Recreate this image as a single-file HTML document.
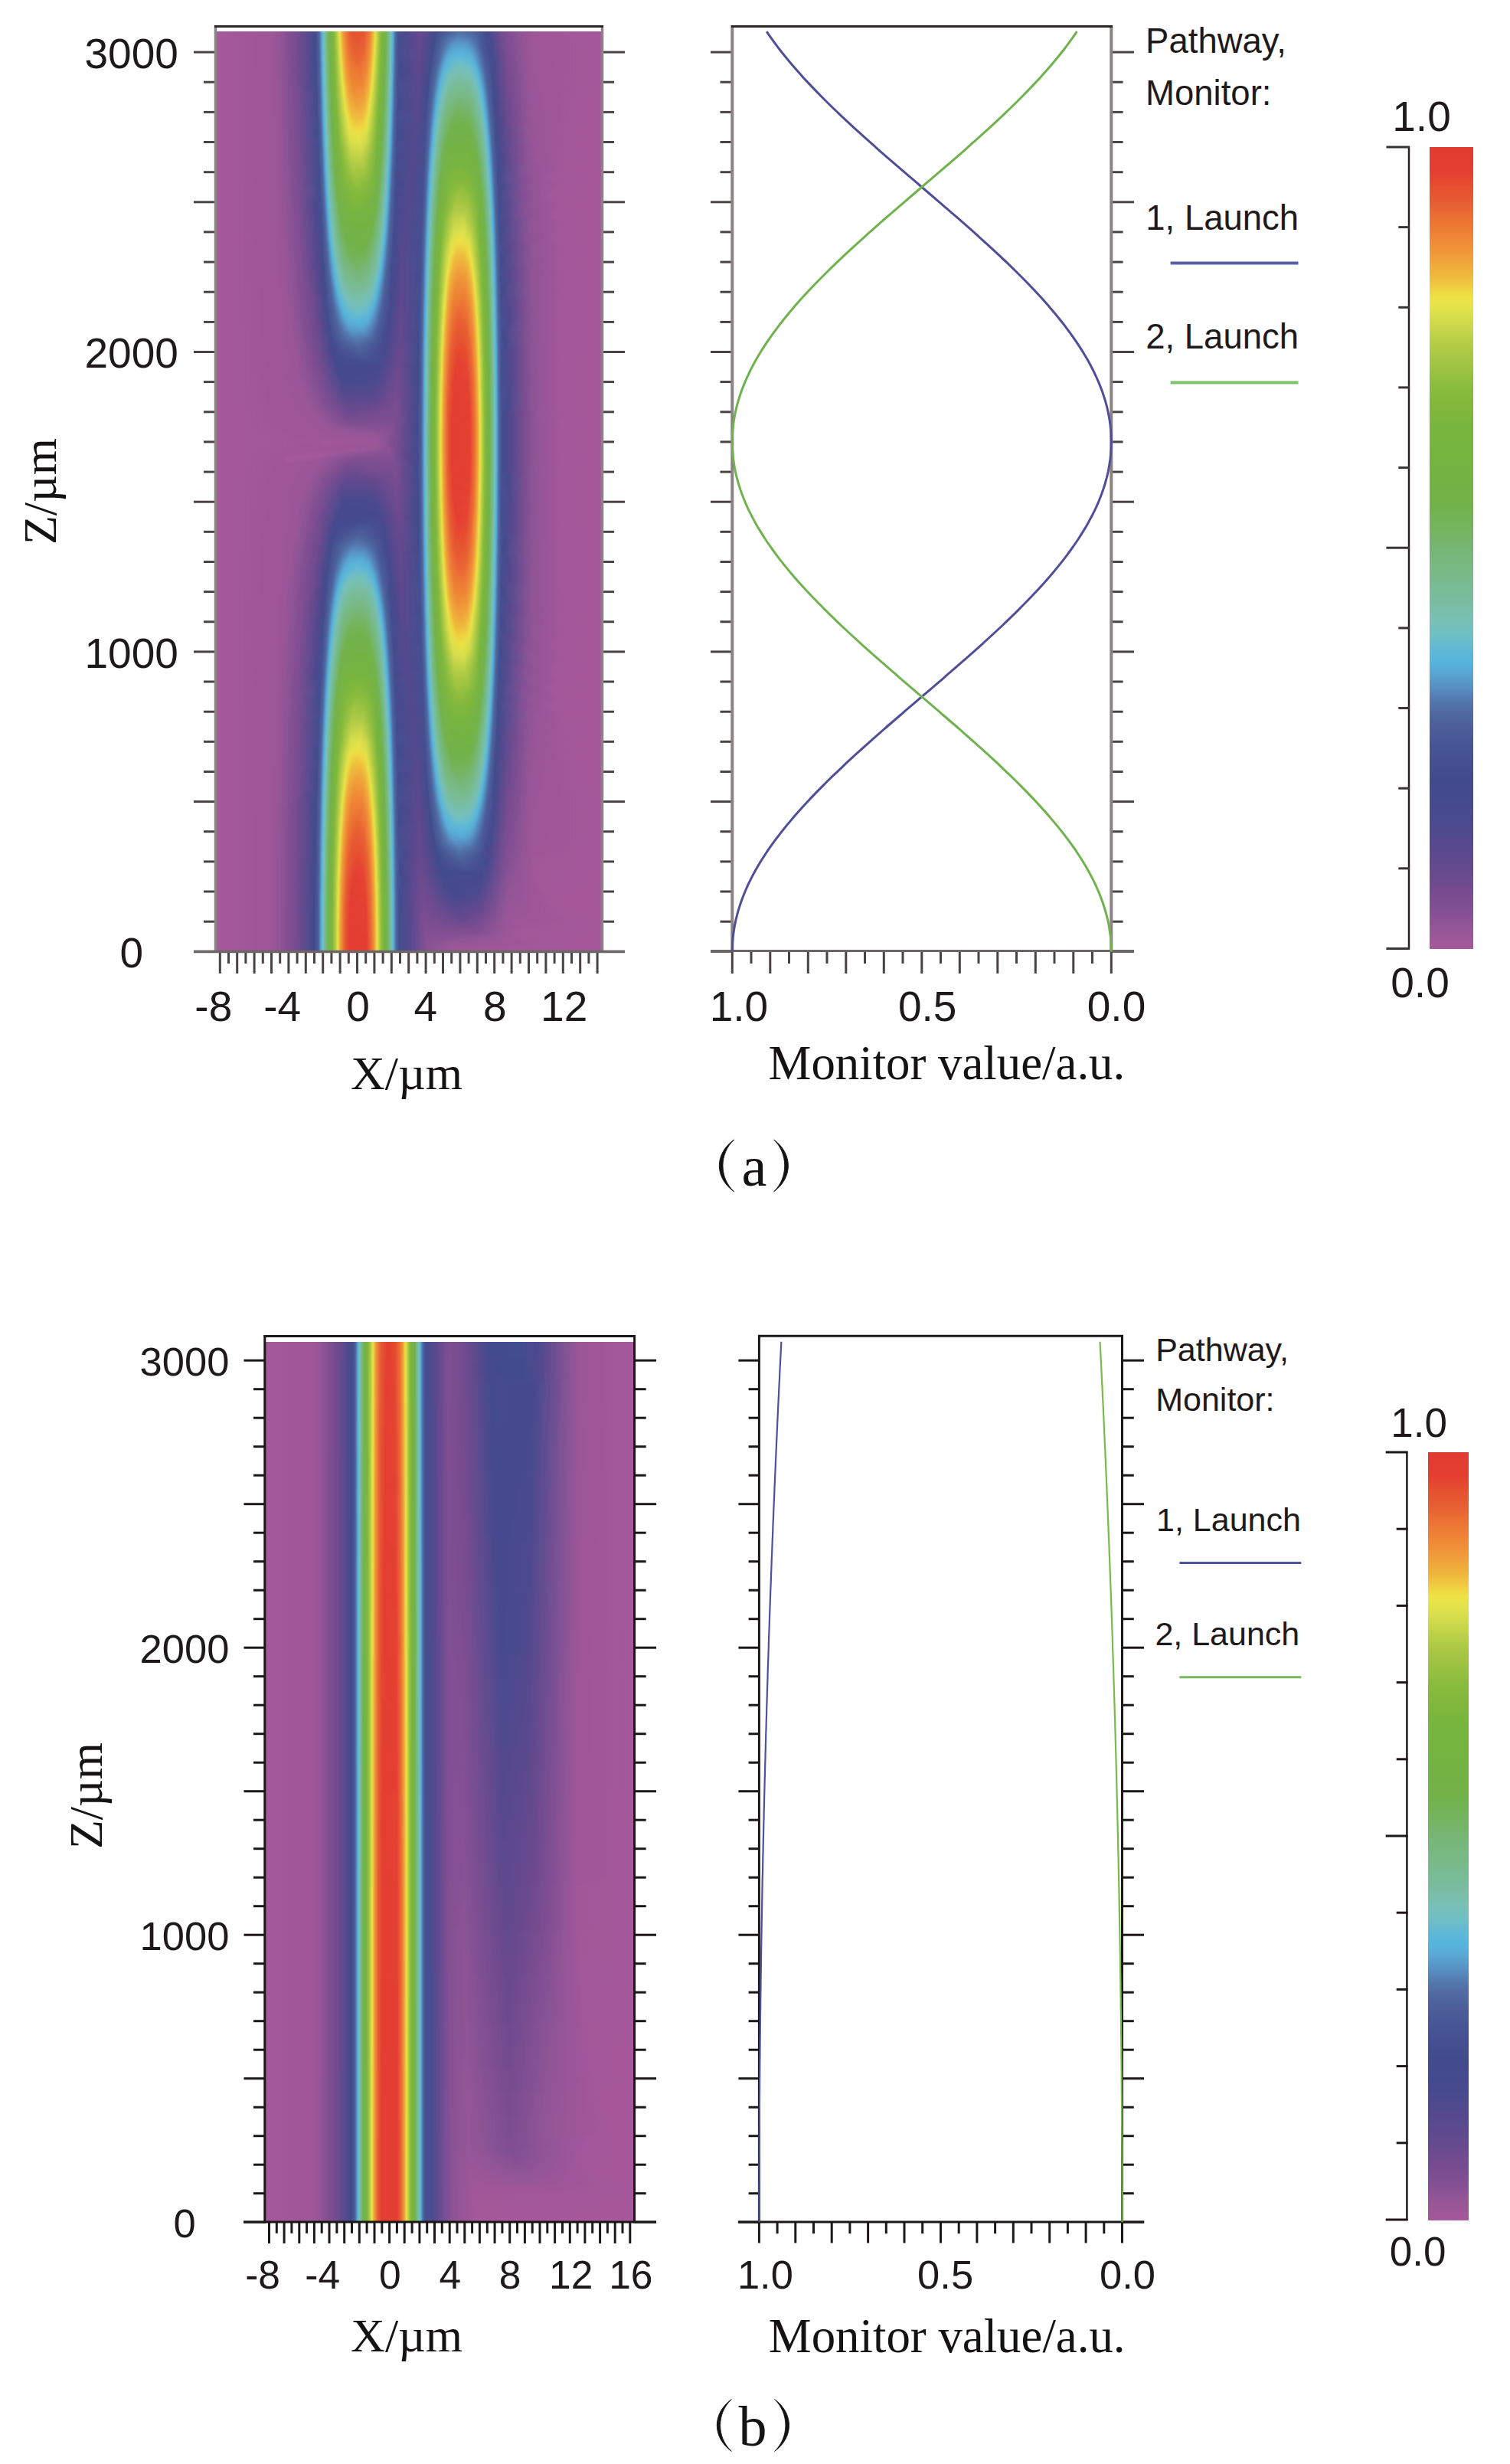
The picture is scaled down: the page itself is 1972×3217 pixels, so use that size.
<!DOCTYPE html>
<html><head><meta charset="utf-8"><style>
html,body{margin:0;padding:0;background:#fff;}
body{width:1972px;height:3217px;position:relative;overflow:hidden;}
.hm{position:absolute;overflow:hidden;}
.hm i{position:absolute;left:0;width:100%;display:block;}
.hmi{position:absolute;left:0;top:-10px;width:100%;filter:url(#vb);}
.cb{position:absolute;}
svg{position:absolute;left:0;top:0;}
</style></head><body>
<svg width="0" height="0" style="position:absolute"><filter id="vb" x="-2%" y="-2%" width="104%" height="104%"><feGaussianBlur stdDeviation="0.6 3"/></filter></svg>
<div class="hm" style="left:281px;top:41px;width:505px;height:1202px"><div class="hmi" style="height:1222px">
<i style="top:0px;height:4px;background:linear-gradient(90deg,#a6589b 0,#9d5798 76px,#764c90 106px,#414b8c 131px,#4c5d99 135px,#5379af 137px,#59abd7 139px,#5cb7d8 140px,#78c0b6 142px,#72b248 149px,#7cb63c 154px,#a8c743 158px,#e8e347 162px,#f09338 167px,#e65831 175px,#e54730 186px,#e65931 197px,#ef8d37 204px,#efc73f 208px,#eede44 209px,#d4db4b 211px,#88bb3c 216px,#74b43f 220px,#72b24b 223px,#74bfbd 230px,#57b5dd 232px,#5272a8 235px,#475495 238px,#454a8e 245px,#694a8e 268px,#424b8c 290px,#4e619c 323px,#454a8f 355px,#804f92 379px,#a05899 415px,#a6589b 504px)"></i>
<i style="top:4px;height:4px;background:linear-gradient(90deg,#a6589b 0,#9d5798 76px,#764c90 106px,#414b8c 131px,#4c5d99 135px,#5378ae 137px,#59aad6 139px,#5bb7d9 140px,#78c0b7 142px,#72b248 149px,#7bb63c 154px,#99c141 157px,#e6e248 162px,#efc23e 164px,#ef8b37 168px,#e65a31 175px,#e54a2f 187px,#e76032 198px,#f09b3a 205px,#f0ca40 208px,#ede245 209px,#bed248 212px,#80b73b 217px,#72b24d 223px,#74bfbd 230px,#57b5dd 232px,#5171a8 235px,#475494 238px,#464a8f 246px,#684a8e 268px,#424b8c 289px,#4f67a0 320px,#464a8f 356px,#804f92 379px,#a05899 415px,#a6589b 504px)"></i>
<i style="top:8px;height:3px;background:linear-gradient(90deg,#a6589b 0,#9d5798 76px,#764c90 106px,#414b8c 131px,#4c5c99 135px,#5377ad 137px,#59a9d5 139px,#5ab7da 140px,#77c0b8 142px,#72b249 149px,#7bb63c 154px,#98c140 157px,#e4e249 162px,#eedc43 163px,#f0a53b 166px,#eb6d34 172px,#e6522f 179px,#e65230 193px,#ea6933 199px,#f09d3a 205px,#ece346 209px,#adc944 213px,#7fb73c 217px,#72b24e 223px,#73bfbe 230px,#56b5de 232px,#5170a7 235px,#465494 238px,#484a8f 247px,#67498d 268px,#424b8c 288px,#516ea5 319px,#4b5b98 340px,#454a8e 356px,#7f4f92 379px,#9f5799 415px,#a6589b 504px)"></i>
<i style="top:11px;height:3px;background:linear-gradient(90deg,#a6589b 0,#9d5798 76px,#774c90 106px,#414b8c 131px,#4f679f 136px,#5790c3 138px,#59a8d5 139px,#5ab6da 140px,#77c0b9 142px,#72b249 149px,#7ab63c 154px,#96c040 157px,#e2e249 162px,#eedf44 163px,#f0a73b 166px,#ec7034 172px,#e65530 178px,#e6522f 192px,#eb6b34 199px,#f09f3b 205px,#eae346 209px,#9fc342 214px,#77b53d 218px,#73b34f 223px,#73bfbf 230px,#56b4dd 232px,#5170a6 235px,#465394 238px,#484a8f 247px,#66498d 268px,#414b8c 288px,#5275ab 318px,#4f669f 336px,#444a8e 356px,#7f4f92 380px,#9f5799 415px,#a6589b 504px)"></i>
<i style="top:14px;height:2px;background:linear-gradient(90deg,#a6589b 0,#9d5798 76px,#774c90 106px,#414b8c 131px,#4f669f 136px,#578fc2 138px,#5ab6da 140px,#76c0b9 142px,#72b249 149px,#7ab63d 154px,#96c040 157px,#e1e24a 162px,#ede145 163px,#efa93b 166px,#ec7134 172px,#e65430 179px,#e65731 194px,#ed7a35 201px,#efaf3c 206px,#e9e347 209px,#9ec342 214px,#77b53d 218px,#73b34f 223px,#79bfaf 229px,#56b4dd 232px,#516fa6 235px,#445091 239px,#53498e 252px,#65498d 268px,#414b8c 287px,#5379af 317px,#506ba2 335px,#444a8e 356px,#7f4f92 380px,#9f5799 415px,#a6589b 504px)"></i>
<i style="top:16px;height:2px;background:linear-gradient(90deg,#a6589b 0,#9d5798 76px,#774c90 106px,#414b8c 131px,#4f669f 136px,#578ec2 138px,#59b6db 140px,#76c0ba 142px,#72b24a 149px,#81b83b 155px,#bfd248 160px,#ede345 163px,#efaa3b 166px,#ec7234 172px,#e65530 179px,#e65831 194px,#ee8335 202px,#efc13e 207px,#e8e347 209px,#9dc342 214px,#77b53d 218px,#73b350 223px,#79bfaf 229px,#57b3dd 232px,#516fa6 235px,#445091 239px,#53498e 252px,#65498d 268px,#414b8c 287px,#5580b5 318px,#5171a8 334px,#434b8d 355px,#6f4a8e 372px,#9d5798 410px,#a6589b 504px)"></i>
<i style="top:18px;height:2px;background:linear-gradient(90deg,#a6589b 0,#9d5798 76px,#774c90 106px,#414b8c 131px,#4f669f 136px,#578ec1 138px,#59b6db 140px,#76c0ba 142px,#72b24a 149px,#80b83b 155px,#bdd248 160px,#ece345 163px,#f09f3a 167px,#eb6d34 173px,#e65530 180px,#e65931 194px,#ee8436 202px,#efc23e 207px,#e7e347 209px,#85b93b 216px,#74b440 220px,#73b351 223px,#79bfb0 229px,#57b3dc 232px,#516fa5 235px,#445091 239px,#55498e 253px,#64498d 268px,#424b8c 286px,#5378ae 308px,#5686bb 323px,#4f68a0 339px,#434b8d 356px,#7e4e92 380px,#9f5799 415px,#a6589b 504px)"></i>
<i style="top:20px;height:2px;background:linear-gradient(90deg,#a6589b 0,#9d5798 76px,#774c90 106px,#424b8c 131px,#4f669f 136px,#578dc1 138px,#59b6db 140px,#76c0bb 142px,#72b24b 149px,#80b73b 155px,#bcd148 160px,#ebe346 163px,#f0a03b 167px,#eb6e34 173px,#e65630 180px,#e65a31 194px,#ef8636 202px,#efc43e 207px,#eed943 208px,#e6e248 209px,#84b93b 216px,#74b440 220px,#73b351 223px,#79bfb0 229px,#61b9d3 231px,#57b2dc 232px,#516ea5 235px,#445091 239px,#55498e 253px,#64498d 268px,#414b8c 286px,#5273a9 304px,#578cc0 317px,#5580b5 332px,#444f90 351px,#4e498e 362px,#7c4e91 379px,#9f5799 415px,#a6589b 504px)"></i>
<i style="top:22px;height:2px;background:linear-gradient(90deg,#a6589b 0,#9d5798 76px,#774c90 106px,#424b8c 131px,#4f659e 136px,#578cc0 138px,#58b6dc 140px,#75c0bb 142px,#72b24c 149px,#80b73b 155px,#bbd048 160px,#eae346 163px,#f09639 168px,#e76032 176px,#e65430 189px,#e96733 197px,#f09b3a 204px,#efc63f 207px,#eedc43 208px,#e5e248 209px,#84b93b 216px,#74b440 220px,#73b352 223px,#79bfb1 229px,#60b9d4 231px,#57b1db 232px,#516ea4 235px,#444f90 239px,#55498e 253px,#63498d 268px,#414b8c 286px,#5274aa 303px,#5891c4 315px,#5689bd 331px,#495796 347px,#454a8f 359px,#7c4e91 379px,#9e5799 414px,#a6589b 504px)"></i>
<i style="top:24px;height:2px;background:linear-gradient(90deg,#a6589b 0,#9d5798 76px,#774c90 106px,#424b8c 131px,#4f659e 136px,#578cc0 138px,#58b6dc 140px,#75c0bc 142px,#72b24c 149px,#7fb73c 155px,#bad047 160px,#e8e347 163px,#f09839 168px,#e96633 175px,#e65530 185px,#e86333 196px,#f09138 203px,#f0c83f 207px,#eede44 208px,#d6dc4b 210px,#8cbc3d 215px,#75b43e 219px,#73b353 223px,#79bfb2 229px,#5fb9d5 231px,#57b1db 232px,#516da4 235px,#444f90 239px,#56498e 254px,#63498d 268px,#414b8c 285px,#5170a7 301px,#5895c6 313px,#5891c3 330px,#4a5997 347px,#454a8e 359px,#7b4e91 379px,#9e5799 414px,#a6589b 504px)"></i>
<i style="top:26px;height:2px;background:linear-gradient(90deg,#a6589b 0,#9d5798 76px,#774c90 106px,#424b8c 131px,#4f659e 136px,#578bbf 138px,#58b6dc 140px,#75c0bc 142px,#72b24d 149px,#7fb73c 155px,#b9cf47 160px,#e7e347 163px,#f09939 168px,#e96833 175px,#e65630 184px,#e76132 195px,#f09338 203px,#f0ca40 207px,#ede044 208px,#d4db4b 210px,#8bbc3d 215px,#75b43e 219px,#72b248 222px,#79c0b2 229px,#5fb8d5 231px,#57b0da 232px,#506da4 235px,#444f90 239px,#56498e 254px,#62498d 268px,#414b8c 285px,#506ca3 299px,#5898c8 311px,#599aca 328px,#537ab0 338px,#445091 352px,#4c4a8f 362px,#7b4d91 379px,#9e5799 414px,#a6589b 504px)"></i>
<i style="top:28px;height:2px;background:linear-gradient(90deg,#a6589b 0,#9d5798 76px,#774c90 106px,#424b8c 131px,#4e649e 136px,#578abe 138px,#57b5dd 140px,#74bfbd 142px,#72b24e 149px,#7eb73c 155px,#b8cf47 160px,#e6e248 163px,#efc53f 165px,#ef8836 170px,#e65b32 179px,#e75f32 194px,#ef8b37 202px,#eeba3c 206px,#ede245 208px,#b2cb46 212px,#83b83b 216px,#73b344 221px,#73b354 223px,#79c0b3 229px,#5eb8d6 231px,#57b0da 232px,#506ca3 235px,#444f90 239px,#58498e 255px,#62498d 268px,#414c8d 285px,#5170a6 299px,#599bcb 310px,#59a1cf 327px,#5580b5 338px,#4a5997 348px,#454a8f 360px,#7a4d91 379px,#9e5799 414px,#a6589b 504px)"></i>
<i style="top:30px;height:2px;background:linear-gradient(90deg,#a6589b 0,#9d5798 76px,#774c90 106px,#424b8c 131px,#4e649e 136px,#5689be 138px,#57b5dd 140px,#74bfbd 142px,#73b34e 149px,#7eb73c 155px,#b6ce47 160px,#e5e248 163px,#eedc43 164px,#efa83b 167px,#ed7534 173px,#e65a31 181px,#e76032 194px,#ef8d37 202px,#eebc3d 206px,#ece345 208px,#b1cb45 212px,#82b83b 216px,#73b344 221px,#73b355 223px,#79c0b3 229px,#5eb8d6 231px,#58afda 232px,#506ca3 235px,#444f90 239px,#5b498e 257px,#60498d 269px,#414b8c 284px,#506aa1 297px,#599fce 309px,#5aa7d4 326px,#578bbf 337px,#4c5d99 347px,#444a8e 359px,#7b4e91 380px,#9e5799 415px,#a6589b 504px)"></i>
<i style="top:32px;height:2px;background:linear-gradient(90deg,#a6589b 0,#9d5798 76px,#774c90 106px,#424b8c 131px,#4e649d 136px,#5689bd 138px,#56b5de 140px,#74bfbe 142px,#73b34f 149px,#7db73c 155px,#a8c743 159px,#e4e249 163px,#eede44 164px,#efaa3b 167px,#ed7634 173px,#e65b32 181px,#e86233 194px,#f08e37 202px,#efbe3d 206px,#ebe346 208px,#b0ca45 212px,#82b83b 216px,#73b345 221px,#73b355 223px,#79c0b4 229px,#5db8d7 231px,#58aed9 232px,#506ba2 235px,#444f90 239px,#62498d 267px,#414b8c 284px,#516da4 297px,#59a1d0 308px,#58add8 324px,#5899c9 335px,#4d5e9a 347px,#444a8e 359px,#7b4d91 380px,#9e5798 414px,#a6589b 504px)"></i>
<i style="top:34px;height:2px;background:linear-gradient(90deg,#a6589b 0,#9d5798 76px,#774c90 106px,#424b8d 131px,#4e639d 136px,#5688bc 138px,#56b5de 140px,#73bfbf 142px,#73b350 149px,#7db73c 155px,#a7c643 159px,#e2e249 163px,#ede044 164px,#efac3b 167px,#ed7834 173px,#e65b32 182px,#e86333 194px,#f09038 202px,#efc03e 206px,#eae346 208px,#a2c443 213px,#7ab63c 217px,#72b248 222px,#79c0b5 229px,#5db8d7 231px,#58aed9 232px,#506ba2 235px,#444f90 239px,#62498d 267px,#414c8d 284px,#506ca3 296px,#5aa4d1 307px,#57b1db 323px,#599ecd 335px,#4c5d99 348px,#454a8e 360px,#794d90 379px,#9e5798 414px,#a6589b 504px)"></i>
<i style="top:36px;height:2px;background:linear-gradient(90deg,#a6589b 0,#9d5798 76px,#774c90 106px,#424b8d 131px,#4e639d 136px,#5687bb 138px,#56b5de 140px,#79bfae 143px,#72b247 150px,#7cb63c 155px,#a6c643 159px,#e1e24a 163px,#ede345 164px,#efae3c 167px,#ed7935 173px,#e65d32 182px,#e96533 194px,#f09138 202px,#efc33e 206px,#e8e347 208px,#a1c442 213px,#7ab63d 217px,#72b249 222px,#79c0b5 229px,#5db7d7 231px,#58add8 232px,#506ba2 235px,#434f90 239px,#62498d 267px,#414b8c 283px,#506aa1 295px,#5aa6d3 306px,#57b5dd 320px,#5aa7d4 334px,#5171a7 344px,#445091 354px,#4e4a8f 364px,#784d90 379px,#9e5798 414px,#a6589b 504px)"></i>
<i style="top:38px;height:2px;background:linear-gradient(90deg,#a6589b 0,#9d5798 76px,#774c90 106px,#424b8d 131px,#4e639d 136px,#5686bb 138px,#56b4dd 140px,#79bfaf 143px,#72b247 150px,#7cb63c 155px,#a5c543 159px,#e0e24a 163px,#ece345 164px,#f0a33b 168px,#ed7634 174px,#e65d32 183px,#e96733 194px,#f09338 202px,#efc53f 206px,#e7e347 208px,#93bf3f 214px,#76b53e 218px,#72b249 222px,#78c0b6 229px,#5cb7d8 231px,#58add8 232px,#506aa2 235px,#434f90 239px,#61498d 267px,#414b8c 283px,#506da4 295px,#5aa7d4 305px,#58b6dc 315px,#58aed9 333px,#5582b7 342px,#4c5d99 349px,#444a8e 360px,#794d91 380px,#9d5798 414px,#a6589b 504px)"></i>
<i style="top:40px;height:2px;background:linear-gradient(90deg,#a6589b 0,#9d5798 76px,#774c90 106px,#424b8d 131px,#4e629d 136px,#5685ba 138px,#56b3dd 140px,#79bfb0 143px,#72b248 150px,#7cb63c 155px,#a4c543 159px,#dee14a 163px,#eae346 164px,#f09a3a 169px,#ec6e34 176px,#e65e32 186px,#ec7034 196px,#f09e3a 203px,#efc73f 206px,#eedb43 207px,#e6e248 208px,#87ba3c 215px,#74b43f 219px,#72b249 222px,#78c0b7 229px,#5cb7d8 231px,#58acd7 232px,#506aa1 235px,#434f90 239px,#61498d 267px,#414c8d 283px,#506aa2 294px,#5aa8d4 304px,#59b6db 312px,#57afda 334px,#5688bc 342px,#4d5e9a 349px,#454a8e 361px,#774c90 379px,#9d5798 414px,#a6589b 504px)"></i>
<i style="top:42px;height:2px;background:linear-gradient(90deg,#a6589b 0,#9d5798 76px,#784c90 106px,#424b8d 131px,#4e629c 136px,#5584b9 138px,#57b3dc 140px,#79bfb0 143px,#72b248 150px,#7bb63c 155px,#96c040 158px,#dde04a 163px,#e9e346 164px,#f09c3a 169px,#ec7034 176px,#e76032 186px,#ec7234 196px,#f09639 202px,#f0c93f 206px,#eedd44 207px,#d8dd4b 209px,#86ba3c 215px,#74b43f 219px,#72b249 222px,#78c0b7 229px,#5bb7d9 231px,#59abd7 232px,#506aa1 235px,#434f90 239px,#61498d 267px,#424c8d 283px,#516da4 294px,#59a8d5 303px,#59b6db 309px,#58b6dc 332px,#599aca 340px,#4e609b 349px,#444a8e 361px,#784d90 380px,#9d5798 414px,#a6589b 504px)"></i>
<i style="top:44px;height:2px;background:linear-gradient(90deg,#a6589b 0,#9d5798 76px,#784c90 106px,#424b8d 131px,#4e619c 136px,#5583b8 138px,#57b2dc 140px,#72bfc1 142px,#78b983 146px,#72b248 150px,#7bb63c 155px,#a2c443 159px,#e8e347 164px,#f09e3a 169px,#ec7234 176px,#e86233 186px,#ec7334 196px,#f09839 202px,#f0cb40 206px,#ede044 207px,#c6d549 210px,#86ba3c 215px,#74b43f 219px,#72b24a 222px,#77c0b8 229px,#5bb7d9 231px,#59abd6 232px,#5069a1 235px,#434f90 239px,#60498d 267px,#414b8c 282px,#506ba2 293px,#58acd8 303px,#5db8d7 311px,#5cb7d8 331px,#58aed9 337px,#5379af 345px,#475595 353px,#474a8f 363px,#774c90 379px,#9d5798 414px,#a6589b 504px)"></i>
<i style="top:46px;height:2px;background:linear-gradient(90deg,#a6589b 0,#9d5798 76px,#784c90 106px,#424b8d 131px,#4e619c 136px,#5583b8 138px,#57b1db 140px,#71bfc2 142px,#78b983 146px,#72b248 150px,#7ab63c 155px,#a1c442 159px,#e6e248 164px,#efc73f 166px,#f08e37 171px,#e96833 180px,#ea6b33 193px,#f09138 201px,#efbd3d 205px,#ede245 207px,#b5cd46 211px,#7eb73c 216px,#72b24b 222px,#77c0b8 229px,#5bb7d9 231px,#59aad6 232px,#4f69a1 235px,#434f90 239px,#60498d 267px,#414b8c 282px,#4f68a0 292px,#57b0db 303px,#66bbce 324px,#57b2dc 337px,#547eb4 345px,#4c5c99 351px,#454a8e 362px,#764c90 379px,#9d5798 414px,#a6589b 504px)"></i>
<i style="top:48px;height:2px;background:linear-gradient(90deg,#a6589b 0,#9d5798 76px,#784c90 106px,#424b8d 131px,#4e619c 136px,#5582b7 138px,#57b0db 140px,#5fb8d5 141px,#79c0b3 143px,#72b248 150px,#81b83b 156px,#cad74a 162px,#e5e248 164px,#eedd44 165px,#efad3b 168px,#ee7d35 174px,#e96633 184px,#ec7334 195px,#f09b3a 202px,#efd141 206px,#ece345 207px,#b4cc46 211px,#7eb73c 216px,#72b24c 222px,#77c0b9 229px,#5ab7da 231px,#59a9d5 232px,#4f68a0 235px,#414b8c 240px,#61498d 266px,#424c8d 282px,#506aa2 292px,#59acd7 301px,#5cb7d8 306px,#6abdca 322px,#57b2dc 338px,#537ab0 346px,#495796 353px,#464a8f 363px,#764c90 379px,#9d5798 414px,#a6589b 504px)"></i>
<i style="top:50px;height:2px;background:linear-gradient(90deg,#a6589b 0,#9c5798 77px,#754c90 107px,#424c8d 132px,#4e609b 136px,#5581b6 138px,#57b0da 140px,#5eb8d6 141px,#79c0b3 143px,#72b248 150px,#80b83b 156px,#b8cf47 161px,#e4e249 164px,#eddf44 165px,#f0a33b 169px,#ed7634 176px,#e96733 187px,#ed7c35 197px,#efa83b 203px,#eae346 207px,#b3cc46 211px,#7db73c 216px,#72b24d 222px,#76c0ba 229px,#5ab6da 231px,#59a9d5 232px,#5378ae 234px,#485796 237px,#444a8e 243px,#60498d 266px,#424c8d 282px,#4f67a0 291px,#57b0da 301px,#6fbec5 320px,#5db8d7 335px,#57b1db 339px,#5376ac 347px,#465293 355px,#484a8f 364px,#754c90 379px,#9d5798 414px,#a6589b 504px)"></i>
<i style="top:52px;height:3px;background:linear-gradient(90deg,#a6589b 0,#9d5798 77px,#754c90 107px,#424c8d 132px,#4d609b 136px,#547fb5 138px,#58afd9 140px,#5db8d7 141px,#79c0b4 143px,#72b249 150px,#7fb73b 156px,#b6ce47 161px,#ede345 165px,#f0a63b 169px,#ee7c35 175px,#ea6a33 186px,#ee7e35 197px,#efab3b 203px,#e8e347 207px,#98c140 213px,#77b53d 217px,#72b24e 222px,#76c0bb 229px,#59b6db 231px,#5790c3 233px,#4f67a0 235px,#414b8c 240px,#60498d 266px,#414b8c 281px,#506ba2 291px,#57b0db 300px,#72bfc1 316px,#68bccc 333px,#57b2dc 340px,#5274aa 348px,#455192 356px,#4b4a8f 365px,#754b8f 379px,#9d5798 414px,#a6589b 504px)"></i>
<i style="top:55px;height:3px;background:linear-gradient(90deg,#a6589b 0,#9d5798 77px,#764c90 107px,#424c8d 132px,#4d5f9b 136px,#547eb3 138px,#58aed9 140px,#5db8d7 141px,#79c0b6 143px,#72b249 150px,#7fb73c 156px,#b4cd46 161px,#ebe346 165px,#f09f3a 170px,#ed7834 177px,#ec6f34 190px,#ef8b37 199px,#eeba3c 204px,#eedc43 206px,#dadf4a 208px,#8abb3c 214px,#74b440 219px,#73b34f 222px,#75c0bc 229px,#59b6db 231px,#578ec2 233px,#4f679f 235px,#414b8c 240px,#5f498d 266px,#424c8d 281px,#4f69a1 290px,#57b1db 299px,#74bfbd 313px,#70bfc4 332px,#57b3dc 341px,#4d5f9b 352px,#454a8e 363px,#754c90 380px,#9d5798 414px,#a6589b 504px)"></i>
<i style="top:58px;height:3px;background:linear-gradient(90deg,#a6589b 0,#9d5798 77px,#764c90 107px,#414c8d 132px,#4d5f9a 136px,#547db2 138px,#58acd8 140px,#5cb7d8 141px,#78c0b7 143px,#72b24b 150px,#7eb73c 156px,#b2cb46 161px,#e8e347 165px,#f0a23b 170px,#ed7a35 177px,#ec7134 190px,#ef8836 198px,#efbd3d 204px,#ede044 206px,#cad74a 209px,#82b83b 215px,#73b344 220px,#73b350 222px,#74bfbd 229px,#58b6dc 231px,#578dc1 233px,#4f669f 235px,#414b8c 240px,#5f498d 266px,#414b8c 280px,#4f669f 289px,#57b1db 298px,#76c0ba 311px,#74bfbd 331px,#57b3dc 342px,#4e629d 352px,#434b8d 362px,#764c90 381px,#9c5798 414px,#a6589b 504px)"></i>
<i style="top:61px;height:3px;background:linear-gradient(90deg,#a6589b 0,#9d5798 77px,#764c90 107px,#414c8d 132px,#4d5e9a 136px,#547bb1 138px,#59abd7 140px,#5bb7d9 141px,#77c0b8 143px,#72b24c 150px,#7db73c 156px,#a4c543 160px,#e6e248 165px,#eedc44 166px,#f0a53b 170px,#ee7c35 177px,#ec7434 190px,#ef8b37 198px,#eeb43c 203px,#ece345 206px,#b8cf47 210px,#81b83b 215px,#72b248 221px,#74bfbe 229px,#57b5dd 231px,#4f669f 235px,#414b8c 240px,#5e498d 266px,#414c8d 280px,#5069a1 289px,#57b0da 297px,#6bbdc9 303px,#79bfb1 316px,#75c0bc 333px,#57b2dc 343px,#4d5f9b 353px,#444a8e 363px,#744b8f 380px,#9c5798 414px,#a6589b 504px)"></i>
<i style="top:64px;height:3px;background:linear-gradient(90deg,#a6589b 0,#9d5798 77px,#764c90 107px,#414b8c 132px,#4d5e9a 136px,#537ab0 138px,#59aad6 140px,#5bb7d9 141px,#77c0b9 143px,#72b24d 150px,#7cb63c 156px,#a2c543 160px,#e4e249 165px,#ede145 166px,#efa93b 170px,#ee7f35 177px,#ed7634 190px,#ef8d37 198px,#eeb73c 203px,#eae346 206px,#a9c744 211px,#79b63d 216px,#72b248 221px,#73bfbf 229px,#57b5dd 231px,#4f659e 235px,#414b8c 240px,#5e498d 266px,#424c8d 280px,#4f669f 288px,#56b5de 297px,#76c0ba 306px,#79beaa 321px,#75c0bc 335px,#57b1db 344px,#4e629d 353px,#424b8d 362px,#754c8f 381px,#9c5798 414px,#a6589b 504px)"></i>
<i style="top:67px;height:3px;background:linear-gradient(90deg,#a6589b 0,#9d5798 77px,#764c90 107px,#414b8c 132px,#4f69a0 137px,#59a9d5 140px,#5ab7da 141px,#76c0ba 143px,#73b34f 150px,#7bb63c 156px,#a0c442 160px,#e2e249 165px,#ece345 166px,#efac3b 170px,#ee8235 177px,#ed7935 190px,#f09038 198px,#eebb3d 203px,#e8e347 206px,#9cc241 212px,#79b53d 216px,#72b248 221px,#79bfaf 228px,#56b5de 231px,#5272a9 234px,#475595 237px,#454a8e 243px,#5d498d 266px,#414b8c 279px,#5069a1 288px,#56b4dd 296px,#79c0b6 306px,#78bda5 320px,#79c0b5 334px,#64bad0 341px,#57b0da 345px,#4f659e 353px,#424b8d 362px,#764c90 382px,#9c5798 415px,#a6589b 504px)"></i>
<i style="top:70px;height:3px;background:linear-gradient(90deg,#a6589b 0,#9d5798 77px,#764c90 107px,#414b8c 132px,#4f68a0 137px,#5790c3 139px,#59b6db 141px,#76c0bb 143px,#72b247 151px,#81b83b 157px,#c4d449 163px,#e9e346 166px,#f0a63b 171px,#ee8135 178px,#ee7e35 192px,#f0a13b 200px,#f0cd40 204px,#eedf44 205px,#ced84a 208px,#85b93b 214px,#74b43f 218px,#72b249 221px,#79bfb1 228px,#56b4dd 231px,#5171a8 234px,#475595 237px,#454a8f 244px,#5e498d 265px,#414c8d 279px,#4f669f 287px,#57b2dc 295px,#79c0b4 305px,#78bc9f 318px,#79bfac 333px,#6abdca 341px,#56b5de 345px,#4e629c 354px,#434b8d 363px,#744b8f 381px,#9c5798 414px,#a6589b 504px)"></i>
<i style="top:73px;height:3px;background:linear-gradient(90deg,#a6589b 0,#9d5798 77px,#764c90 107px,#414b8c 132px,#4f67a0 137px,#578fc2 139px,#59b6db 141px,#75c0bc 143px,#72b248 151px,#80b83b 157px,#c1d349 163px,#e7e347 166px,#f0a13b 172px,#ee8035 180px,#ee8335 193px,#f0a43b 200px,#efd241 204px,#ede345 205px,#afca45 210px,#7eb73c 215px,#72b249 221px,#79c0b2 228px,#57b3dc 231px,#5170a7 234px,#445091 238px,#5c498e 266px,#424c8d 279px,#5069a1 287px,#57b0da 294px,#67bbcd 298px,#79bfae 305px,#78bc9a 318px,#78bea7 333px,#6fbfc5 341px,#57b3dc 346px,#4e649e 354px,#414b8c 362px,#64498d 374px,#9b5798 412px,#a6589b 493px,#a6589b 504px)"></i>
<i style="top:76px;height:3px;background:linear-gradient(90deg,#a6589b 0,#9d5798 77px,#764c90 107px,#414b8c 132px,#4f669f 137px,#578dc1 139px,#58b6dc 141px,#74bfbd 143px,#72b248 151px,#7fb73b 157px,#bed248 163px,#ede145 167px,#efad3b 171px,#ef8736 178px,#ee8235 191px,#f0a03b 199px,#f0c73f 203px,#eae346 205px,#a2c443 211px,#7db73c 215px,#72b24a 221px,#79c0b3 228px,#5fb8d5 230px,#57b1db 231px,#516fa6 234px,#445091 238px,#5c498e 266px,#414b8c 278px,#4f659e 286px,#56b5de 294px,#79c0b5 302px,#78bc98 313px,#78bc9f 332px,#72bfc0 341px,#57b6dd 346px,#5685b9 351px,#4e619c 355px,#434b8d 364px,#724b8f 381px,#9c5798 414px,#a6589b 502px,#a6589b 504px)"></i>
<i style="top:79px;height:3px;background:linear-gradient(90deg,#a6589b 0,#9d5798 77px,#794d91 106px,#414b8c 132px,#4f669f 137px,#578cc0 139px,#57b5dd 141px,#79bfae 144px,#72b248 151px,#7fb73c 157px,#bbd148 163px,#ece346 167px,#efa83b 172px,#ef8836 179px,#ef8736 192px,#f0a33b 199px,#f0cc40 203px,#e8e347 205px,#a0c442 211px,#7cb63c 215px,#72b24b 221px,#79c0b5 228px,#5eb8d6 230px,#57b0da 231px,#516ea5 234px,#445091 238px,#5c498e 266px,#414c8d 278px,#4f68a0 286px,#57b2dc 293px,#79c0b4 301px,#78bb96 311px,#78bc98 331px,#72bfc1 342px,#56b5de 347px,#4e639d 355px,#424b8c 363px,#734b8f 382px,#9c5798 415px,#a6589b 504px)"></i>
<i style="top:82px;height:3px;background:linear-gradient(90deg,#a6589b 0,#9d5798 77px,#794d91 106px,#414b8c 132px,#4f659e 137px,#578abe 139px,#56b5de 141px,#79bfaf 144px,#72b249 151px,#7eb73c 157px,#adc944 162px,#e9e347 167px,#f0a43b 173px,#ef8836 181px,#f08e37 194px,#eeb73c 201px,#ede044 204px,#c1d349 208px,#82b83b 214px,#73b343 219px,#72b24d 221px,#79c0b6 228px,#5db8d7 230px,#58afd9 231px,#516da4 234px,#445091 238px,#5b498e 266px,#424c8d 278px,#506ba2 286px,#57b5dd 293px,#79c0b5 300px,#78bb93 310px,#78bb92 330px,#79c0b3 340px,#64bad0 345px,#57b1db 348px,#4f669f 355px,#414b8c 363px,#744b8f 383px,#9c5798 415px,#a6589b 504px)"></i>
<i style="top:85px;height:3px;background:linear-gradient(90deg,#a6589b 0,#9d5798 77px,#794d91 106px,#414b8c 132px,#4e649e 137px,#5688bd 139px,#56b4de 141px,#79bfb1 144px,#72b249 151px,#7db73c 157px,#a0c442 161px,#e6e248 167px,#f0cf41 169px,#f0a13b 174px,#ef8a37 182px,#f09238 194px,#eebc3d 201px,#ece345 204px,#a7c643 210px,#7ab63c 215px,#73b34e 221px,#78c0b7 228px,#5cb7d8 230px,#58add8 231px,#506ca3 234px,#445091 238px,#5b498e 266px,#414b8c 277px,#4f679f 285px,#57b3dc 292px,#79c0b5 299px,#78bb92 308px,#79ba8b 327px,#78bda4 338px,#70bfc4 344px,#57b5dd 348px,#4e629c 356px,#444a8e 365px,#724b8f 382px,#9b5798 414px,#a6589b 496px,#a6589b 504px)"></i>
<i style="top:88px;height:3px;background:linear-gradient(90deg,#a6589b 0,#9d5798 77px,#794d91 106px,#424d8e 133px,#4e649d 137px,#5687bb 139px,#57b3dd 141px,#79c0b2 144px,#72b24a 151px,#7cb63c 157px,#a9c744 162px,#e4e249 167px,#ede345 168px,#efac3b 173px,#f08e37 181px,#f09539 194px,#eeb63c 200px,#e9e346 204px,#9ac141 211px,#76b53e 216px,#73b350 221px,#77c0b8 228px,#5cb7d8 230px,#58acd8 231px,#506ba2 234px,#445091 238px,#5a498e 266px,#414b8c 277px,#5069a1 285px,#58aed9 291px,#5cb7d8 293px,#78c0b6 298px,#79bb90 307px,#79b985 325px,#78bc9e 338px,#73bfbf 344px,#57b2dc 349px,#4e649e 356px,#424b8d 364px,#734b8f 383px,#9b5798 415px,#a6589b 500px,#a6589b 504px)"></i>
<i style="top:91px;height:3px;background:linear-gradient(90deg,#a6589b 0,#9d5798 77px,#7a4d91 106px,#424d8e 133px,#4e639d 137px,#5685ba 139px,#57b2dc 141px,#71bfc3 143px,#78bb93 146px,#72b24c 151px,#7bb63c 157px,#b2cb45 163px,#eae346 168px,#efa93b 174px,#f09038 182px,#f09939 194px,#eeba3c 200px,#ede044 203px,#d3db4b 206px,#85b93b 213px,#74b441 218px,#73b351 221px,#76c0b9 228px,#5bb7d9 230px,#59abd7 231px,#506ba2 234px,#444f90 238px,#5b498e 265px,#424c8d 277px,#4f659e 284px,#57b3dd 291px,#79bfb2 298px,#79ba8c 307px,#78b982 325px,#78bc9a 338px,#71bfc2 345px,#57b5dd 349px,#4f679f 356px,#424c8d 363px,#55498e 371px,#774c90 386px,#9b5798 415px,#a6589b 498px,#a6589b 504px)"></i>
<i style="top:94px;height:3px;background:linear-gradient(90deg,#a6589b 0,#9d5798 77px,#7a4d91 106px,#424d8e 133px,#4e629c 137px,#5583b8 139px,#57b0db 141px,#5eb8d6 142px,#79c0b5 144px,#72b24d 151px,#80b73b 158px,#c8d64a 165px,#e7e347 168px,#efd141 170px,#f0a73b 175px,#f09238 184px,#f0a03b 195px,#f0c93f 201px,#ece345 203px,#b6ce46 208px,#84b93b 213px,#74b43f 217px,#73b353 221px,#76c0bb 228px,#5ab7da 230px,#59aad6 231px,#506aa1 234px,#444f90 238px,#5b498e 265px,#424c8d 277px,#4f67a0 284px,#58aed9 290px,#5db8d7 292px,#79c0b3 297px,#79ba8b 306px,#77b77d 323px,#78bb92 337px,#74bfbd 345px,#57b1db 350px,#4e629c 357px,#434b8d 365px,#724b8f 383px,#9b5798 415px,#a6589b 496px,#a6589b 504px)"></i>
<i style="top:97px;height:3px;background:linear-gradient(90deg,#a6589b 0,#9d5798 77px,#7a4d91 106px,#424d8e 133px,#4e619c 137px,#5581b6 139px,#58afd9 141px,#5db8d7 142px,#78c0b6 144px,#73b34f 151px,#7fb73c 158px,#b8ce47 164px,#ece345 169px,#efb13c 174px,#f09739 182px,#f0a03b 194px,#efc43e 200px,#e9e346 203px,#9ec342 210px,#77b53d 215px,#72b248 220px,#75c0bc 228px,#59b6db 230px,#5891c4 232px,#5069a1 234px,#424c8d 239px,#5a498e 265px,#424d8e 277px,#506aa1 284px,#57b2dc 290px,#79c0b5 296px,#79ba8c 304px,#76b779 319px,#79ba88 335px,#79c0b3 344px,#57b5dd 350px,#4e649e 357px,#424b8d 365px,#714b8f 383px,#9b5798 415px,#a6589b 494px,#a6589b 504px)"></i>
<i style="top:100px;height:3px;background:linear-gradient(90deg,#a6589b 0,#9d5798 77px,#7a4d91 106px,#424d8e 133px,#4e609c 137px,#5580b5 139px,#58add8 141px,#5cb7d8 142px,#78c0b7 144px,#72b248 152px,#7eb73c 158px,#b5cd46 164px,#eae346 169px,#efaf3c 175px,#f09a39 184px,#f0a73b 195px,#f0c93f 200px,#ede145 202px,#c8d64a 206px,#82b83b 213px,#73b342 218px,#72b249 220px,#74bfbd 228px,#58b6dc 230px,#5790c3 232px,#4f68a0 234px,#424c8d 239px,#5a498e 264px,#434e8f 277px,#4f659e 283px,#5894c6 287px,#57b5dd 290px,#79bfb1 296px,#79b986 305px,#76b675 322px,#79ba8a 337px,#75c0bc 346px,#59b6db 350px,#5898c9 353px,#4f679f 357px,#414c8d 364px,#5a498e 373px,#975697 409px,#a6589b 470px,#a6589b 504px)"></i>
<i style="top:103px;height:3px;background:linear-gradient(90deg,#a6589b 0,#9d5798 77px,#7a4d91 106px,#424c8d 133px,#4d609b 137px,#547eb3 139px,#58acd7 141px,#5bb7d9 142px,#77c0b9 144px,#72b248 152px,#7db73c 158px,#a8c743 163px,#e7e347 169px,#efd542 171px,#efae3c 176px,#f09d3a 185px,#efab3b 195px,#f0ce40 200px,#ebe346 202px,#aec945 208px,#7bb63c 214px,#72b24a 220px,#73bfbe 228px,#58b6dc 230px,#578ec1 232px,#4f67a0 234px,#414c8d 239px,#5a498e 264px,#424c8d 276px,#4f67a0 283px,#57b1db 289px,#79c0b4 295px,#79ba88 303px,#75b570 319px,#78b881 335px,#79beaa 344px,#6dbec7 348px,#56b5de 351px,#5069a1 357px,#424c8d 364px,#56498e 372px,#814f92 394px,#9c5798 418px,#a6589b 504px)"></i>
<i style="top:106px;height:3px;background:linear-gradient(90deg,#a6589b 0,#9d5798 77px,#7a4d91 106px,#424c8d 133px,#4d5f9b 137px,#547cb1 139px,#59abd6 141px,#5bb7d9 142px,#76c0ba 144px,#72b248 152px,#7cb63c 158px,#bad047 165px,#ebe346 170px,#efb23c 176px,#f0a13b 186px,#efb03c 195px,#efd342 200px,#e8e347 202px,#a2c443 209px,#7ab63d 214px,#72b24b 220px,#79bfb0 227px,#57b5dd 230px,#4f679f 234px,#414c8d 239px,#59498e 264px,#424c8d 276px,#5069a1 283px,#56b5de 289px,#78c0b7 294px,#79ba88 302px,#75b56b 317px,#76b677 332px,#78bc9e 343px,#71bfc3 348px,#58b6dc 351px,#5686ba 355px,#4e649e 358px,#414b8c 365px,#714b8f 384px,#9b5797 415px,#a6589b 490px,#a6589b 504px)"></i>
<i style="top:109px;height:3px;background:linear-gradient(90deg,#a6589b 0,#9d5798 77px,#7a4d91 106px,#424c8d 133px,#506aa1 138px,#59a9d5 141px,#5ab6da 142px,#75c0bb 144px,#72b249 152px,#7bb63c 158px,#b7ce47 165px,#e8e347 170px,#efb23c 177px,#f0a63b 188px,#eeb83c 196px,#ece345 201px,#b3cc46 207px,#7fb73c 213px,#72b24d 220px,#79bfb2 227px,#56b5de 230px,#4f669f 234px,#414b8c 239px,#59498e 263px,#424d8e 276px,#4e649e 282px,#5895c7 286px,#59b6db 289px,#79c0b3 294px,#78b985 302px,#75b566 316px,#75b56f 331px,#78bc9a 343px,#73bfbf 348px,#57b3dc 352px,#4f669f 358px,#414b8c 365px,#734b8f 385px,#9a5797 415px,#a6589b 489px,#a6589b 504px)"></i>
<i style="top:112px;height:3px;background:linear-gradient(90deg,#a6589b 0,#9d5798 77px,#7b4d91 106px,#414c8d 133px,#4f69a1 138px,#5aa8d4 141px,#59b6db 142px,#74bfbd 144px,#72b24a 152px,#80b73b 159px,#e5e248 170px,#eeda43 172px,#eeb33c 178px,#efab3b 190px,#efc43e 197px,#e9e347 201px,#a7c643 208px,#7eb73c 213px,#73b34f 220px,#79c0b3 227px,#56b3dd 230px,#4f659e 234px,#414b8c 239px,#59498e 263px,#434d8e 276px,#4f669f 282px,#57b3dd 288px,#79bfaf 294px,#77b87e 303px,#74b461 316px,#75b56a 331px,#78bc9c 344px,#70bfc4 349px,#57b5dd 352px,#4f69a1 358px,#414b8c 365px,#744b8f 386px,#9a5797 415px,#a6589b 487px,#a6589b 504px)"></i>
<i style="top:115px;height:3px;background:linear-gradient(90deg,#a6589b 0,#9d5798 77px,#7b4d91 106px,#414c8d 133px,#4f68a0 138px,#58b6dc 142px,#79bfaf 145px,#72b24b 152px,#7fb73c 159px,#bbd048 166px,#e9e347 171px,#eeb43c 179px,#eeb33c 192px,#efd141 198px,#ece345 200px,#aec944 207px,#7cb63c 213px,#72b248 219px,#79c0b5 227px,#5fb8d5 229px,#57b2dc 230px,#5171a8 233px,#455192 237px,#58498e 265px,#414c8d 275px,#4f69a0 282px,#57b5dd 288px,#79c0b3 293px,#78b882 301px,#74b45d 314px,#75b565 331px,#78bc98 344px,#72bfc0 349px,#59b6db 352px,#5aa4d2 354px,#506ba2 358px,#424c8d 365px,#57498e 373px,#965696 409px,#a6589b 467px,#a6589b 504px)"></i>
<i style="top:118px;height:3px;background:linear-gradient(90deg,#a6589b 0,#9d5798 77px,#7b4d91 106px,#414b8c 133px,#4f67a0 138px,#57b5dd 142px,#79bfb0 145px,#72b24d 152px,#7eb73c 159px,#b8cf47 166px,#ebe346 172px,#eeb93c 179px,#eeb73c 192px,#efd742 198px,#e3e249 201px,#81b83b 212px,#73b345 218px,#73b353 220px,#78c0b6 227px,#5eb8d6 229px,#57b0da 230px,#5170a7 233px,#455192 237px,#57498e 265px,#424c8d 275px,#506ba2 282px,#57b0da 287px,#61b9d3 289px,#79bfaf 293px,#77b87e 301px,#74b45a 313px,#74b45e 330px,#78bc9b 345px,#75c0bc 349px,#56b4dd 353px,#4f659e 359px,#424b8c 366px,#714b8f 385px,#9a5797 415px,#a6589b 485px,#a6589b 504px)"></i>
<i style="top:121px;height:3px;background:linear-gradient(90deg,#a6589b 0,#9d5798 77px,#7b4e91 106px,#434e8f 134px,#4f669f 138px,#56b5de 142px,#79c0b2 145px,#72b247 153px,#7cb63c 159px,#bfd248 167px,#ede245 173px,#efbe3d 179px,#eeba3c 191px,#efd442 197px,#e6e248 200px,#96c040 209px,#75b43e 215px,#72b248 219px,#77c0b8 227px,#5db7d7 229px,#58afd9 230px,#516fa6 233px,#445192 237px,#57498e 265px,#424d8e 275px,#4f659e 281px,#578abe 284px,#56b4dd 287px,#79c0b4 292px,#77b87f 300px,#73b357 312px,#74b459 330px,#79bb92 344px,#72bfc1 350px,#58b6dc 353px,#547fb4 357px,#4d5f9b 360px,#444a8e 368px,#6b4a8e 382px,#995797 414px,#a6589b 481px,#a6589b 504px)"></i>
<i style="top:124px;height:3px;background:linear-gradient(90deg,#a6589b 0,#9d5798 77px,#7b4e91 106px,#434e8f 134px,#4f659e 138px,#56b3dd 142px,#79c0b4 145px,#72b248 153px,#7bb63c 159px,#bbd048 167px,#eae346 173px,#efbf3d 181px,#efc23e 192px,#e8e347 199px,#9dc342 208px,#79b63d 213px,#72b249 219px,#76c0b9 227px,#5cb7d8 229px,#58add8 230px,#516ea4 233px,#445091 237px,#57498e 264px,#424d8e 275px,#4f67a0 281px,#58b6dc 287px,#77c0b8 291px,#78b880 299px,#73b356 310px,#73b352 328px,#75b570 338px,#78bda3 347px,#74bfbe 350px,#5ab6da 353px,#5aa4d1 355px,#5069a1 359px,#414b8c 366px,#724b8f 386px,#9a5797 415px,#a6589b 483px,#a6589b 504px)"></i>
<i style="top:127px;height:3px;background:linear-gradient(90deg,#a6589b 0,#9d5798 78px,#794d91 107px,#434e8f 134px,#4e649e 138px,#599ecd 141px,#57b2dc 142px,#70bfc4 144px,#78bb96 147px,#72b248 153px,#80b73b 160px,#e2e249 172px,#eede44 175px,#efc33e 182px,#f0cb40 193px,#eae346 198px,#bdd248 204px,#7eb73c 212px,#72b24b 219px,#76c0bb 227px,#5bb7d9 229px,#59abd7 230px,#506ca3 233px,#445091 237px,#57498e 264px,#434e8f 275px,#5069a1 281px,#57b0da 286px,#62bad2 288px,#79c0b5 291px,#78b982 298px,#73b353 309px,#72b24b 326px,#75b567 337px,#78bea8 348px,#70bfc3 351px,#56b4dd 354px,#506ca3 359px,#434e8f 365px,#50498e 372px,#794d91 391px,#9b5798 417px,#a6589b 491px,#a6589b 504px)"></i>
<i style="top:130px;height:3px;background:linear-gradient(90deg,#a6589b 0,#9d5798 78px,#794d91 107px,#434e8f 134px,#4e639d 138px,#599ccc 141px,#57b0da 142px,#5db8d7 143px,#78c0b7 145px,#72b249 153px,#7fb73c 160px,#c8d64a 169px,#ece345 175px,#f0c93f 182px,#efd141 193px,#e7e347 198px,#a9c744 206px,#77b53d 213px,#72b24c 219px,#75c0bc 227px,#5ab6da 229px,#5894c6 231px,#506ba2 233px,#445091 237px,#56498e 264px,#434e8f 275px,#506ba2 281px,#56b4dd 286px,#79bfb1 291px,#77b77a 299px,#73b34f 309px,#72b24c 330px,#76b673 340px,#79bfae 349px,#6abdca 352px,#58b6dc 354px,#547cb1 358px,#4a5997 362px,#454a8e 369px,#694a8e 382px,#995797 414px,#a6589b 478px,#a6589b 504px)"></i>
<i style="top:133px;height:3px;background:linear-gradient(90deg,#a6589b 0,#9d5798 78px,#794d91 107px,#424d8e 134px,#4e629d 138px,#5582b7 140px,#58aed9 142px,#5cb7d8 143px,#77c0b8 145px,#72b249 153px,#7db73c 160px,#e5e248 174px,#f0cd40 186px,#eedb43 194px,#dee14a 199px,#7bb63c 212px,#73b34e 219px,#74bfbe 227px,#59b6db 229px,#5892c4 231px,#506aa1 233px,#424d8e 238px,#57498e 262px,#434f90 275px,#4f659e 280px,#578cc0 283px,#57b5dd 286px,#78c0b7 290px,#78b881 297px,#72b24d 308px,#72b24c 332px,#77b87f 343px,#74bfbd 351px,#5ab6da 354px,#5aa2d0 356px,#4f67a0 360px,#424c8d 366px,#53498e 373px,#965696 410px,#a6589b 465px,#a6589b 504px)"></i>
<i style="top:136px;height:3px;background:linear-gradient(90deg,#a6589b 0,#9d5798 78px,#7a4d91 107px,#424d8e 134px,#4e629c 138px,#5580b5 140px,#58add8 142px,#5bb7d9 143px,#76c0ba 145px,#72b24b 153px,#7cb63c 160px,#e2e249 174px,#efd542 182px,#eeda43 192px,#e0e24a 198px,#7fb73b 211px,#72b248 218px,#79bfb0 226px,#58b6dc 229px,#5790c3 231px,#5069a1 233px,#424d8e 238px,#57498e 262px,#444f90 275px,#4f679f 280px,#58afd9 285px,#62bad2 287px,#79c0b3 290px,#77b87e 297px,#72b24c 307px,#72b24b 333px,#78b881 344px,#76c0b9 351px,#57b3dc 355px,#5069a1 360px,#424d8e 366px,#52498e 373px,#955696 410px,#a6589b 465px,#a6589b 504px)"></i>
<i style="top:139px;height:3px;background:linear-gradient(90deg,#a6589b 0,#9d5798 78px,#7a4d91 107px,#424d8e 134px,#4e619c 138px,#547eb3 140px,#59abd7 142px,#5ab7da 143px,#75c0bc 145px,#72b24d 153px,#7bb63c 160px,#c4d449 170px,#e9e347 177px,#eedd44 190px,#dce04a 198px,#79b53d 212px,#72b248 218px,#79c0b2 226px,#57b5dd 229px,#4f68a0 233px,#424c8d 238px,#56498e 262px,#445091 275px,#4f69a1 280px,#57b2dc 285px,#79bfb0 290px,#75b567 300px,#72b248 308px,#72b24d 335px,#78bc99 348px,#73bfc0 352px,#57b5dd 355px,#506ba2 360px,#424d8e 366px,#52498e 373px,#955696 410px,#a6589b 464px,#a6589b 504px)"></i>
<i style="top:142px;height:4px;background:linear-gradient(90deg,#a6589b 0,#9d5798 78px,#7c4e91 106px,#424d8e 134px,#506ba2 139px,#59a9d5 142px,#59b6db 143px,#79bfae 146px,#72b248 154px,#7fb73c 161px,#dfe14a 175px,#ede144 186px,#e1e24a 196px,#a6c643 205px,#78b53d 212px,#72b249 218px,#79c0b4 226px,#56b4de 229px,#4f67a0 233px,#424c8d 238px,#57498e 261px,#445091 275px,#506ba2 280px,#56b5de 285px,#78c0b6 289px,#77b87e 296px,#72b24b 305px,#72b249 335px,#79bb8e 347px,#75c0bc 352px,#59b6db 355px,#578ec1 358px,#4f659e 361px,#414b8c 367px,#744b8f 389px,#9a5797 416px,#a6589b 481px,#a6589b 504px)"></i>
<i style="top:146px;height:4px;background:linear-gradient(90deg,#a6589b 0,#9d5798 78px,#7c4e91 106px,#424c8d 134px,#5069a1 139px,#5aa7d4 142px,#58b6dc 143px,#79bfb1 146px,#72b248 154px,#7db73c 161px,#dade4a 175px,#e9e346 186px,#d8dd4b 197px,#7bb63c 211px,#72b24a 218px,#78c0b6 226px,#5fb8d5 228px,#57b2dc 229px,#4f669f 233px,#424c8d 238px,#56498e 261px,#434e8f 274px,#4f659e 279px,#578ec1 282px,#58aed9 284px,#62bad2 286px,#79bfb2 289px,#74b464 299px,#72b248 305px,#72b249 336px,#79bb92 348px,#71bfc2 353px,#57b2dc 356px,#4f67a0 361px,#424c8d 367px,#784d90 392px,#9a5797 417px,#a6589b 484px,#a6589b 504px)"></i>
<i style="top:150px;height:4px;background:linear-gradient(90deg,#a6589b 0,#9d5798 78px,#7d4e91 106px,#444f90 135px,#4f68a0 139px,#56b5de 143px,#79c0b3 146px,#72b249 154px,#7bb63c 161px,#d8dd4b 176px,#e4e248 188px,#d3da4b 197px,#79b63d 211px,#72b24d 218px,#77c0b9 226px,#5db8d7 228px,#57b0da 229px,#4f659e 233px,#414c8d 238px,#56498e 260px,#494a8f 268px,#455192 275px,#4f67a0 279px,#57b2dc 284px,#77c0b8 288px,#77b77c 295px,#72b249 303px,#73b346 334px,#73b356 340px,#79bea9 351px,#6bbdc9 354px,#57b5dd 356px,#506aa1 361px,#424c8d 367px,#54498e 374px,#965696 412px,#a6589b 467px,#a6589b 504px)"></i>
<i style="top:154px;height:4px;background:linear-gradient(90deg,#a6589b 0,#9d5798 78px,#7d4e91 106px,#434f90 135px,#4f679f 139px,#56b3dd 143px,#79c0b6 146px,#72b24b 154px,#7fb73c 162px,#d6dc4b 177px,#dee14a 190px,#c7d64a 198px,#78b53d 211px,#73b350 218px,#75c0bb 226px,#5bb7d9 228px,#58add8 229px,#516fa6 232px,#455192 236px,#55498e 262px,#444f90 274px,#506aa1 279px,#57b5dd 284px,#79c0b3 288px,#74b460 298px,#72b248 303px,#73b344 334px,#73b351 340px,#78bda4 351px,#70bfc4 354px,#5ab6da 356px,#599fce 358px,#506da3 361px,#445091 366px,#4f498e 373px,#945596 410px,#a6589b 462px,#a6589b 504px)"></i>
<i style="top:158px;height:4px;background:linear-gradient(90deg,#a6589b 0,#9d5798 78px,#7d4e92 106px,#434e8f 135px,#4f659e 139px,#57b1db 143px,#6ebec6 145px,#79bea9 147px,#72b247 155px,#81b83b 163px,#d3db4b 178px,#d6dd4b 192px,#b0ca45 201px,#77b53d 211px,#72b248 217px,#74bfbd 226px,#5ab6da 228px,#5896c7 230px,#516ea4 232px,#455192 236px,#55498e 262px,#445091 274px,#506ca3 279px,#58add8 283px,#63bad1 285px,#79bfaf 288px,#72b24e 300px,#74b43f 319px,#72b24c 340px,#79beab 352px,#68bccc 355px,#57b2dc 357px,#4f659f 362px,#414b8c 368px,#754c90 391px,#9a5797 417px,#a6589b 481px,#a6589b 504px)"></i>
<i style="top:162px;height:3px;background:linear-gradient(90deg,#a6589b 0,#9c5798 79px,#7b4e91 107px,#434e8f 135px,#4e649e 139px,#599aca 142px,#58aed9 143px,#5cb7d8 144px,#76c0ba 146px,#72b248 155px,#80b73b 163px,#cdd84a 178px,#d2da4b 191px,#a6c643 202px,#76b53d 211px,#72b24a 217px,#79bfb1 225px,#58b6dc 228px,#5893c5 230px,#506ca2 232px,#434d8e 237px,#55498e 260px,#445091 274px,#4f659e 278px,#57b2dc 283px,#78c0b6 287px,#74b45d 297px,#72b248 301px,#74b440 331px,#72b24d 341px,#78bea6 352px,#6cbdc8 355px,#57b5dd 357px,#4f68a0 362px,#414c8d 368px,#7d4e92 396px,#9c5798 421px,#a6589b 500px,#a6589b 504px)"></i>
<i style="top:165px;height:3px;background:linear-gradient(90deg,#a6589b 0,#9d5798 79px,#7b4e91 107px,#434e8f 135px,#4e639d 139px,#5581b6 141px,#58acd7 143px,#5bb7d9 144px,#79bfae 147px,#72b249 155px,#7eb73c 163px,#c8d64a 178px,#cdd84a 191px,#9dc342 203px,#76b53e 211px,#72b24c 217px,#79c0b3 225px,#57b5dd 228px,#506aa2 232px,#424d8e 237px,#55498e 260px,#434e8f 273px,#4f679f 278px,#56b5de 283px,#79c0b3 287px,#73b352 298px,#73b342 305px,#73b345 338px,#73b350 342px,#79bfae 353px,#62bad2 356px,#59b6db 357px,#5689bd 360px,#4e609b 363px,#444a8e 370px,#6f4b8f 388px,#995797 416px,#a6589b 475px,#a6589b 504px)"></i>
<i style="top:168px;height:3px;background:linear-gradient(90deg,#a6589b 0,#9d5798 79px,#7c4e91 107px,#434e8f 135px,#4e629c 139px,#547fb4 141px,#59aad6 143px,#5ab6da 144px,#79bfb0 147px,#72b24a 155px,#81b83b 164px,#c3d449 178px,#c8d64a 191px,#9ac241 203px,#76b53e 211px,#73b34e 217px,#79c0b5 225px,#56b5de 228px,#5069a1 232px,#424d8e 237px,#55498e 260px,#434f90 273px,#4f69a1 278px,#58b6dc 283px,#79bfb0 287px,#72b249 299px,#75b43e 324px,#72b24c 342px,#79beab 353px,#65bbcf 356px,#58afd9 358px,#506ca3 362px,#444f90 367px,#50498e 374px,#955696 412px,#a6589b 464px,#a6589b 504px)"></i>
<i style="top:171px;height:3px;background:linear-gradient(90deg,#a6589b 0,#9d5798 79px,#7c4e91 107px,#424d8e 135px,#506ca2 140px,#59a8d5 143px,#58b6dc 144px,#79bfb2 147px,#72b24c 155px,#80b73b 164px,#bed248 178px,#c3d449 191px,#9dc342 202px,#76b53e 211px,#73b351 217px,#78c0b7 225px,#57b3dd 228px,#4f68a0 232px,#424d8e 237px,#55498e 259px,#444f90 273px,#506aa2 278px,#58add8 282px,#5ab6da 283px,#77c0b8 286px,#74b45a 296px,#73b346 300px,#74b43f 333px,#73b350 343px,#79c0b4 354px,#57b2dc 358px,#516ea5 362px,#444f90 367px,#50498e 374px,#955696 412px,#a6589b 463px,#a6589b 504px)"></i>
<i style="top:174px;height:3px;background:linear-gradient(90deg,#a6589b 0,#9d5798 79px,#7c4e91 107px,#424d8e 135px,#506aa2 140px,#57b5dd 144px,#79c0b4 147px,#72b248 156px,#7eb73c 164px,#b9d047 178px,#bed248 191px,#9ac141 202px,#75b43e 211px,#72b249 216px,#77c0b9 225px,#5db8d7 227px,#57b1db 228px,#4f679f 232px,#424c8d 237px,#55498e 259px,#444f90 273px,#506ca3 278px,#57b0da 282px,#67bbcd 284px,#79c0b5 286px,#73b34f 297px,#76b53e 311px,#72b247 341px,#74b45c 345px,#79bfb1 354px,#56b5de 358px,#4f659e 363px,#414b8c 369px,#7e4e92 397px,#9c5798 422px,#a6589b 502px,#a6589b 504px)"></i>
<i style="top:177px;height:4px;background:linear-gradient(90deg,#a6589b 0,#9d5798 79px,#7c4e91 107px,#424d8e 135px,#5069a1 140px,#56b5de 144px,#78c0b6 147px,#72b248 156px,#81b83b 165px,#b6cd46 178px,#b7ce47 193px,#91be3e 203px,#75b43e 211px,#72b24a 216px,#75c0bb 225px,#5cb7d8 227px,#58afda 228px,#4f669f 232px,#424c8d 237px,#55498e 258px,#445091 273px,#4e649e 277px,#5892c4 280px,#57b3dd 282px,#79c0b2 286px,#72b24c 297px,#77b53d 314px,#72b247 342px,#75b56b 347px,#76c0ba 355px,#58b6dc 358px,#5584b9 361px,#4d5e9a 364px,#444a8e 371px,#734b8f 391px,#995797 417px,#a6589b 476px,#a6589b 504px)"></i>
<i style="top:181px;height:4px;background:linear-gradient(90deg,#a6589b 0,#9d5798 79px,#7c4e91 107px,#424c8d 135px,#4f67a0 140px,#57b2dc 144px,#6ebec6 146px,#78bc9b 149px,#72b249 156px,#7fb73c 165px,#b0cb45 178px,#b2cb45 193px,#75b43f 211px,#72b24d 216px,#74bfbd 225px,#5ab7da 227px,#58acd7 228px,#4e649e 232px,#424b8d 238px,#55498e 257px,#445091 273px,#4f669f 277px,#57b5dd 282px,#76c0ba 285px,#73b357 295px,#73b345 299px,#74b43f 336px,#72b24c 344px,#78c0b6 355px,#5ab6da 358px,#599dcc 360px,#5069a1 363px,#414b8c 369px,#905495 408px,#a6589b 455px,#a6589b 504px)"></i>
<i style="top:185px;height:4px;background:linear-gradient(90deg,#a6589b 0,#9c5798 80px,#7d4e91 107px,#434f90 136px,#4f669f 140px,#58afda 144px,#5cb7d8 145px,#75c0bb 147px,#72b24c 156px,#80b83b 166px,#adc944 179px,#abc844 194px,#75b43e 210px,#73b351 216px,#79c0b3 224px,#59b6db 227px,#5895c7 229px,#516ea5 231px,#455192 235px,#54498e 260px,#455192 273px,#4f68a0 277px,#58acd8 281px,#59b6db 282px,#78c0b7 285px,#72b24a 296px,#7ab63d 313px,#73b345 342px,#73b358 346px,#73bfbe 356px,#5cb7d8 358px,#57b1db 359px,#506ba2 363px,#434f90 368px,#4d4a8f 374px,#945596 412px,#a6589b 462px,#a6589b 504px)"></i>
<i style="top:189px;height:5px;background:linear-gradient(90deg,#a6589b 0,#9d5798 80px,#7d4e92 107px,#434e8f 136px,#4e649d 140px,#59abd7 144px,#5ab6da 145px,#79bfb1 148px,#72b248 157px,#81b83b 167px,#a8c743 180px,#a3c543 195px,#75b43f 210px,#72b24a 215px,#78c0b6 224px,#57b5dd 227px,#506ba2 231px,#434e8f 236px,#54498e 258px,#434f90 272px,#506ba2 277px,#57b1db 281px,#69bccb 283px,#78bda5 286px,#72b248 296px,#7fb73c 319px,#72b247 344px,#79ba8c 352px,#76c0ba 356px,#57b5dd 359px,#4e649e 364px,#424b8c 370px,#915496 409px,#a6589b 456px,#a6589b 504px)"></i>
<i style="top:194px;height:5px;background:linear-gradient(90deg,#a6589b 0,#9d5798 80px,#7d4e92 107px,#434e8f 136px,#4e629c 140px,#547db2 142px,#58b6dc 145px,#79c0b5 148px,#72b24a 157px,#7eb73c 167px,#a4c543 181px,#9bc241 196px,#74b43f 210px,#72b24e 215px,#76c0ba 224px,#57b2dc 227px,#5069a1 231px,#434d8e 236px,#54498e 257px,#444f90 272px,#4e649e 276px,#5893c5 279px,#56b5de 281px,#76c0ba 284px,#72b249 295px,#81b83b 315px,#73b346 344px,#74b460 348px,#78c0b6 356px,#59b6db 359px,#5999ca 361px,#4f679f 364px,#424d8e 369px,#865194 402px,#a3589a 438px,#a6589b 504px)"></i>
<i style="top:199px;height:5px;background:linear-gradient(90deg,#a6589b 0,#9d5798 80px,#7e4e92 107px,#424d8e 136px,#506aa1 141px,#56b4dd 145px,#77c0b9 148px,#72b248 158px,#82b83b 169px,#9fc342 183px,#92be3f 197px,#74b43f 209px,#72b249 214px,#74bfbd 224px,#5bb7d9 226px,#58aed9 227px,#4f679f 231px,#424d8e 236px,#54498e 256px,#445091 272px,#4f669f 276px,#59abd6 280px,#59b6db 281px,#78c0b6 284px,#72b24c 294px,#7eb73c 308px,#82b83b 329px,#72b249 346px,#79bfb1 356px,#5cb7d8 359px,#57b0da 360px,#5069a1 364px,#434e8f 369px,#835093 401px,#a1589a 433px,#a6589b 504px)"></i>
<i style="top:204px;height:5px;background:linear-gradient(90deg,#a6589b 0,#9c5798 81px,#7e4e92 107px,#424d8e 136px,#4f68a0 141px,#57b0da 145px,#6abdca 147px,#78bda1 150px,#72b249 158px,#81b83b 170px,#99c141 185px,#89bb3c 198px,#73b343 211px,#73b357 215px,#79c0b4 223px,#59b6db 226px,#5897c8 228px,#4f659e 231px,#424b8c 237px,#54498e 255px,#445192 272px,#4f69a1 276px,#58afda 280px,#5bb7d9 281px,#79bfb2 284px,#72b248 294px,#86ba3c 312px,#80b73b 333px,#72b248 346px,#79bfad 356px,#6dbec7 358px,#56b4dd 360px,#506ca3 364px,#434e8f 369px,#814f93 400px,#9f5799 430px,#a6589b 504px)"></i>
<i style="top:209px;height:4px;background:linear-gradient(90deg,#a6589b 0,#9c5798 81px,#7e4f92 107px,#424c8d 136px,#4f669f 141px,#58add8 145px,#5ab7da 146px,#79c0b2 149px,#72b24d 158px,#7cb63c 169px,#94bf3f 185px,#80b83b 201px,#72b248 213px,#78c0b7 223px,#57b5dd 226px,#4e639d 231px,#424b8d 237px,#54498e 254px,#455192 272px,#506ba2 276px,#57b2dc 280px,#75c0bb 283px,#72b24c 293px,#7fb73b 306px,#8cbc3d 324px,#73b345 345px,#73b352 348px,#78c0b7 357px,#58b6dc 360px,#4e639d 365px,#424b8d 371px,#925596 411px,#a6589b 457px,#a6589b 504px)"></i>
<i style="top:213px;height:4px;background:linear-gradient(90deg,#a6589b 0,#9d5798 81px,#7f4f92 107px,#434f90 137px,#4e649e 141px,#59a9d5 145px,#58b6dc 146px,#79c0b6 149px,#72b248 159px,#83b83b 173px,#8ebd3d 190px,#73b345 211px,#73b354 214px,#76c0ba 223px,#56b4dd 226px,#506ba2 230px,#434e8f 235px,#54498e 256px,#455192 272px,#506da4 276px,#56b5de 280px,#77c0b8 283px,#72b249 293px,#82b83b 306px,#92be3f 322px,#73b342 344px,#72b24e 348px,#79c0b3 357px,#5ab6da 360px,#5899c9 362px,#4f659e 365px,#424b8d 371px,#935596 412px,#a6589b 459px,#a6589b 504px)"></i>
<i style="top:217px;height:5px;background:linear-gradient(90deg,#a6589b 0,#9d5798 81px,#7f4f92 107px,#434e8f 137px,#506ca3 142px,#56b5de 146px,#76c0b9 149px,#72b24c 159px,#7eb73c 172px,#87ba3c 192px,#73b346 211px,#74b464 215px,#74bfbe 223px,#5cb7d8 225px,#58afda 226px,#5069a1 230px,#434e8f 235px,#54498e 255px,#444f90 271px,#4e649e 275px,#59aad6 279px,#59b6db 280px,#79c0b4 283px,#72b248 293px,#83b83b 305px,#98c140 320px,#86ba3c 334px,#73b345 346px,#73b354 349px,#74bfbd 358px,#5cb7d8 360px,#57afda 361px,#4f67a0 365px,#424d8e 370px,#865194 403px,#a4589a 440px,#a6589b 504px)"></i>
<i style="top:222px;height:5px;background:linear-gradient(90deg,#a6589b 0,#9d5798 81px,#7f4f92 107px,#434e8f 137px,#5069a1 142px,#57b0db 146px,#69bccb 148px,#78bda3 151px,#72b249 160px,#84b93b 179px,#7cb63c 199px,#72b24b 212px,#79c0b6 222px,#59b6db 225px,#5899c9 227px,#4f669f 230px,#414b8c 236px,#55498e 252px,#445091 271px,#4f679f 275px,#58aed9 279px,#5bb7d9 280px,#79bfb0 283px,#72b249 292px,#80b83b 303px,#9ec342 317px,#92bf3f 331px,#74b43f 344px,#73b34f 349px,#77c0b9 358px,#56b3dd 361px,#506aa1 365px,#424d8e 370px,#845093 402px,#a2589a 436px,#a6589b 504px)"></i>
<i style="top:227px;height:5px;background:linear-gradient(90deg,#a6589b 0,#9c5798 82px,#7e4e92 108px,#424d8e 137px,#4f679f 142px,#58acd7 146px,#59b6db 147px,#79c0b5 150px,#72b24d 160px,#78b53d 172px,#81b83b 192px,#72b249 211px,#79bfad 221px,#60b9d4 224px,#56b5de 225px,#4e649e 230px,#424b8c 236px,#55498e 252px,#445091 271px,#4f69a1 275px,#57b2dc 279px,#6cbec8 281px,#78bc9e 284px,#72b248 292px,#80b73b 302px,#a3c543 316px,#9bc241 330px,#74b43f 344px,#72b24a 349px,#79c0b5 358px,#57b6dd 361px,#506ca3 365px,#434e8f 370px,#835093 402px,#a2589a 436px,#a6589b 504px)"></i>
<i style="top:232px;height:5px;background:linear-gradient(90deg,#a6589b 0,#9d5798 82px,#7e4e92 108px,#484a8f 133px,#455293 139px,#516fa6 143px,#57b5dd 147px,#76c0ba 150px,#72b249 161px,#7eb73c 180px,#73b346 209px,#74b45f 213px,#74bfbe 222px,#5cb7d8 224px,#57b1db 225px,#506ba2 229px,#434f90 234px,#54498e 254px,#455192 271px,#506ba2 275px,#56b5de 279px,#78c0b7 282px,#72b24a 291px,#7fb73b 301px,#a7c643 314px,#a3c543 329px,#75b43e 344px,#73b351 350px,#73bfbf 359px,#5ab6da 361px,#5897c8 363px,#4e639d 366px,#424b8d 372px,#925596 412px,#a6589b 457px,#a6589b 504px)"></i>
<i style="top:237px;height:4px;background:linear-gradient(90deg,#a6589b 0,#9d5798 82px,#7f4f92 108px,#484a8f 133px,#455293 139px,#506da3 143px,#57b3dc 147px,#79bfb1 151px,#72b248 162px,#7db73c 184px,#72b247 209px,#75b56e 214px,#79c0b6 221px,#5ab7da 224px,#599dcc 226px,#5069a1 229px,#414c8d 235px,#55498e 251px,#455192 271px,#506da4 275px,#59a8d5 278px,#58b6dc 279px,#79c0b4 282px,#72b248 291px,#7eb73c 300px,#acc844 314px,#a8c643 329px,#75b43e 344px,#72b24d 350px,#75c0bc 359px,#5bb7d9 361px,#58aed9 362px,#4f659e 366px,#424c8d 371px,#8d5395 408px,#a5589b 451px,#a6589b 504px)"></i>
<i style="top:241px;height:4px;background:linear-gradient(90deg,#a6589b 0,#9d5798 82px,#7f4f92 108px,#494a8f 133px,#455192 139px,#506aa1 143px,#58afd9 147px,#67bbcd 149px,#79c0b5 151px,#72b24a 162px,#79b53d 180px,#73b346 208px,#74b45e 212px,#77c0b9 221px,#58b6dc 224px,#5685b9 227px,#4d5e9a 230px,#444a8e 237px,#55498e 250px,#455293 271px,#516fa6 275px,#59abd7 278px,#5ab6da 279px,#79bfb1 282px,#72b248 291px,#80b73b 300px,#b0ca45 313px,#afc945 328px,#75b43e 345px,#72b24a 350px,#76c0ba 359px,#5db8d7 361px,#57b1db 362px,#4f679f 366px,#424c8d 371px,#8a5294 406px,#a5589b 448px,#a6589b 504px)"></i>
<i style="top:245px;height:4px;background:linear-gradient(90deg,#a6589b 0,#9c5798 83px,#7f4f92 108px,#4a4a8f 133px,#445192 139px,#4f68a0 143px,#59abd7 147px,#59b6db 148px,#77c0b8 151px,#73b357 161px,#73b345 165px,#74b43f 202px,#73b352 210px,#79bfb1 220px,#56b4de 224px,#4f659e 229px,#414b8c 235px,#55498e 249px,#455293 271px,#5272a8 275px,#58aed9 278px,#5bb7d9 279px,#79bfae 282px,#72b24b 290px,#7eb73c 299px,#b5cd46 313px,#b4cc46 328px,#75b43e 345px,#72b248 350px,#78c0b7 359px,#56b4dd 362px,#4f68a0 366px,#424d8e 371px,#885294 405px,#a5589b 445px,#a6589b 504px)"></i>
<i style="top:249px;height:3px;background:linear-gradient(90deg,#a6589b 0,#9c5798 83px,#804f92 108px,#4b4a8f 133px,#445091 139px,#4f669f 143px,#56b5de 148px,#79bfb0 152px,#72b24c 163px,#76b53e 180px,#72b247 207px,#75b568 212px,#79c0b5 220px,#5cb7d8 223px,#57b0db 224px,#506da4 228px,#444f90 233px,#55498e 253px,#444f90 270px,#4f679f 274px,#57b1db 278px,#6dbec7 280px,#78bc9c 283px,#72b249 290px,#80b83b 299px,#b8cf47 312px,#bed248 325px,#9cc241 336px,#76b53e 345px,#73b34f 351px,#79c0b4 359px,#57b5dd 362px,#506aa1 366px,#424d8e 371px,#865194 404px,#a4589a 442px,#a6589b 504px)"></i>
<i style="top:252px;height:3px;background:linear-gradient(90deg,#a6589b 0,#9d5798 83px,#804f92 108px,#4b4a8f 133px,#445091 139px,#516ea5 144px,#57b2dc 148px,#79c0b4 152px,#73b34f 163px,#75b43e 177px,#73b346 206px,#74b45a 210px,#77c0b8 220px,#5ab6da 223px,#599dcd 225px,#506ba2 228px,#424d8e 234px,#55498e 250px,#445091 270px,#4f68a0 274px,#57b3dc 278px,#78c0b7 281px,#72b248 290px,#7eb73c 298px,#bcd148 312px,#c3d449 325px,#9fc342 336px,#76b53e 345px,#72b24d 351px,#79c0b2 359px,#58b6dc 362px,#5893c5 364px,#506ba2 366px,#424d8e 371px,#845093 403px,#a3589a 439px,#a6589b 504px)"></i>
<i style="top:255px;height:3px;background:linear-gradient(90deg,#a6589b 0,#9d5798 83px,#804f92 108px,#4c4a8f 133px,#444f90 139px,#506ca3 144px,#58afda 148px,#66bbce 150px,#79beab 153px,#72b24c 164px,#76b53e 183px,#72b249 207px,#79bfaf 219px,#61b9d3 222px,#58b6dc 223px,#5687bc 226px,#4d609b 229px,#434b8d 236px,#55498e 248px,#445091 270px,#5069a1 274px,#56b5de 278px,#79c0b6 281px,#72b248 290px,#7fb73c 298px,#c1d349 312px,#c9d64a 324px,#a2c443 336px,#76b53e 345px,#72b24a 351px,#79bfb0 359px,#59b6db 362px,#5895c7 364px,#506da4 366px,#445192 370px,#4f498e 378px,#935596 414px,#a5589b 458px,#a6589b 504px)"></i>
<i style="top:258px;height:3px;background:linear-gradient(90deg,#a6589b 0,#9c5798 84px,#7f4f92 109px,#4c4a8f 133px,#434f90 139px,#506aa1 144px,#58acd8 148px,#59b6db 149px,#76c0b9 152px,#74b45e 162px,#72b247 166px,#74b43f 196px,#72b24b 207px,#78bea7 218px,#6bbdc9 221px,#56b5de 223px,#4f67a0 228px,#414c8d 234px,#55498e 248px,#445091 270px,#506aa1 274px,#57b5dd 278px,#79c0b4 281px,#72b24c 289px,#7cb63c 297px,#c6d549 312px,#ced84a 324px,#afca45 334px,#76b53d 345px,#72b249 351px,#75c0bc 360px,#5bb7d9 362px,#58acd7 363px,#516ea5 366px,#455192 370px,#4d4a8f 377px,#925596 413px,#a5589b 457px,#a6589b 504px)"></i>
<i style="top:261px;height:3px;background:linear-gradient(90deg,#a6589b 0,#9c5798 84px,#7f4f92 109px,#4d4a8f 133px,#434e8f 139px,#4f68a0 144px,#57b5dd 149px,#79bfb1 153px,#73b353 164px,#73b343 171px,#73b345 203px,#73b34f 207px,#79beaa 218px,#68bccc 221px,#57b2dc 223px,#4f659f 228px,#414b8c 234px,#55498e 247px,#445091 270px,#506ba2 274px,#5aa8d4 277px,#58b6dc 278px,#79bfb2 281px,#72b24a 289px,#7eb73c 297px,#ced84a 313px,#d1d94b 326px,#9cc242 338px,#77b53d 345px,#72b248 351px,#76c0bb 360px,#5cb7d8 362px,#58aed9 363px,#5170a7 366px,#455192 370px,#4c4a8f 377px,#925596 413px,#a5589b 457px,#a6589b 504px)"></i>
<i style="top:264px;height:4px;background:linear-gradient(90deg,#a6589b 0,#9c5798 84px,#7f4f92 109px,#4e4a8f 133px,#445192 140px,#4f669f 144px,#56b4dd 149px,#79c0b5 153px,#74b45d 163px,#72b247 168px,#73b342 198px,#72b24c 206px,#79bfad 218px,#65bbcf 221px,#58afda 223px,#516ea4 227px,#445091 232px,#4f498e 240px,#51498e 257px,#455192 270px,#506da4 274px,#59aad6 277px,#59b6db 278px,#79bfaf 281px,#72b249 289px,#7fb73c 297px,#d0d94b 312px,#d5dc4b 326px,#abc844 336px,#77b53d 345px,#73b34f 352px,#77c0b9 360px,#5db8d7 362px,#57b0da 363px,#4f659e 367px,#414b8c 372px,#915596 413px,#a5589b 456px,#a6589b 504px)"></i>
<i style="top:268px;height:4px;background:linear-gradient(90deg,#a6589b 0,#9c5798 84px,#804f92 109px,#4e498e 133px,#445091 140px,#516ea5 145px,#58afda 149px,#65bbcf 151px,#79bfae 154px,#73b34f 166px,#74b440 184px,#72b24c 205px,#78bea7 217px,#6dbec7 220px,#58b6dc 222px,#5689bd 225px,#4e619c 228px,#434b8d 235px,#56498e 246px,#455192 270px,#516fa5 274px,#58acd8 277px,#5bb7d9 278px,#75c0bc 280px,#72b248 289px,#7cb63c 296px,#d6dc4b 312px,#dadf4a 326px,#c1d349 333px,#79b63d 345px,#72b24c 352px,#78c0b7 360px,#57b2dc 363px,#4f669f 367px,#414c8d 372px,#8f5495 411px,#a5589b 453px,#a6589b 504px)"></i>
<i style="top:272px;height:4px;background:linear-gradient(90deg,#a6589b 0,#9d5798 84px,#804f92 109px,#4f498e 133px,#444f90 140px,#506ba2 145px,#59abd7 149px,#58b6dc 150px,#79c0b2 154px,#74b461 164px,#72b248 169px,#73b346 200px,#73b356 206px,#79beab 217px,#68bccc 220px,#56b4dd 222px,#4f68a0 227px,#424c8d 233px,#56498e 247px,#455192 270px,#5171a7 274px,#58afd9 277px,#5cb7d8 278px,#76c0b9 280px,#72b247 289px,#7eb73c 296px,#d8dd4b 311px,#e2e249 324px,#cdd84a 332px,#7bb63c 345px,#72b249 352px,#79c0b4 360px,#56b5de 363px,#4f68a0 367px,#424c8d 372px,#8b5394 408px,#a5589b 450px,#a6589b 504px)"></i>
<i style="top:276px;height:4px;background:linear-gradient(90deg,#a6589b 0,#9c5798 85px,#7f4f92 110px,#50498e 133px,#434f90 140px,#4f68a0 145px,#56b4dd 150px,#78c0b7 154px,#77b77c 161px,#72b24a 169px,#73b346 199px,#73b356 205px,#78bda5 216px,#70bfc4 219px,#5ab7da 221px,#59a1cf 223px,#4f659f 227px,#424c8d 233px,#56498e 247px,#455293 270px,#4f659f 273px,#57b1db 277px,#6ebec6 279px,#78bc98 282px,#72b24b 288px,#80b73b 296px,#dadf4a 310px,#e8e347 322px,#d3db4b 332px,#77b53d 346px,#72b248 352px,#79bfb2 360px,#57b6dd 363px,#5069a1 367px,#424c8d 372px,#895294 407px,#a5589b 448px,#a6589b 504px)"></i>
<i style="top:280px;height:4px;background:linear-gradient(90deg,#a6589b 0,#9c5798 85px,#7f4f92 110px,#51498e 133px,#434e8f 140px,#4f659f 145px,#58afda 150px,#63bad1 152px,#79bfb1 155px,#75b565 165px,#72b248 172px,#72b249 201px,#79bb90 213px,#73bfbe 218px,#57b6dd 221px,#506ca3 226px,#434e8f 232px,#57498e 247px,#434f90 269px,#4f679f 273px,#56b4dd 277px,#79c0b5 280px,#72b249 288px,#7cb63c 295px,#dbdf4a 309px,#ece345 320px,#dde04a 331px,#79b63d 346px,#73b350 353px,#74bfbe 361px,#59b6db 363px,#5892c5 365px,#506aa2 367px,#424d8e 372px,#885194 406px,#a4589b 445px,#a6589b 504px)"></i>
<i style="top:284px;height:3px;background:linear-gradient(90deg,#a6589b 0,#9c5798 85px,#814f93 109px,#52498e 133px,#434d8e 140px,#506ca3 146px,#57b5dd 151px,#79c0b6 155px,#77b87e 162px,#72b249 172px,#72b24a 200px,#79ba8d 212px,#71bfc3 218px,#57b3dc 221px,#5069a1 226px,#424d8e 232px,#57498e 247px,#444f90 269px,#4f68a0 273px,#57b5dd 277px,#79c0b3 280px,#72b248 288px,#7eb73c 295px,#e0e24a 309px,#eedb43 318px,#e5e248 330px,#c3d449 336px,#80b73b 345px,#72b247 352px,#78bc9c 359px,#75c0bc 361px,#5ab7da 363px,#59abd6 364px,#506ca3 367px,#445091 371px,#674a8e 391px,#945596 416px,#a5589b 460px,#a6589b 504px)"></i>
<i style="top:287px;height:3px;background:linear-gradient(90deg,#a6589b 0,#9c5798 86px,#804f92 110px,#52498e 133px,#424d8e 140px,#506aa1 146px,#56b3dd 151px,#77c0b9 155px,#78b881 162px,#72b24a 173px,#72b24b 199px,#79ba89 211px,#75c0bc 217px,#5ab6da 220px,#5aa2d0 222px,#4f67a0 226px,#424d8e 232px,#57498e 246px,#444f90 269px,#5069a1 273px,#58b6dc 277px,#79bfb1 280px,#72b248 288px,#7fb73c 295px,#dfe24a 308px,#eedb43 314px,#eed843 325px,#e1e24a 332px,#7cb63c 346px,#72b24c 353px,#76c0ba 361px,#5bb7d9 363px,#58acd8 364px,#516da4 367px,#445091 371px,#5f498d 387px,#935596 415px,#a5589b 458px,#a6589b 504px)"></i>
<i style="top:290px;height:3px;background:linear-gradient(90deg,#a6589b 0,#9c5798 86px,#804f92 110px,#53498e 133px,#424d8e 140px,#4f68a0 146px,#57b0da 151px,#63bad1 153px,#79c0b3 156px,#77b87f 163px,#73b34e 173px,#72b24a 197px,#75b570 206px,#79bfad 215px,#6abdca 218px,#58b6dc 220px,#547bb1 224px,#4a5997 228px,#464a8f 236px,#57498e 245px,#445091 269px,#506aa1 273px,#5aa8d4 276px,#59b6db 277px,#79bfaf 280px,#72b247 288px,#80b83b 295px,#e3e249 308px,#efd542 314px,#efd141 325px,#e4e248 332px,#a1c442 341px,#78b53d 347px,#72b24a 353px,#77c0b9 361px,#5cb7d8 363px,#58aed9 364px,#516fa5 367px,#445091 371px,#56498e 383px,#915596 414px,#a5589b 456px,#a6589b 504px)"></i>
<i style="top:293px;height:3px;background:linear-gradient(90deg,#a6589b 0,#9c5798 86px,#814f92 110px,#53498e 133px,#424c8d 140px,#4f659f 146px,#58b6dc 152px,#78c0b7 156px,#78b882 163px,#73b350 174px,#72b249 194px,#75b568 204px,#78bea7 214px,#71bfc3 217px,#56b4dd 220px,#506ca3 225px,#434e8f 231px,#50498e 239px,#54498e 254px,#445091 269px,#506ba2 273px,#59a9d6 276px,#5ab6da 277px,#74bfbd 279px,#72b24d 287px,#7cb63c 294px,#cdd84a 304px,#ede145 310px,#f0c93f 317px,#efd041 327px,#e8e347 332px,#b5cd46 339px,#7eb73c 346px,#72b249 353px,#78c0b7 361px,#5db8d7 363px,#57b0da 364px,#5170a7 367px,#455192 371px,#52498e 381px,#915596 414px,#a5589b 456px,#a6589b 504px)"></i>
<i style="top:296px;height:3px;background:linear-gradient(90deg,#a6589b 0,#9c5798 86px,#814f92 110px,#54498e 133px,#414c8d 140px,#4e639d 146px,#5689bd 149px,#56b5de 152px,#79bfb1 157px,#77b77b 165px,#73b352 175px,#72b24b 192px,#75b568 203px,#78bda2 213px,#74bfbd 216px,#5ab7da 219px,#5aa4d1 221px,#5069a1 225px,#414b8c 232px,#58498e 245px,#445091 269px,#506ca3 273px,#59abd7 276px,#5bb7d9 277px,#75c0bb 279px,#72b24b 287px,#7db73c 294px,#c7d64a 303px,#ede245 309px,#efc43e 316px,#f0ca40 327px,#e6e248 333px,#9ec342 342px,#76b53d 348px,#72b248 353px,#79c0b6 361px,#5eb8d6 363px,#57b1db 364px,#5171a8 367px,#455192 371px,#4f498e 380px,#915596 414px,#a5589b 456px,#a6589b 504px)"></i>
<i style="top:299px;height:3px;background:linear-gradient(90deg,#a6589b 0,#9c5798 86px,#814f93 110px,#55498e 133px,#414b8c 140px,#506aa1 147px,#57b1db 152px,#6dbec7 155px,#79beab 158px,#75b570 168px,#73b351 178px,#73b355 196px,#79ba8a 209px,#72bfc1 216px,#58b6dc 219px,#547fb4 223px,#4d5f9b 226px,#444a8e 234px,#58498e 245px,#445091 269px,#516da4 273px,#58add8 276px,#5cb7d8 277px,#76c0ba 279px,#72b249 287px,#7fb73c 294px,#c1d349 302px,#ede345 308px,#efc13e 315px,#efc23e 326px,#eae346 333px,#b2cb45 340px,#7bb63c 347px,#72b248 353px,#79c0b4 361px,#57b3dd 364px,#4f659e 368px,#414b8c 373px,#915496 414px,#a5589b 456px,#a6589b 504px)"></i>
<i style="top:302px;height:3px;background:linear-gradient(90deg,#a6589b 0,#9c5798 87px,#804f92 111px,#55498e 133px,#414b8c 140px,#4f68a0 147px,#58add8 152px,#5fb8d5 154px,#77c0b8 157px,#78b881 165px,#73b357 177px,#73b358 195px,#79ba88 208px,#75c0bb 215px,#56b4de 219px,#4f659e 225px,#414b8c 232px,#58498e 245px,#445192 269px,#516fa5 273px,#58aed9 276px,#5cb7d8 277px,#77c0b8 279px,#72b249 287px,#80b73b 294px,#e5e248 306px,#efc03e 313px,#eeb93c 324px,#efd241 331px,#e8e347 334px,#9ac141 343px,#77b53d 348px,#73b34f 354px,#79c0b2 361px,#56b5de 364px,#4f669f 368px,#414b8c 373px,#915496 414px,#a5589b 456px,#a6589b 504px)"></i>
<i style="top:305px;height:3px;background:linear-gradient(90deg,#a6589b 0,#9c5798 87px,#804f92 111px,#56498e 133px,#424b8c 140px,#4f659f 147px,#599bcb 151px,#56b4de 153px,#79c0b4 158px,#78b880 166px,#74b45a 178px,#74b45e 196px,#78bb97 210px,#73bfbf 215px,#5ab6da 218px,#5aa5d2 220px,#506ba2 224px,#424c8d 231px,#59498e 245px,#455192 269px,#5170a7 273px,#57b0da 276px,#5db8d7 277px,#78c0b7 279px,#72b248 287px,#7bb63c 293px,#bed248 301px,#e9e347 306px,#eeb83c 314px,#eeb73c 326px,#efd442 332px,#e5e248 335px,#83b83b 346px,#74b441 351px,#72b24d 354px,#79bfb1 361px,#57b5dd 364px,#4f679f 368px,#414b8c 373px,#8f5495 412px,#a5589b 453px,#a6589b 504px)"></i>
<i style="top:308px;height:3px;background:linear-gradient(90deg,#a6589b 0,#9c5798 87px,#814f92 111px,#57498e 133px,#424c8d 141px,#4e639d 147px,#5686bb 150px,#57b0db 153px,#6cbdc8 156px,#78bea7 160px,#76b675 170px,#74b45c 181px,#75b565 197px,#78bc9a 210px,#71bfc2 215px,#58b6dc 218px,#5581b6 222px,#4e619c 225px,#434b8d 233px,#59498e 244px,#455192 269px,#5171a8 273px,#57b1db 276px,#70bfc4 278px,#78bda4 280px,#72b248 287px,#7cb63c 293px,#b7ce47 300px,#ece346 306px,#eeb93c 312px,#efaf3c 323px,#efc13e 330px,#e8e347 335px,#9fc342 343px,#79b53d 348px,#72b24c 354px,#73bfbe 362px,#58b6dc 364px,#578fc2 366px,#4f68a0 368px,#414c8d 373px,#8d5395 411px,#a5589b 452px,#a6589b 504px)"></i>
<i style="top:311px;height:3px;background:linear-gradient(90deg,#a6589b 0,#9c5798 87px,#814f93 111px,#57498e 133px,#414b8c 141px,#5069a1 148px,#57b6dd 154px,#79c0b3 159px,#78b983 167px,#74b461 180px,#75b568 196px,#78bc98 209px,#74bfbe 214px,#56b4dd 218px,#4f679f 224px,#414b8c 231px,#59498e 245px,#455192 269px,#4f659e 272px,#5688bc 274px,#57b3dc 276px,#79c0b4 279px,#72b247 287px,#7db73c 293px,#bad047 300px,#e9e347 305px,#eeb53c 312px,#efac3b 324px,#efc23e 331px,#ebe346 335px,#aac744 342px,#7ab63d 348px,#72b24a 354px,#74bfbd 362px,#59b6db 364px,#5890c3 366px,#4f69a1 368px,#414c8d 373px,#8c5395 410px,#a5589b 450px,#a6589b 504px)"></i>
<i style="top:314px;height:3px;background:linear-gradient(90deg,#a6589b 0,#9c5798 88px,#804f92 112px,#54498e 134px,#424d8e 142px,#4f679f 148px,#56b3dd 154px,#79bfaf 160px,#77b87f 169px,#75b565 183px,#76b672 198px,#78bc9b 209px,#71bfc2 214px,#59b6db 217px,#5896c7 220px,#4e649e 224px,#414b8c 231px,#5a498e 244px,#455192 269px,#4f669f 272px,#578abe 274px,#56b4de 276px,#79c0b2 279px,#72b24d 286px,#7eb73c 293px,#bdd148 300px,#ece346 305px,#eeb43c 311px,#f0a63b 321px,#eeb73c 330px,#e8e347 336px,#99c141 344px,#76b53d 349px,#72b249 354px,#75c0bc 362px,#5ab6da 364px,#5892c5 366px,#506aa1 368px,#424c8d 373px,#8a5294 409px,#a5589b 449px,#a6589b 504px)"></i>
<i style="top:317px;height:3px;background:linear-gradient(90deg,#a6589b 0,#9c5798 88px,#804f92 112px,#55498e 134px,#424d8e 142px,#4e649e 148px,#5896c7 152px,#59b6db 155px,#79c0b4 160px,#79ba86 168px,#75b56a 183px,#76b677 198px,#78bda0 209px,#6ebec6 214px,#57b5dd 217px,#506aa1 223px,#424c8d 230px,#5a498e 245px,#455293 269px,#4f679f 272px,#57b5dd 276px,#79bfb0 279px,#72b24c 286px,#80b73b 293px,#c0d349 300px,#e8e347 304px,#efb03c 311px,#f0a23b 321px,#eeb33c 330px,#ebe346 336px,#afca45 342px,#7cb63c 348px,#72b248 354px,#76c0ba 362px,#5ab7da 364px,#59aad6 365px,#506aa2 368px,#444f90 372px,#5c498e 387px,#925596 415px,#a5589b 456px,#a6589b 504px)"></i>
<i style="top:320px;height:3px;background:linear-gradient(90deg,#a6589b 0,#9c5798 88px,#814f92 112px,#55498e 134px,#424c8d 142px,#506aa1 149px,#56b5de 155px,#79bfb0 161px,#78b983 170px,#75b56f 186px,#78b984 202px,#79bfac 210px,#6abdca 214px,#57b2dc 217px,#4f67a0 223px,#424c8d 230px,#5a498e 245px,#455293 269px,#4f67a0 272px,#57b6dd 276px,#79bfaf 279px,#72b24a 286px,#7ab63c 292px,#b8cf47 299px,#ebe346 304px,#efb13c 310px,#f09e3a 319px,#efab3b 329px,#f0ca40 334px,#ede245 336px,#bcd148 341px,#83b83b 347px,#73b342 352px,#73b353 355px,#77c0b9 362px,#5bb7d9 364px,#58acd7 365px,#506ba2 368px,#444f90 372px,#5a498e 386px,#905495 414px,#a5589b 455px,#a6589b 504px)"></i>
<i style="top:323px;height:3px;background:linear-gradient(90deg,#a6589b 0,#9c5798 88px,#814f92 112px,#56498e 134px,#414c8d 142px,#4f67a0 149px,#57b1db 155px,#79c0b5 161px,#79ba8a 169px,#76b674 184px,#78b985 201px,#79bfb0 210px,#66bbce 214px,#57b6dd 216px,#5686bb 220px,#4f659e 223px,#424b8d 231px,#5a498e 244px,#434f90 268px,#4f68a0 272px,#5aa7d3 275px,#58b6dc 276px,#74bfbd 278px,#72b249 286px,#7bb63c 292px,#b0ca45 298px,#e6e248 303px,#ede245 304px,#efb23c 309px,#f09b3a 317px,#f0a33b 328px,#efc53f 334px,#e9e347 337px,#a0c442 344px,#78b53d 349px,#73b351 355px,#77c0b8 362px,#5cb7d8 364px,#58add8 365px,#506ca3 368px,#445091 372px,#5a498e 386px,#905495 414px,#a5589b 455px,#a6589b 504px)"></i>
<i style="top:326px;height:3px;background:linear-gradient(90deg,#a6589b 0,#9c5798 89px,#804f92 113px,#57498e 134px,#414b8c 142px,#4f659e 149px,#5894c6 153px,#57b5dd 156px,#79c0b2 162px,#79ba88 171px,#76b679 188px,#79ba8c 202px,#75c0bb 211px,#56b3dd 216px,#4e639d 223px,#424b8d 231px,#5b498e 244px,#444f90 268px,#5069a1 272px,#59a8d4 275px,#59b6db 276px,#75c0bc 278px,#72b248 286px,#7db73c 292px,#a8c743 297px,#e9e347 303px,#efae3c 309px,#f09739 318px,#f0a23b 329px,#f0cb40 335px,#ece345 337px,#b7ce47 342px,#7fb73c 348px,#72b247 354px,#78c0b6 362px,#5db8d7 364px,#58afd9 365px,#516ea4 368px,#445091 372px,#57498e 385px,#905495 414px,#a5589b 455px,#a6589b 504px)"></i>
<i style="top:329px;height:3px;background:linear-gradient(90deg,#a6589b 0,#9c5798 89px,#804f92 113px,#58498e 134px,#414b8c 142px,#4e629d 149px,#578ec2 153px,#57b2dc 156px,#78c0b7 162px,#79ba8c 171px,#77b77d 187px,#79bb90 202px,#73bfbf 211px,#58b6dc 215px,#578abe 219px,#4e609b 223px,#444a8e 232px,#5b498e 244px,#444f90 268px,#506aa1 272px,#59a9d5 275px,#5ab6da 276px,#76c0bb 278px,#72b248 286px,#7eb73c 292px,#abc744 297px,#ece346 303px,#efb03c 308px,#f09438 316px,#f09b3a 328px,#eebc3d 334px,#ede044 337px,#d4db4b 340px,#86ba3c 347px,#74b440 352px,#72b24e 355px,#79c0b5 362px,#5eb8d6 364px,#57b0da 365px,#516fa5 368px,#445091 372px,#57498e 385px,#905495 414px,#a5589b 455px,#a6589b 504px)"></i>
<i style="top:332px;height:3px;background:linear-gradient(90deg,#a6589b 0,#9c5798 89px,#814f92 113px,#58498e 134px,#424b8c 142px,#4d609b 149px,#5689bd 153px,#57b5dd 157px,#79c0b5 163px,#79ba8d 172px,#78b881 189px,#78bb94 202px,#70bfc3 211px,#56b4dd 215px,#4f659e 222px,#424b8c 230px,#5b498e 244px,#444f90 268px,#506aa2 272px,#59abd6 275px,#5bb7d9 276px,#76c0ba 278px,#72b248 286px,#7eb73c 292px,#b8cf47 298px,#e6e248 302px,#ede044 303px,#efac3b 308px,#f09138 316px,#f09839 328px,#eeb73c 334px,#e9e346 338px,#9cc241 345px,#76b53d 350px,#72b24c 355px,#79c0b4 362px,#5fb8d5 364px,#57b1db 365px,#5170a6 368px,#445091 372px,#57498e 385px,#905495 414px,#a5589b 454px,#a6589b 504px)"></i>
<i style="top:335px;height:3px;background:linear-gradient(90deg,#a6589b 0,#9c5798 90px,#7a4d91 118px,#59498e 134px,#414c8d 143px,#4f659e 150px,#57b2dc 157px,#79c0b3 164px,#79bb8f 173px,#78b985 191px,#78bd9f 204px,#72bfc1 210px,#58b6dc 214px,#578cc0 218px,#4e629d 222px,#424b8d 230px,#5c498e 244px,#445091 268px,#506ba2 272px,#58acd7 275px,#5bb7d9 276px,#77c0b8 278px,#72b247 286px,#7fb73b 292px,#bad048 298px,#e9e347 302px,#efa83b 308px,#f08e37 316px,#f09438 328px,#eebd3d 335px,#ece345 338px,#b4cc46 343px,#82b83b 348px,#73b343 353px,#72b24a 355px,#79c0b2 362px,#57b3dc 365px,#5171a7 368px,#475495 371px,#474a8f 378px,#8f5495 413px,#a5589b 453px,#a6589b 504px)"></i>
<i style="top:338px;height:3px;background:linear-gradient(90deg,#a6589b 0,#9c5798 90px,#7b4d91 118px,#5a498e 134px,#414b8c 143px,#5069a1 151px,#57b5dd 158px,#77c0b8 164px,#79bb91 174px,#79ba8a 193px,#78bda5 204px,#6fbec5 210px,#56b3dd 214px,#4f67a0 221px,#414b8c 229px,#5c498e 244px,#445091 268px,#506ca3 272px,#58add8 275px,#5cb7d8 276px,#78c0b7 278px,#73b34f 285px,#7ab63c 291px,#b2cb45 297px,#ebe346 302px,#efab3b 307px,#ef8c37 315px,#f09138 328px,#eeb83c 335px,#ede044 338px,#d1da4b 341px,#83b83b 348px,#73b342 353px,#72b249 355px,#79bfb1 362px,#56b4dd 365px,#5272a8 368px,#475595 371px,#454a8f 377px,#8f5495 413px,#a5589b 453px,#a6589b 504px)"></i>
<i style="top:341px;height:3px;background:linear-gradient(90deg,#a6589b 0,#9c5798 90px,#7b4e91 118px,#5b498e 134px,#414b8c 143px,#4f669f 151px,#57b2dc 158px,#79bfb2 166px,#79bb92 176px,#78bb92 196px,#79c0b4 206px,#57b5dd 213px,#5580b5 218px,#4d5e9a 222px,#444a8e 231px,#5c498e 243px,#445091 268px,#516da4 272px,#58afd9 275px,#5db8d7 276px,#78c0b6 278px,#72b24d 285px,#7bb63c 291px,#a9c744 296px,#e5e248 301px,#ede145 302px,#efaf3c 306px,#ef8c37 313px,#ef8a37 326px,#f0a53b 333px,#f0cb40 337px,#e9e347 339px,#a2c443 345px,#77b53d 350px,#72b249 355px,#79bfaf 362px,#56b5de 365px,#4f659e 369px,#414b8c 374px,#905495 414px,#a5589b 454px,#a6589b 504px)"></i>
<i style="top:344px;height:3px;background:linear-gradient(90deg,#a6589b 0,#9c5798 91px,#734b8f 124px,#50498e 137px,#434e8f 145px,#506aa2 152px,#56b5de 159px,#78c0b7 166px,#78bb96 176px,#78bb96 196px,#74bfbd 207px,#57b2dc 213px,#4e629c 221px,#434b8d 230px,#5d498d 243px,#445091 268px,#516ea5 272px,#57b0da 275px,#5eb8d6 276px,#79c0b5 278px,#72b24c 285px,#7cb63c 291px,#a0c442 295px,#e7e347 301px,#f0a43b 307px,#ef8636 315px,#ef8b37 328px,#efb13c 335px,#ebe346 339px,#a4c543 345px,#78b53d 350px,#72b248 355px,#73bfbe 363px,#57b5dd 365px,#4f669f 369px,#414b8c 374px,#905495 414px,#a5589b 454px,#a6589b 504px)"></i>
<i style="top:347px;height:3px;background:linear-gradient(90deg,#a6589b 0,#9c5798 91px,#744b8f 124px,#51498e 137px,#424d8e 145px,#4f68a0 152px,#57b0db 159px,#6fbfc5 164px,#78bda0 173px,#78bb95 190px,#79bfac 202px,#6dbec7 208px,#56b5de 212px,#4f669f 220px,#414b8c 228px,#5d498d 243px,#445091 268px,#516fa6 272px,#57b1db 275px,#71bfc3 277px,#78bb93 280px,#72b24a 285px,#7db73c 291px,#a1c442 295px,#eae346 301px,#efa83b 306px,#ef8636 313px,#ee8336 326px,#f09e3a 333px,#efd141 338px,#ede245 339px,#b1cb45 344px,#7fb73b 349px,#72b248 355px,#74bfbd 363px,#58b6dc 365px,#578dc1 367px,#4f669f 369px,#414b8c 374px,#8f5495 414px,#a5589b 454px,#a6589b 504px)"></i>
<i style="top:350px;height:3px;background:linear-gradient(90deg,#a6589b 0,#9c5798 91px,#744b8f 124px,#52498e 137px,#424d8e 145px,#506ba2 153px,#56b3dd 160px,#78c0b7 168px,#78bc9b 180px,#78bda2 197px,#72bfc1 206px,#57b0db 212px,#4e639d 220px,#434b8d 229px,#5d498d 243px,#445091 268px,#5170a7 272px,#57b2dc 275px,#79c0b2 278px,#72b249 285px,#7eb73c 291px,#afca45 296px,#ece345 301px,#efad3c 305px,#ef8636 312px,#ee7f35 325px,#f09b3a 333px,#f0cc40 338px,#e7e347 340px,#91be3e 347px,#76b53e 351px,#72b248 355px,#75c0bc 363px,#59b6db 365px,#578fc2 367px,#4f67a0 369px,#414b8c 374px,#8f5495 414px,#a5589b 454px,#a6589b 504px)"></i>
<i style="top:353px;height:3px;background:linear-gradient(90deg,#a6589b 0,#9c5798 92px,#6f4a8e 128px,#424b8c 144px,#4f68a0 153px,#56b5de 161px,#77c0b8 169px,#78bc9f 182px,#79beaa 198px,#6ebec6 206px,#57b3dc 211px,#4d609b 220px,#444a8e 230px,#5e498d 243px,#445192 268px,#4e649d 271px,#5687bc 273px,#56b4dd 275px,#79bfb1 278px,#72b249 285px,#7eb73c 291px,#bdd248 297px,#e5e248 300px,#eddf44 301px,#efaa3b 305px,#ee8335 312px,#ee7c35 325px,#f09739 333px,#f0c83f 338px,#e9e347 340px,#9ec342 346px,#7ab63c 350px,#73b350 356px,#75c0bb 363px,#59b6db 365px,#5790c3 367px,#4f68a0 369px,#414b8c 374px,#8f5495 414px,#a5589b 454px,#a6589b 504px)"></i>
<i style="top:356px;height:3px;background:linear-gradient(90deg,#a6589b 0,#9c5798 92px,#6f4b8f 128px,#424b8d 144px,#4f669f 153px,#57b0db 161px,#78c0b7 171px,#78bda4 185px,#79c0b2 199px,#68bccc 206px,#56b5de 210px,#4e649d 219px,#424b8d 228px,#5e498d 243px,#455192 268px,#4e649e 271px,#5689bd 273px,#56b5de 275px,#79bfb0 278px,#72b248 285px,#7fb73b 291px,#c0d349 297px,#e7e347 300px,#f09e3a 306px,#ed7c35 314px,#ee7f35 328px,#f0a33b 335px,#efd442 339px,#ebe346 340px,#acc844 345px,#82b83b 349px,#73b344 354px,#73b34f 356px,#76c0ba 363px,#5ab6da 365px,#59a9d5 366px,#4f68a0 369px,#414b8c 374px,#8f5495 414px,#a5589b 454px,#a6589b 504px)"></i>
<i style="top:359px;height:3px;background:linear-gradient(90deg,#a6589b 0,#9c5798 92px,#704b8f 128px,#424b8d 144px,#4e639d 153px,#5999ca 159px,#58b6dc 163px,#77c0b9 172px,#79beaa 187px,#74bfbd 201px,#57b5dd 209px,#5580b5 215px,#4c5c99 220px,#454a8e 230px,#5e498d 243px,#455192 268px,#4f659e 271px,#578abe 273px,#57b5dd 275px,#79bfae 278px,#72b248 285px,#80b83b 291px,#c3d449 297px,#eae346 300px,#f0a33b 305px,#ee7e35 312px,#ed7935 326px,#f09839 334px,#f0cf41 339px,#ede145 340px,#bad048 344px,#83b83b 349px,#73b343 354px,#72b24d 356px,#77c0b9 363px,#5bb7d9 365px,#59aad6 366px,#5069a1 369px,#434f90 373px,#5e498d 389px,#8f5495 414px,#a5589b 453px,#a6589b 504px)"></i>
<i style="top:362px;height:3px;background:linear-gradient(90deg,#a6589b 0,#9c5798 93px,#6b4a8e 131px,#434b8d 144px,#4d609b 153px,#5688bd 158px,#56b3dd 163px,#77c0b9 174px,#79bfb1 192px,#6cbdc8 203px,#57b1db 209px,#4d5e9a 219px,#444a8e 229px,#5f498d 243px,#434e8f 267px,#4f669f 271px,#578cc0 273px,#57b5dd 275px,#74bfbe 277px,#72b248 285px,#81b83b 291px,#c6d549 297px,#ece345 300px,#efaa3b 304px,#ee8235 310px,#ec7334 321px,#ee8436 331px,#efb03c 337px,#eedd44 340px,#dadf4a 342px,#84b93b 349px,#74b43f 353px,#72b24c 356px,#77c0b8 363px,#5bb7d9 365px,#59abd7 366px,#506aa1 369px,#434f90 373px,#5b498e 388px,#8f5495 414px,#a5589b 453px,#a6589b 504px)"></i>
<i style="top:365px;height:3px;background:linear-gradient(90deg,#a6589b 0,#9c5798 93px,#6c4a8e 131px,#424b8d 145px,#4e639d 154px,#56b4dd 164px,#75c0bc 175px,#77c0b9 194px,#66bbce 203px,#57b2db 208px,#4e619c 218px,#434b8d 228px,#5f498d 243px,#434e8f 267px,#4f669f 271px,#578dc1 273px,#58b6dc 275px,#74bfbd 277px,#72b247 285px,#7bb63c 290px,#a1c442 294px,#e4e249 299px,#ede044 300px,#f0a73b 304px,#ed7c35 311px,#ec7134 324px,#ef8c37 333px,#eeb83c 338px,#e8e347 341px,#99c141 347px,#77b53d 351px,#72b24b 356px,#78c0b7 363px,#5cb7d8 365px,#58acd8 366px,#506aa2 369px,#434f90 373px,#59498e 387px,#8f5495 414px,#a5589b 453px,#a6589b 504px)"></i>
<i style="top:368px;height:3px;background:linear-gradient(90deg,#a6589b 0,#9c5798 93px,#6d4a8e 131px,#424b8d 145px,#4f659f 155px,#56b4dd 165px,#73bfbe 177px,#72bfc0 196px,#57b2dc 207px,#4d5e9a 218px,#454a8e 229px,#60498d 242px,#434e8f 267px,#4f679f 271px,#578ec2 273px,#59b6db 275px,#75c0bc 277px,#73b34f 284px,#7cb63c 290px,#a3c543 294px,#e6e248 299px,#eedc44 300px,#f0a33b 304px,#ed7935 311px,#eb6e34 323px,#ee8436 332px,#eeb53c 338px,#eae346 341px,#b4cc46 345px,#7fb73c 350px,#72b249 356px,#79c0b6 363px,#5db8d7 365px,#58add8 366px,#506ba2 369px,#444f90 373px,#57498e 386px,#8e5395 413px,#a5589b 452px,#a6589b 504px)"></i>
<i style="top:371px;height:3px;background:linear-gradient(90deg,#a6589b 0,#9c5798 94px,#6a4a8e 132px,#434b8d 145px,#4e629d 155px,#56b3dd 166px,#72bfc1 180px,#6abdca 198px,#57b1db 206px,#4e609b 217px,#444a8e 228px,#60498d 242px,#434e8f 267px,#4f67a0 271px,#578fc3 273px,#59b6db 275px,#76c0bb 277px,#72b24e 284px,#7db73c 290px,#a4c543 294px,#e8e347 299px,#f0a13b 304px,#ed7734 311px,#eb6b34 323px,#ee8135 332px,#efb23c 338px,#ece345 341px,#b6cd46 345px,#7fb73b 350px,#72b249 356px,#79c0b5 363px,#5db8d7 365px,#58afd9 366px,#506ca3 369px,#444f90 373px,#56498e 386px,#8e5395 413px,#a5589b 452px,#a6589b 504px)"></i>
<i style="top:374px;height:2px;background:linear-gradient(90deg,#a6589b 0,#9c5798 94px,#6a4a8e 132px,#424b8d 146px,#4f659f 156px,#56b4dd 167px,#71bfc3 182px,#66bbce 198px,#57b2dc 205px,#5376ac 213px,#465293 221px,#474a8f 230px,#60498d 242px,#434e8f 267px,#4f68a0 271px,#5790c3 273px,#5ab6da 275px,#76c0ba 277px,#72b24d 284px,#7db73c 290px,#a5c643 294px,#e9e346 299px,#f09f3a 304px,#ed7534 311px,#ea6933 323px,#ef8536 333px,#efb03c 338px,#ede145 341px,#b7ce47 345px,#80b73b 350px,#72b249 356px,#79c0b4 363px,#5eb8d6 365px,#58afda 366px,#506ca3 369px,#444f90 373px,#54498e 385px,#8e5395 413px,#a5589b 452px,#a6589b 504px)"></i>
<i style="top:376px;height:2px;background:linear-gradient(90deg,#a6589b 0,#9c5798 94px,#6b4a8e 132px,#424b8d 146px,#4e639d 156px,#56b5de 168px,#6dbec7 184px,#60b9d4 199px,#58aed9 205px,#4e629c 216px,#434b8d 227px,#61498d 242px,#434e8f 267px,#4f68a0 271px,#5891c4 273px,#59a9d5 274px,#5ab6da 275px,#76c0b9 277px,#72b24c 284px,#7eb73c 290px,#b3cc46 295px,#ebe346 299px,#f0a73b 303px,#ed7b35 309px,#e96733 319px,#ed7634 330px,#f0a33b 337px,#eedf44 341px,#d8dd4b 343px,#87ba3c 349px,#74b441 354px,#72b248 356px,#79c0b3 363px,#5eb8d6 365px,#57b0da 366px,#506da4 369px,#444f90 373px,#54498e 385px,#8d5395 413px,#a5589b 452px,#a6589b 504px)"></i>
<i style="top:378px;height:2px;background:linear-gradient(90deg,#a6589b 0,#9c5798 95px,#684a8e 133px,#434b8d 146px,#4e619c 156px,#57b1db 168px,#69bccb 188px,#58afda 204px,#4d609b 216px,#444a8e 227px,#61498d 242px,#434e8f 267px,#4f68a0 271px,#59a9d6 274px,#5ab7da 275px,#77c0b9 277px,#72b24c 284px,#7eb73c 290px,#b4cd46 295px,#ece345 299px,#f0a53b 303px,#ed7a35 309px,#e96533 319px,#ed7434 330px,#f0a13b 337px,#f0c93f 340px,#eedc43 341px,#d9de4a 343px,#88ba3c 349px,#74b441 354px,#72b248 356px,#79c0b2 363px,#5fb8d5 365px,#57b1db 366px,#516ea4 369px,#444f90 373px,#54498e 385px,#8d5395 413px,#a5589b 452px,#a6589b 504px)"></i>
<i style="top:380px;height:2px;background:linear-gradient(90deg,#a6589b 0,#9c5798 95px,#694a8e 133px,#434b8d 146px,#4e649e 157px,#57b1db 169px,#65bbcf 190px,#58afda 203px,#537ab0 211px,#475595 219px,#464a8f 229px,#61498d 242px,#434f90 267px,#5069a1 271px,#59aad6 274px,#5bb7d9 275px,#77c0b8 277px,#72b24b 284px,#7fb73c 290px,#b6cd46 295px,#ede245 299px,#efaf3c 302px,#ee7d35 308px,#e86433 318px,#ec6f34 329px,#f09539 336px,#efc63f 340px,#e7e347 342px,#94bf3f 348px,#76b53e 352px,#72b248 356px,#79bfb2 363px,#60b9d4 365px,#57b1db 366px,#516ea5 369px,#445091 373px,#54498e 385px,#8d5395 413px,#a5589b 452px,#a6589b 504px)"></i>
<i style="top:382px;height:2px;background:linear-gradient(90deg,#a6589b 0,#9c5798 95px,#694a8e 133px,#424b8d 147px,#4f679f 158px,#58add8 169px,#5fb8d5 179px,#58b6dc 199px,#5895c7 207px,#4e609b 215px,#444a8e 227px,#61498d 242px,#434f90 267px,#5069a1 271px,#59abd6 274px,#5bb7d9 275px,#77c0b8 277px,#72b24a 284px,#7fb73c 290px,#b7ce47 295px,#e4e249 298px,#eddf44 299px,#efad3c 302px,#ed7b35 308px,#e86233 318px,#eb6e34 329px,#f09438 336px,#efc43e 340px,#e8e347 342px,#95c040 348px,#76b53d 352px,#72b248 356px,#79bfb1 363px,#60b9d4 365px,#57b2dc 366px,#516fa5 369px,#445091 373px,#54498e 385px,#8d5395 413px,#a5589b 452px,#a6589b 504px)"></i>
<i style="top:384px;height:2px;background:linear-gradient(90deg,#a6589b 0,#9c5798 96px,#6a4a8e 133px,#424b8d 147px,#4e649e 158px,#58acd8 170px,#5bb7d9 178px,#57b1db 200px,#5689bd 208px,#4d5e9a 215px,#454a8e 227px,#62498d 242px,#434f90 267px,#506aa1 271px,#59abd7 274px,#5cb7d8 275px,#78c0b7 277px,#72b249 284px,#80b73b 290px,#b8cf47 295px,#e5e248 298px,#eedd44 299px,#efab3b 302px,#ed7a35 308px,#e76132 317px,#ea6933 328px,#f09238 336px,#efc23e 340px,#eae346 342px,#a3c543 347px,#82b83b 350px,#73b344 355px,#73b353 357px,#79bfb0 363px,#57b3dc 366px,#516fa6 369px,#445091 373px,#54498e 385px,#8d5395 413px,#a5589b 452px,#a6589b 504px)"></i>
<i style="top:386px;height:2px;background:linear-gradient(90deg,#a6589b 0,#9c5798 96px,#6a4a8e 133px,#434b8d 147px,#4e629d 158px,#59abd7 171px,#5bb7d9 182px,#57b0da 199px,#578bbf 207px,#4e619c 214px,#444a8e 226px,#62498d 242px,#434f90 267px,#506aa1 271px,#58acd7 274px,#5cb7d8 275px,#78c0b6 277px,#72b249 284px,#80b73b 290px,#b9cf47 295px,#e6e248 298px,#efc63f 300px,#ef8c37 305px,#e86333 314px,#e86433 327px,#ef8836 335px,#efc03e 340px,#ebe346 342px,#b1cb45 346px,#83b83b 350px,#74b440 354px,#73b352 357px,#79bfb0 363px,#56b3dd 366px,#5170a6 369px,#445091 373px,#53498e 385px,#8d5395 413px,#a5589b 451px,#a6589b 504px)"></i>
<i style="top:388px;height:2px;background:linear-gradient(90deg,#a6589b 0,#9c5798 96px,#6b4a8e 133px,#434b8d 147px,#4e649e 159px,#59aad6 172px,#58b6dc 185px,#58acd7 199px,#547eb3 208px,#4a5997 216px,#454a8e 227px,#62498d 242px,#434f90 267px,#506aa2 271px,#58add8 274px,#5cb7d8 275px,#79c0b6 277px,#72b249 284px,#80b83b 290px,#bad048 295px,#e7e347 298px,#f09c3a 303px,#eb6e34 310px,#e65c32 320px,#eb6c34 330px,#f09839 337px,#f0cf41 341px,#ece345 342px,#b2cc46 346px,#83b93b 350px,#74b440 354px,#73b351 357px,#79bfaf 363px,#56b4dd 366px,#5170a7 369px,#465494 372px,#4a4a8f 381px,#8d5395 413px,#a5589b 451px,#a6589b 504px)"></i>
<i style="top:390px;height:2px;background:linear-gradient(90deg,#a6589b 0,#9c5798 96px,#6c4a8e 133px,#424b8d 148px,#4f669f 160px,#5aa6d3 172px,#56b5de 187px,#5aa4d2 200px,#4c5d99 214px,#444a8e 226px,#62498d 242px,#434f90 267px,#506ba2 271px,#58add8 274px,#5db8d7 275px,#79c0b5 277px,#72b249 284px,#81b83b 290px,#bcd148 295px,#e9e347 298px,#f09a3a 303px,#eb6c34 310px,#e65b32 319px,#e96733 329px,#ef8d37 336px,#eebb3d 340px,#ede245 342px,#b3cc46 346px,#84b93b 350px,#74b440 354px,#73b350 357px,#73bfbf 364px,#56b5de 366px,#5171a7 369px,#465494 372px,#4a4a8f 381px,#8d5395 413px,#a5589b 451px,#a6589b 504px)"></i>
<i style="top:392px;height:2px;background:linear-gradient(90deg,#a6589b 0,#9c5798 97px,#6c4a8e 133px,#434b8d 148px,#4e649e 160px,#5aa6d3 174px,#58aed9 192px,#5897c8 202px,#4d5e9a 213px,#454a8e 226px,#64498d 241px,#444f90 267px,#506ba2 271px,#58aed9 274px,#5db8d7 275px,#79c0b5 277px,#72b248 284px,#7ab63c 289px,#a2c443 293px,#eae346 298px,#f09939 303px,#ea6b33 310px,#e65a31 319px,#e96533 329px,#f09539 337px,#f0cb40 341px,#ede044 342px,#d5dc4b 344px,#84b93b 350px,#74b440 354px,#73b350 357px,#73bfbe 364px,#56b5de 366px,#5171a8 369px,#475495 372px,#474a8f 380px,#8c5395 412px,#a5589b 450px,#a6589b 504px)"></i>
<i style="top:394px;height:2px;background:linear-gradient(90deg,#a6589b 0,#9c5798 97px,#6d4a8e 133px,#434b8d 148px,#4f669f 161px,#59a1cf 174px,#59abd6 191px,#5891c4 202px,#4c5d99 213px,#444a8e 225px,#64498d 241px,#444f90 267px,#506ca2 271px,#58afd9 274px,#5db8d7 275px,#79c0b4 277px,#72b248 284px,#7bb63c 289px,#96c040 292px,#dfe14a 297px,#ebe346 298px,#f0a23b 302px,#ec7334 308px,#e65a31 316px,#e86333 329px,#f09338 337px,#f0c83f 341px,#eedd44 342px,#d7dd4b 344px,#85b93b 350px,#74b440 354px,#73b34f 357px,#74bfbe 364px,#57b5dd 366px,#5272a8 369px,#475495 372px,#474a8f 380px,#8c5395 412px,#a5589b 450px,#a6589b 504px)"></i>
<i style="top:396px;height:2px;background:linear-gradient(90deg,#a6589b 0,#9c5798 97px,#6e4a8e 133px,#434b8d 148px,#4e639d 161px,#599ecd 175px,#5aa6d3 192px,#5687bc 203px,#4b5c99 213px,#454a8f 226px,#64498d 241px,#444f90 267px,#506ca3 271px,#58afda 274px,#5eb8d6 275px,#79c0b3 277px,#72b248 284px,#7bb63c 289px,#97c040 292px,#e0e24a 297px,#ece345 298px,#efad3c 301px,#ed7734 307px,#e65a31 315px,#e65f32 328px,#ef8936 336px,#efc63f 341px,#eedb43 342px,#e5e248 343px,#85b93b 350px,#74b440 354px,#72b24e 357px,#74bfbd 364px,#57b5dd 366px,#5272a9 369px,#475495 372px,#464a8f 379px,#8c5395 412px,#a5589b 450px,#a6589b 504px)"></i>
<i style="top:398px;height:2px;background:linear-gradient(90deg,#a6589b 0,#9b5798 98px,#6e4a8e 133px,#434b8d 149px,#4f68a0 163px,#599bcb 176px,#599fce 193px,#5581b6 203px,#4b5a98 213px,#454a8e 225px,#65498d 241px,#444f90 267px,#506ca3 271px,#57b0da 274px,#5eb8d6 275px,#79c0b3 277px,#72b248 284px,#7bb63c 289px,#a5c643 293px,#e1e249 297px,#ede245 298px,#efab3b 301px,#ed7634 307px,#e65931 315px,#e76032 329px,#f09038 337px,#efc43e 341px,#e6e248 343px,#86ba3c 350px,#74b43f 354px,#72b24e 357px,#74bfbd 364px,#57b5dd 366px,#4e649e 370px,#424b8c 375px,#8f5495 415px,#a5589b 454px,#a6589b 504px)"></i>
<i style="top:400px;height:2px;background:linear-gradient(90deg,#a6589b 0,#9c5798 98px,#6f4a8e 133px,#434b8d 149px,#4f669f 163px,#5897c8 177px,#5898c9 194px,#5273a9 205px,#434e8f 219px,#51498e 230px,#64498d 242px,#424c8d 266px,#4e609b 270px,#5581b6 272px,#57b0db 274px,#5fb8d5 275px,#79c0b2 277px,#72b248 284px,#7cb63c 289px,#a6c643 293px,#e3e249 297px,#eddf44 298px,#efaa3b 301px,#ed7434 307px,#e65831 315px,#e75f32 329px,#f08f37 337px,#efc23e 341px,#e8e347 343px,#91be3e 349px,#76b53e 353px,#72b24d 357px,#75c0bc 364px,#58b6dc 366px,#578bbf 368px,#4f659e 370px,#424b8c 375px,#8f5495 415px,#a5589b 454px,#a6589b 504px)"></i>
<i style="top:402px;height:2px;background:linear-gradient(90deg,#a6589b 0,#9c5798 98px,#6c4a8e 134px,#434b8d 149px,#4f669f 164px,#5894c6 179px,#578ec2 196px,#495897 213px,#454a8f 225px,#65498d 241px,#424c8d 266px,#4e619c 270px,#5582b7 272px,#57b1db 274px,#71bfc2 276px,#78b982 280px,#72b248 284px,#7cb63c 289px,#a7c643 293px,#e4e249 297px,#eedd44 298px,#efa83b 301px,#ec7334 307px,#e65831 314px,#e65d32 329px,#ef8d37 337px,#efc03e 341px,#e9e347 343px,#9fc342 348px,#78b53d 352px,#72b24c 357px,#75c0bc 364px,#58b6dc 366px,#578cc0 368px,#4f659e 370px,#424b8c 375px,#8f5495 415px,#a5589b 453px,#a6589b 504px)"></i>
<i style="top:404px;height:2px;background:linear-gradient(90deg,#a6589b 0,#9b5798 99px,#6d4a8e 134px,#434b8d 150px,#506aa1 166px,#578fc2 180px,#5688bd 196px,#485696 213px,#454a8f 225px,#65498d 241px,#424c8d 266px,#4e619c 270px,#5583b7 272px,#57b2db 274px,#72bfc1 276px,#78b982 280px,#72b247 284px,#7db73c 289px,#a8c643 293px,#e5e248 297px,#eedb43 298px,#f0a73b 301px,#ec7234 307px,#e65731 314px,#e65c32 329px,#ef8c37 337px,#efbe3d 341px,#eae346 343px,#a0c442 348px,#78b53d 352px,#72b24b 357px,#75c0bb 364px,#58b6dc 366px,#578dc0 368px,#4f659f 370px,#424b8c 375px,#8f5495 415px,#a5589b 453px,#a6589b 504px)"></i>
<i style="top:406px;height:2px;background:linear-gradient(90deg,#a6589b 0,#9c5798 99px,#6e4a8e 134px,#434b8d 150px,#506aa1 167px,#578abe 182px,#5580b5 197px,#434d8e 218px,#50498e 229px,#65498d 242px,#424c8d 266px,#4e619c 270px,#5583b8 272px,#57b2dc 274px,#79bfb0 277px,#72b247 284px,#7db73c 289px,#a9c744 293px,#e6e248 297px,#efc43e 299px,#ef8536 304px,#e65a31 312px,#e65731 327px,#ed7434 334px,#f0a03b 339px,#ebe346 343px,#aec944 347px,#80b73b 351px,#72b24b 357px,#76c0bb 364px,#59b6db 366px,#578dc1 368px,#4f669f 370px,#424b8c 375px,#8f5495 415px,#a5589b 453px,#a6589b 504px)"></i>
<i style="top:408px;height:2px;background:linear-gradient(90deg,#a6589b 0,#9c5798 99px,#6e4a8e 134px,#434b8d 150px,#5069a1 168px,#5584b9 184px,#5275ab 199px,#424b8c 220px,#66498d 241px,#424c8d 266px,#4e619c 270px,#5584b9 272px,#57b3dc 274px,#79bfb0 277px,#72b247 284px,#7eb73c 289px,#a9c744 293px,#e7e347 297px,#f09739 302px,#e65e32 310px,#e6522f 323px,#e96633 332px,#f09e3a 339px,#f0ce40 342px,#ece345 343px,#afca45 347px,#80b83b 351px,#72b24a 357px,#76c0ba 364px,#59b6db 366px,#578ec1 368px,#4f669f 370px,#414b8c 375px,#8f5495 415px,#a5589b 453px,#a6589b 504px)"></i>
<i style="top:410px;height:2px;background:linear-gradient(90deg,#a6589b 0,#9b5798 100px,#6f4a8e 134px,#434b8d 151px,#5272a8 173px,#547db3 190px,#434b8d 221px,#66498d 241px,#424c8d 266px,#4e629c 270px,#5685b9 272px,#56b3dd 274px,#79bfaf 277px,#73b350 283px,#77b53d 288px,#9dc342 292px,#e8e347 297px,#f09639 302px,#e65d32 310px,#e6512f 323px,#e96533 332px,#f09d3a 339px,#f0cc40 342px,#ede345 343px,#bfd248 346px,#81b83b 351px,#73b345 356px,#74b459 358px,#76c0ba 364px,#59b6db 366px,#578fc2 368px,#4f669f 370px,#414b8c 375px,#8f5495 415px,#a5589b 453px,#a6589b 504px)"></i>
<i style="top:412px;height:3px;background:linear-gradient(90deg,#a6589b 0,#9c5798 100px,#704b8f 134px,#434b8d 151px,#5276ac 184px,#4f669f 202px,#444a8e 222px,#67498d 241px,#424d8e 266px,#4e629d 270px,#5686ba 272px,#56b4dd 274px,#79bfae 277px,#73b34f 283px,#7fb73c 289px,#bad048 294px,#eae346 297px,#f09438 302px,#e65b32 310px,#e64f2f 323px,#e86333 332px,#f09b3a 339px,#f0c93f 342px,#ede044 343px,#d4db4b 345px,#89bb3c 350px,#74b43f 354px,#72b249 357px,#77c0b9 364px,#5ab6da 366px,#59a8d4 367px,#5376ac 369px,#485695 372px,#444a8e 378px,#8d5395 413px,#a5589b 451px,#a6589b 504px)"></i>
<i style="top:415px;height:3px;background:linear-gradient(90deg,#a6589b 0,#9b5798 101px,#714b8f 134px,#434b8d 152px,#516fa6 185px,#4b5b98 206px,#454a8e 222px,#674a8e 241px,#424d8e 266px,#4e639d 270px,#5687bb 272px,#56b5de 274px,#73bfbe 276px,#72b24e 283px,#7fb73c 289px,#bcd148 294px,#ebe346 297px,#f09e3a 301px,#e86333 308px,#e64d2f 318px,#e65c32 331px,#f08e37 338px,#efc63f 342px,#eedc44 343px,#e4e249 344px,#89bb3c 350px,#75b43f 354px,#72b249 357px,#77c0b8 364px,#5ab7da 366px,#59a9d5 367px,#5377ad 369px,#485696 372px,#444a8e 378px,#8d5395 413px,#a5589b 451px,#a6589b 504px)"></i>
<i style="top:418px;height:4px;background:linear-gradient(90deg,#a6589b 0,#9c5798 101px,#724b8f 134px,#444a8e 152px,#506aa1 186px,#434e8f 214px,#4e498e 226px,#684a8e 241px,#424d8e 266px,#4e639d 270px,#5688bc 272px,#56b5de 274px,#74bfbe 276px,#72b24d 283px,#80b73b 289px,#bdd248 294px,#ede345 297px,#efa93b 300px,#ec6f34 306px,#e65330 312px,#e64d2f 325px,#e86533 333px,#f09739 339px,#efc43e 342px,#eeda43 343px,#e5e248 344px,#8bbc3c 350px,#75b43f 354px,#72b248 357px,#78c0b7 364px,#5bb7d9 366px,#59aad6 367px,#5377ad 369px,#485696 372px,#444a8e 378px,#8c5395 413px,#a5589b 451px,#a6589b 504px)"></i>
<i style="top:422px;height:4px;background:linear-gradient(90deg,#a6589b 0,#9b5798 102px,#704b8f 135px,#444a8e 153px,#4e639d 189px,#454a8f 221px,#694a8e 240px,#424d8e 266px,#4e649d 270px,#5689bd 272px,#57b5dd 274px,#74bfbd 276px,#72b24c 283px,#80b83b 289px,#c0d349 294px,#e2e249 296px,#eddf44 297px,#f0a63b 300px,#eb6c34 306px,#e64f2f 313px,#e64c2f 326px,#ea6933 334px,#f0a13b 340px,#e7e347 344px,#8cbc3d 350px,#75b43e 354px,#72b248 357px,#78c0b7 364px,#5bb7d9 366px,#59abd6 367px,#4f68a0 370px,#434e8f 374px,#56498e 387px,#8c5395 413px,#a5589b 451px,#a6589b 504px)"></i>
<i style="top:426px;height:6px;background:linear-gradient(90deg,#a6589b 0,#9c5798 102px,#724b8f 135px,#444a8e 154px,#4c5c99 191px,#454a8f 220px,#6a4a8e 240px,#424d8e 266px,#4e649e 270px,#578bbf 272px,#58b6dc 274px,#75c0bc 276px,#72b24a 283px,#7ab63d 288px,#96c040 291px,#e4e248 296px,#eedb43 297px,#f0a33b 300px,#ea6933 306px,#e54a2f 314px,#e54b2f 327px,#e96633 334px,#f09d3a 340px,#e9e346 344px,#9cc241 349px,#77b53d 353px,#72b248 357px,#79c0b5 364px,#5cb7d8 366px,#58acd7 367px,#5069a1 370px,#434e8f 374px,#56498e 387px,#8c5395 413px,#a5589b 451px,#a6589b 504px)"></i>
<i style="top:432px;height:6px;background:linear-gradient(90deg,#a6589b 0,#9c5798 103px,#744b8f 135px,#444a8e 156px,#485695 196px,#464a8f 219px,#6b4a8e 240px,#424d8e 266px,#4f659e 270px,#578cc0 272px,#58b6dc 274px,#76c0bb 276px,#72b249 283px,#7bb63c 288px,#99c140 291px,#e7e347 296px,#f09f3a 300px,#e65e32 307px,#e44230 317px,#e64d2f 329px,#ea6a33 335px,#efa83b 341px,#ece345 344px,#acc844 348px,#7eb73c 352px,#72b247 357px,#79c0b4 364px,#5db8d7 366px,#58add8 367px,#506aa1 370px,#434e8f 374px,#56498e 387px,#8c5395 413px,#a5589b 450px,#a6589b 504px)"></i>
<i style="top:438px;height:6px;background:linear-gradient(90deg,#a6589b 0,#9c5798 104px,#744b8f 136px,#444a8e 158px,#434f90 203px,#4d4a8f 221px,#6c4a8e 240px,#424b8c 265px,#4f669f 270px,#578ec1 272px,#59b6db 274px,#76c0b9 276px,#72b249 283px,#7cb63c 288px,#a8c743 292px,#e9e346 296px,#f09c3a 300px,#e65b32 307px,#e43f30 317px,#e54a2f 329px,#ec6f34 336px,#f0a43b 341px,#ede044 344px,#d2da4b 346px,#86ba3c 351px,#75b43e 354px,#73b351 358px,#79c0b3 364px,#5eb8d6 366px,#58aed9 367px,#506aa2 370px,#434e8f 374px,#55498e 387px,#8c5395 413px,#a5589b 450px,#a6589b 504px)"></i>
<i style="top:444px;height:6px;background:linear-gradient(90deg,#a6589b 0,#9c5798 105px,#764c90 136px,#444a8e 160px,#474a8f 216px,#6d4a8e 239px,#414b8c 265px,#4c5c99 269px,#5276ac 271px,#59a8d4 273px,#5ab6da 274px,#77c0b8 276px,#72b248 283px,#7cb63c 288px,#aac744 292px,#ece345 296px,#f0a73b 299px,#e96733 305px,#e43f30 314px,#e54330 328px,#eb6c34 336px,#f0a13b 341px,#eedb43 344px,#e3e249 345px,#87ba3c 351px,#74b43f 355px,#73b350 358px,#79bfb1 364px,#5fb8d5 366px,#57b0da 367px,#506ba2 370px,#434f90 374px,#55498e 387px,#8c5395 413px,#a5589b 450px,#a6589b 504px)"></i>
<i style="top:450px;height:6px;background:linear-gradient(90deg,#a6589b 0,#9b5798 106px,#794d90 136px,#444a8e 162px,#484a8f 214px,#6f4a8e 239px,#414b8c 265px,#4c5c99 269px,#5377ad 271px,#59a9d5 273px,#5bb7d9 274px,#78c0b7 276px,#72b248 283px,#7db73c 288px,#acc844 292px,#e0e24a 295px,#ede145 296px,#f0a43b 299px,#e86433 305px,#e43e30 314px,#e54430 329px,#ea6933 336px,#f09e3a 341px,#efd642 344px,#e6e248 345px,#88bb3c 351px,#74b43f 355px,#72b24e 358px,#79bfb0 364px,#60b9d4 366px,#57b1db 367px,#506ca3 370px,#434f90 374px,#53498e 386px,#8b5294 412px,#a5589b 449px,#a6589b 504px)"></i>
<i style="top:456px;height:6px;background:linear-gradient(90deg,#a6589b 0,#9b5798 107px,#7b4e91 136px,#454a8e 164px,#494a8f 212px,#704b8f 238px,#414b8c 265px,#4c5c99 269px,#5377ae 271px,#59aad6 273px,#5bb7d9 274px,#78c0b6 276px,#72b248 283px,#7eb73c 288px,#aec945 292px,#e2e249 295px,#eedd44 296px,#f0a13b 299px,#e76132 305px,#e43e30 313px,#e54530 330px,#ec7034 337px,#efaa3b 342px,#e8e347 345px,#97c040 350px,#79b63d 353px,#72b24d 358px,#79bfaf 364px,#61b9d3 366px,#57b2dc 367px,#506da4 370px,#434f90 374px,#53498e 386px,#8a5294 412px,#a5589b 449px,#a6589b 504px)"></i>
<i style="top:462px;height:6px;background:linear-gradient(90deg,#a6589b 0,#9b5798 108px,#7d4e92 136px,#464a8f 166px,#4b4a8f 210px,#724b8f 238px,#414b8c 265px,#4c5d99 269px,#5378ae 271px,#59abd7 273px,#5cb7d8 274px,#79c0b5 276px,#72b247 283px,#7fb73c 288px,#b0ca45 292px,#e4e248 295px,#eed943 296px,#f09e3a 299px,#e65e32 305px,#e43e30 312px,#e44230 330px,#eb6d34 337px,#f0a73b 342px,#eae346 345px,#99c140 350px,#7ab63c 353px,#72b24c 358px,#79bfae 364px,#57b3dc 367px,#516ea4 370px,#444f90 374px,#52498e 386px,#8a5294 412px,#a5589b 449px,#a6589b 504px)"></i>
<i style="top:468px;height:6px;background:linear-gradient(90deg,#a6589b 0,#9b5798 110px,#804f92 136px,#4b4a8f 167px,#4c4a8f 206px,#734b8f 238px,#414b8c 265px,#4c5d99 269px,#537aaf 271px,#58acd7 273px,#5cb7d8 274px,#79c0b4 276px,#72b247 283px,#7fb73b 288px,#b2cb45 292px,#e6e248 295px,#efab3b 298px,#ec6f34 303px,#e44130 310px,#e44030 330px,#ea6b33 337px,#f0a53b 342px,#ece345 345px,#a8c743 349px,#83b83b 352px,#73b342 356px,#72b24b 358px,#79bfad 364px,#63bad1 366px,#56b4dd 367px,#516ea5 370px,#444f90 374px,#52498e 386px,#8a5294 412px,#a5589b 449px,#a6589b 504px)"></i>
<i style="top:474px;height:6px;background:linear-gradient(90deg,#a6589b 0,#9c5798 111px,#825093 136px,#4f498e 168px,#50498e 205px,#754c8f 237px,#414b8c 265px,#4d5d9a 269px,#547bb0 271px,#58add8 273px,#5db8d7 274px,#79c0b4 276px,#73b350 282px,#78b53d 287px,#95c040 290px,#e8e347 295px,#ef8c37 300px,#e65530 306px,#e43e30 311px,#e44230 331px,#ec7334 338px,#eeb33c 343px,#ede245 345px,#b9d047 348px,#83b93b 352px,#73b342 356px,#72b24a 358px,#74bfbe 365px,#56b5de 367px,#516fa6 370px,#465394 373px,#4b4a8f 383px,#8a5294 412px,#a5589b 449px,#a6589b 504px)"></i>
<i style="top:480px;height:6px;background:linear-gradient(90deg,#a6589b 0,#9b5798 113px,#855193 136px,#55498e 168px,#56498e 206px,#764c90 237px,#414b8c 265px,#4d5d9a 269px,#547cb1 271px,#58aed9 273px,#5db8d7 274px,#79c0b3 276px,#73b34f 282px,#79b53d 287px,#97c040 290px,#e9e346 295px,#f09739 299px,#e65931 305px,#e43d30 311px,#e44030 331px,#ec7134 338px,#efb13c 343px,#eedf44 345px,#e0e24a 346px,#8ebd3d 351px,#75b43f 355px,#72b249 358px,#74bfbd 365px,#56b5de 367px,#5170a6 370px,#465394 373px,#4b4a8f 383px,#8a5294 412px,#a5589b 449px,#a6589b 504px)"></i>
<i style="top:486px;height:5px;background:linear-gradient(90deg,#a6589b 0,#9b5798 116px,#865194 137px,#59498e 170px,#5d498d 208px,#784c90 236px,#414b8c 265px,#4d5e9a 269px,#547cb2 271px,#58aed9 273px,#5eb8d6 274px,#79c0b2 276px,#73b34f 282px,#79b63d 287px,#98c140 290px,#dbdf4a 294px,#ebe346 295px,#f0a53b 298px,#e75f32 304px,#e43e30 310px,#e54330 332px,#ec6f34 338px,#efaf3c 343px,#eedc44 345px,#e2e249 346px,#8fbd3e 351px,#75b43f 355px,#72b249 358px,#75c0bc 365px,#57b5dd 367px,#5170a7 370px,#465394 373px,#484a8f 382px,#8a5294 412px,#a5589b 449px,#a6589b 504px)"></i>
<i style="top:491px;height:5px;background:linear-gradient(90deg,#a6589b 0,#9b5798 118px,#855193 139px,#5d498d 172px,#64498d 210px,#794d90 236px,#414b8c 265px,#4d5e9a 269px,#547db3 271px,#58afd9 273px,#5eb8d6 274px,#79bfb1 276px,#72b24e 282px,#7ab63d 287px,#99c140 290px,#dde04a 294px,#ece345 295px,#f0a33b 298px,#e65d32 304px,#e43e30 310px,#e44230 332px,#eb6e34 338px,#efae3c 343px,#eeda43 345px,#e3e249 346px,#90bd3e 351px,#75b43e 355px,#72b249 358px,#75c0bc 365px,#57b5dd 367px,#5171a7 370px,#465394 373px,#464a8f 381px,#8a5294 412px,#a5589b 449px,#a6589b 504px)"></i>
<i style="top:496px;height:5px;background:linear-gradient(90deg,#a6589b 0,#9b5798 121px,#835093 142px,#61498d 176px,#6b4a8e 212px,#7a4d91 236px,#424b8c 264px,#4d5e9a 269px,#547eb3 271px,#58afda 273px,#5fb8d5 274px,#79bfb1 276px,#72b24d 282px,#7ab63c 287px,#99c141 290px,#dee14a 294px,#ede345 295px,#f0a23b 298px,#e65c32 304px,#e43d30 310px,#e44130 332px,#ed7734 339px,#efac3b 343px,#eed843 345px,#e4e249 346px,#90be3e 351px,#75b43e 355px,#72b248 358px,#75c0bb 365px,#57b6dd 367px,#5171a8 370px,#465394 373px,#464a8f 381px,#8a5294 412px,#a5589b 449px,#a6589b 504px)"></i>
<i style="top:501px;height:4px;background:linear-gradient(90deg,#a6589b 0,#9b5798 124px,#66498d 175px,#704b8f 213px,#794d91 237px,#424b8c 264px,#4d5e9a 269px,#547eb4 271px,#57b0da 273px,#5fb8d5 274px,#79bfb1 276px,#72b24d 282px,#7ab63c 287px,#9ac141 290px,#dee14a 294px,#ede245 295px,#f0a13b 298px,#e65c32 304px,#e43d30 310px,#e44030 332px,#ed7634 339px,#efab3b 343px,#efd742 345px,#e5e248 346px,#91be3e 351px,#75b43e 355px,#72b248 358px,#75c0bb 365px,#58b6dc 367px,#5171a8 370px,#465394 373px,#464a8f 381px,#8a5294 412px,#a5589b 449px,#a6589b 504px)"></i>
<i style="top:505px;height:4px;background:linear-gradient(90deg,#a6589b 0,#9b5798 126px,#6b4a8e 175px,#764c90 215px,#7a4d91 237px,#424b8c 264px,#4d5e9a 269px,#547fb4 271px,#57b0da 273px,#5fb9d5 274px,#79bfb0 276px,#72b24d 282px,#7ab63c 287px,#9ac241 290px,#dfe14a 294px,#ede145 295px,#f0a03b 298px,#e65b32 304px,#e43d30 310px,#e43f30 332px,#ed7534 339px,#efaa3b 343px,#efd642 345px,#e5e248 346px,#91be3e 351px,#75b43e 355px,#72b248 358px,#75c0bb 365px,#58b6dc 367px,#578abe 369px,#4e639d 371px,#414b8c 376px,#6f4a8e 398px,#985797 424px,#a5589b 468px,#a6589b 504px)"></i>
<i style="top:509px;height:4px;background:linear-gradient(90deg,#a6589b 0,#9b5798 129px,#714b8f 174px,#7b4e91 218px,#794d90 238px,#424b8c 264px,#4d5e9a 269px,#547fb4 271px,#57b0db 273px,#60b9d4 274px,#79bfb0 276px,#72b24c 282px,#7bb63c 287px,#9bc241 290px,#e0e24a 294px,#ede044 295px,#f09f3a 298px,#e65b31 304px,#e43e30 309px,#e43e30 332px,#ed7434 339px,#efa93b 343px,#e6e248 346px,#92be3e 351px,#75b43e 355px,#72b248 358px,#76c0bb 365px,#58b6dc 367px,#578abe 369px,#4e639d 371px,#414b8c 376px,#6f4a8e 398px,#985797 424px,#a5589b 468px,#a6589b 504px)"></i>
<i style="top:513px;height:4px;background:linear-gradient(90deg,#a6589b 0,#9c5798 131px,#764c90 173px,#7c4e91 236px,#424b8c 264px,#4d5f9a 269px,#547fb5 271px,#57b1db 273px,#60b9d4 274px,#79bfb0 276px,#72b24c 282px,#7bb63c 287px,#9bc241 290px,#e0e24a 294px,#eedf44 295px,#f09f3a 298px,#e65a31 304px,#e43e30 309px,#e43e30 332px,#ec7434 339px,#efa93b 343px,#e6e248 346px,#86ba3c 352px,#75b43e 355px,#72b248 358px,#76c0ba 365px,#58b6dc 367px,#578abe 369px,#4e649d 371px,#424c8d 375px,#58498e 389px,#8b5394 413px,#a5589b 450px,#a6589b 504px)"></i>
<i style="top:517px;height:4px;background:linear-gradient(90deg,#a6589b 0,#9b5798 133px,#7b4d91 175px,#7e4e92 235px,#424b8c 264px,#4d5f9a 269px,#5580b5 271px,#57b1db 273px,#60b9d4 274px,#79bfaf 276px,#72b24c 282px,#7bb63c 287px,#9cc241 290px,#e1e24a 294px,#eede44 295px,#f09e3a 298px,#e65a31 304px,#e43e30 309px,#e54330 333px,#ec7334 339px,#efa83b 343px,#e7e347 346px,#86ba3c 352px,#75b43e 355px,#72b248 358px,#76c0ba 365px,#58b6dc 367px,#578bbf 369px,#4e649d 371px,#424d8e 375px,#58498e 389px,#8b5394 413px,#a5589b 450px,#a6589b 504px)"></i>
<i style="top:521px;height:4px;background:linear-gradient(90deg,#a6589b 0,#9c5798 135px,#7f4f92 178px,#815093 232px,#424b8c 264px,#4d5f9b 269px,#5580b5 271px,#57b1db 273px,#72bfc1 275px,#77b87f 279px,#72b24b 282px,#7bb63c 287px,#9cc241 290px,#e1e24a 294px,#eedd44 295px,#f09d3a 298px,#e65931 304px,#e43d30 309px,#e44230 333px,#ec7334 339px,#f0a73b 343px,#e7e347 346px,#86ba3c 352px,#75b43e 355px,#72b248 358px,#76c0ba 365px,#58b6dc 367px,#578bbf 369px,#4e649e 371px,#424d8e 375px,#58498e 389px,#8b5394 413px,#a5589b 450px,#a6589b 504px)"></i>
<i style="top:525px;height:3px;background:linear-gradient(90deg,#a6589b 0,#9c5798 138px,#855193 186px,#845093 230px,#62498d 247px,#414b8c 265px,#4d5f9b 269px,#5580b5 271px,#57b1db 273px,#72bfc0 275px,#77b87f 279px,#72b24b 282px,#7bb63c 287px,#9cc241 290px,#e1e249 294px,#eedc44 295px,#f09d3a 298px,#e65931 304px,#e43d30 309px,#e44230 333px,#ec7334 339px,#f0a73b 343px,#e7e347 346px,#86ba3c 352px,#75b43e 355px,#72b248 358px,#76c0ba 365px,#58b6dc 367px,#578bbf 369px,#4e649e 371px,#424d8e 375px,#58498e 389px,#8b5394 413px,#a5589b 450px,#a6589b 504px)"></i>
<i style="top:528px;height:3px;background:linear-gradient(90deg,#a6589b 0,#9c5798 141px,#8a5294 192px,#865194 229px,#65498d 246px,#424b8c 264px,#4d5f9b 269px,#5580b5 271px,#57b1db 273px,#72bfc0 275px,#75b56f 280px,#72b24b 282px,#7bb63c 287px,#9cc242 290px,#e2e249 294px,#eedc43 295px,#f09d3a 298px,#e65931 304px,#e43d30 309px,#e44230 333px,#ec7234 339px,#f0a73b 343px,#e8e347 346px,#86ba3c 352px,#75b43e 355px,#72b248 358px,#76c0ba 365px,#58b6dc 367px,#578bbf 369px,#4e649e 371px,#424d8e 375px,#58498e 389px,#8b5394 413px,#a5589b 450px,#a6589b 504px)"></i>
<i style="top:531px;height:3px;background:linear-gradient(90deg,#a6589b 0,#9c5798 145px,#915496 203px,#835093 232px,#424b8c 264px,#4d5f9b 269px,#5580b5 271px,#57b1db 273px,#72bfc0 275px,#75b56f 280px,#72b24b 282px,#7bb63c 287px,#9cc242 290px,#e2e249 294px,#eedc43 295px,#f09d3a 298px,#e65931 304px,#e43d30 309px,#e44130 333px,#ec7234 339px,#f0a63b 343px,#e8e347 346px,#86ba3c 352px,#75b43e 355px,#72b248 358px,#76c0ba 365px,#59b6db 367px,#578bbf 369px,#4e649e 371px,#424d8e 375px,#58498e 389px,#8b5394 413px,#a5589b 450px,#a6589b 504px)"></i>
<i style="top:534px;height:3px;background:linear-gradient(90deg,#a6589b 0,#9c5798 151px,#8c5395 225px,#6b4a8e 244px,#424b8c 264px,#4d5f9b 269px,#5580b6 271px,#57b1db 273px,#72bfc0 275px,#75b56f 280px,#72b24b 282px,#7bb63c 287px,#9dc242 290px,#e2e249 294px,#eedb43 295px,#f09c3a 298px,#e65831 304px,#e43d30 309px,#e44130 333px,#ec7234 339px,#f0a63b 343px,#e8e347 346px,#87ba3c 352px,#75b43e 355px,#72b248 358px,#76c0ba 365px,#59b6db 367px,#578bbf 369px,#4e649e 371px,#424d8e 375px,#58498e 389px,#8b5394 413px,#a5589b 450px,#a6589b 504px)"></i>
<i style="top:537px;height:4px;background:linear-gradient(90deg,#a6589b 0,#995797 210px,#784d90 239px,#434b8d 263px,#495897 268px,#506ca3 270px,#57b1db 273px,#72bfc0 275px,#75b56f 280px,#72b24b 282px,#7bb63c 287px,#9dc242 290px,#e2e249 294px,#eedb43 295px,#f09c3a 298px,#e65831 304px,#e43d30 309px,#e44130 333px,#ec7234 339px,#f0a63b 343px,#e8e347 346px,#87ba3c 352px,#75b43e 355px,#72b248 358px,#76c0ba 365px,#59b6db 367px,#578cc0 369px,#4e649e 371px,#424d8e 375px,#58498e 389px,#8a5294 412px,#a5589b 449px,#a6589b 504px)"></i>
<i style="top:541px;height:4px;background:linear-gradient(90deg,#a6589b 0,#9b5798 211px,#734b8f 241px,#434b8d 263px,#495897 268px,#506ca3 270px,#57b1db 273px,#72bfc0 275px,#75b56e 280px,#72b24b 282px,#7bb63c 287px,#9dc342 290px,#e2e249 294px,#eedb43 295px,#f09c3a 298px,#e65831 304px,#e43d30 309px,#e44130 333px,#ec7234 339px,#f0a63b 343px,#e8e347 346px,#94bf3f 351px,#75b43e 355px,#72b248 358px,#76c0b9 365px,#59b6db 367px,#578cc0 369px,#4e649e 371px,#424d8e 375px,#58498e 389px,#8a5294 412px,#a5589b 449px,#a6589b 504px)"></i>
<i style="top:545px;height:5px;background:linear-gradient(90deg,#a6589b 0,#9d5798 210px,#734b8f 241px,#434b8d 263px,#495897 268px,#506ca3 270px,#57b1db 273px,#72bfc0 275px,#75b56e 280px,#72b24b 282px,#7bb63c 287px,#9dc342 290px,#e2e249 294px,#eedb43 295px,#f09c3a 298px,#e65831 304px,#e43d30 309px,#e44130 333px,#ec7234 339px,#f0a63b 343px,#e8e347 346px,#94bf3f 351px,#75b43e 355px,#72b248 358px,#76c0b9 365px,#59b6db 367px,#578cc0 369px,#4e649e 371px,#424d8e 375px,#58498e 389px,#8a5294 412px,#a5589b 449px,#a6589b 504px)"></i>
<i style="top:550px;height:4px;background:linear-gradient(90deg,#a6589b 0,#9a5797 211px,#764c90 240px,#434b8d 263px,#495897 268px,#506ca3 270px,#57b1db 273px,#72bfc0 275px,#75b56e 280px,#72b24b 282px,#7bb63c 287px,#9dc342 290px,#e2e249 294px,#eedb43 295px,#f09c3a 298px,#e65831 304px,#e43d30 309px,#e44130 333px,#ec7234 339px,#f0a63b 343px,#e8e347 346px,#87ba3c 352px,#75b43e 355px,#72b248 358px,#76c0ba 365px,#59b6db 367px,#578cc0 369px,#4e649e 371px,#424d8e 375px,#58498e 389px,#8a5294 412px,#a5589b 449px,#a6589b 504px)"></i>
<i style="top:554px;height:3px;background:linear-gradient(90deg,#a6589b 0,#9c5798 154px,#8f5495 223px,#6d4a8e 243px,#424b8c 264px,#4d5f9b 269px,#5580b6 271px,#57b1db 273px,#72bfc0 275px,#75b56f 280px,#72b24b 282px,#7bb63c 287px,#9dc242 290px,#e2e249 294px,#eedb43 295px,#f09c3a 298px,#e65831 304px,#e43d30 309px,#e44130 333px,#ec7234 339px,#f0a63b 343px,#e8e347 346px,#87ba3c 352px,#75b43e 355px,#72b248 358px,#76c0ba 365px,#59b6db 367px,#578bc0 369px,#4e649e 371px,#424d8e 375px,#58498e 389px,#8a5294 412px,#a5589b 449px,#a6589b 504px)"></i>
<i style="top:557px;height:3px;background:linear-gradient(90deg,#a6589b 0,#9c5798 146px,#885294 228px,#65498d 246px,#424b8c 264px,#4d5f9b 269px,#5580b5 271px,#57b1db 273px,#72bfc0 275px,#75b56f 280px,#72b24b 282px,#7bb63c 287px,#9dc242 290px,#e2e249 294px,#eedc43 295px,#f09c3a 298px,#e65931 304px,#e43d30 309px,#e44130 333px,#ec7234 339px,#f0a63b 343px,#e8e347 346px,#86ba3c 352px,#75b43e 355px,#72b248 358px,#76c0ba 365px,#59b6db 367px,#578bbf 369px,#4e649e 371px,#424d8e 375px,#58498e 389px,#8b5394 413px,#a5589b 450px,#a6589b 504px)"></i>
<i style="top:560px;height:3px;background:linear-gradient(90deg,#a6589b 0,#9c5798 142px,#8c5395 194px,#865194 229px,#62498d 247px,#414b8c 265px,#4d5f9b 269px,#5580b5 271px,#57b1db 273px,#72bfc0 275px,#75b56f 280px,#72b24b 282px,#7bb63c 287px,#9cc242 290px,#e2e249 294px,#eedc43 295px,#f09d3a 298px,#e65931 304px,#e43d30 309px,#e44230 333px,#ec7234 339px,#f0a73b 343px,#e8e347 346px,#86ba3c 352px,#75b43e 355px,#72b248 358px,#76c0ba 365px,#58b6dc 367px,#578bbf 369px,#4e649e 371px,#424d8e 375px,#58498e 389px,#8b5394 413px,#a5589b 450px,#a6589b 504px)"></i>
<i style="top:563px;height:3px;background:linear-gradient(90deg,#a6589b 0,#9c5798 139px,#865194 187px,#845093 230px,#60498d 248px,#414b8c 265px,#4d5f9b 269px,#5580b5 271px,#57b1db 273px,#72bfc0 275px,#75b56f 280px,#72b24b 282px,#7bb63c 287px,#9cc241 290px,#e1e249 294px,#eedc44 295px,#f09d3a 298px,#e65931 304px,#e43d30 309px,#e44230 333px,#ec7334 339px,#f0a73b 343px,#e8e347 346px,#86ba3c 352px,#75b43e 355px,#72b248 358px,#76c0ba 365px,#58b6dc 367px,#578bbf 369px,#4e649e 371px,#424d8e 375px,#58498e 389px,#8b5394 413px,#a5589b 450px,#a6589b 504px)"></i>
<i style="top:566px;height:4px;background:linear-gradient(90deg,#a6589b 0,#9c5798 136px,#815093 182px,#835093 231px,#52498e 254px,#434f90 266px,#506ca3 270px,#57b1db 273px,#72bfc1 275px,#77b87f 279px,#72b24b 282px,#7bb63c 287px,#9cc241 290px,#e1e24a 294px,#eedd44 295px,#f09d3a 298px,#e65931 304px,#e43d30 309px,#e44230 333px,#ec7334 339px,#f0a73b 343px,#e7e347 346px,#86ba3c 352px,#75b43e 355px,#72b248 358px,#76c0ba 365px,#58b6dc 367px,#578bbf 369px,#4e649e 371px,#424d8e 375px,#58498e 389px,#8b5394 413px,#a5589b 450px,#a6589b 504px)"></i>
<i style="top:570px;height:4px;background:linear-gradient(90deg,#a6589b 0,#9b5798 134px,#7d4e91 176px,#7f4f92 234px,#424b8c 264px,#4d5f9a 269px,#5580b5 271px,#57b1db 273px,#72bfc1 275px,#77b87f 279px,#72b24c 282px,#7bb63c 287px,#9cc241 290px,#e1e24a 294px,#eede44 295px,#f09e3a 298px,#e65931 304px,#e43e30 309px,#e54330 333px,#ec7334 339px,#efa83b 343px,#e7e347 346px,#86ba3c 352px,#75b43e 355px,#72b248 358px,#76c0ba 365px,#58b6dc 367px,#578bbf 369px,#4e649e 371px,#424d8e 375px,#58498e 389px,#8b5394 413px,#a5589b 450px,#a6589b 504px)"></i>
<i style="top:574px;height:4px;background:linear-gradient(90deg,#a6589b 0,#9b5798 132px,#784d90 174px,#7e4e92 235px,#424b8c 264px,#4d5f9a 269px,#547fb5 271px,#57b1db 273px,#60b9d4 274px,#79bfb0 276px,#72b24c 282px,#7bb63c 287px,#9bc241 290px,#e0e24a 294px,#eede44 295px,#f09e3a 298px,#e65a31 304px,#e43e30 309px,#e54330 333px,#ec7434 339px,#efa83b 343px,#e7e347 346px,#86ba3c 352px,#75b43e 355px,#72b248 358px,#76c0ba 365px,#58b6dc 367px,#578abf 369px,#4e649d 371px,#424d8e 375px,#58498e 389px,#8b5394 413px,#a5589b 450px,#a6589b 504px)"></i>
<i style="top:578px;height:4px;background:linear-gradient(90deg,#a6589b 0,#9b5798 130px,#734b8f 173px,#7e4e92 220px,#774c90 239px,#424b8c 264px,#4d5f9a 269px,#547fb4 271px,#57b0db 273px,#60b9d4 274px,#79bfb0 276px,#72b24c 282px,#7bb63c 287px,#9bc241 290px,#e0e24a 294px,#eddf44 295px,#f09f3a 298px,#e65a31 304px,#e43e30 309px,#e43e30 332px,#ed7434 339px,#efa93b 343px,#e6e248 346px,#86ba3c 352px,#74b441 356px,#72b248 358px,#76c0ba 365px,#58b6dc 367px,#578abe 369px,#4e639d 371px,#424c8d 375px,#5b498e 390px,#8b5394 413px,#a5589b 450px,#a6589b 504px)"></i>
<i style="top:582px;height:4px;background:linear-gradient(90deg,#a6589b 0,#9b5798 128px,#6e4a8e 174px,#784d90 216px,#7a4d91 237px,#424b8c 264px,#4d5e9a 269px,#547fb4 271px,#57b0da 273px,#5fb9d5 274px,#79bfb0 276px,#72b24c 282px,#7ab63c 287px,#9bc241 290px,#dfe24a 294px,#ede044 295px,#f0a03b 298px,#e65b31 304px,#e43e30 309px,#e43f30 332px,#ed7534 339px,#efaa3b 343px,#efd542 345px,#e5e248 346px,#92be3e 351px,#75b43e 355px,#72b248 358px,#76c0bb 365px,#58b6dc 367px,#578abe 369px,#4e639d 371px,#414b8c 376px,#6f4a8e 398px,#985797 424px,#a5589b 468px,#a6589b 504px)"></i>
<i style="top:586px;height:4px;background:linear-gradient(90deg,#a6589b 0,#9b5798 125px,#684a8e 175px,#734b8f 214px,#7a4d91 237px,#424b8c 264px,#4d5e9a 269px,#547eb4 271px,#57b0da 273px,#5fb8d5 274px,#79bfb0 276px,#72b24d 282px,#7ab63c 287px,#9ac241 290px,#dfe14a 294px,#ede245 295px,#f0a03b 298px,#e65b32 304px,#e43d30 310px,#e43f30 332px,#ed7534 339px,#efab3b 343px,#efd642 345px,#e5e248 346px,#91be3e 351px,#75b43e 355px,#72b248 358px,#75c0bb 365px,#58b6dc 367px,#5272a8 370px,#465394 373px,#464a8f 381px,#8a5294 412px,#a5589b 449px,#a6589b 504px)"></i>
<i style="top:590px;height:5px;background:linear-gradient(90deg,#a6589b 0,#9b5798 122px,#794d90 150px,#61498d 181px,#6f4a8e 215px,#794d90 237px,#424b8c 264px,#4d5e9a 269px,#547eb3 271px,#58afda 273px,#5fb8d5 274px,#79bfb1 276px,#72b24d 282px,#7ab63c 287px,#99c141 290px,#dee14a 294px,#ede345 295px,#f0a23b 298px,#e65c32 304px,#e43d30 310px,#e44030 332px,#ed7634 339px,#efac3b 343px,#eed843 345px,#e4e248 346px,#90be3e 351px,#75b43e 355px,#72b248 358px,#75c0bb 365px,#57b6dd 367px,#5171a8 370px,#465394 373px,#464a8f 381px,#8a5294 412px,#a5589b 449px,#a6589b 504px)"></i>
<i style="top:595px;height:5px;background:linear-gradient(90deg,#a6589b 0,#9b5798 119px,#865194 139px,#5d498d 173px,#66498d 211px,#794d90 236px,#424b8d 264px,#4d5e9a 269px,#547db3 271px,#58afda 273px,#5eb8d6 274px,#79bfb1 276px,#72b24e 282px,#7ab63d 287px,#99c140 290px,#dde04a 294px,#ece345 295px,#f0a33b 298px,#e65d32 304px,#e43e30 310px,#e44230 332px,#ed7734 339px,#efad3c 343px,#eeda43 345px,#e3e249 346px,#90be3e 351px,#75b43e 355px,#72b249 358px,#75c0bc 365px,#57b5dd 367px,#5171a7 370px,#465394 373px,#464a8f 381px,#8a5294 412px,#a5589b 449px,#a6589b 504px)"></i>
<i style="top:600px;height:5px;background:linear-gradient(90deg,#a6589b 0,#9b5798 116px,#875194 137px,#5a498e 170px,#5e498d 208px,#784d90 236px,#414b8c 265px,#4d5e9a 269px,#547db2 271px,#58aed9 273px,#5eb8d6 274px,#79c0b2 276px,#73b34e 282px,#79b63d 287px,#98c140 290px,#dcdf4a 294px,#ebe346 295px,#f0a43b 298px,#e65e32 304px,#e43e30 310px,#e54330 332px,#ec6f34 338px,#efaf3c 343px,#eedc43 345px,#e2e249 346px,#8fbd3e 351px,#75b43e 355px,#72b249 358px,#75c0bc 365px,#57b5dd 367px,#5170a7 370px,#465394 373px,#484a8f 382px,#8a5294 412px,#a5589b 449px,#a6589b 504px)"></i>
<i style="top:605px;height:6px;background:linear-gradient(90deg,#a6589b 0,#9b5798 114px,#865194 136px,#56498e 168px,#58498e 206px,#764c90 237px,#414b8c 265px,#4d5e9a 269px,#547cb2 271px,#58aed9 273px,#5db8d7 274px,#79c0b3 276px,#73b34f 282px,#79b53d 287px,#97c040 290px,#eae346 295px,#f09739 299px,#e65931 305px,#e43d30 311px,#e43f30 331px,#ec7034 338px,#efb03c 343px,#eede44 345px,#e1e24a 346px,#8ebd3d 351px,#75b43f 355px,#72b249 358px,#74bfbd 365px,#56b5de 367px,#5170a7 370px,#465394 373px,#494a8f 382px,#8a5294 412px,#a5589b 449px,#a6589b 504px)"></i>
<i style="top:611px;height:6px;background:linear-gradient(90deg,#a6589b 0,#9b5798 112px,#835093 136px,#51498e 168px,#52498e 205px,#754c90 237px,#414b8c 265px,#4d5d9a 269px,#547bb1 271px,#58add8 273px,#5db8d7 274px,#79c0b3 276px,#73b350 282px,#78b53d 287px,#96c040 290px,#e8e347 295px,#ef8b37 300px,#e65530 306px,#e43e30 311px,#e44130 331px,#ec7234 338px,#eeb33c 343px,#ede145 345px,#ced84a 347px,#8dbc3d 351px,#75b43f 355px,#72b249 358px,#74bfbe 365px,#56b5de 367px,#516fa6 370px,#465394 373px,#4b4a8f 383px,#8a5294 412px,#a5589b 449px,#a6589b 504px)"></i>
<i style="top:617px;height:6px;background:linear-gradient(90deg,#a6589b 0,#9b5798 110px,#804f92 136px,#4c4a8f 167px,#4b4a8f 203px,#734b8f 238px,#414b8c 265px,#4c5d9a 269px,#537ab0 271px,#58acd8 273px,#5db7d7 274px,#79c0b4 276px,#72b247 283px,#80b73b 288px,#b2cb45 292px,#e7e347 295px,#efab3b 298px,#e86433 304px,#e43e30 311px,#e54430 331px,#ec7434 338px,#eeb53c 343px,#ece345 345px,#a9c744 349px,#83b83b 352px,#73b342 356px,#72b24a 358px,#73bfbe 365px,#56b4dd 367px,#516fa5 370px,#444f90 374px,#52498e 386px,#8a5294 412px,#a5589b 449px,#a6589b 504px)"></i>
<i style="top:623px;height:6px;background:linear-gradient(90deg,#a6589b 0,#9b5798 109px,#7e4e92 136px,#474a8f 167px,#4b4a8f 209px,#724b8f 238px,#414b8c 265px,#4c5d99 269px,#5379af 271px,#59abd7 273px,#5cb7d8 274px,#79c0b5 276px,#72b247 283px,#7fb73c 288px,#b0ca45 292px,#e5e248 295px,#eed843 296px,#f09d3a 299px,#e65831 306px,#e43e30 312px,#e44130 330px,#eb6c34 337px,#f0a73b 342px,#eae346 345px,#a7c643 349px,#82b83b 352px,#73b346 357px,#74b45c 359px,#73bfbf 365px,#56b3dd 367px,#516ea5 370px,#444f90 374px,#52498e 386px,#8a5294 412px,#a5589b 449px,#a6589b 504px)"></i>
<i style="top:629px;height:6px;background:linear-gradient(90deg,#a6589b 0,#9c5798 107px,#7c4e91 136px,#454a8f 165px,#494a8f 211px,#714b8f 238px,#414b8c 265px,#4c5d99 269px,#5378ae 271px,#59aad6 273px,#5bb7d9 274px,#78c0b6 276px,#72b248 283px,#7eb73c 288px,#afc945 292px,#e3e249 295px,#eedb43 296px,#f0a03b 299px,#e76032 305px,#e43e30 313px,#e54430 330px,#ec6f34 337px,#efa93b 342px,#e9e347 345px,#98c140 350px,#7ab63d 353px,#72b24d 358px,#79bfaf 364px,#57b2dc 367px,#506da4 370px,#434f90 374px,#52498e 386px,#8a5294 412px,#a5589b 449px,#a6589b 504px)"></i>
<i style="top:635px;height:6px;background:linear-gradient(90deg,#a6589b 0,#9c5798 106px,#794d91 136px,#454a8e 162px,#474a8f 213px,#6f4a8e 239px,#414b8c 265px,#4c5c99 269px,#5377ad 271px,#59a9d5 273px,#5bb7d9 274px,#78c0b7 276px,#72b248 283px,#7eb73c 288px,#adc844 292px,#e1e24a 295px,#ede044 296px,#f0a33b 299px,#e86333 305px,#e43e30 314px,#e54330 329px,#ea6833 336px,#f09d3a 341px,#e6e248 345px,#88bb3c 351px,#74b43f 355px,#72b24e 358px,#79bfb0 364px,#60b9d4 366px,#57b1db 367px,#506ca3 370px,#434f90 374px,#53498e 386px,#8a5294 412px,#a5589b 449px,#a6589b 504px)"></i>
<i style="top:641px;height:6px;background:linear-gradient(90deg,#a6589b 0,#9c5798 105px,#774c90 136px,#444a8e 160px,#464a8f 215px,#6e4a8e 239px,#414b8c 265px,#4c5c99 269px,#5376ac 271px,#59a8d5 273px,#5ab7da 274px,#77c0b8 276px,#72b248 283px,#7db73c 288px,#abc844 292px,#ede345 296px,#f0a63b 299px,#e96633 305px,#e43f30 314px,#e44230 328px,#ea6b33 336px,#f0a03b 341px,#eed943 344px,#e4e248 345px,#87ba3c 351px,#74b43f 355px,#73b34f 358px,#79bfb1 364px,#5fb8d5 366px,#57b0da 367px,#506ba2 370px,#434f90 374px,#53498e 386px,#8b5294 412px,#a5589b 449px,#a6589b 504px)"></i>
<i style="top:647px;height:6px;background:linear-gradient(90deg,#a6589b 0,#9c5798 104px,#754c8f 136px,#444a8e 158px,#424d8e 205px,#4e498e 221px,#6c4a8e 240px,#414b8c 265px,#4f669f 270px,#578ec2 272px,#59b6db 274px,#77c0b9 276px,#72b248 283px,#7cb63c 288px,#a9c744 292px,#eae346 296px,#f09b3a 300px,#e65b31 307px,#e43e30 317px,#e54630 328px,#e96633 335px,#f0a33b 341px,#eede44 344px,#d2da4b 346px,#86ba3c 351px,#74b440 355px,#73b351 358px,#79c0b2 364px,#5eb8d6 366px,#58afd9 367px,#506ba2 370px,#434f90 374px,#55498e 387px,#8c5395 413px,#a5589b 450px,#a6589b 504px)"></i>
<i style="top:653px;height:6px;background:linear-gradient(90deg,#a6589b 0,#9c5798 103px,#754c90 135px,#444a8e 156px,#465494 197px,#474a8f 219px,#6b4a8e 240px,#424d8e 266px,#4f659e 270px,#578dc1 272px,#59b6db 274px,#76c0ba 276px,#72b249 283px,#7bb63c 288px,#99c141 291px,#e8e347 296px,#f09138 301px,#e65931 308px,#e44030 318px,#e64c2f 329px,#ea6933 335px,#f0a73b 341px,#ede345 344px,#bcd148 347px,#85b93b 351px,#74b440 355px,#73b352 358px,#79c0b4 364px,#5db8d7 366px,#58aed9 367px,#506aa1 370px,#434e8f 374px,#56498e 387px,#8c5395 413px,#a5589b 450px,#a6589b 504px)"></i>
<i style="top:659px;height:6px;background:linear-gradient(90deg,#a6589b 0,#9b5798 103px,#734b8f 135px,#434b8d 155px,#4b5b98 192px,#464a8f 220px,#6a4a8e 240px,#424d8e 266px,#4e649e 270px,#578bbf 272px,#58b6dc 274px,#75c0bb 276px,#72b24a 283px,#7ab63c 288px,#97c040 291px,#e5e248 296px,#eed943 297px,#f0a23b 300px,#e96833 306px,#e54730 315px,#e64c2f 328px,#eb6d34 335px,#f09c3a 340px,#eae346 344px,#9dc342 349px,#77b53d 353px,#72b248 357px,#79c0b5 364px,#5cb7d8 366px,#58acd8 367px,#5069a1 370px,#434e8f 374px,#56498e 387px,#8c5395 413px,#a5589b 451px,#a6589b 504px)"></i>
<i style="top:665px;height:4px;background:linear-gradient(90deg,#a6589b 0,#9c5798 102px,#714b8f 135px,#434b8d 154px,#4e609b 190px,#454a8e 220px,#694a8e 240px,#424d8e 266px,#4e649e 270px,#578abe 272px,#57b5dd 274px,#74bfbd 276px,#72b24b 283px,#79b63d 288px,#95c040 291px,#e3e249 296px,#eede44 297px,#f0a53b 300px,#ea6b33 306px,#e64c2f 314px,#e64d2f 327px,#e96833 334px,#f09f3b 340px,#e8e347 344px,#9bc241 349px,#76b53d 353px,#72b248 357px,#78c0b6 364px,#5cb7d8 366px,#59abd7 367px,#4f68a0 370px,#434e8f 374px,#56498e 387px,#8c5395 413px,#a5589b 451px,#a6589b 504px)"></i>
<i style="top:669px;height:4px;background:linear-gradient(90deg,#a6589b 0,#9b5798 102px,#734b8f 134px,#434b8d 153px,#4f679f 187px,#454a8e 221px,#684a8e 241px,#424d8e 266px,#4e639d 270px,#5688bd 272px,#57b5dd 274px,#74bfbd 276px,#72b24c 283px,#80b73b 289px,#bed248 294px,#ede145 297px,#efa83b 300px,#eb6e34 306px,#e6502f 313px,#e64d2f 326px,#ea6b33 334px,#f0a23b 340px,#e6e248 344px,#8bbc3d 350px,#75b43f 354px,#72b248 357px,#78c0b7 364px,#5bb7d9 366px,#59aad6 367px,#5378ae 369px,#485696 372px,#444a8e 378px,#8c5395 413px,#a5589b 451px,#a6589b 504px)"></i>
<i style="top:673px;height:3px;background:linear-gradient(90deg,#a6589b 0,#9b5798 101px,#714b8f 134px,#434b8d 152px,#516ea4 185px,#4a5997 207px,#454a8e 222px,#684a8e 241px,#424d8e 266px,#4e639d 270px,#5687bb 272px,#56b5de 274px,#73bfbe 276px,#72b24e 283px,#7fb73b 289px,#bcd148 294px,#ece345 297px,#efab3b 300px,#ed7734 305px,#e65731 311px,#e64d2f 324px,#e96633 333px,#f09839 339px,#efc53f 342px,#eedc43 343px,#e4e248 344px,#8abb3c 350px,#75b43f 354px,#72b249 357px,#77c0b8 364px,#5ab7da 366px,#59a9d5 367px,#5377ad 369px,#485696 372px,#444a8e 378px,#8d5395 413px,#a5589b 451px,#a6589b 504px)"></i>
<i style="top:676px;height:3px;background:linear-gradient(90deg,#a6589b 0,#9c5798 100px,#704b8f 134px,#434b8d 151px,#5274aa 184px,#4f659e 202px,#444a8e 222px,#674a8e 241px,#424d8e 266px,#4e629d 270px,#5686bb 272px,#56b4dd 274px,#79bfae 277px,#73b34f 283px,#7fb73c 289px,#bad048 294px,#eae346 297px,#f09f3a 301px,#ea6b33 307px,#e6522f 314px,#e65530 328px,#ed7634 335px,#f0a73b 340px,#eedf44 343px,#d4db4b 345px,#89bb3c 350px,#74b43f 354px,#72b249 357px,#77c0b9 364px,#5ab6da 366px,#59a8d5 367px,#5376ac 369px,#485695 372px,#444a8e 378px,#8d5395 413px,#a5589b 451px,#a6589b 504px)"></i>
<i style="top:679px;height:2px;background:linear-gradient(90deg,#a6589b 0,#9c5798 100px,#704b8f 134px,#434b8d 151px,#5378ae 183px,#5069a1 201px,#434b8d 221px,#67498d 241px,#424d8e 266px,#4e629c 270px,#5685ba 272px,#56b4dd 274px,#79bfaf 277px,#73b34f 283px,#7eb73c 289px,#b9d047 294px,#e9e346 297px,#f09538 302px,#e65c32 310px,#e6502f 323px,#e86433 332px,#f09c3a 339px,#f0ca40 342px,#ede144 343px,#d3db4b 345px,#88bb3c 350px,#74b43f 354px,#72b249 357px,#76c0b9 364px,#5ab6da 366px,#578fc2 368px,#4f679f 370px,#414b8c 375px,#8f5495 415px,#a5589b 453px,#a6589b 504px)"></i>
<i style="top:681px;height:2px;background:linear-gradient(90deg,#a6589b 0,#9b5798 100px,#6f4a8e 134px,#434b8d 151px,#5170a7 172px,#547eb4 189px,#444a8e 222px,#66498d 241px,#424c8d 266px,#4e629c 270px,#5685b9 272px,#56b3dd 274px,#79bfaf 277px,#73b350 283px,#77b53d 288px,#9dc342 292px,#e8e347 297px,#f09639 302px,#e65d32 310px,#e6512f 323px,#e96533 332px,#f09d3a 339px,#f0cc40 342px,#ede345 343px,#bfd248 346px,#81b83b 351px,#73b345 356px,#74b459 358px,#76c0ba 364px,#59b6db 366px,#578fc2 368px,#4f669f 370px,#414b8c 375px,#8f5495 415px,#a5589b 453px,#a6589b 504px)"></i>
<i style="top:683px;height:2px;background:linear-gradient(90deg,#a6589b 0,#9c5798 99px,#6e4a8e 134px,#434b8d 150px,#506aa1 168px,#5685b9 183px,#5378ae 198px,#424b8c 220px,#66498d 241px,#424c8d 266px,#4e619c 270px,#5584b9 272px,#57b3dc 274px,#79bfb0 277px,#72b247 284px,#7eb73c 289px,#a9c744 293px,#e7e347 297px,#f09739 302px,#e65e32 310px,#e6522f 323px,#e96733 332px,#f09e3a 339px,#f0ce40 342px,#ece345 343px,#afca45 347px,#80b83b 351px,#72b24a 357px,#76c0ba 364px,#59b6db 366px,#578ec1 368px,#4f669f 370px,#414b8c 375px,#8f5495 415px,#a5589b 453px,#a6589b 504px)"></i>
<i style="top:685px;height:2px;background:linear-gradient(90deg,#a6589b 0,#9c5798 99px,#6d4a8e 134px,#434b8d 150px,#506aa1 167px,#578bbf 182px,#5580b5 197px,#434d8e 218px,#50498e 229px,#65498d 242px,#424c8d 266px,#4e619c 270px,#5583b8 272px,#57b2dc 274px,#72bfc1 276px,#78b881 280px,#72b247 284px,#7db73c 289px,#a9c744 293px,#e6e248 297px,#efc43e 299px,#ef8536 304px,#e65a31 312px,#e65731 327px,#ed7434 334px,#f0a03b 339px,#ebe346 343px,#aec944 347px,#80b73b 351px,#72b24b 357px,#76c0bb 364px,#59b6db 366px,#578dc1 368px,#4f669f 370px,#424b8c 375px,#8f5495 415px,#a5589b 453px,#a6589b 504px)"></i>
<i style="top:687px;height:2px;background:linear-gradient(90deg,#a6589b 0,#9b5798 99px,#6d4a8e 134px,#434b8d 150px,#506aa1 166px,#578fc2 180px,#5689bd 196px,#485696 213px,#454a8f 225px,#65498d 241px,#424c8d 266px,#4e619c 270px,#5582b7 272px,#57b1db 274px,#72bfc1 276px,#78b982 280px,#72b247 284px,#7db73c 289px,#a8c643 293px,#e5e248 297px,#eedb43 298px,#f0a73b 301px,#ec7234 307px,#e65731 314px,#e65c32 329px,#ef8c37 337px,#efbe3d 341px,#eae346 343px,#a0c442 348px,#78b53d 352px,#72b24b 357px,#75c0bb 364px,#58b6dc 366px,#578dc0 368px,#4f659e 370px,#424b8c 375px,#8f5495 415px,#a5589b 453px,#a6589b 504px)"></i>
<i style="top:689px;height:2px;background:linear-gradient(90deg,#a6589b 0,#9c5798 98px,#6f4b8f 133px,#434b8d 149px,#4f669f 164px,#5893c5 178px,#5891c3 195px,#475595 214px,#464a8f 226px,#65498d 241px,#424c8d 266px,#4e619c 270px,#5582b7 272px,#57b1db 274px,#5fb9d5 275px,#79bfb1 277px,#72b248 284px,#7cb63c 289px,#a7c643 293px,#e4e249 297px,#eedd44 298px,#efa83b 301px,#ec7334 307px,#e65831 314px,#e65b32 328px,#ef8536 336px,#efc03e 341px,#e9e347 343px,#9fc342 348px,#78b53d 352px,#72b24c 357px,#75c0bc 364px,#58b6dc 366px,#578cc0 368px,#4f659e 370px,#424b8c 375px,#8f5495 415px,#a5589b 453px,#a6589b 504px)"></i>
<i style="top:691px;height:2px;background:linear-gradient(90deg,#a6589b 0,#9c5798 98px,#6f4a8e 133px,#434b8d 149px,#4f669f 163px,#5897c8 177px,#5898c9 194px,#5273aa 205px,#434e8f 219px,#51498e 230px,#64498d 242px,#424c8d 266px,#4e609b 270px,#5581b6 272px,#57b0db 274px,#5fb8d5 275px,#79c0b2 277px,#72b248 284px,#7cb63c 289px,#a6c643 293px,#e2e249 297px,#ede044 298px,#efaa3b 301px,#ed7434 307px,#e65831 315px,#e75f32 329px,#f08f37 337px,#efc23e 341px,#e7e347 343px,#91be3e 349px,#76b53e 353px,#72b24d 357px,#75c0bc 364px,#58b6dc 366px,#4f659e 370px,#424b8c 375px,#8f5495 415px,#a5589b 454px,#a6589b 504px)"></i>
<i style="top:693px;height:2px;background:linear-gradient(90deg,#a6589b 0,#9b5798 98px,#6e4a8e 133px,#424b8d 149px,#4f68a0 163px,#599bcb 176px,#599fce 193px,#5582b7 203px,#4b5a98 213px,#454a8e 225px,#64498d 241px,#444f90 267px,#506ca3 271px,#57b0da 274px,#5eb8d6 275px,#79c0b3 277px,#72b248 284px,#7bb63c 289px,#a5c543 293px,#e1e24a 297px,#ede245 298px,#efac3b 301px,#ed7634 307px,#e65931 315px,#e76032 329px,#f09038 337px,#efc43e 341px,#e6e248 343px,#85b93b 350px,#74b43f 354px,#72b24e 357px,#74bfbd 364px,#57b5dd 366px,#4e649e 370px,#424b8c 375px,#8f5495 415px,#a5589b 454px,#a6589b 504px)"></i>
<i style="top:695px;height:2px;background:linear-gradient(90deg,#a6589b 0,#9c5798 97px,#6d4a8e 133px,#434b8d 148px,#4e639d 161px,#599ecd 175px,#5aa6d3 192px,#5688bc 203px,#4b5c99 213px,#454a8f 226px,#64498d 241px,#444f90 267px,#506ca3 271px,#58afda 274px,#5eb8d6 275px,#79c0b3 277px,#72b248 284px,#7bb63c 289px,#97c040 292px,#e0e24a 297px,#ece345 298px,#f0a13b 302px,#ec7234 308px,#e65931 316px,#e86233 329px,#f09238 337px,#efc73f 341px,#eedb43 342px,#e5e248 343px,#85b93b 350px,#74b440 354px,#73b34e 357px,#74bfbd 364px,#57b5dd 366px,#5272a9 369px,#475495 372px,#464a8f 379px,#8c5395 412px,#a5589b 450px,#a6589b 504px)"></i>
<i style="top:697px;height:2px;background:linear-gradient(90deg,#a6589b 0,#9c5798 97px,#6d4a8e 133px,#434b8d 148px,#4f669f 161px,#59a1d0 174px,#59abd7 191px,#5892c4 202px,#4c5d99 213px,#444a8e 225px,#64498d 241px,#444f90 267px,#506ca2 271px,#58afd9 274px,#5db8d7 275px,#79c0b4 277px,#72b248 284px,#7bb63c 289px,#96c040 292px,#dfe14a 297px,#ebe346 298px,#f0a23b 302px,#ec7334 308px,#e65a31 316px,#e86433 329px,#f09338 337px,#f0c93f 341px,#eede44 342px,#d6dd4b 344px,#85b93b 350px,#74b440 354px,#73b34f 357px,#74bfbe 364px,#57b5dd 366px,#5272a8 369px,#475495 372px,#474a8f 380px,#8c5395 412px,#a5589b 450px,#a6589b 504px)"></i>
<i style="top:699px;height:2px;background:linear-gradient(90deg,#a6589b 0,#9c5798 97px,#6c4a8e 133px,#434b8d 148px,#4e649e 160px,#5aa4d2 173px,#57b0db 189px,#599ccb 201px,#4d5e9a 213px,#454a8e 226px,#63498d 241px,#444f90 267px,#506ba2 271px,#58aed9 274px,#5db8d7 275px,#79c0b5 277px,#72b248 284px,#7ab63c 289px,#a2c443 293px,#eae346 298px,#f09939 303px,#ea6b33 310px,#e65a31 319px,#e96533 329px,#f09539 337px,#f0cb40 341px,#ede044 342px,#d5dc4b 344px,#84b93b 350px,#74b440 354px,#73b350 357px,#73bfbe 364px,#56b5de 366px,#5171a8 369px,#475495 372px,#474a8f 380px,#8c5395 412px,#a5589b 450px,#a6589b 504px)"></i>
<i style="top:701px;height:2px;background:linear-gradient(90deg,#a6589b 0,#9c5798 96px,#6c4a8e 133px,#424b8d 148px,#4f679f 160px,#5aa6d3 172px,#56b5de 187px,#5aa5d2 200px,#4c5d99 214px,#444a8e 226px,#62498d 242px,#434f90 267px,#506ba2 271px,#58add8 274px,#5db8d7 275px,#79c0b5 277px,#72b249 284px,#81b83b 290px,#bbd148 295px,#e9e347 298px,#f09b3a 303px,#eb6d34 310px,#e65b32 319px,#e96733 329px,#ef8d37 336px,#eebb3d 340px,#ede245 342px,#b3cc46 346px,#84b93b 350px,#74b440 354px,#73b350 357px,#73bfbf 364px,#56b5de 366px,#5171a7 369px,#465494 372px,#4a4a8f 381px,#8d5395 413px,#a5589b 451px,#a6589b 504px)"></i>
<i style="top:703px;height:2px;background:linear-gradient(90deg,#a6589b 0,#9c5798 96px,#6b4a8e 133px,#434b8d 147px,#4f659e 159px,#59aad6 172px,#59b6db 185px,#58acd7 199px,#547eb4 208px,#4a5997 216px,#454a8e 227px,#62498d 242px,#434f90 267px,#506aa2 271px,#58add8 274px,#5cb7d8 275px,#78c0b6 277px,#72b249 284px,#80b83b 290px,#bad048 295px,#e7e347 298px,#f09c3a 303px,#eb6e34 310px,#e65d32 320px,#eb6c34 330px,#f09839 337px,#f0cf41 341px,#ece345 342px,#b2cb46 346px,#83b93b 350px,#74b440 354px,#73b351 357px,#79bfaf 363px,#56b4dd 366px,#5170a7 369px,#465494 372px,#4a4a8f 381px,#8d5395 413px,#a5589b 451px,#a6589b 504px)"></i>
<i style="top:705px;height:2px;background:linear-gradient(90deg,#a6589b 0,#9c5798 96px,#6a4a8e 133px,#434b8d 147px,#4e629d 158px,#58acd7 171px,#5bb7d9 183px,#58aed9 200px,#547cb1 209px,#495796 217px,#464a8f 228px,#63498d 241px,#434f90 267px,#506aa1 271px,#58acd7 274px,#5cb7d8 275px,#78c0b6 277px,#72b249 284px,#80b73b 290px,#b9cf47 295px,#e6e248 298px,#efc73f 300px,#ef8c37 305px,#e86333 314px,#e86433 327px,#ef8936 335px,#efc03e 340px,#ebe346 342px,#b1cb45 346px,#83b83b 350px,#74b440 354px,#73b352 357px,#79bfb0 363px,#56b3dd 366px,#5170a6 369px,#445091 373px,#53498e 385px,#8d5395 413px,#a5589b 451px,#a6589b 504px)"></i>
<i style="top:707px;height:2px;background:linear-gradient(90deg,#a6589b 0,#9c5798 96px,#6a4a8e 133px,#424b8d 147px,#4f659e 158px,#58add8 170px,#5cb7d8 179px,#58afd9 201px,#5581b6 209px,#4b5b99 216px,#454a8e 227px,#62498d 242px,#434f90 267px,#506aa1 271px,#59abd7 274px,#5cb7d8 275px,#78c0b7 277px,#72b249 284px,#7fb73b 290px,#b8cf47 295px,#e5e248 298px,#eedd44 299px,#efab3b 302px,#ed7a35 308px,#e76132 317px,#ea6933 328px,#f09238 336px,#efc23e 340px,#e9e346 342px,#a3c543 347px,#82b83b 350px,#73b344 355px,#73b353 357px,#79bfb0 363px,#57b3dc 366px,#516fa6 369px,#445091 373px,#54498e 385px,#8d5395 413px,#a5589b 452px,#a6589b 504px)"></i>
<i style="top:709px;height:2px;background:linear-gradient(90deg,#a6589b 0,#9c5798 95px,#694a8e 133px,#424b8d 147px,#4f67a0 158px,#58add8 169px,#61b9d3 184px,#58afda 202px,#547eb3 210px,#4c5d99 216px,#444a8e 227px,#61498d 242px,#434f90 267px,#5069a1 271px,#59abd6 274px,#5bb7d9 275px,#77c0b8 277px,#72b24a 284px,#7fb73c 290px,#b7ce47 295px,#e3e249 298px,#eddf44 299px,#efad3c 302px,#ed7b35 308px,#e86233 318px,#eb6e34 329px,#f09438 336px,#efc43e 340px,#e8e347 342px,#95c040 348px,#76b53d 352px,#72b248 356px,#79bfb1 363px,#60b9d4 365px,#57b2dc 366px,#516fa5 369px,#445091 373px,#54498e 385px,#8d5395 413px,#a5589b 452px,#a6589b 504px)"></i>
<i style="top:711px;height:2px;background:linear-gradient(90deg,#a6589b 0,#9c5798 95px,#684a8e 133px,#434b8d 146px,#4e649e 157px,#57b1db 169px,#65bbcf 190px,#57b0da 203px,#537ab0 211px,#475595 219px,#464a8f 229px,#61498d 242px,#434f90 267px,#5069a1 271px,#59aad6 274px,#5bb7d9 275px,#77c0b8 277px,#72b24b 284px,#7fb73c 290px,#b5cd46 295px,#ede245 299px,#efaf3c 302px,#ee7d35 308px,#e86433 318px,#ec6f34 329px,#f09639 336px,#efc63f 340px,#e7e347 342px,#94bf3f 348px,#76b53e 352px,#72b248 356px,#79bfb2 363px,#60b9d4 365px,#57b1db 366px,#516ea5 369px,#445091 373px,#54498e 385px,#8d5395 413px,#a5589b 452px,#a6589b 504px)"></i>
<i style="top:713px;height:2px;background:linear-gradient(90deg,#a6589b 0,#9c5798 95px,#684a8e 133px,#434b8d 146px,#4e619c 156px,#57b1db 168px,#6abdca 187px,#57afda 204px,#4d609b 216px,#444a8e 227px,#61498d 242px,#434e8f 267px,#4f68a0 271px,#59a9d5 274px,#5ab7da 275px,#77c0b9 277px,#72b24c 284px,#7eb73c 290px,#b4cd46 295px,#ece345 299px,#f0a53b 303px,#ed7a35 309px,#e96533 319px,#ed7434 330px,#f0a13b 337px,#f0c93f 340px,#eedc44 341px,#d9de4a 343px,#88ba3c 349px,#74b441 354px,#72b248 356px,#79c0b2 363px,#5fb8d5 365px,#57b1db 366px,#516ea4 369px,#444f90 373px,#54498e 385px,#8d5395 413px,#a5589b 452px,#a6589b 504px)"></i>
<i style="top:715px;height:2px;background:linear-gradient(90deg,#a6589b 0,#9c5798 94px,#6b4a8e 132px,#424b8d 146px,#4e639d 156px,#57b1db 167px,#6ebec6 185px,#5eb8d6 200px,#58afd9 205px,#4e629c 216px,#434b8d 227px,#61498d 242px,#434e8f 267px,#4f68a0 271px,#5891c4 273px,#59a9d5 274px,#5ab6da 275px,#76c0ba 277px,#72b24d 284px,#7eb73c 290px,#b3cc46 295px,#ebe346 299px,#f09d3a 304px,#ec7434 311px,#e96833 323px,#ee8336 333px,#eebb3d 339px,#eedf44 341px,#d8dd4b 343px,#87ba3c 349px,#74b441 354px,#72b248 356px,#79c0b3 363px,#5eb8d6 365px,#57b0da 366px,#506da4 369px,#444f90 373px,#54498e 385px,#8d5395 413px,#a5589b 452px,#a6589b 504px)"></i>
<i style="top:717px;height:3px;background:linear-gradient(90deg,#a6589b 0,#9c5798 94px,#6a4a8e 132px,#434b8d 145px,#4e619c 155px,#57b2dc 166px,#72bfc1 182px,#69bccb 198px,#57b0da 206px,#4d609b 217px,#444a8e 228px,#60498d 242px,#434e8f 267px,#4f67a0 271px,#5790c3 273px,#59b6db 275px,#76c0ba 277px,#72b24e 284px,#7db73c 290px,#a5c543 294px,#e9e347 299px,#f0a03b 304px,#ed7634 311px,#ea6a33 323px,#ee8035 332px,#efb13c 338px,#ede345 341px,#b6ce47 345px,#80b73b 350px,#72b249 356px,#79c0b4 363px,#5eb8d6 365px,#58afd9 366px,#506ca3 369px,#444f90 373px,#54498e 385px,#8e5395 413px,#a5589b 452px,#a6589b 504px)"></i>
<i style="top:720px;height:3px;background:linear-gradient(90deg,#a6589b 0,#9c5798 94px,#694a8e 132px,#434b8d 145px,#4e649e 155px,#57b2dc 165px,#73bfbf 178px,#70bfc3 197px,#57b0da 207px,#4e639d 217px,#434b8d 227px,#5f498d 243px,#434e8f 267px,#4f679f 271px,#578fc2 273px,#59b6db 275px,#75c0bb 277px,#73b34f 284px,#7cb63c 290px,#a3c543 294px,#e6e248 299px,#f0c93f 301px,#f09138 306px,#ec7134 314px,#ec7234 327px,#f08f37 334px,#efc23e 339px,#ebe346 341px,#b4cd46 345px,#7fb73c 350px,#72b249 356px,#79c0b5 363px,#5db8d7 365px,#58aed9 366px,#506ba2 369px,#444f90 373px,#56498e 386px,#8e5395 413px,#a5589b 452px,#a6589b 504px)"></i>
<i style="top:723px;height:3px;background:linear-gradient(90deg,#a6589b 0,#9c5798 93px,#6c4a8e 131px,#424b8d 145px,#4e629c 154px,#57b2dc 164px,#75c0bc 176px,#74bfbd 196px,#57b0da 208px,#4d609b 218px,#444a8e 229px,#60498d 242px,#434e8f 267px,#4f669f 271px,#578dc1 273px,#58b6dc 275px,#75c0bc 277px,#72b247 285px,#7bb63c 290px,#a1c442 294px,#e4e248 299px,#eddf44 300px,#f0a63b 304px,#ed7b35 311px,#ec7134 324px,#ef8b37 333px,#eeb73c 338px,#e9e347 341px,#a6c643 346px,#77b53d 351px,#72b24a 356px,#78c0b6 363px,#5cb7d8 365px,#58add8 366px,#506ba2 369px,#434f90 373px,#59498e 387px,#8f5495 414px,#a5589b 453px,#a6589b 504px)"></i>
<i style="top:726px;height:3px;background:linear-gradient(90deg,#a6589b 0,#9c5798 93px,#6b4a8e 131px,#434b8d 144px,#4d5f9b 153px,#5686bb 158px,#58b6dc 164px,#76c0ba 174px,#79c0b3 192px,#6abdca 203px,#56b5de 208px,#5583b8 214px,#4d5d9a 219px,#444a8e 229px,#5f498d 243px,#434e8f 267px,#4f669f 271px,#578cc0 273px,#57b6dd 275px,#74bfbd 277px,#72b248 285px,#7ab63c 290px,#a0c442 294px,#e2e249 299px,#ede345 300px,#efa93b 304px,#ee8135 310px,#ec7234 321px,#ee8336 331px,#efaf3c 337px,#eedc43 340px,#dbdf4a 342px,#84b93b 349px,#74b43f 353px,#72b24c 356px,#78c0b7 363px,#5cb7d8 365px,#59acd7 366px,#506aa1 369px,#434f90 373px,#59498e 387px,#8f5495 414px,#a5589b 453px,#a6589b 504px)"></i>
<i style="top:729px;height:3px;background:linear-gradient(90deg,#a6589b 0,#9c5798 92px,#6f4a8e 129px,#434b8d 144px,#4e629c 153px,#5898c8 159px,#57b5dd 163px,#76c0ba 172px,#79beab 188px,#72bfc1 202px,#56b5de 209px,#4d609b 219px,#444a8e 229px,#5f498d 243px,#455192 268px,#4f659e 271px,#578abf 273px,#57b5dd 275px,#79bfae 278px,#72b248 285px,#80b83b 291px,#c4d449 297px,#eae346 300px,#f0a23b 305px,#ee7d35 312px,#ed7834 326px,#f09739 334px,#f0ce40 339px,#ede044 340px,#cbd74a 343px,#83b83b 349px,#74b440 353px,#72b24d 356px,#77c0b9 363px,#5bb7d9 365px,#59aad6 366px,#5069a1 369px,#434f90 373px,#5c498e 388px,#8f5495 414px,#a5589b 453px,#a6589b 504px)"></i>
<i style="top:732px;height:3px;background:linear-gradient(90deg,#a6589b 0,#9c5798 92px,#704b8f 128px,#424b8d 144px,#4f659e 153px,#57b5dd 162px,#77c0b8 171px,#78bea5 185px,#79c0b3 199px,#67bbcd 206px,#56b3dd 210px,#4e639d 219px,#424b8d 228px,#5e498d 243px,#455192 268px,#4e649e 271px,#5689bd 273px,#56b5de 275px,#79bfaf 278px,#72b248 285px,#80b73b 291px,#c1d349 297px,#e8e347 300px,#f09d3a 306px,#ed7b35 314px,#ee7e35 328px,#f0a23b 335px,#efd241 339px,#ece345 340px,#acc844 345px,#82b83b 349px,#73b343 354px,#73b34e 356px,#76c0ba 363px,#5ab7da 365px,#59a9d5 366px,#4f69a1 369px,#414b8c 374px,#8e5495 413px,#a5589b 452px,#a6589b 504px)"></i>
<i style="top:735px;height:3px;background:linear-gradient(90deg,#a6589b 0,#9c5798 92px,#6f4a8e 128px,#424b8c 144px,#4f68a0 153px,#56b4dd 161px,#78c0b6 170px,#78bda0 183px,#79beab 198px,#6cbec8 206px,#57b1db 211px,#4f669f 219px,#424b8c 228px,#5e498d 243px,#445192 268px,#4e649e 271px,#5687bc 273px,#56b4dd 275px,#79bfb1 278px,#72b248 285px,#7fb73c 291px,#bed248 297px,#e6e248 300px,#eede44 301px,#efa93b 305px,#ee8235 312px,#ed7c35 325px,#f09739 333px,#efc73f 338px,#eae346 340px,#aac744 345px,#7bb63c 350px,#73b350 356px,#76c0bb 363px,#59b6db 365px,#5890c3 367px,#4f68a0 369px,#414b8c 374px,#8f5495 414px,#a5589b 454px,#a6589b 504px)"></i>
<i style="top:738px;height:3px;background:linear-gradient(90deg,#a6589b 0,#9c5798 91px,#754c8f 124px,#52498e 137px,#424d8e 145px,#506ba2 153px,#57b2dc 160px,#79c0b5 169px,#78bc9b 181px,#78bda4 197px,#71bfc3 206px,#57b5dd 211px,#5686bb 216px,#4e629d 220px,#434b8d 229px,#5d498d 243px,#445091 268px,#5170a7 272px,#57b3dc 275px,#79bfb2 278px,#72b249 285px,#7eb73c 291px,#afca45 296px,#ede345 301px,#efad3b 305px,#ef8536 312px,#ee7e35 325px,#f09a39 333px,#f0cb40 338px,#e7e347 340px,#9dc342 346px,#7ab63c 350px,#72b247 355px,#75c0bc 363px,#59b6db 365px,#578fc2 367px,#4f67a0 369px,#414b8c 374px,#8f5495 414px,#a5589b 454px,#a6589b 504px)"></i>
<i style="top:741px;height:3px;background:linear-gradient(90deg,#a6589b 0,#9c5798 91px,#744b8f 124px,#51498e 137px,#424d8e 145px,#4f679f 152px,#58afda 159px,#61b9d3 162px,#79c0b4 168px,#78bc98 179px,#78bc9e 197px,#71bfc3 207px,#56b4dd 212px,#4f659e 220px,#414b8c 228px,#5d498d 243px,#445091 268px,#5170a6 272px,#57b1db 275px,#71bfc3 277px,#78bb93 280px,#72b24a 285px,#7db73c 291px,#adc944 296px,#ebe346 301px,#f0a73b 306px,#ef8536 313px,#ee8436 327px,#f0a43b 334px,#f0cf41 338px,#ede044 339px,#bed248 343px,#80b73b 349px,#72b248 355px,#74bfbd 363px,#58b6dc 365px,#578ec1 367px,#4f679f 369px,#414b8c 374px,#8f5495 414px,#a5589b 454px,#a6589b 504px)"></i>
<i style="top:744px;height:3px;background:linear-gradient(90deg,#a6589b 0,#9c5798 91px,#734b8f 124px,#51498e 137px,#434e8f 145px,#506aa1 152px,#56b4dd 159px,#79c0b3 167px,#78bb96 177px,#78bc99 197px,#73bfbe 207px,#57b1db 213px,#4f68a0 220px,#414b8c 228px,#5d498d 244px,#445091 268px,#516fa5 272px,#57b0da 275px,#5eb8d6 276px,#79c0b4 278px,#72b24b 285px,#7cb63c 291px,#a0c442 295px,#e8e347 301px,#f0a33b 307px,#ef8536 315px,#ef8a37 328px,#efb03c 335px,#ece345 339px,#b0ca45 344px,#7fb73c 349px,#72b248 355px,#74bfbe 363px,#57b5dd 365px,#4f669f 369px,#414b8c 374px,#905495 414px,#a5589b 454px,#a6589b 504px)"></i>
<i style="top:747px;height:3px;background:linear-gradient(90deg,#a6589b 0,#9c5798 90px,#7b4e91 118px,#5b498e 134px,#414b8c 143px,#4f669f 151px,#57b0db 158px,#6bbdc9 162px,#79bea9 168px,#79bb8f 179px,#78bb97 198px,#73bfbf 208px,#57b5dd 213px,#4e649d 221px,#424b8c 229px,#5c498e 244px,#445091 268px,#516ea4 272px,#58afda 275px,#5db8d7 276px,#79c0b6 278px,#72b24d 285px,#7bb63c 291px,#a9c744 296px,#e6e248 301px,#ede044 302px,#efae3c 306px,#ef8b37 313px,#ef8936 326px,#f0a43b 333px,#f0ca40 337px,#e9e346 339px,#a3c543 345px,#77b53d 350px,#72b249 355px,#79bfaf 362px,#56b5de 365px,#4f659e 369px,#414b8c 374px,#905495 414px,#a5589b 454px,#a6589b 504px)"></i>
<i style="top:750px;height:3px;background:linear-gradient(90deg,#a6589b 0,#9c5798 90px,#7b4d91 118px,#5a498e 134px,#414b8c 143px,#4f68a0 151px,#56b5de 158px,#79c0b4 165px,#79bb92 174px,#79ba8c 193px,#78bea6 204px,#6dbec7 210px,#57b2dc 214px,#4f669f 221px,#414b8c 229px,#5c498e 244px,#445091 268px,#506da3 272px,#58aed9 275px,#5db7d7 276px,#78c0b7 278px,#72b24e 285px,#7ab63c 291px,#a7c643 296px,#ece345 302px,#efaa3b 307px,#ef8b37 315px,#f09038 328px,#eeb73c 335px,#eede44 338px,#d2da4b 341px,#83b93b 348px,#74b43f 352px,#72b249 355px,#79bfb0 362px,#56b5de 365px,#5272a9 368px,#475595 371px,#454a8f 377px,#8f5495 413px,#a5589b 453px,#a6589b 504px)"></i>
<i style="top:753px;height:3px;background:linear-gradient(90deg,#a6589b 0,#9c5798 90px,#7a4d91 118px,#59498e 134px,#414b8c 143px,#506ba2 151px,#57b1db 157px,#76c0ba 163px,#79bb90 173px,#79ba86 191px,#78bda1 204px,#71bfc2 210px,#57b5dd 214px,#547cb2 219px,#4c5c99 223px,#454a8e 232px,#5c498e 243px,#445091 268px,#506ca3 272px,#58acd8 275px,#5cb7d8 276px,#77c0b8 278px,#72b247 286px,#80b73b 292px,#bbd048 298px,#e9e346 302px,#f0a73b 308px,#ef8d37 316px,#f09338 328px,#eebb3d 335px,#ede345 338px,#b4cd46 343px,#82b83b 348px,#73b343 353px,#72b24a 355px,#79bfb2 362px,#56b3dd 365px,#5171a8 368px,#475495 371px,#474a8f 378px,#8f5495 413px,#a5589b 453px,#a6589b 504px)"></i>
<i style="top:756px;height:3px;background:linear-gradient(90deg,#a6589b 0,#9c5798 89px,#814f92 113px,#59498e 134px,#424b8c 142px,#4f669f 150px,#56b5de 157px,#78c0b6 163px,#79bb8e 172px,#78b882 189px,#78bb95 202px,#74bfbe 210px,#57b2dc 215px,#4e649e 222px,#424b8c 230px,#5b498e 244px,#444f90 268px,#506ba2 272px,#59abd7 275px,#5bb7d9 276px,#76c0b9 278px,#72b248 286px,#7fb73c 292px,#b9cf47 298px,#e7e347 302px,#efd041 304px,#f0a53b 309px,#f08f37 318px,#f09a3a 329px,#efc03e 335px,#eae346 338px,#9cc242 345px,#7bb63c 349px,#72b24c 355px,#79c0b3 362px,#60b9d4 364px,#57b2dc 365px,#5170a7 368px,#445091 372px,#57498e 385px,#905495 414px,#a5589b 454px,#a6589b 504px)"></i>
<i style="top:759px;height:3px;background:linear-gradient(90deg,#a6589b 0,#9c5798 89px,#804f92 113px,#58498e 134px,#414b8c 142px,#4e629c 149px,#578dc1 153px,#57b1db 156px,#74bfbe 161px,#79bb90 170px,#77b87e 185px,#79bb8e 201px,#76c0ba 210px,#57b5dd 215px,#5688bd 219px,#4d609b 223px,#444a8e 232px,#5b498e 244px,#444f90 268px,#506aa1 272px,#59aad6 275px,#5ab7da 276px,#76c0ba 278px,#72b248 286px,#7eb73c 292px,#abc844 297px,#e4e248 302px,#ece345 303px,#efaf3c 308px,#f09338 316px,#f09a3a 328px,#eebb3d 334px,#e7e347 338px,#9ac241 345px,#76b53d 350px,#72b24d 355px,#79c0b5 362px,#5eb8d6 364px,#57b0db 365px,#516fa6 368px,#445091 372px,#57498e 385px,#905495 414px,#a5589b 454px,#a6589b 504px)"></i>
<i style="top:762px;height:3px;background:linear-gradient(90deg,#a6589b 0,#9c5798 89px,#804f92 113px,#57498e 134px,#414b8c 142px,#4e649e 149px,#5892c5 153px,#56b5de 156px,#79c0b3 162px,#79ba89 171px,#77b77a 188px,#79ba8d 202px,#75c0bc 211px,#57b2dc 216px,#5069a1 222px,#424d8e 229px,#5b498e 245px,#444f90 268px,#5069a1 272px,#59a8d5 275px,#59b6db 276px,#75c0bc 278px,#72b248 286px,#7db73c 292px,#a9c744 297px,#eae346 303px,#efad3b 309px,#f09639 318px,#f0a13b 329px,#f0c93f 335px,#ede345 337px,#b8cf47 342px,#7fb73b 348px,#73b34f 355px,#78c0b6 362px,#5db8d7 364px,#58afda 365px,#516ea5 368px,#445091 372px,#57498e 385px,#905495 414px,#a5589b 455px,#a6589b 504px)"></i>
<i style="top:765px;height:3px;background:linear-gradient(90deg,#a6589b 0,#9c5798 89px,#804f92 113px,#56498e 134px,#414b8c 142px,#4f679f 149px,#57b0da 155px,#68bccc 158px,#79bfaf 162px,#78b985 171px,#76b676 188px,#79ba89 202px,#77c0b8 211px,#57b5dd 216px,#4e649e 223px,#424b8d 231px,#5b498e 244px,#434f90 268px,#4f68a0 272px,#5aa7d4 275px,#58b6dc 276px,#74bfbd 278px,#72b249 286px,#7cb63c 292px,#b1cb45 298px,#e7e347 303px,#efd342 305px,#efab3b 310px,#f09939 319px,#f0a53b 329px,#f0ce41 335px,#eae346 337px,#a1c442 344px,#78b53d 349px,#73b350 355px,#78c0b7 362px,#5cb7d8 364px,#58aed9 365px,#506da4 368px,#445091 372px,#5a498e 386px,#905495 414px,#a5589b 455px,#a6589b 504px)"></i>
<i style="top:768px;height:3px;background:linear-gradient(90deg,#a6589b 0,#9c5798 88px,#814f92 112px,#56498e 134px,#424c8d 142px,#5069a1 149px,#56b4dd 155px,#79bfb2 161px,#78b984 170px,#75b570 186px,#79b985 202px,#79bfad 210px,#69bccb 214px,#57b1db 217px,#4f679f 223px,#414c8d 230px,#5a498e 244px,#434f90 268px,#4f68a0 272px,#58b6dc 276px,#79bfaf 279px,#72b249 286px,#7bb63c 292px,#b9cf47 299px,#ebe346 304px,#efaf3c 310px,#f09d3a 319px,#efa93b 329px,#f0c93f 334px,#ede144 336px,#cad74a 340px,#83b93b 347px,#73b342 352px,#73b352 355px,#77c0b9 362px,#5cb7d8 364px,#58acd8 365px,#506ca3 368px,#445091 372px,#5a498e 386px,#905495 414px,#a5589b 455px,#a6589b 504px)"></i>
<i style="top:771px;height:3px;background:linear-gradient(90deg,#a6589b 0,#9c5798 88px,#804f92 112px,#55498e 134px,#424d8e 142px,#506ca3 149px,#58aed9 154px,#5eb8d6 156px,#79c0b5 160px,#79ba87 168px,#75b56b 183px,#76b678 198px,#78bc9b 208px,#73bfbf 213px,#56b5de 217px,#5069a1 223px,#424c8d 230px,#5a498e 245px,#455293 269px,#4f679f 272px,#57b5dd 276px,#79bfb0 279px,#72b24b 286px,#80b73b 293px,#c2d349 300px,#e9e347 304px,#efaf3c 311px,#f0a13b 321px,#efb23c 330px,#ebe346 336px,#b0ca45 342px,#7cb63c 348px,#72b248 354px,#76c0ba 362px,#5bb7d9 364px,#59abd6 365px,#506ba2 368px,#444f90 372px,#5c498e 387px,#925596 415px,#a5589b 456px,#a6589b 504px)"></i>
<i style="top:774px;height:3px;background:linear-gradient(90deg,#a6589b 0,#9c5798 88px,#804f92 112px,#54498e 134px,#424d8e 142px,#4f669f 148px,#57b2dc 154px,#79bfb1 160px,#78b984 168px,#75b567 182px,#75b571 197px,#78bc9d 209px,#71bfc3 214px,#58b6dc 217px,#5685ba 221px,#4e649e 224px,#414b8c 231px,#5a498e 244px,#455192 269px,#4f669f 272px,#56b5de 276px,#79bfb2 279px,#72b24d 286px,#7fb73c 293px,#bed248 300px,#ece345 305px,#eeb33c 311px,#f0a53b 321px,#eeb63c 330px,#e8e347 336px,#a4c543 343px,#7bb63c 348px,#72b249 354px,#75c0bb 362px,#5ab6da 364px,#5893c5 366px,#506aa1 368px,#424c8d 373px,#8a5294 409px,#a5589b 449px,#a6589b 504px)"></i>
<i style="top:777px;height:3px;background:linear-gradient(90deg,#a6589b 0,#9c5798 88px,#804f92 112px,#54498e 134px,#414b8c 141px,#4f68a0 148px,#57b5dd 154px,#79c0b4 159px,#78b984 167px,#74b462 181px,#75b56c 197px,#78bc99 209px,#73bfbf 214px,#57b3dc 218px,#4f669f 224px,#414b8c 231px,#59498e 245px,#455192 269px,#4f659e 272px,#5689bd 274px,#56b3dd 276px,#79c0b3 279px,#72b247 287px,#7eb73c 293px,#b1cb45 299px,#e9e346 305px,#eeb43c 312px,#efaa3b 324px,#efc03e 331px,#ece345 335px,#b5cd46 341px,#80b73b 347px,#72b249 354px,#74bfbd 362px,#59b6db 364px,#5891c4 366px,#5069a1 368px,#414c8d 373px,#8c5395 410px,#a5589b 450px,#a6589b 504px)"></i>
<i style="top:780px;height:3px;background:linear-gradient(90deg,#a6589b 0,#9c5798 87px,#814f92 111px,#57498e 133px,#424c8d 141px,#506ba2 148px,#58afda 153px,#60b9d4 155px,#79bfb0 159px,#78b881 167px,#74b45e 180px,#74b464 196px,#78bc9b 210px,#70bfc3 215px,#57b5dd 218px,#4f68a0 224px,#414c8d 231px,#59498e 245px,#455192 269px,#5272a8 273px,#57b2dc 276px,#70bfc4 278px,#78bda4 280px,#72b248 287px,#7db73c 293px,#b8cf47 300px,#ede345 306px,#eeb83c 312px,#efaf3c 324px,#efc63f 331px,#e9e347 335px,#a8c743 342px,#79b63d 348px,#72b24b 354px,#74bfbe 362px,#58b6dc 364px,#578fc2 366px,#4f68a0 368px,#414c8d 373px,#8c5395 410px,#a5589b 450px,#a6589b 504px)"></i>
<i style="top:783px;height:3px;background:linear-gradient(90deg,#a6589b 0,#9c5798 87px,#804f92 111px,#56498e 133px,#424b8c 140px,#4f659e 147px,#578abe 150px,#56b3dd 153px,#79c0b5 158px,#78b881 166px,#74b45b 178px,#74b45f 196px,#78bc98 210px,#72bfc0 215px,#59b6db 218px,#5aa3d1 220px,#506aa2 224px,#424c8d 231px,#59498e 245px,#455192 269px,#5170a7 273px,#57b0db 276px,#5eb8d6 277px,#78c0b6 279px,#72b248 287px,#7bb63c 293px,#bfd248 301px,#e9e346 306px,#eeb73c 314px,#eeb83c 327px,#ece345 334px,#afca45 341px,#7eb73c 347px,#72b24d 354px,#79bfb0 361px,#57b5dd 364px,#4f67a0 368px,#414b8c 373px,#8f5495 412px,#a5589b 453px,#a6589b 504px)"></i>
<i style="top:786px;height:3px;background:linear-gradient(90deg,#a6589b 0,#9c5798 87px,#804f92 111px,#55498e 133px,#414b8c 140px,#4f679f 147px,#57b6dd 153px,#79bfb1 158px,#77b87e 166px,#73b357 178px,#74b45b 196px,#78bb94 210px,#75c0bc 215px,#56b3dd 219px,#516da4 224px,#455192 229px,#484a8f 236px,#59498e 245px,#455192 269px,#516fa6 273px,#58afd9 276px,#5db8d7 277px,#77c0b8 279px,#72b248 287px,#80b73b 294px,#e0e24a 305px,#eedc43 308px,#eebc3d 314px,#eebb3d 326px,#eed943 332px,#e3e249 335px,#82b83b 346px,#74b441 351px,#73b34f 354px,#79bfb2 361px,#56b5de 364px,#4f669f 368px,#414b8c 373px,#915496 414px,#a5589b 456px,#a6589b 504px)"></i>
<i style="top:789px;height:3px;background:linear-gradient(90deg,#a6589b 0,#9c5798 87px,#804f92 111px,#55498e 133px,#414b8c 140px,#5069a1 147px,#57b0da 152px,#62b9d2 154px,#79c0b6 157px,#78b984 164px,#73b355 176px,#73b353 194px,#76b673 204px,#78bea7 213px,#72bfc1 216px,#57b5dd 219px,#4f679f 225px,#414b8c 232px,#58498e 245px,#445091 269px,#516ea5 273px,#58add8 276px,#5cb7d8 277px,#77c0b9 279px,#72b249 287px,#7fb73c 294px,#c2d349 302px,#ede245 308px,#efc13e 314px,#efc03e 326px,#e5e248 334px,#98c140 343px,#75b43e 349px,#73b351 354px,#79c0b3 361px,#56b4dd 364px,#4f659f 368px,#414b8c 373px,#915496 414px,#a5589b 456px,#a6589b 504px)"></i>
<i style="top:792px;height:3px;background:linear-gradient(90deg,#a6589b 0,#9c5798 86px,#814f92 110px,#54498e 133px,#414b8c 140px,#4e639d 146px,#5688bc 149px,#56b3dd 152px,#79c0b2 157px,#77b77c 165px,#73b353 175px,#72b24c 192px,#75b569 203px,#78bda3 213px,#74bfbe 216px,#5ab6da 219px,#5aa3d1 221px,#4f69a1 225px,#414b8c 232px,#58498e 245px,#445091 269px,#506da3 273px,#59acd7 276px,#5bb7d9 277px,#76c0bb 279px,#72b24a 287px,#7eb73c 294px,#bed248 302px,#eae346 308px,#efc33e 316px,#f0c93f 327px,#e7e347 333px,#9fc342 342px,#76b53d 348px,#72b248 353px,#79c0b5 361px,#5fb8d5 363px,#57b2dc 364px,#5272a8 367px,#475595 370px,#464a8f 376px,#905495 413px,#a5589b 455px,#a6589b 504px)"></i>
<i style="top:795px;height:3px;background:linear-gradient(90deg,#a6589b 0,#9c5798 86px,#814f92 110px,#54498e 133px,#424c8d 140px,#4f659e 146px,#599dcc 150px,#57b5dd 152px,#78c0b7 156px,#78b982 163px,#73b351 174px,#72b249 192px,#75b565 203px,#78bea8 214px,#70bfc4 217px,#57b3dd 220px,#506ba2 225px,#434e8f 231px,#51498e 239px,#54498e 254px,#445091 269px,#506ba2 273px,#59aad6 276px,#5ab6da 277px,#75c0bc 279px,#72b24c 287px,#7db73c 294px,#e2e249 307px,#eed943 311px,#efc63f 319px,#efd241 328px,#e9e347 332px,#bed248 338px,#7fb73c 346px,#72b249 353px,#78c0b7 361px,#5eb8d6 363px,#57b0db 364px,#5170a7 367px,#455192 371px,#52498e 381px,#915596 414px,#a5589b 456px,#a6589b 504px)"></i>
<i style="top:798px;height:3px;background:linear-gradient(90deg,#a6589b 0,#9c5798 86px,#804f92 110px,#53498e 133px,#424c8d 140px,#4f67a0 146px,#58afd9 151px,#62bad2 153px,#79c0b4 156px,#77b87f 163px,#72b24d 174px,#72b24b 197px,#76b671 206px,#79bfae 215px,#69bccb 218px,#57b5dd 220px,#4f659e 226px,#424b8c 233px,#57498e 245px,#445091 269px,#506aa2 273px,#59a8d5 276px,#59b6db 277px,#79bfae 280px,#72b247 288px,#81b83b 295px,#e4e249 308px,#f0cd40 317px,#efd542 327px,#e5e248 332px,#aac744 340px,#78b53d 347px,#72b249 353px,#77c0b8 361px,#5db7d7 363px,#58afd9 364px,#516fa6 367px,#445192 371px,#56498e 383px,#915596 414px,#a5589b 456px,#a6589b 504px)"></i>
<i style="top:801px;height:3px;background:linear-gradient(90deg,#a6589b 0,#9c5798 86px,#804f92 110px,#52498e 133px,#424d8e 140px,#5069a1 146px,#57b2dc 151px,#79bfb0 156px,#75b571 165px,#72b249 174px,#72b24d 199px,#79ba8a 211px,#74bfbd 217px,#59b6db 220px,#59a0cf 222px,#4f679f 226px,#414b8c 233px,#57498e 245px,#445091 269px,#5069a1 273px,#5aa7d3 276px,#58b6dc 277px,#79bfb0 280px,#72b248 288px,#80b73b 295px,#e0e24a 308px,#efd542 316px,#eedb43 327px,#dde04a 333px,#7cb63c 346px,#72b24b 353px,#76c0ba 361px,#5cb7d8 363px,#58add8 364px,#516ea5 367px,#445091 371px,#5d498d 386px,#935596 415px,#a5589b 458px,#a6589b 504px)"></i>
<i style="top:804px;height:3px;background:linear-gradient(90deg,#a6589b 0,#9d5798 85px,#814f93 109px,#52498e 133px,#424d8e 140px,#506ba2 146px,#57b5dd 151px,#78c0b7 155px,#77b87f 162px,#72b24a 172px,#72b24c 200px,#78bb95 213px,#70bfc3 218px,#57b2dc 221px,#4f69a0 226px,#424d8e 232px,#57498e 247px,#444f90 269px,#4f68a0 273px,#57b5dd 277px,#79c0b2 280px,#72b248 288px,#7eb73c 295px,#e1e24a 309px,#eeda43 318px,#e6e248 330px,#c4d449 336px,#7bb63c 346px,#72b24d 353px,#75c0bb 361px,#5ab7da 363px,#59abd7 364px,#506ca3 367px,#445091 371px,#65498d 390px,#945596 416px,#a5589b 460px,#a6589b 504px)"></i>
<i style="top:807px;height:3px;background:linear-gradient(90deg,#a6589b 0,#9c5798 85px,#7f4f92 110px,#51498e 133px,#434e8f 140px,#4e649e 145px,#578dc1 148px,#59b6db 151px,#79c0b3 155px,#77b77c 162px,#72b24a 171px,#72b249 200px,#77b87e 210px,#78c0b7 217px,#56b5de 221px,#506ba2 226px,#434d8e 232px,#57498e 247px,#444f90 269px,#4f67a0 273px,#56b5de 277px,#79c0b4 280px,#72b249 288px,#7db73c 295px,#dde14a 309px,#ede044 319px,#e3e249 330px,#b8cf47 337px,#7ab63c 346px,#73b34f 353px,#74bfbd 361px,#59b6db 363px,#5894c6 365px,#506ba2 367px,#424d8e 372px,#865194 405px,#a4589a 443px,#a6589b 504px)"></i>
<i style="top:810px;height:4px;background:linear-gradient(90deg,#a6589b 0,#9c5798 85px,#7f4f92 110px,#51498e 133px,#434e8f 140px,#4f669f 145px,#57b0db 150px,#65bbcf 152px,#79bfaf 155px,#74b45d 166px,#72b247 172px,#72b249 201px,#79ba87 212px,#74bfbd 218px,#58b6dc 221px,#578cc0 224px,#4e649e 227px,#414b8c 233px,#57498e 246px,#434f90 269px,#4f669f 273px,#57b3dc 277px,#79c0b6 280px,#72b249 288px,#7cb63c 295px,#dee14a 310px,#ebe346 322px,#d7dd4b 332px,#79b53d 346px,#72b248 352px,#73bfbf 361px,#58b6dc 363px,#5892c4 365px,#506aa1 367px,#424c8d 372px,#885194 406px,#a4589b 445px,#a6589b 504px)"></i>
<i style="top:814px;height:4px;background:linear-gradient(90deg,#a6589b 0,#9c5798 85px,#7f4f92 110px,#50498e 133px,#434f90 140px,#4f69a1 145px,#56b5de 150px,#79c0b6 154px,#77b77b 161px,#72b249 169px,#73b346 200px,#73b354 205px,#78bda4 216px,#71bfc3 219px,#5bb7d9 221px,#5aa3d1 223px,#4f669f 227px,#424c8d 233px,#56498e 247px,#455293 270px,#5272a9 274px,#57b0db 277px,#5db8d7 278px,#77c0b8 280px,#72b24c 288px,#7fb73c 296px,#d8de4b 310px,#e6e248 322px,#d2da4b 332px,#77b53d 346px,#72b249 352px,#79c0b2 360px,#57b5dd 363px,#4f69a0 367px,#424c8d 372px,#895294 407px,#a5589b 448px,#a6589b 504px)"></i>
<i style="top:818px;height:4px;background:linear-gradient(90deg,#a6589b 0,#9d5798 84px,#804f92 109px,#4f498e 133px,#444f90 140px,#506ba2 145px,#58acd8 149px,#59b6db 150px,#79bfb1 154px,#73b359 165px,#72b247 170px,#73b346 201px,#73b355 206px,#79beaa 217px,#6abdca 220px,#56b5de 222px,#4f69a1 227px,#424d8e 233px,#56498e 247px,#455192 270px,#5170a7 274px,#58aed9 277px,#5cb7d8 278px,#76c0ba 280px,#72b248 289px,#7db73c 296px,#d7dd4b 311px,#e0e24a 324px,#ccd74a 332px,#7ab63c 345px,#72b24a 352px,#79c0b5 360px,#56b4dd 363px,#4f67a0 367px,#424c8d 372px,#8c5395 409px,#a5589b 451px,#a6589b 504px)"></i>
<i style="top:822px;height:4px;background:linear-gradient(90deg,#a6589b 0,#9c5798 84px,#804f92 109px,#4e498e 133px,#445091 140px,#516fa6 145px,#57b1db 149px,#66bbce 151px,#79bfac 154px,#72b24e 166px,#74b43f 187px,#72b24a 205px,#78bda5 217px,#6ebec6 220px,#59b6db 222px,#578bbf 225px,#4e629d 228px,#434b8d 235px,#56498e 246px,#455192 270px,#516ea5 274px,#59acd7 277px,#5ab7da 278px,#79bfae 281px,#72b248 289px,#80b83b 297px,#d4db4b 312px,#d9de4b 326px,#bad047 334px,#79b53d 345px,#72b24d 352px,#78c0b7 360px,#5eb8d6 362px,#57b2db 363px,#4f669f 367px,#414c8d 372px,#8f5495 411px,#a5589b 454px,#a6589b 504px)"></i>
<i style="top:826px;height:3px;background:linear-gradient(90deg,#a6589b 0,#9c5798 84px,#7f4f92 109px,#4d4a8f 133px,#455192 140px,#4f67a0 144px,#56b5de 149px,#79c0b3 153px,#73b355 164px,#73b345 169px,#73b344 201px,#73b351 207px,#79bfac 218px,#66bbce 221px,#57b0db 223px,#516fa5 227px,#445091 232px,#4f498e 240px,#51498e 257px,#445192 270px,#506ca3 274px,#59a9d5 277px,#59b6db 278px,#79bfb0 281px,#72b249 289px,#7eb73c 297px,#ced84a 312px,#d5dc4b 325px,#b5cd46 334px,#77b53d 345px,#73b350 352px,#76c0ba 360px,#5cb7d8 362px,#58afda 363px,#4e649e 367px,#414b8c 372px,#915596 413px,#a5589b 456px,#a6589b 504px)"></i>
<i style="top:829px;height:3px;background:linear-gradient(90deg,#a6589b 0,#9c5798 84px,#7f4f92 109px,#4d4a8f 133px,#434e8f 139px,#4f69a1 144px,#58b6dc 149px,#79bfb0 153px,#72b24b 165px,#75b43e 187px,#72b249 206px,#79bea9 218px,#69bccb 221px,#56b3dd 223px,#4f669f 228px,#414c8d 234px,#55498e 248px,#445091 270px,#506ba2 274px,#5aa7d4 277px,#58b6dc 278px,#79c0b2 281px,#72b24b 289px,#7db73c 297px,#ccd74a 313px,#cfd94b 326px,#9bc241 338px,#76b53e 346px,#72b248 351px,#75c0bb 360px,#5bb7d9 362px,#58add8 363px,#516fa6 366px,#455192 370px,#4c4a8f 377px,#925596 413px,#a5589b 457px,#a6589b 504px)"></i>
<i style="top:832px;height:3px;background:linear-gradient(90deg,#a6589b 0,#9d5798 83px,#804f92 108px,#4c4a8f 133px,#434f90 139px,#506ba2 144px,#58add8 148px,#5ab6da 149px,#77c0b8 152px,#74b45c 162px,#72b247 166px,#74b43f 197px,#73b351 208px,#79bfb1 219px,#57b5dd 223px,#4f68a0 228px,#424c8d 234px,#55498e 248px,#445091 270px,#506aa1 274px,#57b5dd 278px,#79c0b4 281px,#72b24d 289px,#7cb63c 297px,#c4d449 312px,#ccd84a 324px,#a9c744 335px,#76b53d 345px,#72b249 351px,#74bfbd 360px,#5ab7da 362px,#5897c8 364px,#516ea5 366px,#455192 370px,#4f498e 378px,#935596 414px,#a5589b 458px,#a6589b 504px)"></i>
<i style="top:835px;height:3px;background:linear-gradient(90deg,#a6589b 0,#9d5798 83px,#804f92 108px,#4c4a8f 133px,#444f90 139px,#506da4 144px,#57b0db 148px,#67bccd 150px,#79bea9 153px,#72b24a 164px,#76b53e 185px,#72b248 207px,#78bda2 218px,#70bfc4 221px,#59b6db 223px,#5689bd 226px,#4e609b 229px,#434b8d 236px,#55498e 248px,#445091 270px,#4f69a0 274px,#56b4dd 278px,#78c0b6 281px,#72b248 290px,#7fb73c 298px,#bfd248 312px,#c7d64a 324px,#a1c442 336px,#76b53e 345px,#72b24b 351px,#79bfb1 359px,#59b6db 362px,#5894c6 364px,#506ca3 366px,#445091 370px,#52498e 379px,#935596 414px,#a5589b 458px,#a6589b 504px)"></i>
<i style="top:838px;height:3px;background:linear-gradient(90deg,#a6589b 0,#9c5798 83px,#804f92 108px,#4b4a8f 133px,#445091 139px,#4f659e 143px,#5892c5 146px,#56b4dd 148px,#79c0b2 152px,#72b24e 163px,#76b53e 178px,#73b346 206px,#73b358 210px,#78c0b7 220px,#5ab7da 223px,#599fce 225px,#506ba2 228px,#444f90 233px,#55498e 252px,#444f90 270px,#4f67a0 274px,#57b2dc 278px,#6ebec6 280px,#78bc9a 283px,#72b248 290px,#81b83b 299px,#bad048 312px,#c1d349 325px,#9ec342 336px,#76b53e 345px,#72b24d 351px,#79c0b3 359px,#58b6dc 362px,#5892c4 364px,#506ba2 366px,#424d8e 371px,#845093 403px,#a3589a 439px,#a6589b 504px)"></i>
<i style="top:841px;height:4px;background:linear-gradient(90deg,#a6589b 0,#9c5798 83px,#7f4f92 108px,#4a4a8f 133px,#445091 139px,#4f669f 143px,#57b5dd 148px,#79bfaf 152px,#72b24a 163px,#77b53d 182px,#72b247 207px,#74b45d 211px,#79c0b4 220px,#5cb7d8 223px,#57b2dc 224px,#516ea4 228px,#445091 233px,#55498e 253px,#444f90 270px,#4f669f 274px,#57b0da 278px,#5db7d7 279px,#76c0ba 281px,#72b249 290px,#80b73b 299px,#b6ce47 312px,#bbd048 326px,#95bf3f 337px,#75b43e 345px,#73b350 351px,#79c0b5 359px,#56b5de 362px,#506aa1 366px,#424d8e 371px,#875194 404px,#a4589a 442px,#a6589b 504px)"></i>
<i style="top:845px;height:4px;background:linear-gradient(90deg,#a6589b 0,#9c5798 83px,#7d4e92 109px,#4a4a8f 133px,#455192 139px,#4f68a0 143px,#58acd7 147px,#59b6db 148px,#78c0b7 151px,#72b24d 162px,#76b53d 176px,#73b346 207px,#73b350 210px,#79bfb0 220px,#56b5de 224px,#4f669f 229px,#414b8c 235px,#55498e 249px,#455293 271px,#5171a8 275px,#58add8 278px,#5bb7d9 279px,#79bfaf 282px,#72b24c 290px,#7eb73c 299px,#b3cc46 313px,#b2cb46 328px,#75b43e 345px,#72b249 350px,#77c0b8 359px,#57b3dc 362px,#4f68a0 366px,#424c8d 371px,#885294 405px,#a5589b 445px,#a6589b 504px)"></i>
<i style="top:849px;height:4px;background:linear-gradient(90deg,#a6589b 0,#9d5798 82px,#7f4f92 108px,#494a8f 133px,#455192 139px,#506ba2 143px,#57b0da 147px,#68bccc 149px,#79c0b4 151px,#72b249 162px,#7ab63c 183px,#73b346 208px,#74b45d 212px,#77c0b8 221px,#59b6db 224px,#5999ca 226px,#4f68a0 229px,#414b8c 235px,#55498e 250px,#455192 271px,#516fa5 275px,#59aad6 278px,#59b6db 279px,#79bfb2 282px,#72b248 291px,#80b73b 300px,#aec945 313px,#adc944 328px,#75b43f 345px,#72b24b 350px,#76c0ba 359px,#5db7d7 361px,#57b0da 362px,#4f669f 366px,#424c8d 371px,#8a5294 406px,#a5589b 448px,#a6589b 504px)"></i>
<i style="top:853px;height:4px;background:linear-gradient(90deg,#a6589b 0,#9d5798 82px,#7e4f92 108px,#484a8f 133px,#455293 139px,#516da4 143px,#56b4dd 147px,#79bfb0 151px,#72b24d 161px,#78b53d 175px,#77b53d 197px,#72b249 210px,#79c0b5 221px,#5bb7d9 224px,#58afd9 225px,#506aa1 229px,#434e8f 234px,#55498e 253px,#455192 271px,#506ca3 275px,#58b6dc 279px,#79c0b5 282px,#72b249 291px,#81b83b 301px,#abc844 314px,#a6c643 329px,#75b43e 344px,#73b34e 350px,#74bfbd 359px,#5bb7d9 361px,#58add8 362px,#4f659e 366px,#414c8d 371px,#8e5495 409px,#a5589b 453px,#a6589b 504px)"></i>
<i style="top:857px;height:5px;background:linear-gradient(90deg,#a6589b 0,#9c5798 82px,#7e4e92 108px,#424d8e 137px,#4f659f 142px,#58b6dc 147px,#77c0b8 150px,#73b350 160px,#76b53d 171px,#7fb73c 193px,#72b247 210px,#78bc97 219px,#75c0bc 222px,#56b3dd 225px,#506da4 229px,#444f90 234px,#54498e 254px,#445091 271px,#506aa1 275px,#56b4dd 279px,#77c0b8 282px,#72b24c 291px,#7eb73c 301px,#a6c643 315px,#9ec342 330px,#75b43f 344px,#72b249 349px,#79c0b3 358px,#59b6db 361px,#5895c7 363px,#516ea5 365px,#455192 369px,#4b4a8f 375px,#935596 413px,#a6589b 459px,#a6589b 504px)"></i>
<i style="top:862px;height:5px;background:linear-gradient(90deg,#a6589b 0,#9c5798 82px,#7e4e92 108px,#424d8e 137px,#4f68a0 142px,#58aed9 146px,#5bb7d9 147px,#79c0b3 150px,#72b24b 160px,#7fb73b 176px,#7eb73c 197px,#72b248 211px,#79beab 221px,#70bfc4 223px,#58b6dc 225px,#4f659e 230px,#414b8c 236px,#55498e 252px,#445091 271px,#4f68a0 275px,#57b0da 279px,#6bbdc9 281px,#78bd9f 284px,#72b248 292px,#82b83b 303px,#a1c442 316px,#99c140 330px,#74b43f 344px,#72b24c 349px,#78c0b7 358px,#56b5de 361px,#506ba2 365px,#434e8f 370px,#835093 402px,#a2589a 436px,#a6589b 504px)"></i>
<i style="top:867px;height:5px;background:linear-gradient(90deg,#a6589b 0,#9d5798 81px,#7f4f92 107px,#434e8f 137px,#506aa2 142px,#57b2dc 146px,#75c0bc 149px,#73b34f 159px,#78b53d 170px,#87ba3c 187px,#72b247 211px,#74b45c 214px,#79c0b4 222px,#5ab7da 225px,#599bcb 227px,#4f67a0 230px,#434e8f 235px,#54498e 255px,#444f90 271px,#4f669f 275px,#58acd8 279px,#5ab7da 280px,#79c0b2 283px,#72b24b 292px,#82b83b 304px,#9cc241 318px,#90be3e 331px,#74b440 344px,#73b351 349px,#76c0ba 358px,#5db8d7 360px,#57b2dc 361px,#4f69a1 365px,#424d8e 370px,#865194 403px,#a4589a 440px,#a6589b 504px)"></i>
<i style="top:872px;height:5px;background:linear-gradient(90deg,#a6589b 0,#9d5798 81px,#7f4f92 107px,#434f90 137px,#4e639d 141px,#5893c5 144px,#57b5dd 146px,#77c0b8 149px,#72b24a 159px,#84b93b 175px,#86ba3c 195px,#72b248 212px,#79bfaf 222px,#5db8d7 225px,#57b1db 226px,#506aa1 230px,#434e8f 235px,#54498e 255px,#455293 272px,#516fa5 276px,#59a8d5 279px,#58b6dc 280px,#78c0b6 283px,#72b248 293px,#81b83b 305px,#96c040 320px,#80b73b 336px,#72b24b 348px,#74bfbe 358px,#5bb7d9 360px,#58aed9 361px,#4f669f 365px,#424d8e 370px,#895294 404px,#a5589b 445px,#a6589b 504px)"></i>
<i style="top:877px;height:4px;background:linear-gradient(90deg,#a6589b 0,#9c5798 81px,#7f4f92 107px,#424c8d 136px,#4f659e 141px,#59aad6 145px,#59b6db 146px,#79c0b5 149px,#72b248 159px,#88bb3c 176px,#8ebd3d 192px,#73b345 211px,#73b353 214px,#76c0b9 223px,#56b5de 226px,#506ca3 230px,#434e8f 235px,#54498e 256px,#455192 272px,#506ca3 276px,#56b5de 280px,#77c0b9 283px,#72b249 293px,#81b83b 306px,#90be3e 323px,#73b342 344px,#73b34f 348px,#79c0b5 357px,#59b6db 360px,#5897c8 362px,#4f659e 365px,#424b8d 371px,#925596 411px,#a6589b 457px,#a6589b 504px)"></i>
<i style="top:881px;height:5px;background:linear-gradient(90deg,#a6589b 0,#9c5798 81px,#7e4f92 107px,#424d8e 136px,#4f679f 141px,#58aed9 145px,#5bb7d9 146px,#79bfb0 149px,#72b24b 158px,#83b83b 171px,#97c040 186px,#82b83b 201px,#72b248 213px,#79c0b6 223px,#58b6dc 226px,#5895c7 228px,#4e649e 231px,#424b8d 237px,#55498e 254px,#455192 272px,#5069a1 276px,#57b0db 280px,#6abdca 282px,#78bda2 285px,#72b248 294px,#88ba3c 313px,#81b83b 333px,#72b24a 347px,#77c0b8 357px,#56b5de 360px,#506da4 364px,#455192 368px,#4a4a8f 374px,#935596 412px,#a6589b 459px,#a6589b 504px)"></i>
<i style="top:886px;height:5px;background:linear-gradient(90deg,#a6589b 0,#9d5798 80px,#7e4e92 107px,#424d8e 136px,#5069a1 141px,#57b2dc 145px,#76c0ba 148px,#72b248 158px,#81b83b 169px,#9cc242 183px,#90be3e 197px,#74b440 210px,#72b24a 214px,#79bfb1 223px,#5ab7da 226px,#58add8 227px,#4f669f 231px,#424d8e 236px,#54498e 256px,#445091 272px,#4f67a0 276px,#58acd8 280px,#5ab6da 281px,#79c0b5 284px,#72b24a 294px,#83b83b 311px,#7fb73b 332px,#72b248 346px,#79bfb0 356px,#5db8d7 359px,#57b1db 360px,#506aa1 364px,#434e8f 369px,#835093 401px,#a1589a 433px,#a6589b 504px)"></i>
<i style="top:891px;height:5px;background:linear-gradient(90deg,#a6589b 0,#9d5798 80px,#7e4e92 107px,#434e8f 136px,#506ba2 141px,#57b5dd 145px,#78c0b6 148px,#72b24c 157px,#80b83b 168px,#a2c443 182px,#98c140 196px,#74b43f 210px,#73b350 215px,#75c0bb 224px,#5db8d7 226px,#57b1db 227px,#4f68a0 231px,#424d8e 236px,#54498e 257px,#445091 272px,#4f659e 276px,#57b5dd 281px,#77c0b9 284px,#73b34f 294px,#77b53d 305px,#83b83b 325px,#72b248 345px,#78bc9a 354px,#72bfc0 357px,#5ab7da 359px,#599bcb 361px,#4f68a0 364px,#424d8e 369px,#865194 402px,#a3589a 438px,#a6589b 504px)"></i>
<i style="top:896px;height:5px;background:linear-gradient(90deg,#a6589b 0,#9d5798 80px,#7d4e92 107px,#434e8f 136px,#4e639d 140px,#5896c7 143px,#59b6db 145px,#79c0b2 148px,#72b249 157px,#80b73b 167px,#a6c643 180px,#a1c442 195px,#74b43f 210px,#72b24b 215px,#77c0b8 224px,#56b5de 227px,#506aa2 231px,#434e8f 236px,#54498e 258px,#434f90 272px,#506ca3 277px,#57b2dc 281px,#79bfb1 285px,#72b24b 295px,#7bb63c 310px,#7bb63c 331px,#72b249 345px,#77c0b8 356px,#57b6dd 359px,#4f659e 364px,#424b8c 370px,#925596 410px,#a6589b 457px,#a6589b 504px)"></i>
<i style="top:901px;height:4px;background:linear-gradient(90deg,#a6589b 0,#9c5798 80px,#7d4e91 107px,#434f90 136px,#4f659e 140px,#58add8 144px,#5bb7d9 145px,#79bfaf 148px,#72b248 157px,#7fb73c 166px,#aac744 179px,#a7c643 194px,#75b43e 210px,#72b249 215px,#79c0b5 224px,#57b6dd 227px,#506ca3 231px,#455192 235px,#53498e 260px,#434f90 272px,#506aa1 277px,#58afd9 281px,#67bbcd 283px,#79c0b4 285px,#72b249 296px,#7db73c 317px,#73b346 343px,#74b45e 347px,#75c0bc 356px,#56b4dd 359px,#516ea4 363px,#434f90 368px,#4d4a8f 374px,#945596 412px,#a6589b 461px,#a6589b 504px)"></i>
<i style="top:905px;height:4px;background:linear-gradient(90deg,#a6589b 0,#9d5798 79px,#7d4e91 107px,#444f90 136px,#4f669f 140px,#57b0da 144px,#5db7d7 145px,#76c0bb 147px,#72b24b 156px,#81b83b 166px,#afc945 179px,#acc844 194px,#75b43e 210px,#73b350 216px,#79bfb2 224px,#59b6db 227px,#5896c7 229px,#4e639d 232px,#424b8d 238px,#55498e 257px,#455192 273px,#4f68a0 277px,#59abd7 281px,#59b6db 282px,#77c0b8 285px,#72b24c 296px,#77b53d 311px,#73b345 342px,#73b351 345px,#79c0b4 355px,#5cb7d8 358px,#57b0da 359px,#506ba2 363px,#434e8f 368px,#4e4a8f 374px,#945696 412px,#a6589b 462px,#a6589b 504px)"></i>
<i style="top:909px;height:4px;background:linear-gradient(90deg,#a6589b 0,#9d5798 79px,#7c4e91 107px,#424c8d 135px,#4f68a0 140px,#57b3dc 144px,#77c0b8 147px,#72b249 156px,#7fb73c 165px,#b2cb45 178px,#b3cc46 193px,#8ebd3d 203px,#74b440 212px,#72b24c 216px,#74bfbd 225px,#5bb7d9 227px,#58add8 228px,#4f659e 232px,#424b8d 238px,#55498e 258px,#445091 273px,#4f669f 277px,#56b5de 282px,#79bfaf 286px,#72b249 297px,#78b53d 318px,#72b247 342px,#74b45d 346px,#78c0b7 355px,#59b6db 358px,#599bcb 360px,#4f69a0 363px,#414b8c 369px,#8f5495 407px,#a6589b 454px,#a6589b 504px)"></i>
<i style="top:913px;height:3px;background:linear-gradient(90deg,#a6589b 0,#9d5798 79px,#7c4e91 107px,#424d8e 135px,#5069a1 140px,#56b5de 144px,#79c0b5 147px,#72b248 156px,#81b83b 165px,#b7ce47 178px,#bad047 192px,#92be3f 203px,#75b43e 211px,#72b249 216px,#76c0ba 225px,#5db7d7 227px,#57b0da 228px,#4f669f 232px,#424c8d 237px,#55498e 259px,#445091 273px,#516ea5 278px,#57b2dc 282px,#79c0b4 286px,#72b24d 297px,#76b53e 312px,#73b346 341px,#74b45a 345px,#76c0bb 355px,#57b5dd 358px,#4f669f 363px,#414b8c 369px,#814f93 399px,#9e5798 426px,#a6589b 504px)"></i>
<i style="top:916px;height:3px;background:linear-gradient(90deg,#a6589b 0,#9d5798 79px,#7c4e91 107px,#424d8e 135px,#506ba2 140px,#58b6dc 144px,#79c0b3 147px,#72b247 156px,#7fb73c 164px,#bbd048 178px,#c0d349 191px,#9bc241 202px,#75b43e 211px,#72b248 216px,#77c0b8 225px,#5eb8d6 227px,#57b2dc 228px,#4f67a0 232px,#424d8e 237px,#55498e 259px,#444f90 273px,#506ca3 278px,#58afda 282px,#66bbce 284px,#79beaa 287px,#72b249 298px,#76b53e 320px,#72b248 342px,#78bea6 353px,#6abdca 356px,#56b4dd 358px,#4f659e 363px,#414b8c 369px,#7c4e91 396px,#9b5798 421px,#a6589b 495px,#a6589b 504px)"></i>
<i style="top:919px;height:3px;background:linear-gradient(90deg,#a6589b 0,#9d5798 79px,#7c4e91 107px,#424d8e 135px,#4e619c 139px,#547db3 141px,#59a9d5 143px,#59b6db 144px,#79bfb1 147px,#72b24b 155px,#80b83b 164px,#c0d248 178px,#c5d549 191px,#9ec342 202px,#76b53e 211px,#73b350 217px,#78c0b6 225px,#56b4dd 228px,#4f68a0 232px,#424d8e 237px,#55498e 259px,#434f90 273px,#506aa1 278px,#58acd7 282px,#59b6db 283px,#76c0b9 286px,#74b45b 296px,#73b345 301px,#74b440 335px,#73b351 343px,#79bea9 353px,#72bfc0 355px,#5cb7d8 357px,#57b1db 358px,#506da4 362px,#444f90 367px,#50498e 374px,#955696 412px,#a6589b 464px,#a6589b 504px)"></i>
<i style="top:922px;height:3px;background:linear-gradient(90deg,#a6589b 0,#9d5798 79px,#7b4e91 107px,#434e8f 135px,#4e629c 139px,#5580b5 141px,#59abd7 143px,#5ab6da 144px,#79bfaf 147px,#72b249 155px,#7db73c 163px,#c5d549 178px,#cad74a 191px,#9cc241 203px,#76b53e 211px,#72b24e 217px,#79c0b5 225px,#57b5dd 228px,#506aa1 232px,#424d8e 237px,#55498e 260px,#434e8f 273px,#4f68a0 278px,#57b5dd 283px,#79bfb1 287px,#72b24a 299px,#75b43e 323px,#72b249 341px,#79bfac 353px,#64bad0 356px,#5ab6da 357px,#599ecd 359px,#506ba2 362px,#424c8d 368px,#8e5395 405px,#a5589b 452px,#a6589b 504px)"></i>
<i style="top:925px;height:3px;background:linear-gradient(90deg,#a6589b 0,#9d5798 79px,#7b4e91 107px,#434e8f 135px,#4e639d 139px,#5899c9 142px,#58add8 143px,#5bb7d9 144px,#75c0bb 146px,#72b248 155px,#7fb73c 163px,#cad74a 178px,#cfd94b 191px,#a4c543 202px,#78b53d 210px,#72b24b 217px,#79c0b2 225px,#58b6dc 228px,#5891c4 230px,#506ba2 232px,#424d8e 237px,#55498e 260px,#455192 274px,#4f669f 278px,#56b4dd 283px,#79c0b4 287px,#73b354 298px,#73b344 304px,#73b344 337px,#73b351 342px,#79bfb0 353px,#58b6dc 357px,#5687bc 360px,#4d609b 363px,#444a8e 370px,#6f4b8f 388px,#995797 416px,#a6589b 476px,#a6589b 504px)"></i>
<i style="top:928px;height:4px;background:linear-gradient(90deg,#a6589b 0,#9d5798 78px,#7d4e92 106px,#434e8f 135px,#4e649e 139px,#58afd9 143px,#5cb7d8 144px,#76c0ba 146px,#72b248 155px,#80b73b 163px,#cfd94b 178px,#d3da4b 192px,#9bc241 204px,#77b53d 211px,#72b249 217px,#79bfb0 225px,#59b6db 228px,#5894c6 230px,#506ca3 232px,#445192 236px,#54498e 262px,#445091 274px,#516fa5 279px,#57b0db 283px,#66bbce 285px,#79bfac 288px,#72b24b 300px,#74b43f 325px,#73b34e 341px,#78bea7 352px,#6bbdc9 355px,#56b5de 357px,#4f67a0 362px,#414b8c 368px,#7c4e91 395px,#9b5798 420px,#a6589b 494px,#a6589b 504px)"></i>
<i style="top:932px;height:4px;background:linear-gradient(90deg,#a6589b 0,#9d5798 78px,#7d4e92 106px,#434e8f 135px,#4f669f 139px,#57b1db 143px,#6ebec6 145px,#78bc99 148px,#72b247 155px,#82b83b 163px,#d2da4b 177px,#dadf4a 190px,#c2d449 198px,#77b53d 211px,#72b248 217px,#75c0bc 226px,#5ab7da 228px,#59abd7 229px,#516ea5 232px,#455192 236px,#55498e 262px,#445091 274px,#506ba2 279px,#58acd8 283px,#59b6db 284px,#79bfb0 288px,#73b356 299px,#73b346 304px,#73b344 335px,#73b353 341px,#79bfac 352px,#66bbce 355px,#57b1db 357px,#4f659e 362px,#414b8c 368px,#744b8f 390px,#995797 416px,#a6589b 477px,#a6589b 504px)"></i>
<i style="top:936px;height:4px;background:linear-gradient(90deg,#a6589b 0,#9d5798 78px,#7d4e91 106px,#434f90 135px,#4f67a0 139px,#56b4dd 143px,#79c0b5 146px,#72b24a 154px,#7fb73c 162px,#d7dd4b 177px,#e0e24a 190px,#c9d64a 198px,#78b53d 211px,#73b34f 218px,#76c0ba 226px,#5cb7d8 228px,#58aed9 229px,#5170a7 232px,#455192 236px,#54498e 263px,#444f90 274px,#4f69a1 279px,#56b5de 284px,#79c0b5 288px,#75b569 297px,#72b248 303px,#73b345 334px,#73b352 340px,#78bea6 351px,#6ebec6 354px,#59b6db 356px,#578bbf 359px,#4e629d 362px,#434b8d 369px,#6f4a8e 387px,#985797 415px,#a6589b 475px,#a6589b 504px)"></i>
<i style="top:940px;height:4px;background:linear-gradient(90deg,#a6589b 0,#9d5798 78px,#7d4e91 106px,#444f90 135px,#4f68a0 139px,#57b5dd 143px,#79c0b2 146px,#72b249 154px,#7cb63c 161px,#dade4a 176px,#e6e248 188px,#d4db4b 197px,#7ab63c 211px,#72b24c 218px,#77c0b8 226px,#5db8d7 228px,#57b0db 229px,#4f659e 233px,#414c8d 238px,#56498e 261px,#434f90 274px,#4f669f 279px,#57b1db 284px,#65bbcf 286px,#79bfae 289px,#74b45a 300px,#72b247 305px,#72b248 336px,#75b56c 343px,#79beaa 351px,#6abdca 354px,#56b5de 356px,#5069a1 361px,#424c8d 367px,#54498e 374px,#965697 412px,#a6589b 467px,#a6589b 504px)"></i>
<i style="top:944px;height:4px;background:linear-gradient(90deg,#a6589b 0,#9d5798 78px,#7c4e91 106px,#424c8d 134px,#506aa1 139px,#5aa7d4 142px,#58b6dc 143px,#79bfb0 146px,#72b248 154px,#7eb73c 161px,#dbdf4a 175px,#ebe346 186px,#d9de4a 197px,#77b53d 212px,#72b24a 218px,#79c0b6 226px,#57b3dc 229px,#4f669f 233px,#424c8d 238px,#56498e 261px,#434e8f 274px,#4e649e 279px,#578cc0 282px,#58b6dc 285px,#79c0b3 289px,#75b56d 298px,#72b248 305px,#72b249 336px,#78bc9b 349px,#70bfc3 353px,#5bb7d9 355px,#5aa3d1 357px,#4f669f 361px,#414c8d 367px,#774c90 391px,#9a5797 417px,#a6589b 484px,#a6589b 504px)"></i>
<i style="top:948px;height:3px;background:linear-gradient(90deg,#a6589b 0,#9d5798 78px,#7c4e91 106px,#424d8e 134px,#4d609b 138px,#547db2 140px,#59aad6 142px,#5ab6da 143px,#74bfbd 145px,#72b247 154px,#7fb73b 161px,#e0e24a 175px,#eede44 185px,#e2e249 196px,#afca45 204px,#78b53d 212px,#72b248 218px,#79c0b3 226px,#56b5de 229px,#4f68a0 233px,#424c8d 238px,#57498e 261px,#445091 275px,#506aa1 280px,#56b4de 285px,#77c0b8 289px,#77b87f 296px,#72b249 306px,#72b24b 335px,#78bb97 348px,#74bfbe 352px,#58b6dc 355px,#578cc0 358px,#4e649e 361px,#414b8c 367px,#734b8f 388px,#9a5797 416px,#a6589b 481px,#a6589b 504px)"></i>
<i style="top:951px;height:3px;background:linear-gradient(90deg,#a6589b 0,#9d5798 78px,#7a4d91 107px,#424d8e 134px,#4e619c 138px,#547fb4 140px,#59acd7 142px,#5bb7d9 143px,#75c0bb 145px,#72b24d 153px,#7bb63c 160px,#c6d549 170px,#eae346 177px,#eed943 189px,#e2e249 197px,#a2c543 206px,#79b63d 212px,#72b248 218px,#79bfb2 226px,#57b5dd 229px,#4f69a1 233px,#424c8d 238px,#57498e 262px,#444f90 275px,#4f68a0 280px,#57b1db 285px,#70bfc4 288px,#78bb95 293px,#72b24d 306px,#72b249 333px,#76b674 342px,#79bfad 350px,#68bccc 353px,#56b5de 355px,#506ba2 360px,#424d8e 366px,#52498e 373px,#955696 410px,#a6589b 464px,#a6589b 504px)"></i>
<i style="top:954px;height:3px;background:linear-gradient(90deg,#a6589b 0,#9d5798 78px,#7a4d91 107px,#424d8e 134px,#4e629c 138px,#5581b6 140px,#58add8 142px,#5cb7d8 143px,#76c0b9 145px,#72b24b 153px,#7db73c 160px,#e3e249 174px,#efd742 180px,#efd542 191px,#e5e248 197px,#b5cd46 204px,#7ab63c 212px,#73b350 219px,#73bfbf 227px,#58b6dc 229px,#5891c3 231px,#506aa1 233px,#424d8e 238px,#57498e 262px,#434f90 275px,#4f669f 280px,#58add8 285px,#61b9d3 287px,#79c0b5 290px,#77b87f 297px,#72b24b 308px,#72b24c 333px,#79ba88 345px,#76c0bb 351px,#57b2db 355px,#4f69a0 360px,#424d8e 366px,#53498e 373px,#955696 410px,#a6589b 465px,#a6589b 504px)"></i>
<i style="top:957px;height:3px;background:linear-gradient(90deg,#a6589b 0,#9d5798 78px,#794d91 107px,#434d8e 134px,#4e639d 138px,#5583b8 140px,#58afda 142px,#5db8d7 143px,#77c0b8 145px,#72b249 153px,#7eb73c 160px,#e2e249 173px,#eedc43 177px,#f0ca40 185px,#eed943 194px,#e4e248 198px,#9fc442 207px,#77b53d 213px,#72b24e 219px,#74bfbd 227px,#59b6db 229px,#5893c5 231px,#506ba2 233px,#424d8e 238px,#57498e 262px,#434e8f 275px,#4e649e 280px,#578bbf 283px,#56b5de 286px,#77c0b8 290px,#78b982 297px,#73b34f 308px,#72b24a 330px,#75b570 340px,#79beab 349px,#6cbec8 352px,#59b6db 354px,#5790c3 357px,#4f669f 360px,#424c8d 366px,#53498e 373px,#965696 410px,#a6589b 465px,#a6589b 504px)"></i>
<i style="top:960px;height:3px;background:linear-gradient(90deg,#a6589b 0,#9d5798 78px,#794d91 107px,#434e8f 134px,#4e649e 138px,#599dcc 141px,#57b1db 142px,#5eb8d6 143px,#78c0b6 145px,#72b248 153px,#7fb73c 160px,#e5e248 173px,#efd542 177px,#efc53f 185px,#efd241 194px,#e8e347 198px,#b3cc46 205px,#7db73c 212px,#72b24c 219px,#75c0bc 227px,#5ab7da 229px,#59aad6 230px,#506ca3 233px,#445091 237px,#57498e 264px,#434e8f 275px,#506aa2 281px,#57b2dc 286px,#79c0b3 291px,#77b77b 299px,#73b351 309px,#72b249 327px,#75b569 338px,#78bea6 348px,#72bfc1 351px,#57b5dd 354px,#4e649e 360px,#424b8d 367px,#6f4b8f 385px,#9a5797 415px,#a6589b 482px,#a6589b 504px)"></i>
<i style="top:963px;height:3px;background:linear-gradient(90deg,#a6589b 0,#9d5798 77px,#7b4e91 106px,#434e8f 134px,#4f659e 138px,#599fce 141px,#57b2dc 142px,#79c0b5 145px,#72b248 153px,#80b83b 160px,#e3e249 172px,#eedc43 175px,#efc13e 182px,#f0c83f 193px,#e6e248 199px,#9cc241 208px,#78b53d 213px,#72b24a 219px,#76c0ba 227px,#5bb7d9 229px,#58acd7 230px,#506da4 233px,#445091 237px,#57498e 264px,#434d8e 275px,#4f68a0 281px,#58aed9 286px,#61b9d3 288px,#78c0b6 291px,#78b983 298px,#73b353 310px,#73b34f 328px,#75b56e 338px,#79beaa 348px,#6fbfc5 351px,#57b2dc 354px,#506ba2 359px,#434e8f 365px,#50498e 372px,#794d91 391px,#9b5798 417px,#a6589b 491px,#a6589b 504px)"></i>
<i style="top:966px;height:3px;background:linear-gradient(90deg,#a6589b 0,#9d5798 77px,#7b4e91 106px,#434e8f 134px,#4f669f 138px,#56b4dd 142px,#79c0b3 145px,#72b248 153px,#7cb63c 159px,#bcd148 167px,#ebe346 173px,#efbf3d 180px,#efc03e 192px,#e9e346 199px,#a7c643 207px,#79b63d 213px,#72b249 219px,#77c0b9 227px,#5cb7d8 229px,#58aed9 230px,#516ea5 233px,#445091 237px,#57498e 265px,#424d8e 275px,#4f669f 281px,#57b5dd 287px,#79bfb1 292px,#77b77d 300px,#73b355 311px,#73b355 329px,#78b880 341px,#79bfae 348px,#6bbdc9 351px,#59b6db 353px,#5892c5 356px,#4f69a0 359px,#414b8c 366px,#724b8f 386px,#9a5797 415px,#a6589b 483px,#a6589b 504px)"></i>
<i style="top:969px;height:3px;background:linear-gradient(90deg,#a6589b 0,#9d5798 77px,#7b4e91 106px,#434e8f 134px,#4f669f 138px,#56b5de 142px,#79bfb1 145px,#73b34e 152px,#7db73c 159px,#c0d349 167px,#e9e346 172px,#eeb93c 180px,#eeba3c 192px,#eeda43 198px,#e7e347 200px,#a1c442 208px,#77b53d 214px,#72b248 219px,#78c0b7 227px,#5db8d7 229px,#58afda 230px,#516fa6 233px,#455192 237px,#57498e 265px,#424c8d 275px,#4e649e 281px,#5688bd 284px,#57b2dc 287px,#79c0b5 292px,#78b880 300px,#73b358 312px,#74b45b 330px,#78bb93 344px,#71bfc3 350px,#57b5dd 353px,#4f669f 359px,#414b8c 366px,#714b8f 385px,#9a5797 415px,#a6589b 484px,#a6589b 504px)"></i>
<i style="top:972px;height:3px;background:linear-gradient(90deg,#a6589b 0,#9d5798 77px,#7b4d91 106px,#414b8c 133px,#4f67a0 138px,#57b5dd 142px,#79bfb0 145px,#72b24c 152px,#7eb73c 159px,#b9cf47 166px,#ede345 172px,#eeba3c 178px,#efb23c 190px,#f0cc40 197px,#eae346 200px,#a3c543 208px,#77b53d 214px,#72b248 219px,#78c0b6 227px,#5eb8d6 229px,#57b1db 230px,#5171a7 233px,#455192 237px,#58498e 265px,#424c8d 275px,#506aa1 282px,#58aed9 287px,#60b9d4 289px,#79bfb0 293px,#78b880 301px,#74b45c 313px,#74b460 330px,#78bb96 344px,#74bfbe 349px,#57b2dc 353px,#506da4 358px,#434f90 364px,#4e498e 371px,#714b8f 385px,#9a5797 415px,#a6589b 486px,#a6589b 504px)"></i>
<i style="top:975px;height:3px;background:linear-gradient(90deg,#a6589b 0,#9d5798 77px,#7b4d91 106px,#414c8d 133px,#4f68a0 138px,#5aa7d3 141px,#58b6dc 142px,#79bfae 145px,#72b24b 152px,#7fb73c 159px,#bcd148 166px,#eae346 171px,#eeb63c 178px,#efae3c 190px,#efc73f 197px,#ede245 200px,#c4d449 205px,#83b83b 212px,#74b441 217px,#73b350 220px,#79c0b4 227px,#57b2dc 230px,#5272a8 233px,#485595 236px,#454a8e 242px,#58498e 264px,#434e8f 276px,#4f68a0 282px,#56b5de 288px,#79c0b5 293px,#78b983 301px,#74b45f 314px,#75b565 330px,#78bc9a 344px,#72bfc1 349px,#59b6db 352px,#5893c5 355px,#506aa1 358px,#414c8d 365px,#57498e 373px,#965696 409px,#a6589b 467px,#a6589b 504px)"></i>
<i style="top:978px;height:3px;background:linear-gradient(90deg,#a6589b 0,#9d5798 77px,#7b4d91 106px,#424c8d 133px,#5069a1 138px,#59a8d5 141px,#59b6db 142px,#75c0bc 144px,#72b249 152px,#80b83b 159px,#e6e248 170px,#eed843 172px,#efb13c 178px,#efaa3b 190px,#efc23e 197px,#eae346 201px,#b2cb45 207px,#7eb73c 213px,#72b24e 220px,#79c0b3 227px,#56b4dd 230px,#4f659f 234px,#414b8c 239px,#59498e 263px,#424d8e 276px,#4f659f 282px,#5898c9 286px,#57b1db 288px,#79bfb0 294px,#78b982 302px,#74b463 316px,#75b56c 331px,#78bc9e 344px,#74bfbd 348px,#56b5de 352px,#4f68a0 358px,#414b8c 365px,#724b8f 385px,#9a5797 415px,#a6589b 488px,#a6589b 504px)"></i>
<i style="top:981px;height:3px;background:linear-gradient(90deg,#a6589b 0,#9d5798 77px,#7a4d91 106px,#424c8d 133px,#4d5e9a 137px,#547bb0 139px,#59aad6 141px,#5ab6da 142px,#75c0bb 144px,#72b249 152px,#7bb63c 158px,#b8cf47 165px,#e9e346 170px,#efb13c 177px,#f0a43b 188px,#eeb73c 196px,#ede345 201px,#bfd248 206px,#7fb73c 213px,#72b24c 220px,#79bfb1 227px,#56b5de 230px,#4f669f 234px,#414b8c 239px,#59498e 264px,#424d8e 276px,#506ba2 283px,#58add8 288px,#5eb8d6 290px,#79c0b5 294px,#79b986 302px,#75b568 316px,#76b671 331px,#78bc9b 343px,#72bfc1 348px,#57b1db 352px,#4f659f 358px,#414b8c 365px,#734b8f 385px,#9b5797 415px,#a6589b 489px,#a6589b 504px)"></i>
<i style="top:984px;height:3px;background:linear-gradient(90deg,#a6589b 0,#9d5798 77px,#7a4d91 106px,#424c8d 133px,#4d5f9b 137px,#547db2 139px,#59abd7 141px,#5bb7d9 142px,#76c0ba 144px,#72b248 152px,#7cb63c 158px,#b1cb45 164px,#ece345 170px,#eeb53c 175px,#f0a03b 184px,#efaa3b 194px,#f0c73f 199px,#e9e346 202px,#a3c543 209px,#7ab63c 214px,#72b24b 220px,#79bfb0 227px,#57b5dd 230px,#4f67a0 234px,#414c8d 239px,#5a498e 264px,#424c8d 276px,#4f68a0 283px,#56b4dd 289px,#79bfb1 295px,#79b986 303px,#75b56d 318px,#77b77a 333px,#78bda0 343px,#6fbfc5 348px,#57b6dd 351px,#5584b8 355px,#4e639d 358px,#434b8d 366px,#704b8f 383px,#9b5798 415px,#a6589b 490px,#a6589b 504px)"></i>
<i style="top:987px;height:3px;background:linear-gradient(90deg,#a6589b 0,#9d5798 77px,#7a4d91 106px,#424c8d 133px,#4d609b 137px,#547eb4 139px,#58add8 141px,#5cb7d8 142px,#77c0b8 144px,#72b248 152px,#7db73c 158px,#a9c744 163px,#e8e347 169px,#efac3b 176px,#f09c3a 186px,#efaa3b 195px,#f0cc40 200px,#ece345 202px,#afca45 208px,#7bb63c 214px,#72b249 220px,#74bfbe 228px,#58b6dc 230px,#578fc2 232px,#4f68a0 234px,#414c8d 239px,#5a498e 264px,#434e8f 277px,#4f669f 283px,#57afda 289px,#68bccc 292px,#79bfae 296px,#78b983 305px,#76b672 321px,#79ba88 337px,#76c0ba 346px,#57b3dd 351px,#4f68a0 357px,#424c8d 364px,#56498e 372px,#814f92 394px,#9c5798 418px,#a6589b 504px)"></i>
<i style="top:990px;height:3px;background:linear-gradient(90deg,#a6589b 0,#9d5798 77px,#7a4d91 106px,#424d8e 133px,#4e619c 137px,#5580b5 139px,#58aed9 141px,#5db7d7 142px,#78c0b7 144px,#72b247 152px,#7fb73c 158px,#b6ce46 164px,#ebe346 169px,#efad3c 175px,#f09839 184px,#f0a63b 195px,#efc73f 200px,#e8e347 203px,#92bf3f 211px,#75b43e 216px,#72b249 220px,#74bfbd 228px,#59b6db 230px,#5790c3 232px,#4f69a0 234px,#424c8d 239px,#5a498e 265px,#414b8c 276px,#4e649e 283px,#5892c4 287px,#56b5de 290px,#79c0b3 296px,#79ba87 305px,#76b677 321px,#79ba89 336px,#79bfb0 344px,#66bbce 348px,#58b6dc 350px,#5688bd 354px,#4f669f 357px,#414b8c 364px,#5a498e 373px,#975697 409px,#a6589b 471px,#a6589b 504px)"></i>
<i style="top:993px;height:3px;background:linear-gradient(90deg,#a6589b 0,#9d5798 77px,#7a4d91 106px,#424d8e 133px,#4e629c 137px,#5582b7 139px,#57afda 141px,#5db8d7 142px,#79c0b6 144px,#73b34e 151px,#80b73b 158px,#c5d549 165px,#ede245 169px,#efaf3c 174px,#f09639 182px,#f09e3a 194px,#efc23e 200px,#eae346 203px,#9fc342 210px,#7db73c 214px,#72b248 220px,#75c0bb 228px,#5ab6da 230px,#5892c4 232px,#5069a1 234px,#424c8d 239px,#5b498e 265px,#424d8e 277px,#4f69a1 284px,#57b1db 290px,#70bfc4 294px,#78bb95 302px,#77b77c 315px,#78b985 333px,#78bea7 342px,#71bfc2 346px,#56b4dd 350px,#4e639d 357px,#434b8d 365px,#724b8f 383px,#9b5798 415px,#a6589b 495px,#a6589b 504px)"></i>
<i style="top:996px;height:3px;background:linear-gradient(90deg,#a6589b 0,#9d5798 77px,#7a4d91 106px,#424d8e 133px,#4e629d 137px,#5584b9 139px,#57b1db 141px,#5fb8d5 142px,#79c0b4 144px,#72b24d 151px,#7ab63c 157px,#b0ca45 163px,#e8e347 168px,#efab3b 174px,#f09238 182px,#f09b3a 194px,#efbd3d 200px,#ede345 203px,#b7ce47 208px,#7eb73c 214px,#72b248 220px,#76c0ba 228px,#5ab7da 230px,#59aad6 231px,#506aa1 234px,#444f90 238px,#5b498e 265px,#424c8d 277px,#4f669f 284px,#56b5de 291px,#79c0b5 297px,#79ba8c 306px,#77b87f 323px,#78bb94 337px,#73bfbf 345px,#58b6dc 349px,#578cc0 353px,#4e619c 357px,#434b8d 365px,#724b8f 383px,#9b5798 415px,#a6589b 497px,#a6589b 504px)"></i>
<i style="top:999px;height:3px;background:linear-gradient(90deg,#a6589b 0,#9d5798 77px,#7a4d91 106px,#424d8e 133px,#4e639d 137px,#5686ba 139px,#57b2dc 141px,#79c0b3 144px,#72b24b 151px,#7bb63c 157px,#a8c643 162px,#ebe346 168px,#efae3c 173px,#f09038 181px,#f09438 193px,#eeb93c 200px,#e7e347 204px,#99c140 211px,#76b53e 216px,#73b351 221px,#77c0b9 228px,#5bb7d9 230px,#59abd7 231px,#506ba2 234px,#444f90 238px,#5b498e 265px,#414c8d 277px,#506ba2 285px,#57b1db 291px,#79c0b3 298px,#79bb8e 307px,#78b983 325px,#78bc9b 338px,#71bfc3 345px,#56b5de 349px,#4f669f 356px,#424b8c 364px,#734b8f 383px,#9b5798 415px,#a6589b 499px,#a6589b 504px)"></i>
<i style="top:1002px;height:3px;background:linear-gradient(90deg,#a6589b 0,#9d5798 77px,#794d91 106px,#424b8c 132px,#4e649e 137px,#5687bc 139px,#56b4dd 141px,#79bfb1 144px,#72b24a 151px,#7cb63c 157px,#aac744 162px,#e5e248 167px,#ede245 168px,#efb23c 172px,#f09038 179px,#f08f37 192px,#efad3c 199px,#eae346 204px,#a6c643 210px,#7ab63d 215px,#73b34f 221px,#77c0b8 228px,#5cb7d8 230px,#58add8 231px,#506ca3 234px,#445091 238px,#5a498e 266px,#414b8c 277px,#4f68a0 285px,#56b5de 292px,#77c0b8 298px,#79bb92 307px,#79ba87 325px,#78bda0 338px,#72bfc1 344px,#58b6dc 348px,#578ec1 352px,#4e639d 356px,#424b8d 364px,#734b8f 383px,#9b5798 415px,#a6589b 501px,#a6589b 504px)"></i>
<i style="top:1005px;height:3px;background:linear-gradient(90deg,#a6589b 0,#9d5798 77px,#794d91 106px,#414b8c 132px,#4f659e 137px,#5689bd 139px,#56b5de 141px,#79bfb0 144px,#72b249 151px,#7db73c 157px,#acc844 162px,#e7e347 167px,#f0a63b 173px,#ef8937 181px,#f09038 194px,#eeba3c 201px,#ede345 204px,#b3cc46 209px,#81b83b 214px,#72b247 220px,#75b56d 223px,#78c0b7 228px,#5db8d7 230px,#58aed9 231px,#506da4 234px,#445091 238px,#5b498e 266px,#424d8e 278px,#4f669f 285px,#57b1db 292px,#79bfb1 300px,#79bb90 310px,#79bb90 330px,#79bfaf 340px,#67bccd 345px,#56b4dd 348px,#4f68a0 355px,#414b8c 363px,#744b8f 383px,#9c5798 415px,#a6589b 503px,#a6589b 504px)"></i>
<i style="top:1008px;height:3px;background:linear-gradient(90deg,#a6589b 0,#9d5798 77px,#794d91 106px,#414b8c 132px,#4f659e 137px,#578bbf 139px,#57b5dd 141px,#79bfaf 144px,#72b248 151px,#7eb73c 157px,#aec945 162px,#eae346 167px,#efaa3b 172px,#ef8a37 179px,#ef8936 192px,#f0a63b 199px,#f0ce41 203px,#e6e248 205px,#93bf3f 212px,#75b43e 217px,#72b24c 221px,#79c0b5 228px,#5db8d7 230px,#58afda 231px,#516ea5 234px,#445091 238px,#5b498e 266px,#424c8d 278px,#506aa1 286px,#56b5de 293px,#78c0b6 300px,#78bb95 310px,#78bb94 330px,#79c0b4 340px,#58b6dc 347px,#578fc2 351px,#4f659e 355px,#424b8c 363px,#754b8f 383px,#9c5798 415px,#a6589b 504px)"></i>
<i style="top:1011px;height:3px;background:linear-gradient(90deg,#a6589b 0,#9d5798 77px,#794d91 106px,#414b8c 132px,#4f669f 137px,#578cc0 139px,#57b6dd 141px,#74bfbe 143px,#72b248 151px,#7fb73c 157px,#bcd148 163px,#ede345 167px,#efaf3c 171px,#ef8937 178px,#ee8436 191px,#f0a23b 199px,#f0ca40 203px,#e9e347 205px,#a1c442 211px,#7cb63c 215px,#72b24b 221px,#79c0b4 228px,#5eb8d6 230px,#57b1db 231px,#516fa6 234px,#445091 238px,#5c498e 266px,#414b8c 278px,#4f679f 286px,#57b0da 293px,#69bccb 297px,#79bfad 303px,#78bb94 314px,#78bc9b 332px,#74bfbe 341px,#57b3dc 347px,#4e629d 355px,#434b8d 364px,#744b8f 382px,#9c5798 415px,#a6589b 504px)"></i>
<i style="top:1014px;height:3px;background:linear-gradient(90deg,#a6589b 0,#9d5798 77px,#764c90 107px,#414b8c 132px,#4f679f 137px,#578ec1 139px,#58b6dc 141px,#74bfbd 143px,#72b248 151px,#80b73b 157px,#bfd248 163px,#e6e248 166px,#eedf44 167px,#efab3b 171px,#ef8636 178px,#ee8135 191px,#f09f3a 199px,#efc63f 203px,#ebe346 205px,#aec944 210px,#7db73c 215px,#72b249 221px,#79c0b3 228px,#60b9d4 230px,#57b2dc 231px,#5170a6 234px,#445091 238px,#5c498e 266px,#414b8c 278px,#4e649e 286px,#57b3dc 294px,#78c0b7 302px,#78bc99 314px,#78bda1 332px,#71bfc2 341px,#56b5de 346px,#4d609b 355px,#444a8e 364px,#734b8f 381px,#9c5798 414px,#a6589b 503px,#a6589b 504px)"></i>
<i style="top:1017px;height:3px;background:linear-gradient(90deg,#a6589b 0,#9d5798 77px,#764c90 107px,#414b8c 132px,#4f67a0 137px,#578fc2 139px,#59b6db 141px,#75c0bb 143px,#72b247 151px,#81b83b 157px,#c2d449 163px,#e8e347 166px,#f0a03b 172px,#ee7f35 180px,#ee8235 193px,#f0a33b 200px,#efd041 204px,#ede145 205px,#b0ca45 210px,#7eb73c 215px,#72b249 221px,#79bfb1 228px,#57b3dd 231px,#5171a7 234px,#475495 237px,#454a8f 244px,#5e498d 265px,#424c8d 279px,#4f68a0 287px,#56b5de 295px,#78c0b7 303px,#78bc9c 316px,#78bea6 332px,#71bfc2 340px,#57b1db 346px,#4e639d 354px,#434b8d 363px,#754c8f 382px,#9c5798 415px,#a6589b 504px)"></i>
<i style="top:1020px;height:3px;background:linear-gradient(90deg,#a6589b 0,#9d5798 77px,#764c90 107px,#414b8c 132px,#4f68a0 137px,#59a8d5 140px,#5ab6da 141px,#76c0ba 143px,#73b34f 150px,#7bb63c 156px,#9fc342 160px,#e0e24a 165px,#eae346 166px,#f0a53b 171px,#ee8035 178px,#ee7d35 192px,#f0a03b 200px,#f0cc40 204px,#e6e248 206px,#8ebd3e 213px,#76b53e 217px,#72b248 221px,#79bfb0 228px,#56b4dd 231px,#5272a8 234px,#475595 237px,#454a8e 243px,#5d498d 266px,#414b8c 279px,#506ba2 288px,#57b0da 295px,#70bfc4 301px,#78bda4 313px,#79beaa 331px,#6dbec7 340px,#57b3dc 345px,#4e619c 354px,#444a8e 364px,#744b8f 381px,#9c5798 414px,#a6589b 504px)"></i>
<i style="top:1023px;height:3px;background:linear-gradient(90deg,#a6589b 0,#9d5798 77px,#764c90 107px,#414b8c 132px,#4f69a1 137px,#59aad6 140px,#5ab7da 141px,#76c0b9 143px,#72b24e 150px,#7cb63c 156px,#a1c442 160px,#e2e249 165px,#ede345 166px,#efab3b 170px,#ee8035 177px,#ed7834 190px,#f08f38 198px,#eeb93c 203px,#e9e347 206px,#a8c743 211px,#79b63d 216px,#72b248 221px,#79bfaf 228px,#56b5de 231px,#5273a9 234px,#475595 237px,#454a8e 243px,#5e498d 266px,#414b8c 279px,#4f68a0 288px,#57b2dc 296px,#79c0b5 307px,#78bea7 322px,#75c0bc 336px,#56b5de 344px,#4d5e9a 354px,#434b8d 363px,#754b8f 381px,#9c5798 414px,#a6589b 504px)"></i>
<i style="top:1026px;height:3px;background:linear-gradient(90deg,#a6589b 0,#9d5798 77px,#764c90 107px,#414b8c 132px,#4d5e9a 136px,#537ab0 138px,#59abd6 140px,#5bb7d9 141px,#77c0b8 143px,#72b24d 150px,#7db73c 156px,#a3c543 160px,#e5e248 165px,#eedf44 166px,#f0a73b 170px,#ee7e35 177px,#ed7534 190px,#ef8c37 198px,#eeb63c 203px,#ebe346 206px,#aac744 211px,#7ab63c 216px,#72b248 221px,#73bfbe 229px,#57b5dd 231px,#4f659e 235px,#414b8c 240px,#5e498d 266px,#424c8d 280px,#506ba2 289px,#56b3dd 297px,#77c0b8 308px,#79bfae 325px,#70bfc4 337px,#56b5de 343px,#5580b5 349px,#4c5c99 354px,#454a8e 364px,#744b8f 380px,#9c5798 414px,#a6589b 504px)"></i>
<i style="top:1029px;height:3px;background:linear-gradient(90deg,#a6589b 0,#9d5798 77px,#764c90 107px,#414c8d 132px,#4d5e9a 136px,#547cb1 138px,#58acd7 140px,#5cb7d8 141px,#78c0b7 143px,#72b24b 150px,#7db73c 156px,#b1cb45 161px,#e7e347 165px,#f09b3a 171px,#ed7935 178px,#ed7534 192px,#f09739 200px,#f0d041 205px,#ede245 206px,#b8cf47 210px,#81b83b 215px,#73b344 220px,#73b351 222px,#74bfbd 229px,#58b6dc 231px,#4f669f 235px,#414b8c 240px,#5f498d 266px,#414b8c 280px,#4f68a0 289px,#56b4dd 298px,#76c0bb 309px,#79c0b6 328px,#66bbce 338px,#57b0da 343px,#4d5e9a 353px,#444a8e 363px,#744b8f 380px,#9c5798 414px,#a6589b 504px)"></i>
<i style="top:1032px;height:3px;background:linear-gradient(90deg,#a6589b 0,#9d5798 77px,#764c90 107px,#414c8d 132px,#4d5f9a 136px,#547db3 138px,#58add8 140px,#5cb7d8 141px,#78c0b6 143px,#72b24a 150px,#7eb73c 156px,#b3cc46 161px,#e9e346 165px,#f0a13b 170px,#ed7935 177px,#ec7034 190px,#ef8d37 199px,#eebc3d 204px,#eede44 206px,#d9de4a 208px,#89bb3c 214px,#74b440 219px,#73b350 222px,#75c0bc 229px,#58b6dc 231px,#578ec1 233px,#4f669f 235px,#414b8c 240px,#5f498d 266px,#414b8c 280px,#506ba2 290px,#56b4dd 299px,#75c0bc 311px,#73bfbf 331px,#57b1db 342px,#4e619c 352px,#434b8d 362px,#754c8f 380px,#9c5798 414px,#a6589b 504px)"></i>
<i style="top:1035px;height:3px;background:linear-gradient(90deg,#a6589b 0,#9d5798 77px,#754c90 107px,#424c8d 132px,#4d5f9b 136px,#547fb4 138px,#58aed9 140px,#5db8d7 141px,#79c0b5 143px,#72b249 150px,#7fb73c 156px,#b5cd46 161px,#ebe346 165px,#efa83b 169px,#ee7e35 175px,#eb6c34 186px,#ee7f35 197px,#efad3b 203px,#e7e347 207px,#97c040 213px,#77b53d 217px,#73b34f 222px,#75c0bb 229px,#59b6db 231px,#578fc2 233px,#4f67a0 235px,#414b8c 240px,#60498d 266px,#424c8d 281px,#4f67a0 290px,#56b4dd 300px,#73bfbf 313px,#6ebec6 332px,#57b1db 341px,#4d5e9a 352px,#444a8e 362px,#764c90 380px,#9d5798 414px,#a6589b 504px)"></i>
<i style="top:1038px;height:2px;background:linear-gradient(90deg,#a6589b 0,#9d5798 77px,#754c90 107px,#424c8d 132px,#4d609b 136px,#547fb5 138px,#58afd9 140px,#5db8d7 141px,#79c0b4 143px,#72b249 150px,#7fb73b 156px,#b6ce47 161px,#ede345 165px,#f0a63b 169px,#ee7c35 175px,#ea6a33 186px,#ee7e35 197px,#efaa3b 203px,#e8e347 207px,#a5c543 212px,#7db73c 216px,#72b24e 222px,#76c0bb 229px,#59b6db 231px,#5790c3 233px,#4f67a0 235px,#414b8c 240px,#60498d 266px,#414b8c 281px,#506ba2 291px,#57b0da 300px,#72bfc1 316px,#68bccc 333px,#57b2dc 340px,#4e629c 351px,#444a8e 362px,#764c90 380px,#9d5798 414px,#a6589b 504px)"></i>
<i style="top:1040px;height:2px;background:linear-gradient(90deg,#a6589b 0,#9d5798 77px,#754c90 107px,#424c8d 132px,#4d609b 136px,#5580b6 138px,#57afda 140px,#5eb8d6 141px,#79c0b4 143px,#72b249 150px,#80b73b 156px,#b7ce47 161px,#e3e249 164px,#ede144 165px,#f0a43b 169px,#ed7734 176px,#ea6833 187px,#ee7c35 197px,#efa83b 203px,#eae346 207px,#a6c643 212px,#7db73c 216px,#72b24d 222px,#76c0ba 229px,#5ab6da 231px,#5891c3 233px,#4f68a0 235px,#414b8c 240px,#60498d 266px,#414b8c 281px,#4f68a0 291px,#57b1db 301px,#70bfc4 319px,#61b9d3 334px,#58aed9 340px,#4d5f9b 351px,#444a8e 362px,#764c90 380px,#9d5798 414px,#a6589b 504px)"></i>
<i style="top:1042px;height:2px;background:linear-gradient(90deg,#a6589b 0,#9d5798 76px,#784c90 106px,#424b8d 131px,#4e619c 136px,#5581b6 138px,#57b0da 140px,#5fb8d5 141px,#79c0b3 143px,#72b248 150px,#81b83b 156px,#b9cf47 161px,#e5e248 164px,#eede44 165px,#f0a23b 169px,#ed7534 176px,#e96633 187px,#ed7b35 197px,#f0a73b 203px,#ebe346 207px,#b3cc46 211px,#7eb73c 216px,#72b24c 222px,#76c0b9 229px,#5ab7da 231px,#59a9d5 232px,#4f68a0 235px,#414b8c 240px,#61498d 266px,#424c8d 282px,#506ba2 292px,#58add8 301px,#5db8d7 306px,#6cbec8 322px,#58afda 339px,#4d5e9a 351px,#454a8e 362px,#774c90 380px,#9d5798 414px,#a6589b 504px)"></i>
<i style="top:1044px;height:2px;background:linear-gradient(90deg,#a6589b 0,#9d5798 76px,#784c90 106px,#424b8d 131px,#4e619c 136px,#5582b7 138px,#57b1db 140px,#5fb8d5 141px,#79c0b2 143px,#72b248 150px,#81b83b 156px,#cbd74a 162px,#e6e248 164px,#eedb43 165px,#efab3b 168px,#ed7c35 174px,#e86533 184px,#ec7234 195px,#f09a3a 202px,#f0cf41 206px,#ede345 207px,#b5cd46 211px,#7eb73c 216px,#72b24b 222px,#77c0b9 229px,#5bb7d9 231px,#59aad6 232px,#4f69a1 235px,#414b8c 240px,#61498d 266px,#414c8d 282px,#5069a1 292px,#58aed9 302px,#5fb9d5 309px,#66bbce 327px,#57afda 338px,#5377ae 346px,#465394 354px,#464a8f 363px,#764c90 379px,#9d5798 414px,#a6589b 504px)"></i>
<i style="top:1046px;height:2px;background:linear-gradient(90deg,#a6589b 0,#9d5798 76px,#784c90 106px,#424b8d 131px,#4e619c 136px,#5583b8 138px,#57b2db 140px,#71bfc2 142px,#78b983 146px,#72b248 150px,#7ab63c 155px,#a1c442 159px,#e7e347 164px,#f09539 170px,#eb6c34 178px,#e86533 190px,#ee8235 199px,#efae3c 204px,#ede145 207px,#c6d549 210px,#86ba3c 215px,#74b43f 219px,#72b24b 222px,#77c0b8 229px,#5bb7d9 231px,#59aad6 232px,#5069a1 235px,#434f90 239px,#60498d 267px,#414b8c 282px,#506ca3 293px,#59aad6 302px,#5ab6da 307px,#62bad2 326px,#57afda 337px,#547bb1 345px,#495897 352px,#454a8e 362px,#764c90 379px,#9d5798 414px,#a6589b 504px)"></i>
<i style="top:1048px;height:2px;background:linear-gradient(90deg,#a6589b 0,#9d5798 76px,#784c90 106px,#424b8d 131px,#4e629c 136px,#5584b9 138px,#57b2dc 140px,#79bfb1 143px,#72b248 150px,#7bb63c 155px,#a3c543 159px,#e9e347 164px,#f09d3a 169px,#ec7134 176px,#e76132 186px,#ec7234 196px,#f09739 202px,#f0ca40 206px,#eede44 207px,#d7dd4b 209px,#86ba3c 215px,#74b43f 219px,#72b24a 222px,#78c0b7 229px,#5bb7d9 231px,#59abd7 232px,#5069a1 235px,#434f90 239px,#60498d 267px,#414b8c 282px,#5069a1 293px,#59aad6 303px,#5ab6da 309px,#5ab7da 331px,#59abd7 337px,#4c5d99 350px,#444a8e 361px,#784d90 380px,#9d5798 414px,#a6589b 504px)"></i>
<i style="top:1050px;height:2px;background:linear-gradient(90deg,#a6589b 0,#9d5798 76px,#774c90 106px,#424b8d 131px,#4e629c 136px,#5685ba 138px,#57b3dc 140px,#79bfb0 143px,#72b248 150px,#7bb63c 155px,#97c040 158px,#dee14a 163px,#eae346 164px,#f09b3a 169px,#ec6f34 176px,#e75f32 186px,#ec7134 196px,#f09f3a 203px,#f0c83f 206px,#eedc43 207px,#d9de4b 209px,#87ba3c 215px,#74b43f 219px,#72b249 222px,#78c0b7 229px,#5cb7d8 231px,#59acd7 232px,#506aa1 235px,#434f90 239px,#61498d 267px,#424c8d 283px,#506ca3 294px,#59aad6 304px,#5ab6da 311px,#57b1db 334px,#578abe 342px,#4d5f9b 349px,#454a8e 361px,#794d90 380px,#9d5798 414px,#a6589b 504px)"></i>
<i style="top:1052px;height:2px;background:linear-gradient(90deg,#a6589b 0,#9d5798 76px,#774c90 106px,#424b8d 131px,#4e629d 136px,#5686ba 138px,#56b4dd 140px,#79bfaf 143px,#72b247 150px,#7cb63c 155px,#a5c543 159px,#dfe24a 163px,#ebe346 164px,#f0a43b 168px,#ed7634 174px,#e65e32 183px,#e96833 194px,#f09338 202px,#efc63f 206px,#e7e347 208px,#87ba3c 215px,#74b43f 219px,#72b249 222px,#78c0b6 229px,#5cb7d8 231px,#58acd8 232px,#506aa1 235px,#434f90 239px,#61498d 267px,#414b8c 283px,#5069a1 294px,#59a9d5 305px,#59b6db 314px,#57b0da 333px,#5584b9 342px,#4d5d9a 349px,#444a8e 360px,#794d91 380px,#9d5798 414px,#a6589b 504px)"></i>
<i style="top:1054px;height:2px;background:linear-gradient(90deg,#a6589b 0,#9d5798 76px,#774c90 106px,#424b8d 131px,#4e639d 136px,#5687bb 138px,#56b4dd 140px,#79bfaf 143px,#72b247 150px,#7cb63c 155px,#a6c643 159px,#e1e24a 163px,#ede345 164px,#f0a23b 168px,#ed7534 174px,#e65d32 183px,#e96633 194px,#f09238 202px,#efc33e 206px,#e8e347 208px,#93bf3f 214px,#76b53e 218px,#72b249 222px,#79c0b6 229px,#5cb7d8 231px,#58add8 232px,#506aa2 235px,#434f90 239px,#61498d 267px,#414b8c 283px,#506ba2 295px,#5aa8d4 306px,#58b6dc 319px,#59abd7 333px,#547fb4 342px,#4a5997 350px,#454a8f 361px,#784d90 379px,#9e5798 414px,#a6589b 504px)"></i>
<i style="top:1056px;height:2px;background:linear-gradient(90deg,#a6589b 0,#9d5798 76px,#774c90 106px,#424b8d 131px,#4e639d 136px,#5687bc 138px,#56b5de 140px,#79bfae 143px,#72b247 150px,#7db73c 155px,#a7c643 159px,#e2e249 163px,#ede145 164px,#efad3b 167px,#ed7835 173px,#e65c32 182px,#e86433 194px,#f09038 202px,#efc13e 206px,#e9e347 208px,#a2c443 213px,#7ab63c 217px,#72b248 222px,#79c0b5 229px,#5db8d7 231px,#58aed9 232px,#506ba2 235px,#434f90 239px,#62498d 267px,#424c8d 284px,#506da4 296px,#5aa3d1 306px,#56b3dd 320px,#5aa4d2 334px,#4d5d9a 348px,#444a8e 360px,#7a4d91 380px,#9e5798 414px,#a6589b 504px)"></i>
<i style="top:1058px;height:2px;background:linear-gradient(90deg,#a6589b 0,#9d5798 76px,#774c90 106px,#424b8d 131px,#4e639d 136px,#5688bd 138px,#56b5de 140px,#73bfbe 142px,#73b34f 149px,#7db73c 155px,#a8c643 159px,#e3e249 163px,#eedf44 164px,#efab3b 167px,#ed7734 173px,#e65c32 181px,#e86333 194px,#f08f37 202px,#efbf3d 206px,#eae346 208px,#a2c543 213px,#7ab63c 217px,#72b248 222px,#79c0b4 229px,#5db8d7 231px,#58aed9 232px,#506ba2 235px,#444f90 239px,#62498d 267px,#414b8c 284px,#506aa1 296px,#59a1cf 307px,#58afda 322px,#599fce 334px,#4c5c99 348px,#454a8e 360px,#794d91 379px,#9e5798 414px,#a6589b 504px)"></i>
<i style="top:1060px;height:2px;background:linear-gradient(90deg,#a6589b 0,#9d5798 76px,#774c90 106px,#424b8c 131px,#4e649e 136px,#5689bd 138px,#57b5dd 140px,#74bfbe 142px,#73b34f 149px,#7eb73c 155px,#b6ce47 160px,#e4e248 163px,#eedd44 164px,#efa93b 167px,#ed7634 173px,#e65a31 181px,#e76132 194px,#ef8d37 202px,#efbd3d 206px,#ece346 208px,#b0cb45 212px,#82b83b 216px,#73b345 221px,#73b355 223px,#79c0b4 229px,#5eb8d6 231px,#58afd9 232px,#506ca3 235px,#444f90 239px,#5c498e 258px,#60498d 269px,#414b8c 284px,#506ba2 297px,#599ecd 308px,#59aad6 323px,#5999ca 334px,#4b5b98 348px,#454a8e 360px,#7a4d91 379px,#9e5798 414px,#a6589b 504px)"></i>
<i style="top:1062px;height:2px;background:linear-gradient(90deg,#a6589b 0,#9d5798 76px,#774c90 106px,#424b8c 131px,#4e649e 136px,#578abe 138px,#57b5dd 140px,#74bfbd 142px,#72b24e 149px,#7eb73c 155px,#b7ce47 160px,#e5e248 163px,#eeda43 164px,#f0a73b 167px,#ed7434 173px,#e65931 181px,#e75f32 194px,#ef8c37 202px,#eebb3d 206px,#ede345 208px,#b2cb45 212px,#82b83b 216px,#73b344 221px,#73b354 223px,#79c0b3 229px,#5eb8d6 231px,#58afda 232px,#506ca3 235px,#444f90 239px,#5a498e 256px,#62498d 268px,#414b8c 284px,#506da3 298px,#599bcb 309px,#5aa5d2 325px,#578cc0 336px,#4c5c99 347px,#444a8e 359px,#7b4e91 380px,#9e5799 415px,#a6589b 504px)"></i>
<i style="top:1064px;height:2px;background:linear-gradient(90deg,#a6589b 0,#9d5798 76px,#774c90 106px,#424b8c 131px,#4e649e 136px,#578bbf 138px,#57b6dd 140px,#74bfbd 142px,#72b24d 149px,#7fb73c 155px,#b8cf47 160px,#e7e347 163px,#f09a39 168px,#ea6833 175px,#e65731 184px,#e76132 195px,#f09338 203px,#f0cb40 207px,#ede145 208px,#c2d449 211px,#83b83b 216px,#74b441 220px,#73b354 223px,#79c0b2 229px,#5fb8d5 231px,#57b0da 232px,#506da3 235px,#444f90 239px,#58498e 255px,#62498d 268px,#414b8c 285px,#516da4 299px,#5898c9 310px,#599dcd 327px,#547cb2 338px,#485695 349px,#464a8f 360px,#7a4d91 379px,#9e5799 414px,#a6589b 504px)"></i>
<i style="top:1066px;height:2px;background:linear-gradient(90deg,#a6589b 0,#9d5798 76px,#774c90 106px,#424b8c 131px,#4f659e 136px,#578bbf 138px,#58b6dc 140px,#75c0bc 142px,#72b24d 149px,#7fb73c 155px,#b9cf47 160px,#e8e347 163px,#f09839 168px,#e96733 175px,#e65630 184px,#e76032 195px,#f09238 203px,#f0c93f 207px,#eedf44 208px,#d5dc4b 210px,#8bbc3d 215px,#75b43e 219px,#72b248 222px,#79bfb2 229px,#5fb8d5 231px,#57b1db 232px,#506da4 235px,#444f90 239px,#56498e 254px,#63498d 268px,#414b8c 285px,#516ea5 300px,#5896c7 312px,#5895c7 329px,#485796 348px,#464a8f 360px,#7b4d91 379px,#9e5799 414px,#a6589b 504px)"></i>
<i style="top:1068px;height:2px;background:linear-gradient(90deg,#a6589b 0,#9d5798 76px,#774c90 106px,#424b8c 131px,#4f659e 136px,#578cc0 138px,#58b6dc 140px,#75c0bc 142px,#72b24c 149px,#7fb73b 155px,#bad048 160px,#e9e347 163px,#f09739 168px,#e76132 176px,#e65530 188px,#e96733 197px,#f09b3a 204px,#f0c73f 207px,#eedd44 208px,#d6dc4b 210px,#84b93b 216px,#74b440 220px,#73b352 223px,#79bfb1 229px,#60b9d4 231px,#57b1db 232px,#516ea4 235px,#444f90 239px,#56498e 254px,#63498d 268px,#424b8c 285px,#516ea5 301px,#5893c5 314px,#578bbf 331px,#495897 347px,#454a8f 359px,#7b4e91 379px,#9e5799 414px,#a6589b 504px)"></i>
<i style="top:1070px;height:2px;background:linear-gradient(90deg,#a6589b 0,#9d5798 76px,#774c90 106px,#424b8c 131px,#4f659f 136px,#578dc1 138px,#58b6dc 140px,#75c0bb 142px,#72b24b 149px,#80b73b 155px,#bbd148 160px,#eae346 163px,#f0a13b 167px,#ec6f34 173px,#e65630 180px,#e65a31 194px,#ef8636 202px,#efc53f 207px,#eeda43 208px,#e5e248 209px,#84b93b 216px,#74b440 220px,#73b351 223px,#79bfb1 229px,#60b9d4 231px,#57b2dc 232px,#516ea5 235px,#445091 239px,#55498e 253px,#64498d 268px,#414b8c 286px,#5274ab 304px,#578fc2 317px,#5582b7 332px,#465293 349px,#484a8f 360px,#7c4e91 379px,#9e5799 414px,#a6589b 504px)"></i>
<i style="top:1072px;height:2px;background:linear-gradient(90deg,#a6589b 0,#9d5798 76px,#774c90 106px,#424b8c 131px,#4f669f 136px,#578dc1 138px,#59b6db 140px,#76c0ba 142px,#72b24b 149px,#80b83b 155px,#bdd148 160px,#ebe346 163px,#f09f3b 167px,#eb6e34 173px,#e65530 180px,#e65931 194px,#ef8536 202px,#efc33e 207px,#e6e248 209px,#85b93b 216px,#74b440 220px,#73b351 223px,#79bfb0 229px,#57b2dc 232px,#516ea5 235px,#445091 239px,#55498e 253px,#64498d 268px,#414b8c 286px,#5378ae 307px,#5689bd 320px,#5379af 333px,#414b8c 354px,#5b498e 366px,#7d4e92 380px,#9f5799 415px,#a6589b 504px)"></i>
<i style="top:1074px;height:2px;background:linear-gradient(90deg,#a6589b 0,#9d5798 76px,#774c90 106px,#414b8c 131px,#4f669f 136px,#578ec2 138px,#59b6db 140px,#76c0ba 142px,#72b24a 149px,#81b83b 155px,#bed248 160px,#ece345 163px,#efab3b 166px,#ed7935 171px,#e65731 178px,#e65630 193px,#ed7534 200px,#f0a33b 205px,#e7e347 209px,#8fbd3e 215px,#75b43e 219px,#73b350 223px,#79bfaf 229px,#57b3dc 232px,#516fa6 235px,#445091 239px,#53498e 252px,#65498d 268px,#414b8c 287px,#5582b7 318px,#5275ab 333px,#424b8c 354px,#5b498e 366px,#7e4e92 380px,#9f5799 415px,#a6589b 504px)"></i>
<i style="top:1076px;height:2px;background:linear-gradient(90deg,#a6589b 0,#9d5798 76px,#774c90 106px,#414b8c 131px,#4f669f 136px,#578fc2 138px,#59b6db 140px,#76c0b9 142px,#72b249 149px,#7ab63d 154px,#95c040 157px,#e1e24a 162px,#ede245 163px,#efaa3b 166px,#ec7134 172px,#e65430 179px,#e65731 194px,#ed7a35 201px,#efaf3c 206px,#e8e347 209px,#9dc342 214px,#77b53d 218px,#73b350 223px,#79bfaf 229px,#56b3dd 232px,#516fa6 235px,#445091 239px,#53498e 252px,#65498d 268px,#414b8c 287px,#547cb2 318px,#506ca3 335px,#434b8d 355px,#7e4f92 380px,#9f5799 415px,#a6589b 504px)"></i>
<i style="top:1078px;height:3px;background:linear-gradient(90deg,#a6589b 0,#9d5798 76px,#774c90 106px,#414b8c 131px,#4c5c99 135px,#5376ac 137px,#59a8d5 139px,#5ab6da 140px,#77c0b9 142px,#72b249 149px,#7ab63c 154px,#96c040 157px,#e2e249 162px,#eedf44 163px,#f0a73b 166px,#ec6f34 172px,#e65530 178px,#e6522f 192px,#ea6b33 199px,#f09f3a 205px,#eae346 209px,#9fc342 214px,#77b53d 218px,#73b34f 223px,#73bfbf 230px,#56b4dd 232px,#5170a6 235px,#465394 238px,#484a8f 247px,#66498d 268px,#414b8c 288px,#5274ab 318px,#4f669f 336px,#444a8e 356px,#7f4f92 380px,#9f5799 415px,#a6589b 504px)"></i>
<i style="top:1081px;height:3px;background:linear-gradient(90deg,#a6589b 0,#9d5798 76px,#764c90 106px,#414b8c 131px,#4c5c99 135px,#5377ad 137px,#59a9d5 139px,#5ab7da 140px,#77c0b8 142px,#72b249 149px,#7bb63c 154px,#98c140 157px,#e4e249 162px,#eedc43 163px,#f0a53b 166px,#eb6d34 172px,#e6522f 179px,#e65230 193px,#ea6933 199px,#f09d3a 205px,#f0ce40 208px,#ece346 209px,#adc944 213px,#7fb73c 217px,#72b24e 223px,#73bfbe 230px,#56b5de 232px,#5170a7 235px,#465494 238px,#484a8f 247px,#67498d 268px,#424b8c 288px,#516ea5 319px,#4b5b98 340px,#454a8e 356px,#7f4f92 379px,#9f5799 415px,#a6589b 504px)"></i>
<i style="top:1084px;height:4px;background:linear-gradient(90deg,#a6589b 0,#9d5798 76px,#764c90 106px,#414b8c 131px,#4c5d99 135px,#5378ae 137px,#59aad6 139px,#5bb7d9 140px,#78c0b7 142px,#72b248 149px,#7bb63c 154px,#99c141 157px,#e5e248 162px,#eed943 163px,#f0a33b 166px,#eb6b34 172px,#e6502f 179px,#e64f2f 192px,#e96733 199px,#f09b3a 205px,#f0cb40 208px,#ede345 209px,#bed248 212px,#80b73b 217px,#72b24d 223px,#74bfbe 230px,#56b5de 232px,#5171a8 235px,#475494 238px,#464a8f 246px,#674a8e 268px,#414b8c 289px,#4f69a1 320px,#444f90 347px,#4c4a8f 359px,#7f4f92 379px,#9f5799 415px,#a6589b 504px)"></i>
<i style="top:1088px;height:4px;background:linear-gradient(90deg,#a6589b 0,#9d5798 76px,#764c90 106px,#414b8c 131px,#4c5d99 135px,#5379af 137px,#59abd6 139px,#5bb7d9 140px,#78c0b6 142px,#72b248 149px,#7cb63c 154px,#a8c743 158px,#e7e347 162px,#f09438 167px,#e65831 175px,#e5482f 187px,#e65e32 198px,#f09939 205px,#f0c83f 208px,#eedf44 209px,#d3db4b 211px,#88ba3c 216px,#74b43f 220px,#72b24c 223px,#74bfbd 230px,#57b5dd 232px,#5272a8 235px,#475495 238px,#454a8e 245px,#684a8e 268px,#424b8c 290px,#4e629d 323px,#454a8f 355px,#804f92 379px,#a05899 415px,#a6589b 504px)"></i>
<i style="top:1092px;height:6px;background:linear-gradient(90deg,#a6589b 0,#9d5798 76px,#764c90 106px,#414b8c 131px,#4d5d9a 135px,#537ab0 137px,#58acd7 139px,#5cb7d8 140px,#79c0b5 142px,#72b248 149px,#7db73c 154px,#aac744 158px,#eae346 162px,#f09d3a 166px,#e75f32 173px,#e54530 184px,#e6512f 195px,#ec7134 201px,#f0a23b 206px,#eeda43 209px,#e4e248 210px,#89bb3c 216px,#74b43f 220px,#72b24a 223px,#75c0bc 230px,#58b6dc 232px,#578bbf 234px,#4e649e 236px,#424b8c 241px,#6a4a8e 268px,#424b8d 291px,#4c5c99 325px,#454a8f 354px,#815093 379px,#a05899 416px,#a6589b 504px)"></i>
<i style="top:1098px;height:6px;background:linear-gradient(90deg,#a6589b 0,#9d5798 76px,#764c90 106px,#424b8d 130px,#4d5e9a 135px,#547cb1 137px,#58add8 139px,#5db8d7 140px,#79c0b4 142px,#72b247 149px,#7eb73c 154px,#acc844 158px,#ece345 162px,#f0a73b 165px,#ea6a33 171px,#e54730 179px,#e54630 192px,#e96533 200px,#f09f3a 206px,#e7e347 210px,#8abb3c 216px,#75b43f 220px,#72b249 223px,#76c0ba 230px,#58b6dc 232px,#578cc0 234px,#4f659e 236px,#424b8c 241px,#6a4a8e 269px,#434b8d 292px,#475595 330px,#464a8f 353px,#845093 380px,#a15899 417px,#a6589b 504px)"></i>
<i style="top:1104px;height:6px;background:linear-gradient(90deg,#a6589b 0,#9d5798 76px,#764c90 106px,#424b8d 130px,#4d5e9a 135px,#547db3 137px,#58afd9 139px,#5eb8d6 140px,#79c0b3 142px,#72b247 149px,#7fb73c 154px,#bed248 159px,#e1e249 161px,#eedf44 162px,#f0a43b 165px,#e96633 171px,#e44030 181px,#e54530 193px,#ea6a33 201px,#efaa3b 207px,#eae346 210px,#9bc241 215px,#76b53d 219px,#72b249 223px,#76c0b9 230px,#59b6db 232px,#578ec1 234px,#4f669f 236px,#414b8c 241px,#6c4a8e 269px,#434b8d 294px,#434e8f 338px,#4e4a8f 355px,#865194 380px,#a1589a 418px,#a6589b 504px)"></i>
<i style="top:1110px;height:6px;background:linear-gradient(90deg,#a6589b 0,#9d5798 76px,#764c90 106px,#424b8d 130px,#4d5f9a 135px,#547fb4 137px,#57b0da 139px,#5fb8d5 140px,#79bfb1 142px,#73b34f 148px,#78b53d 153px,#a2c543 157px,#e4e249 161px,#eeda43 162px,#f0a03b 165px,#e65c32 172px,#e43e30 181px,#e54430 194px,#e96733 201px,#f0a73b 207px,#ece345 210px,#aac744 214px,#7db73c 218px,#72b248 223px,#77c0b8 230px,#5ab6da 232px,#59a8d4 233px,#5276ac 235px,#475595 238px,#444a8e 244px,#6e4a8e 269px,#434b8d 296px,#474a8f 350px,#895294 381px,#a2589a 421px,#a6589b 504px)"></i>
<i style="top:1116px;height:6px;background:linear-gradient(90deg,#a6589b 0,#9d5798 76px,#764c90 106px,#424b8d 130px,#4d5f9b 135px,#5581b6 137px,#57b1db 139px,#72bfc1 141px,#78b880 145px,#72b24e 148px,#79b53d 153px,#96c040 156px,#e6e248 161px,#efad3b 164px,#ec7234 169px,#e5472f 176px,#e43d30 185px,#e54530 195px,#eb6d34 202px,#f0a33b 207px,#ede044 210px,#d0d94b 212px,#85b93b 217px,#74b440 221px,#73b355 224px,#78c0b7 230px,#5bb7d9 232px,#59a9d5 233px,#5377ad 235px,#485695 238px,#444a8e 244px,#6f4b8f 269px,#434b8d 299px,#484a8f 348px,#8c5395 382px,#a3589a 424px,#a6589b 504px)"></i>
<i style="top:1122px;height:6px;background:linear-gradient(90deg,#a6589b 0,#9d5798 76px,#754c90 106px,#424b8d 130px,#4d609b 135px,#5582b7 137px,#57b2dc 139px,#72bfc0 141px,#75b570 146px,#72b24d 148px,#79b63d 153px,#97c040 156px,#e8e347 161px,#ef8d37 166px,#e65831 172px,#e43e30 179px,#e44230 195px,#ea6a33 202px,#f0a03b 207px,#eedc44 210px,#e2e249 211px,#86ba3c 217px,#74b440 221px,#73b353 224px,#78c0b6 230px,#5bb7d9 232px,#59aad6 233px,#5378ae 235px,#485696 238px,#444a8e 244px,#704b8f 270px,#444a8e 302px,#4b4a8f 347px,#8e5395 382px,#a4589a 427px,#a6589b 504px)"></i>
<i style="top:1128px;height:6px;background:linear-gradient(90deg,#a6589b 0,#9d5798 76px,#754c90 106px,#424b8c 130px,#4e619c 135px,#5583b8 137px,#57b3dd 139px,#79bfae 142px,#72b24c 148px,#7ab63c 153px,#99c141 156px,#eae346 161px,#f09839 165px,#e65630 172px,#e43e30 178px,#e54430 196px,#ec7134 203px,#efae3c 208px,#eed843 210px,#e4e248 211px,#86ba3c 217px,#75b43e 220px,#73b352 224px,#79c0b5 230px,#5cb7d8 232px,#59abd7 233px,#4f68a0 236px,#434e8f 240px,#57498e 254px,#724b8f 271px,#454a8e 306px,#4d4a8f 345px,#915495 383px,#a5589b 433px,#a6589b 504px)"></i>
<i style="top:1134px;height:6px;background:linear-gradient(90deg,#a6589b 0,#9d5798 76px,#754c90 106px,#434b8d 129px,#4a5997 134px,#516fa5 136px,#56b4dd 139px,#73bfbe 141px,#74b45b 147px,#73b346 149px,#7bb63c 153px,#9ac241 156px,#dde04a 160px,#ece345 161px,#f0a43b 164px,#e76132 170px,#e43e30 177px,#e44130 196px,#ec6f34 203px,#efab3b 208px,#e6e248 211px,#87ba3c 217px,#74b440 221px,#73b351 224px,#79c0b4 230px,#5cb7d8 232px,#58acd7 233px,#4f69a1 236px,#434e8f 240px,#57498e 254px,#734b8f 271px,#464a8f 310px,#4f498e 343px,#925596 383px,#a5589b 438px,#a6589b 504px)"></i>
<i style="top:1140px;height:6px;background:linear-gradient(90deg,#a6589b 0,#9d5798 76px,#754c90 106px,#434b8d 129px,#4a5997 134px,#516fa6 136px,#56b5de 139px,#74bfbe 141px,#72b24a 148px,#7bb63c 153px,#9cc241 156px,#dfe14a 160px,#ede245 161px,#f0a23b 164px,#e75f32 170px,#e43e30 177px,#e54430 197px,#eb6c34 203px,#efa93b 208px,#e8e347 211px,#96c040 216px,#76b53e 220px,#73b350 224px,#79c0b3 230px,#5db8d7 232px,#58add8 233px,#5069a1 236px,#434e8f 240px,#57498e 254px,#754c8f 271px,#4b4a8f 311px,#56498e 345px,#945596 383px,#a6589b 445px,#a6589b 504px)"></i>
<i style="top:1146px;height:6px;background:linear-gradient(90deg,#a6589b 0,#9d5798 76px,#754c90 106px,#434b8d 129px,#4a5998 134px,#5170a6 136px,#56b5de 139px,#74bfbd 141px,#72b249 148px,#7cb63c 153px,#abc844 157px,#e1e24a 160px,#eedf44 161px,#f0a03b 164px,#e65d32 170px,#e43e30 176px,#e44230 197px,#ed7434 204px,#eeb83c 209px,#e9e346 211px,#97c040 216px,#79b53d 219px,#73b34f 224px,#79c0b3 230px,#5db8d7 232px,#58aed9 233px,#506aa1 236px,#434e8f 240px,#55498e 253px,#774c90 271px,#51498e 313px,#5d498d 346px,#965696 383px,#a6589b 454px,#a6589b 504px)"></i>
<i style="top:1152px;height:5px;background:linear-gradient(90deg,#a6589b 0,#9d5798 76px,#754c8f 106px,#424b8d 129px,#4a5a98 134px,#5170a7 136px,#57b5dd 139px,#75c0bc 141px,#72b249 148px,#7cb63c 153px,#acc844 157px,#e2e249 160px,#eedc43 161px,#f09e3a 164px,#e65b32 170px,#e43e30 176px,#e44030 197px,#ec7334 204px,#eeb63c 209px,#ebe346 211px,#a7c643 215px,#81b83b 218px,#73b346 223px,#74b45f 225px,#79c0b2 230px,#5eb8d6 232px,#58aed9 233px,#506aa1 236px,#434e8f 240px,#55498e 253px,#784d90 272px,#56498e 315px,#64498d 348px,#985797 383px,#a6589b 467px,#a6589b 504px)"></i>
<i style="top:1157px;height:5px;background:linear-gradient(90deg,#a6589b 0,#9d5798 76px,#754c8f 106px,#424b8d 129px,#4a5a98 134px,#5171a7 136px,#57b5dd 139px,#75c0bc 141px,#72b249 148px,#7db73c 153px,#adc944 157px,#e3e249 160px,#eeda43 161px,#f09d3a 164px,#e65b31 170px,#e43d30 176px,#e43f30 197px,#ec7234 204px,#eeb43c 209px,#ece345 211px,#a7c643 215px,#82b83b 218px,#73b346 223px,#74b45f 225px,#79bfb1 230px,#5eb8d6 232px,#58afda 233px,#506aa2 236px,#434e8f 240px,#55498e 253px,#7a4d91 272px,#5b498e 317px,#6b4a8e 349px,#995797 383px,#a6589b 481px,#a6589b 504px)"></i>
<i style="top:1162px;height:5px;background:linear-gradient(90deg,#a6589b 0,#9d5798 76px,#754c8f 106px,#424b8d 129px,#4a5a98 134px,#5171a8 136px,#57b6dd 139px,#75c0bb 141px,#72b248 148px,#7db73c 153px,#aec945 157px,#e4e248 160px,#eed843 161px,#f09b3a 164px,#e65a31 170px,#e43e30 175px,#e54330 198px,#ec7134 204px,#f0a23b 208px,#ede345 211px,#a8c743 215px,#82b83b 218px,#73b346 223px,#74b45e 225px,#79bfb1 230px,#5fb8d5 232px,#58afda 233px,#506aa2 236px,#434e8f 240px,#55498e 253px,#7b4d91 272px,#61498d 321px,#724b8f 351px,#9a5797 383px,#a6589b 498px,#a6589b 504px)"></i>
<i style="top:1167px;height:4px;background:linear-gradient(90deg,#a6589b 0,#9d5798 76px,#754c8f 106px,#424b8d 129px,#4a5a98 134px,#5171a8 136px,#58b6dc 139px,#75c0bb 141px,#72b248 148px,#7db73c 153px,#afca45 157px,#e5e248 160px,#efd742 161px,#f09b3a 164px,#e65931 170px,#e43e30 175px,#e44230 198px,#ec7034 204px,#efb23c 209px,#ede245 211px,#b8cf47 214px,#82b83b 218px,#73b346 223px,#74b45e 225px,#79bfb1 230px,#5fb8d5 232px,#57b0da 233px,#506ba2 236px,#434e8f 240px,#52498e 252px,#7c4e91 273px,#66498d 325px,#814f92 360px,#9c5798 384px,#a6589b 504px)"></i>
<i style="top:1171px;height:4px;background:linear-gradient(90deg,#a6589b 0,#9d5798 76px,#754c8f 106px,#424b8d 129px,#4b5a98 134px,#5272a8 136px,#5aa3d1 138px,#58b6dc 139px,#76c0bb 141px,#72b248 148px,#7eb73c 153px,#afca45 157px,#e5e248 160px,#efbd3d 162px,#ee7f35 166px,#e64c2f 172px,#e33d31 176px,#e44130 198px,#ec6f34 204px,#efb13c 209px,#ede144 211px,#cdd84a 213px,#8bbc3d 217px,#74b43f 221px,#72b24d 224px,#79bfb0 230px,#5fb9d5 232px,#57b0da 233px,#506ba2 236px,#434e8f 240px,#52498e 252px,#7d4e92 273px,#6b4a8e 329px,#8c5395 365px,#9f5799 390px,#a6589b 504px)"></i>
<i style="top:1175px;height:4px;background:linear-gradient(90deg,#a6589b 0,#9d5798 76px,#754c8f 106px,#424b8d 129px,#4b5a98 134px,#5272a8 136px,#5aa4d1 138px,#58b6dc 139px,#76c0bb 141px,#72b248 148px,#7eb73c 153px,#b0ca45 157px,#e6e248 160px,#efa93b 163px,#e75f32 169px,#e43d30 175px,#e44030 198px,#ed7835 205px,#efb03c 209px,#ede044 211px,#ced84a 213px,#8cbc3d 217px,#74b43f 221px,#72b24c 224px,#79bfb0 230px,#60b9d4 232px,#57b0db 233px,#506ba2 236px,#434e8f 240px,#52498e 252px,#7e4f92 273px,#724b8f 334px,#9f5799 387px,#a6589b 504px)"></i>
<i style="top:1179px;height:4px;background:linear-gradient(90deg,#a6589b 0,#9d5798 76px,#754c8f 106px,#424b8d 129px,#4b5a98 134px,#5272a9 136px,#5aa4d2 138px,#58b6dc 139px,#76c0ba 141px,#72b248 148px,#7eb73c 153px,#b0ca45 157px,#e6e248 160px,#efa93b 163px,#e65f32 169px,#e43d30 175px,#e44030 198px,#ed7834 205px,#efb03c 209px,#eedf44 211px,#e0e24a 212px,#8cbc3d 217px,#74b43f 221px,#72b24c 224px,#79bfb0 230px,#60b9d4 232px,#57b1db 233px,#506ba2 236px,#434f90 240px,#52498e 252px,#804f92 274px,#794d90 338px,#9f5799 387px,#a6589b 504px)"></i>
<i style="top:1183px;height:4px;background:linear-gradient(90deg,#a6589b 0,#9d5798 76px,#754c8f 106px,#424b8d 129px,#4b5a98 134px,#5272a9 136px,#5aa4d2 138px,#58b6dc 139px,#76c0ba 141px,#72b248 148px,#7eb73c 153px,#b1cb45 157px,#e7e347 160px,#efa83b 163px,#e65e32 169px,#e43d30 175px,#e43f30 198px,#ed7734 205px,#efaf3c 209px,#eede44 211px,#e1e24a 212px,#8cbc3d 217px,#74b43f 221px,#72b24c 224px,#79bfaf 230px,#60b9d4 232px,#57b1db 233px,#506ba2 236px,#434f90 240px,#52498e 252px,#814f92 274px,#804f92 344px,#a05899 387px,#a6589b 504px)"></i>
<i style="top:1187px;height:4px;background:linear-gradient(90deg,#a6589b 0,#9d5798 76px,#754c8f 106px,#424b8d 129px,#4b5a98 134px,#5273a9 136px,#5aa5d2 138px,#58b6dc 139px,#76c0ba 141px,#72b248 148px,#7eb73c 153px,#b1cb45 157px,#e7e347 160px,#f09739 164px,#e65731 170px,#e43d30 175px,#e43f30 198px,#ed7734 205px,#efae3c 209px,#eedd44 211px,#e1e24a 212px,#8dbc3d 217px,#74b43f 221px,#72b24b 224px,#79bfaf 230px,#60b9d4 232px,#57b1db 233px,#506ca3 236px,#434f90 240px,#52498e 252px,#825093 274px,#875194 347px,#a2589a 390px,#a6589b 504px)"></i>
<i style="top:1191px;height:3px;background:linear-gradient(90deg,#a6589b 0,#9d5798 76px,#754c8f 106px,#424b8d 129px,#4b5a98 134px,#5273a9 136px,#5aa5d2 138px,#58b6dc 139px,#76c0ba 141px,#72b248 148px,#7eb73c 153px,#b1cb45 157px,#e8e347 160px,#f09739 164px,#e65630 170px,#e33d31 175px,#e43e30 198px,#ed7734 205px,#efae3c 209px,#eedc44 211px,#e1e249 212px,#8dbc3d 217px,#74b43f 221px,#72b24b 224px,#79bfaf 230px,#60b9d4 232px,#57b1db 233px,#506ca3 236px,#434f90 240px,#52498e 252px,#835093 275px,#875194 307px,#915596 353px,#a4589a 402px,#a6589b 504px)"></i>
<i style="top:1194px;height:3px;background:linear-gradient(90deg,#a6589b 0,#9d5798 76px,#754c8f 106px,#424b8d 129px,#4b5a98 134px,#5273a9 136px,#5aa5d2 138px,#58b6dc 139px,#76c0ba 141px,#72b248 148px,#7fb73c 153px,#b1cb45 157px,#e8e347 160px,#f09639 164px,#e65630 170px,#e33d31 175px,#e43e30 198px,#ed7634 205px,#efae3c 209px,#eedc43 211px,#e2e249 212px,#8dbd3d 217px,#74b43f 221px,#72b24b 224px,#79bfaf 230px,#61b9d3 232px,#57b1db 233px,#506ca3 236px,#434f90 240px,#52498e 252px,#855193 276px,#8c5395 311px,#9b5797 362px,#a6589b 480px,#a6589b 504px)"></i>
<i style="top:1197px;height:3px;background:linear-gradient(90deg,#a6589b 0,#9d5798 76px,#754c8f 106px,#424b8d 129px,#4b5a98 134px,#5273a9 136px,#5aa5d2 138px,#59b6db 139px,#76c0ba 141px,#72b248 148px,#7fb73c 153px,#b2cb45 157px,#e8e347 160px,#f09639 164px,#e65630 170px,#e33d31 175px,#e43e30 198px,#ed7634 205px,#efae3c 209px,#eedc43 211px,#e2e249 212px,#8dbd3d 217px,#74b43f 221px,#72b24b 224px,#79bfaf 230px,#61b9d3 232px,#57b1db 233px,#506ca3 236px,#434f90 240px,#52498e 252px,#865194 276px,#915596 309px,#a6589b 438px,#a6589b 504px)"></i>
<i style="top:1200px;height:3px;background:linear-gradient(90deg,#a6589b 0,#9d5798 76px,#754b8f 106px,#424b8d 129px,#4b5b98 134px,#5273a9 136px,#5aa5d2 138px,#59b6db 139px,#76c0ba 141px,#72b248 148px,#7fb73c 153px,#b2cb45 157px,#e8e347 160px,#f09639 164px,#e65630 170px,#e33d31 175px,#e43e30 198px,#ed7634 205px,#efad3c 209px,#eedb43 211px,#e2e249 212px,#8dbd3d 217px,#74b43f 221px,#72b24b 224px,#79bfaf 230px,#61b9d3 232px,#57b1db 233px,#506ca3 236px,#434f90 240px,#52498e 252px,#885294 277px,#975697 311px,#a6589b 469px,#a6589b 504px)"></i>
<i style="top:1203px;height:4px;background:linear-gradient(90deg,#a6589b 0,#9d5798 76px,#754b8f 106px,#424b8d 129px,#4b5b98 134px,#5273a9 136px,#5aa5d2 138px,#59b6db 139px,#76c0ba 141px,#72b248 148px,#7fb73c 153px,#b2cb45 157px,#e8e347 160px,#f09639 164px,#e65630 170px,#e33d31 175px,#e43e30 198px,#ed7634 205px,#efad3c 209px,#eedb43 211px,#e2e249 212px,#8dbd3d 217px,#74b43f 221px,#72b24b 224px,#79bfaf 230px,#61b9d3 232px,#57b1db 233px,#506ca3 236px,#434f90 240px,#52498e 252px,#885294 277px,#9c5798 309px,#a6589b 504px)"></i>
<i style="top:1207px;height:4px;background:linear-gradient(90deg,#a6589b 0,#9d5798 76px,#754b8f 106px,#424b8d 129px,#4b5b98 134px,#5273a9 136px,#5aa5d2 138px,#59b6db 139px,#76c0b9 141px,#72b248 148px,#7fb73c 153px,#b2cb45 157px,#e8e347 160px,#f09639 164px,#e65630 170px,#e33d31 175px,#e43e30 198px,#ed7634 205px,#efad3c 209px,#eedb43 211px,#e2e249 212px,#8dbd3d 217px,#74b43f 221px,#72b24b 224px,#79bfaf 230px,#61b9d3 232px,#57b1db 233px,#506ca3 236px,#434f90 240px,#52498e 252px,#8a5294 278px,#a1589a 312px,#a6589b 504px)"></i>
<i style="top:1211px;height:4px;background:linear-gradient(90deg,#a6589b 0,#9d5798 76px,#754b8f 106px,#424b8d 129px,#4b5b98 134px,#5273a9 136px,#5aa5d2 138px,#59b6db 139px,#76c0b9 141px,#72b248 148px,#7fb73c 153px,#b2cb45 157px,#e8e347 160px,#f09639 164px,#e65630 170px,#e33d31 175px,#e43e30 198px,#ed7634 205px,#efad3c 209px,#eedb43 211px,#e2e249 212px,#8dbd3d 217px,#74b43f 221px,#72b24b 224px,#79bfaf 230px,#61b9d3 232px,#57b1db 233px,#506ca3 236px,#434f90 240px,#52498e 252px,#8a5294 278px,#a4589a 314px,#a6589b 504px)"></i>
<i style="top:1215px;height:4px;background:linear-gradient(90deg,#a6589b 0,#9d5798 76px,#754b8f 106px,#424b8d 129px,#4b5b98 134px,#5273a9 136px,#5aa5d2 138px,#59b6db 139px,#76c0ba 141px,#72b248 148px,#7fb73c 153px,#b2cb45 157px,#e8e347 160px,#f09639 164px,#e65630 170px,#e33d31 175px,#e43e30 198px,#ed7634 205px,#efad3c 209px,#eedb43 211px,#e2e249 212px,#8dbd3d 217px,#74b43f 221px,#72b24b 224px,#79bfaf 230px,#61b9d3 232px,#57b1db 233px,#506ca3 236px,#434f90 240px,#52498e 252px,#895294 277px,#9e5799 310px,#a6589b 504px)"></i>
<i style="top:1219px;height:3px;background:linear-gradient(90deg,#a6589b 0,#9d5798 76px,#754b8f 106px,#424b8d 129px,#4b5b98 134px,#5273a9 136px,#5aa5d2 138px,#59b6db 139px,#76c0ba 141px,#72b248 148px,#7fb73c 153px,#b2cb45 157px,#e8e347 160px,#f09639 164px,#e65630 170px,#e33d31 175px,#e43e30 198px,#ed7634 205px,#efad3c 209px,#eedb43 211px,#e2e249 212px,#8dbd3d 217px,#74b43f 221px,#72b24b 224px,#79bfaf 230px,#61b9d3 232px,#57b1db 233px,#506ca3 236px,#434f90 240px,#52498e 252px,#885294 277px,#985797 311px,#a6589b 482px,#a6589b 504px)"></i>
</div></div>
<div class="hm" style="left:346px;top:1752px;width:482px;height:1150px"><div class="hmi" style="height:1170px">
<i style="top:0px;height:30px;background:linear-gradient(90deg,#a6589b 0,#9d5798 66px,#744b8f 93px,#414b8c 114px,#4e619c 118px,#5171a8 119px,#59a8d5 121px,#5cb7d8 122px,#79bfb0 124px,#72b247 130px,#7bb63c 134px,#9fc342 137px,#e8e347 141px,#f09539 145px,#e65a31 151px,#e43e30 160px,#e54a2f 170px,#eb6e34 176px,#f09b3a 180px,#eedb43 183px,#e2e249 184px,#89bb3c 189px,#75b43e 192px,#72b249 195px,#77c0b9 201px,#57b5dd 203px,#506aa1 206px,#424d8e 210px,#5f498d 225px,#7f4f92 240px,#704b8f 261px,#434b8d 292px,#434e8f 336px,#4f498e 358px,#9b5798 410px,#a6589b 481px)"></i>
<i style="top:30px;height:30px;background:linear-gradient(90deg,#a6589b 0,#9d5798 66px,#744b8f 93px,#424b8d 113px,#495897 117px,#5272a8 119px,#59a9d5 121px,#5cb7d8 122px,#70bfc3 123px,#79ba8a 126px,#72b247 130px,#7bb63c 134px,#b0ca45 138px,#e9e346 141px,#f09438 145px,#e65931 151px,#e43e30 159px,#e54530 169px,#eb6c34 176px,#efab3b 181px,#eed843 183px,#e3e249 184px,#89bb3c 189px,#75b43e 192px,#72b249 195px,#77c0b8 201px,#57b5dd 203px,#506aa2 206px,#424d8e 210px,#5f498d 225px,#804f92 240px,#704b8f 262px,#444a8e 293px,#424c8d 338px,#52498e 359px,#9b5798 410px,#a6589b 481px)"></i>
<i style="top:60px;height:30px;background:linear-gradient(90deg,#a6589b 0,#9d5798 66px,#744b8f 93px,#424b8d 113px,#4a5997 117px,#5272a9 119px,#59aad6 121px,#5cb7d8 122px,#71bfc3 123px,#79ba89 126px,#72b247 130px,#7cb63c 134px,#b1cb45 138px,#eae346 141px,#f0a23b 144px,#e65e32 150px,#e43e30 158px,#e54330 169px,#ea6b33 176px,#efa93b 181px,#efd642 183px,#e4e248 184px,#8abb3c 189px,#75b43e 192px,#72b249 195px,#78c0b7 201px,#57b5dd 203px,#506ba2 206px,#424d8e 210px,#5f498d 225px,#804f92 240px,#714b8f 262px,#434b8d 295px,#474a8f 351px,#9b5798 410px,#a6589b 481px)"></i>
<i style="top:90px;height:30px;background:linear-gradient(90deg,#a6589b 0,#9d5798 66px,#744b8f 93px,#424b8d 113px,#4a5997 117px,#5273a9 119px,#59aad6 121px,#5db8d7 122px,#71bfc2 123px,#79ba89 126px,#72b247 130px,#7cb63c 134px,#b2cc46 138px,#ece346 141px,#f0a03b 144px,#e65c32 150px,#e43e30 158px,#e54530 170px,#ea6933 176px,#f0a73b 181px,#efd442 183px,#e5e248 184px,#8bbc3d 189px,#75b43e 192px,#72b248 195px,#78c0b7 201px,#58b6dc 203px,#506ba2 206px,#445192 209px,#50498e 219px,#7f4f92 239px,#754c8f 260px,#434b8d 296px,#474a8f 350px,#9c5798 410px,#a6589b 481px)"></i>
<i style="top:120px;height:30px;background:linear-gradient(90deg,#a6589b 0,#9d5798 66px,#744b8f 93px,#424b8d 113px,#4a5997 117px,#5273a9 119px,#59abd6 121px,#5db8d7 122px,#71bfc2 123px,#79ba88 126px,#72b247 130px,#7db73c 134px,#b3cc46 138px,#ede345 141px,#f09f3a 144px,#e65b32 150px,#e43e30 157px,#e54430 170px,#e96833 176px,#f0a63b 181px,#e6e248 184px,#8cbc3d 189px,#76b53e 192px,#72b248 195px,#78c0b6 201px,#58b6dc 203px,#5583b8 205px,#506ba2 206px,#455192 209px,#50498e 219px,#804f92 239px,#764c90 260px,#444a8e 297px,#484a8f 349px,#9b5798 409px,#a6589b 481px)"></i>
<i style="top:150px;height:30px;background:linear-gradient(90deg,#a6589b 0,#9d5798 66px,#734b8f 93px,#424b8d 113px,#4a5997 117px,#5274aa 119px,#59abd7 121px,#5db8d7 122px,#72bfc1 123px,#76b679 127px,#73b351 129px,#76b53d 133px,#93bf3f 136px,#dde04a 140px,#ede245 141px,#f09e3a 144px,#e65a31 150px,#e43e30 157px,#e54330 170px,#e96733 176px,#f0a53b 181px,#e7e347 184px,#8cbc3d 189px,#76b53e 192px,#72b248 195px,#78c0b6 201px,#58b6dc 203px,#5584b8 205px,#506ca3 206px,#455192 209px,#50498e 219px,#804f92 239px,#774c90 260px,#444a8e 298px,#484a8f 348px,#9b5798 409px,#a6589b 481px)"></i>
<i style="top:180px;height:30px;background:linear-gradient(90deg,#a6589b 0,#9d5798 66px,#734b8f 93px,#424b8d 113px,#4a5997 117px,#5274aa 119px,#58acd7 121px,#5eb8d6 122px,#72bfc1 123px,#76b678 127px,#73b350 129px,#7db73c 134px,#b5cd46 138px,#dee14a 140px,#ede044 141px,#f09c3a 144px,#e65a31 150px,#e43e30 157px,#e44130 170px,#e96533 176px,#f0a33b 181px,#e8e347 184px,#8dbd3d 189px,#76b53e 192px,#72b248 195px,#79c0b6 201px,#58b6dc 203px,#5584b9 205px,#506ca3 206px,#455192 209px,#50498e 219px,#814f92 240px,#754c8f 262px,#444a8e 300px,#494a8f 347px,#9c5798 409px,#a6589b 481px)"></i>
<i style="top:210px;height:30px;background:linear-gradient(90deg,#a6589b 0,#9d5798 66px,#734b8f 93px,#424b8d 113px,#4a5997 117px,#5274ab 119px,#58acd8 121px,#5eb8d6 122px,#72bfc0 123px,#76b678 127px,#73b350 129px,#7eb73c 134px,#b6ce47 138px,#dfe24a 140px,#eede44 141px,#f09b3a 144px,#e65931 150px,#e43e30 156px,#e54430 171px,#ec6f34 177px,#f0a23b 181px,#e9e346 184px,#9fc342 188px,#7ab63c 191px,#72b248 195px,#79c0b5 201px,#59b6db 203px,#5685ba 205px,#506ca3 206px,#455192 209px,#50498e 219px,#814f92 240px,#764c90 262px,#444a8e 301px,#4a4a8f 347px,#9c5798 409px,#a6589b 481px)"></i>
<i style="top:240px;height:30px;background:linear-gradient(90deg,#a6589b 0,#9d5798 66px,#734b8f 93px,#424b8d 113px,#4a5998 117px,#5275ab 119px,#58add8 121px,#5fb8d5 122px,#72bfc0 123px,#74b462 128px,#73b346 130px,#7eb73c 134px,#b7ce47 138px,#e0e24a 140px,#eedc44 141px,#f09a39 144px,#e65831 150px,#e43e30 156px,#e54330 171px,#eb6e34 177px,#f0a13b 181px,#eae346 184px,#9fc342 188px,#7ab63c 191px,#72b248 195px,#79c0b5 201px,#59b6db 203px,#5aa3d1 204px,#506da4 206px,#455192 209px,#50498e 219px,#814f92 240px,#774c90 262px,#454a8e 302px,#4b4a8f 346px,#9c5798 409px,#a6589b 481px)"></i>
<i style="top:270px;height:30px;background:linear-gradient(90deg,#a6589b 0,#9d5798 66px,#734b8f 93px,#424b8d 113px,#4a5a98 117px,#5275ab 119px,#58add8 121px,#5fb8d5 122px,#73bfc0 123px,#74b462 128px,#73b346 130px,#7eb73c 134px,#b8cf47 138px,#e1e24a 140px,#eedb43 141px,#f09939 144px,#e65731 150px,#e43d30 156px,#e44230 171px,#eb6c34 177px,#f09f3b 181px,#ebe346 184px,#a0c442 188px,#7bb63c 191px,#72b248 195px,#79c0b4 201px,#59b6db 203px,#5aa3d1 204px,#516da4 206px,#455192 209px,#50498e 219px,#814f93 240px,#784d90 262px,#454a8e 304px,#4d4a8f 346px,#9d5798 409px,#a6589b 481px)"></i>
<i style="top:300px;height:30px;background:linear-gradient(90deg,#a6589b 0,#9d5798 66px,#734b8f 93px,#424b8d 113px,#4a5a98 117px,#5275ac 119px,#58add8 121px,#5fb9d5 122px,#73bfbf 123px,#72b24e 129px,#7fb73c 134px,#b9cf47 138px,#e2e249 140px,#eed943 141px,#f09839 144px,#e65630 150px,#e43e30 155px,#e44130 171px,#ea6b33 177px,#f09e3a 181px,#ece345 184px,#a1c442 188px,#7bb63c 191px,#72b248 195px,#79c0b4 201px,#5ab6da 203px,#5aa4d2 204px,#516ea4 206px,#455192 209px,#50498e 219px,#814f93 240px,#794d90 262px,#454a8e 305px,#4d4a8f 345px,#9d5798 409px,#a6589b 481px)"></i>
<i style="top:330px;height:30px;background:linear-gradient(90deg,#a6589b 0,#9d5798 66px,#734b8f 93px,#424b8d 113px,#4a5a98 117px,#5276ac 119px,#58aed9 121px,#60b9d4 122px,#73bfbf 123px,#72b24e 129px,#7fb73c 134px,#b9cf47 138px,#e3e249 140px,#efd742 141px,#f09739 144px,#e65530 150px,#e43e30 155px,#e44030 171px,#ea6a33 177px,#f09d3a 181px,#ede345 184px,#a1c442 188px,#7bb63c 191px,#72b247 195px,#79c0b3 201px,#5ab6da 203px,#5aa4d2 204px,#516ea5 206px,#455192 209px,#50498e 219px,#814f93 240px,#7b4e91 261px,#454a8f 307px,#4e498e 344px,#9d5798 409px,#a6589b 481px)"></i>
<i style="top:360px;height:30px;background:linear-gradient(90deg,#a6589b 0,#9d5798 66px,#734b8f 93px,#424b8d 113px,#4a5a98 117px,#5376ac 119px,#58aed9 121px,#60b9d4 122px,#73bfbe 123px,#72b24d 129px,#7fb73c 134px,#bad048 138px,#e4e249 140px,#efd642 141px,#f09539 144px,#e65530 150px,#e43d30 155px,#e54430 172px,#ed7434 178px,#efae3c 182px,#ede245 184px,#b3cc46 187px,#85b93b 190px,#73b343 194px,#73b355 196px,#79c0b3 201px,#5ab7da 203px,#5aa5d2 204px,#516ea5 206px,#455192 209px,#50498e 219px,#825093 240px,#7c4e91 261px,#464a8f 308px,#4f498e 343px,#9d5798 409px,#a6589b 481px)"></i>
<i style="top:390px;height:30px;background:linear-gradient(90deg,#a6589b 0,#9d5798 66px,#734b8f 93px,#424b8d 113px,#4b5a98 117px,#5376ad 119px,#58afd9 121px,#61b9d3 122px,#74bfbe 123px,#72b24d 129px,#7fb73b 134px,#a9c744 137px,#e4e248 140px,#efd442 141px,#f09438 144px,#e65430 150px,#e43d30 155px,#e54330 172px,#e96833 177px,#f09b3a 181px,#ede144 184px,#c9d64a 186px,#85b93b 190px,#73b343 194px,#73b354 196px,#79c0b2 201px,#5ab7da 203px,#5aa5d3 204px,#516ea5 206px,#455192 209px,#4f498e 219px,#825093 240px,#7d4e92 261px,#474a8f 309px,#50498e 342px,#9e5798 409px,#a6589b 481px)"></i>
<i style="top:420px;height:30px;background:linear-gradient(90deg,#a6589b 0,#9d5798 66px,#734b8f 93px,#424b8d 113px,#4b5a98 117px,#5377ad 119px,#58afda 121px,#61b9d3 122px,#74bfbe 123px,#72b24c 129px,#77b53d 133px,#99c141 136px,#e5e248 140px,#eeb83c 142px,#ed7935 146px,#e54630 152px,#e33c31 160px,#e44230 172px,#ec7334 178px,#efac3b 182px,#eedf44 184px,#dee14a 185px,#92bf3f 189px,#76b53e 192px,#72b247 195px,#79c0b2 201px,#5bb7d9 203px,#5aa6d3 204px,#516fa5 206px,#455192 209px,#4f498e 219px,#825093 240px,#7f4f92 260px,#494a8f 310px,#53498e 343px,#9d5798 408px,#a6589b 481px)"></i>
<i style="top:450px;height:30px;background:linear-gradient(90deg,#a6589b 0,#9d5798 66px,#734b8f 93px,#424b8d 113px,#4b5a98 117px,#5377ad 119px,#57afda 121px,#61b9d3 122px,#74bfbd 123px,#72b24c 129px,#77b53d 133px,#9ac141 136px,#e6e248 140px,#eeb73c 142px,#ed7835 146px,#e54530 152px,#e33c31 164px,#e44130 172px,#ec7234 178px,#efab3b 182px,#eede44 184px,#dfe14a 185px,#93bf3f 189px,#76b53e 192px,#72b247 195px,#79bfb2 201px,#5bb7d9 203px,#5aa6d3 204px,#516fa6 206px,#455192 209px,#4f498e 219px,#825093 240px,#804f92 260px,#4b4a8f 310px,#56498e 344px,#9e5798 408px,#a6589b 481px)"></i>
<i style="top:480px;height:30px;background:linear-gradient(90deg,#a6589b 0,#9d5798 66px,#734b8f 93px,#424b8d 113px,#4b5a98 117px,#5377ad 119px,#57b0da 121px,#62b9d2 122px,#74bfbd 123px,#72b24b 129px,#77b53d 133px,#9ac241 136px,#e6e248 140px,#f0a33b 143px,#e76132 148px,#e43e30 154px,#e44030 172px,#ec7134 178px,#efaa3b 182px,#eedc44 184px,#e0e24a 185px,#93bf3f 189px,#76b53d 192px,#72b247 195px,#79bfb1 201px,#5bb7d9 203px,#5aa7d3 204px,#516fa6 206px,#455192 209px,#4f498e 219px,#825093 240px,#825093 259px,#4d4a8f 310px,#58498e 344px,#9e5799 408px,#a6589b 481px)"></i>
<i style="top:510px;height:30px;background:linear-gradient(90deg,#a6589b 0,#9d5798 66px,#734b8f 93px,#424b8d 113px,#4b5a98 117px,#5378ae 119px,#57b0da 121px,#62bad2 122px,#74bfbd 123px,#72b24b 129px,#77b53d 133px,#9bc241 136px,#e7e347 140px,#f0a23b 143px,#e76032 148px,#e43d30 154px,#e44030 172px,#ec7034 178px,#efa93b 182px,#eedb43 184px,#e0e24a 185px,#94bf3f 189px,#76b53d 192px,#72b247 195px,#79bfb1 201px,#5bb7d9 203px,#5aa7d4 204px,#5170a6 206px,#455192 209px,#4f498e 219px,#825093 240px,#825093 259px,#4f498e 311px,#5b498e 346px,#9e5799 408px,#a6589b 481px)"></i>
<i style="top:540px;height:30px;background:linear-gradient(90deg,#a6589b 0,#9d5798 66px,#734b8f 93px,#424b8d 113px,#4b5b98 117px,#5378ae 119px,#57b0db 121px,#62bad2 122px,#74bfbd 123px,#72b24b 129px,#78b53d 133px,#9bc241 136px,#e8e347 140px,#f0a13b 143px,#e75f32 148px,#e43e30 153px,#e43f30 172px,#ec7034 178px,#efa93b 182px,#eeda43 184px,#e1e24a 185px,#86ba3c 190px,#74b43f 193px,#73b352 196px,#79bfb1 201px,#5bb7d9 203px,#5aa7d4 204px,#5170a6 206px,#455192 209px,#4f498e 219px,#825093 240px,#845093 259px,#52498e 311px,#5e498d 347px,#9e5799 407px,#a6589b 481px)"></i>
<i style="top:570px;height:30px;background:linear-gradient(90deg,#a6589b 0,#9d5798 66px,#734b8f 93px,#424b8d 113px,#4b5b98 117px,#5378ae 119px,#57b1db 121px,#75c0bc 123px,#72b24a 129px,#78b53d 133px,#9cc241 136px,#e8e347 140px,#f08f38 144px,#e65731 149px,#e43d30 154px,#e43e30 172px,#ec6f34 178px,#efa83b 182px,#eed943 184px,#e2e249 185px,#86ba3c 190px,#74b43f 193px,#73b352 196px,#79bfb0 201px,#5bb7d9 203px,#5aa8d4 204px,#5170a7 206px,#455192 209px,#4f498e 219px,#835093 240px,#855193 259px,#54498e 311px,#60498d 347px,#9e5799 407px,#a6589b 481px)"></i>
<i style="top:600px;height:30px;background:linear-gradient(90deg,#a6589b 0,#9d5798 66px,#734b8f 93px,#424b8d 113px,#4b5b98 117px,#5378ae 119px,#57b1db 121px,#75c0bc 123px,#72b24a 129px,#78b53d 133px,#9cc241 136px,#e9e347 140px,#f08f37 144px,#e65630 149px,#e43e30 153px,#e54430 173px,#ed7a35 179px,#eebc3d 183px,#eed843 184px,#e2e249 185px,#86ba3c 190px,#74b43f 193px,#73b352 196px,#79bfb0 201px,#70bfc4 202px,#5cb7d8 203px,#5aa8d4 204px,#5170a7 206px,#455293 209px,#4f498e 219px,#835093 240px,#865194 259px,#56498e 311px,#63498d 348px,#9f5799 407px,#a6589b 481px)"></i>
<i style="top:630px;height:30px;background:linear-gradient(90deg,#a6589b 0,#9d5798 66px,#734b8f 93px,#424b8d 113px,#4b5b98 117px,#5379af 119px,#57b1db 121px,#75c0bc 123px,#72b24a 129px,#78b53d 133px,#9cc242 136px,#e9e346 140px,#f09f3a 143px,#e65d32 148px,#e43e30 153px,#e54330 173px,#ed7935 179px,#eebb3d 183px,#efd742 184px,#e3e249 185px,#87ba3c 190px,#75b43f 193px,#73b351 196px,#79bfb0 201px,#70bfc3 202px,#5cb7d8 203px,#59a8d5 204px,#5170a7 206px,#455293 209px,#4f498e 219px,#845093 241px,#865194 260px,#58498e 311px,#65498d 348px,#9f5799 407px,#a6589b 481px)"></i>
<i style="top:660px;height:30px;background:linear-gradient(90deg,#a6589b 0,#9d5798 66px,#734b8f 93px,#424b8d 113px,#4b5b98 117px,#5379af 119px,#57b1db 121px,#75c0bc 123px,#72b249 129px,#78b53d 133px,#9dc342 136px,#eae346 140px,#f09e3a 143px,#e65d32 148px,#e43e30 153px,#e44230 173px,#ed7835 179px,#eeba3c 183px,#efd642 184px,#e3e249 185px,#87ba3c 190px,#75b43f 193px,#73b351 196px,#79bfaf 201px,#70bfc3 202px,#5cb7d8 203px,#59a8d5 204px,#5171a7 206px,#455293 209px,#4f498e 219px,#845093 241px,#885194 260px,#5a498e 312px,#694a8e 349px,#9f5799 407px,#a6589b 481px)"></i>
<i style="top:690px;height:30px;background:linear-gradient(90deg,#a6589b 0,#9d5798 66px,#734b8f 93px,#424b8d 113px,#4b5b98 117px,#5379af 119px,#57b2dc 121px,#75c0bb 123px,#72b249 129px,#79b53d 133px,#9dc342 136px,#eae346 140px,#f09e3a 143px,#e65c32 148px,#e43d30 153px,#e44230 173px,#ed7834 179px,#eeb93c 183px,#efd542 184px,#e4e249 185px,#87ba3c 190px,#75b43f 193px,#73b351 196px,#79bfaf 201px,#71bfc3 202px,#5cb7d8 203px,#59a9d5 204px,#5171a7 206px,#455293 209px,#4f498e 219px,#845093 241px,#885294 261px,#5c498e 313px,#6c4a8e 350px,#9f5799 407px,#a6589b 481px)"></i>
<i style="top:720px;height:30px;background:linear-gradient(90deg,#a6589b 0,#9d5798 66px,#734b8f 93px,#424b8c 113px,#4b5b98 117px,#537aaf 119px,#57b2dc 121px,#75c0bb 123px,#72b249 129px,#79b53d 133px,#9ec342 136px,#ebe346 140px,#f09d3a 143px,#e65c32 148px,#e43d30 153px,#e44130 173px,#ed7734 179px,#eeb93c 183px,#efd442 184px,#e4e248 185px,#87ba3c 190px,#75b43f 193px,#73b350 196px,#79bfaf 201px,#71bfc3 202px,#5cb7d8 203px,#59a9d5 204px,#5171a8 206px,#455293 209px,#4f498e 219px,#855193 241px,#895294 261px,#5f498d 314px,#6f4b8f 351px,#a05899 407px,#a6589b 481px)"></i>
<i style="top:750px;height:30px;background:linear-gradient(90deg,#a6589b 0,#9d5798 66px,#734b8f 93px,#424b8c 113px,#4b5b98 117px,#537ab0 119px,#57b2dc 121px,#75c0bb 123px,#72b249 129px,#79b53d 133px,#9ec342 136px,#ebe346 140px,#f09c3a 143px,#e65b32 148px,#e43d30 153px,#e44130 173px,#ed7734 179px,#eeb83c 183px,#efd342 184px,#e4e248 185px,#87ba3c 190px,#75b43f 193px,#73b350 196px,#79bfaf 201px,#71bfc3 202px,#5cb7d8 203px,#59a9d5 204px,#5171a8 206px,#455293 209px,#4f498e 219px,#855193 241px,#8b5294 261px,#61498d 316px,#744b8f 354px,#a05899 408px,#a6589b 481px)"></i>
<i style="top:780px;height:30px;background:linear-gradient(90deg,#a6589b 0,#9d5798 66px,#734b8f 93px,#424b8c 113px,#4b5b98 117px,#537ab0 119px,#57b2dc 121px,#75c0bb 123px,#72b249 129px,#79b63d 133px,#9ec342 136px,#ece346 140px,#f09c3a 143px,#e65b32 148px,#e43d30 153px,#e44030 173px,#ed7734 179px,#eeb83c 183px,#e5e248 185px,#87ba3c 190px,#75b43f 193px,#73b350 196px,#79bfaf 201px,#71bfc2 202px,#5cb7d8 203px,#59a9d5 204px,#5171a8 206px,#455293 209px,#4f498e 219px,#855193 241px,#8c5395 261px,#63498d 317px,#7c4e91 361px,#a15899 409px,#a6589b 481px)"></i>
<i style="top:810px;height:30px;background:linear-gradient(90deg,#a6589b 0,#9d5798 66px,#734b8f 93px,#424b8c 113px,#4b5b98 117px,#537ab0 119px,#57b3dc 121px,#76c0bb 123px,#72b249 129px,#79b63d 133px,#9ec342 136px,#ece345 140px,#f09c3a 143px,#e65b31 148px,#e43d30 153px,#e44030 173px,#ed7634 179px,#eeb73c 183px,#e5e248 185px,#88ba3c 190px,#75b43f 193px,#73b350 196px,#79bfae 201px,#71bfc2 202px,#5db7d7 203px,#59a9d5 204px,#5171a8 206px,#455293 209px,#4f498e 219px,#855193 241px,#8d5395 262px,#66498d 318px,#835093 367px,#a1589a 410px,#a6589b 481px)"></i>
<i style="top:840px;height:30px;background:linear-gradient(90deg,#a6589b 0,#9d5798 66px,#734b8f 93px,#424b8c 113px,#4b5b98 117px,#537ab0 119px,#57b3dc 121px,#76c0bb 123px,#72b249 129px,#79b63d 133px,#9fc342 136px,#ece345 140px,#f09b3a 143px,#e65a31 148px,#e33d31 153px,#e43f30 173px,#ed7634 179px,#eeb73c 183px,#e5e248 185px,#88ba3c 190px,#75b43f 193px,#73b350 196px,#79bfae 201px,#71bfc2 202px,#5db7d7 203px,#59a9d6 204px,#5272a8 206px,#455293 209px,#4c4a8f 218px,#855193 241px,#8e5495 262px,#694a8e 318px,#865194 368px,#a2589a 413px,#a6589b 481px)"></i>
<i style="top:870px;height:30px;background:linear-gradient(90deg,#a6589b 0,#9d5798 66px,#734b8f 93px,#424b8c 113px,#4b5b99 117px,#547bb0 119px,#57b3dc 121px,#76c0ba 123px,#72b249 129px,#79b63d 133px,#9fc342 136px,#ece345 140px,#f09b3a 143px,#e65a31 148px,#e33d31 153px,#e43f30 173px,#ea6933 178px,#f0a23b 182px,#efd141 184px,#e6e248 185px,#88ba3c 190px,#75b43f 193px,#73b34f 196px,#79bfae 201px,#71bfc2 202px,#5db8d7 203px,#59aad6 204px,#5272a8 206px,#455293 209px,#4c4a8f 218px,#855193 241px,#8f5495 262px,#6c4a8e 318px,#885294 368px,#a3589a 416px,#a6589b 481px)"></i>
<i style="top:900px;height:30px;background:linear-gradient(90deg,#a6589b 0,#9d5798 66px,#734b8f 93px,#424b8c 113px,#4b5b99 117px,#547bb1 119px,#57b3dc 121px,#76c0ba 123px,#72b249 129px,#79b63d 133px,#9fc342 136px,#ede345 140px,#f09a3a 143px,#e65a31 148px,#e33d31 153px,#e43f30 173px,#ea6933 178px,#f0a23b 182px,#efd041 184px,#e6e248 185px,#88ba3c 190px,#75b43e 193px,#73b34f 196px,#79bfae 201px,#71bfc2 202px,#5db8d7 203px,#59aad6 204px,#5272a8 206px,#455293 209px,#4c4a8f 218px,#875194 242px,#905495 264px,#6f4b8f 319px,#8c5395 370px,#a4589a 422px,#a6589b 481px)"></i>
<i style="top:930px;height:30px;background:linear-gradient(90deg,#a6589b 0,#9d5798 66px,#734b8f 93px,#424b8c 113px,#4b5b99 117px,#547bb1 119px,#57b3dd 121px,#76c0ba 123px,#72b249 129px,#79b63d 133px,#9fc342 136px,#dbdf4a 139px,#ede345 140px,#f09a3a 143px,#e65a31 148px,#e43e30 152px,#e43e30 173px,#ea6933 178px,#f0a13b 182px,#efd041 184px,#e6e248 185px,#88bb3c 190px,#75b43e 193px,#73b34f 196px,#79bfae 201px,#71bfc2 202px,#5db8d7 203px,#59aad6 204px,#5272a8 206px,#455293 209px,#4c4a8f 218px,#875194 242px,#915496 264px,#724b8f 319px,#8f5495 371px,#a5589b 428px,#a6589b 481px)"></i>
<i style="top:960px;height:30px;background:linear-gradient(90deg,#a6589b 0,#9d5798 66px,#724b8f 93px,#424b8c 113px,#4b5b99 117px,#547bb1 119px,#56b3dd 121px,#76c0ba 123px,#72b249 129px,#7ab63d 133px,#9fc342 136px,#dbdf4a 139px,#ede345 140px,#efad3b 142px,#e86433 147px,#e43e30 152px,#e43e30 173px,#ed7534 179px,#eeb53c 183px,#e6e248 185px,#88bb3c 190px,#75b43e 193px,#73b34f 196px,#79bfae 201px,#71bfc2 202px,#5db8d7 203px,#59aad6 204px,#5272a8 206px,#455293 209px,#4c4a8f 218px,#875194 242px,#935596 264px,#754c90 319px,#905495 371px,#a5589b 432px,#a6589b 481px)"></i>
<i style="top:990px;height:30px;background:linear-gradient(90deg,#a6589b 0,#9d5798 66px,#724b8f 93px,#424b8c 113px,#4b5b99 117px,#547bb1 119px,#56b3dd 121px,#76c0ba 123px,#72b249 129px,#7ab63d 133px,#9fc442 136px,#dcdf4a 139px,#ede245 140px,#efad3b 142px,#e86333 147px,#e43e30 152px,#e43e30 173px,#ed7534 179px,#eeb53c 183px,#e6e248 185px,#88bb3c 190px,#75b43e 193px,#73b34f 196px,#79bfae 201px,#71bfc2 202px,#5db8d7 203px,#59aad6 204px,#5272a8 206px,#455293 209px,#4c4a8f 218px,#885194 242px,#945596 265px,#784d90 320px,#945596 373px,#a6589b 442px,#a6589b 481px)"></i>
<i style="top:1020px;height:30px;background:linear-gradient(90deg,#a6589b 0,#9d5798 66px,#724b8f 93px,#424b8c 113px,#4b5b99 117px,#547bb1 119px,#56b3dd 121px,#76c0ba 123px,#72b249 129px,#7ab63d 133px,#a0c442 136px,#dce04a 139px,#ede245 140px,#efad3b 142px,#e86333 147px,#e43e30 152px,#e43e30 173px,#ea6833 178px,#f0a13b 182px,#e7e347 185px,#88bb3c 190px,#75b43e 193px,#73b34f 196px,#79bfae 201px,#71bfc2 202px,#5db8d7 203px,#59aad6 204px,#5272a9 206px,#455293 209px,#4c4a8f 218px,#885194 242px,#955696 265px,#7b4e91 320px,#965696 374px,#a6589b 453px,#a6589b 481px)"></i>
<i style="top:1050px;height:20px;background:linear-gradient(90deg,#a6589b 0,#9d5798 66px,#724b8f 93px,#424b8c 113px,#4b5b99 117px,#547bb1 119px,#56b3dd 121px,#76c0ba 123px,#72b249 129px,#7ab63d 133px,#a0c442 136px,#dce04a 139px,#ede245 140px,#efac3b 142px,#e86333 147px,#e43e30 152px,#e43e30 173px,#e96833 178px,#f0a13b 182px,#e7e347 185px,#88bb3c 190px,#75b43e 193px,#73b34f 196px,#79bfae 201px,#71bfc2 202px,#5db8d7 203px,#59aad6 204px,#5272a9 206px,#455293 209px,#4c4a8f 218px,#885294 242px,#965697 266px,#7e4f92 321px,#a5589b 421px,#a6589b 481px)"></i>
<i style="top:1070px;height:12px;background:linear-gradient(90deg,#a6589b 0,#9d5798 66px,#724b8f 93px,#424b8c 113px,#4b5b99 117px,#547bb1 119px,#56b3dd 121px,#76c0ba 123px,#72b249 129px,#7ab63d 133px,#a0c442 136px,#dce04a 139px,#ede245 140px,#efac3b 142px,#e86333 147px,#e43e30 152px,#e43e30 173px,#e96833 178px,#f0a03b 182px,#e7e347 185px,#88bb3c 190px,#75b43e 193px,#73b34f 196px,#79bfae 201px,#71bfc2 202px,#5db8d7 203px,#59aad6 204px,#5272a9 206px,#455293 209px,#4c4a8f 218px,#885294 242px,#985797 267px,#835093 327px,#a5589b 419px,#a6589b 481px)"></i>
<i style="top:1082px;height:10px;background:linear-gradient(90deg,#a6589b 0,#9d5798 66px,#724b8f 93px,#424b8c 113px,#4b5b99 117px,#547bb1 119px,#56b3dd 121px,#76c0ba 123px,#72b249 129px,#7ab63d 133px,#a0c442 136px,#dce04a 139px,#ede245 140px,#efac3b 142px,#e86333 147px,#e43e30 152px,#e43e30 173px,#e96833 178px,#f0a03b 182px,#e7e347 185px,#88bb3c 190px,#75b43e 193px,#73b34f 196px,#79bfad 201px,#71bfc2 202px,#5db8d7 203px,#59aad6 204px,#5272a9 206px,#455293 209px,#4c4a8f 218px,#885294 242px,#9a5797 267px,#895294 330px,#a5589b 426px,#a6589b 481px)"></i>
<i style="top:1092px;height:10px;background:linear-gradient(90deg,#a6589b 0,#9d5798 66px,#724b8f 93px,#424b8c 113px,#4b5b99 117px,#547bb1 119px,#56b3dd 121px,#76c0ba 123px,#72b249 129px,#7ab63d 133px,#a0c442 136px,#dce04a 139px,#ede245 140px,#efac3b 142px,#e86333 147px,#e43e30 152px,#e43e30 173px,#e96833 178px,#f0a03b 182px,#e7e347 185px,#88bb3c 190px,#75b43e 193px,#73b34f 196px,#79bfad 201px,#71bfc2 202px,#5db8d7 203px,#59aad6 204px,#5272a9 206px,#455293 209px,#4c4a8f 218px,#885294 242px,#9c5798 268px,#905495 335px,#a6589b 436px,#a6589b 481px)"></i>
<i style="top:1102px;height:9px;background:linear-gradient(90deg,#a6589b 0,#9d5798 66px,#724b8f 93px,#424b8c 113px,#4b5b99 117px,#547bb1 119px,#56b3dd 121px,#76c0ba 123px,#72b249 129px,#7ab63d 133px,#a0c442 136px,#dce04a 139px,#ede245 140px,#efac3b 142px,#e86333 147px,#e43e30 152px,#e43e30 173px,#e96833 178px,#f0a03b 182px,#e7e347 185px,#88bb3c 190px,#75b43e 193px,#73b34f 196px,#79bfad 201px,#72bfc1 202px,#5db8d7 203px,#59aad6 204px,#5272a9 206px,#455293 209px,#4c4a8f 218px,#885294 242px,#9e5798 269px,#965697 342px,#a6589b 462px,#a6589b 481px)"></i>
<i style="top:1111px;height:11px;background:linear-gradient(90deg,#a6589b 0,#9d5798 66px,#724b8f 93px,#424b8c 113px,#4b5b99 117px,#547bb1 119px,#56b3dd 121px,#76c0ba 123px,#72b249 129px,#7ab63d 133px,#a0c442 136px,#dce04a 139px,#ede245 140px,#efac3b 142px,#e86333 147px,#e43e30 152px,#e43e30 173px,#e96833 178px,#f0a03b 182px,#e7e347 185px,#88bb3c 190px,#75b43e 193px,#73b34f 196px,#79bfad 201px,#72bfc1 202px,#5db8d7 203px,#59aad6 204px,#5272a9 206px,#455293 209px,#4c4a8f 218px,#8a5294 243px,#9f5799 271px,#9e5798 358px,#a6589b 481px)"></i>
<i style="top:1122px;height:13px;background:linear-gradient(90deg,#a6589b 0,#9d5798 66px,#724b8f 93px,#424b8c 113px,#4b5b99 117px,#547bb1 119px,#56b3dd 121px,#76c0ba 123px,#72b249 129px,#7ab63d 133px,#a0c442 136px,#dce04a 139px,#ede245 140px,#efac3b 142px,#e86333 147px,#e43e30 152px,#e43e30 173px,#e96833 178px,#f0a03b 182px,#e7e347 185px,#88bb3c 190px,#75b43e 193px,#73b34f 196px,#79bfad 201px,#72bfc1 202px,#5db8d7 203px,#59aad6 204px,#5272a9 206px,#455293 209px,#4c4a8f 218px,#8a5294 243px,#a2589a 272px,#a6589b 481px)"></i>
<i style="top:1135px;height:20px;background:linear-gradient(90deg,#a6589b 0,#9d5798 66px,#724b8f 93px,#424b8c 113px,#4b5b99 117px,#547bb1 119px,#56b3dd 121px,#76c0ba 123px,#72b249 129px,#7ab63d 133px,#a0c442 136px,#dce04a 139px,#ede245 140px,#efac3b 142px,#e86333 147px,#e43e30 152px,#e43e30 173px,#e96833 178px,#f0a03b 182px,#e7e347 185px,#88bb3c 190px,#75b43e 193px,#73b34f 196px,#79bfad 201px,#72bfc1 202px,#5db8d7 203px,#59aad6 204px,#5272a9 206px,#455293 209px,#4c4a8f 218px,#8a5294 243px,#a4589a 274px,#a6589b 481px)"></i>
<i style="top:1155px;height:15px;background:linear-gradient(90deg,#a6589b 0,#9d5798 66px,#724b8f 93px,#424b8c 113px,#4b5b99 117px,#547bb1 119px,#56b3dd 121px,#76c0ba 123px,#72b249 129px,#7ab63d 133px,#a0c442 136px,#dce04a 139px,#ede245 140px,#efac3b 142px,#e86333 147px,#e43e30 152px,#e43e30 173px,#e96833 178px,#f0a03b 182px,#e7e347 185px,#88bb3c 190px,#75b43e 193px,#73b34f 196px,#79bfad 201px,#72bfc1 202px,#5db8d7 203px,#59aad6 204px,#5272a9 206px,#455293 209px,#4c4a8f 218px,#8a5294 243px,#a5589b 275px,#a6589b 481px)"></i>
</div></div>
<div class="cb" style="left:1867px;top:192px;width:57px;height:1047px;background:linear-gradient(180deg,#e23b32 0.00%,#e43e30 3.10%,#e6502f 5.00%,#e65d32 6.90%,#ec7034 8.80%,#ee8035 10.70%,#f09238 12.60%,#f0a23b 14.10%,#eeb83c 16.00%,#f0cc40 17.40%,#ede345 18.80%,#e0e24a 20.30%,#d2da4b 21.80%,#bcd148 23.70%,#acc844 25.60%,#9ec342 27.50%,#89bb3c 30.30%,#82b83b 32.20%,#77b53d 35.10%,#74b43f 38.90%,#72b249 44.70%,#74b45e 47.50%,#76b677 50.40%,#79ba88 53.20%,#78bc9c 56.10%,#79c0b5 58.90%,#70bfc4 60.80%,#5eb8d6 62.70%,#56b5de 64.10%,#5aa6d3 65.60%,#578cc0 67.60%,#5378ae 69.00%,#506ba2 70.40%,#4d5e9a 72.30%,#465394 75.20%,#414b8c 79.00%,#464a8f 82.80%,#56498e 86.60%,#63498d 89.50%,#734b8f 92.30%,#835093 95.20%,#995797 98.00%,#a6589b 100.00%)"></div>
<div class="cb" style="left:1865px;top:1896px;width:53px;height:1003px;background:linear-gradient(180deg,#e23b32 0.00%,#e43e30 3.10%,#e6502f 5.00%,#e65d32 6.90%,#ec7034 8.80%,#ee8035 10.70%,#f09238 12.60%,#f0a23b 14.10%,#eeb83c 16.00%,#f0cc40 17.40%,#ede345 18.80%,#e0e24a 20.30%,#d2da4b 21.80%,#bcd148 23.70%,#acc844 25.60%,#9ec342 27.50%,#89bb3c 30.30%,#82b83b 32.20%,#77b53d 35.10%,#74b43f 38.90%,#72b249 44.70%,#74b45e 47.50%,#76b677 50.40%,#79ba88 53.20%,#78bc9c 56.10%,#79c0b5 58.90%,#70bfc4 60.80%,#5eb8d6 62.70%,#56b5de 64.10%,#5aa6d3 65.60%,#578cc0 67.60%,#5378ae 69.00%,#506ba2 70.40%,#4d5e9a 72.30%,#465394 75.20%,#414b8c 79.00%,#464a8f 82.80%,#56498e 86.60%,#63498d 89.50%,#734b8f 92.30%,#835093 95.20%,#995797 98.00%,#a6589b 100.00%)"></div>
<svg width="1972" height="3217" viewBox="0 0 1972 3217">
<defs><filter id="sb" x="-20%" y="-50%" width="140%" height="200%"><feGaussianBlur stdDeviation="2.5"/></filter></defs>
<path d="M372,596 L512,582 L374,603 Z" fill="#b05fa2" opacity="0.55" filter="url(#sb)"/>
<path d="M420,574 L508,580 L418,580 Z" fill="#a85b9e" opacity="0.4" filter="url(#sb)"/>
<line x1="253.0" y1="1242.3" x2="282.0" y2="1242.3" stroke="#4a4343" stroke-width="3.0"/>
<line x1="787.0" y1="1242.3" x2="816.0" y2="1242.3" stroke="#4a4343" stroke-width="3.0"/>
<line x1="266.0" y1="1203.2" x2="282.0" y2="1203.2" stroke="#4a4343" stroke-width="3.0"/>
<line x1="787.0" y1="1203.2" x2="802.0" y2="1203.2" stroke="#4a4343" stroke-width="3.0"/>
<line x1="266.0" y1="1164.0" x2="282.0" y2="1164.0" stroke="#4a4343" stroke-width="3.0"/>
<line x1="787.0" y1="1164.0" x2="802.0" y2="1164.0" stroke="#4a4343" stroke-width="3.0"/>
<line x1="266.0" y1="1124.9" x2="282.0" y2="1124.9" stroke="#4a4343" stroke-width="3.0"/>
<line x1="787.0" y1="1124.9" x2="802.0" y2="1124.9" stroke="#4a4343" stroke-width="3.0"/>
<line x1="266.0" y1="1085.7" x2="282.0" y2="1085.7" stroke="#4a4343" stroke-width="3.0"/>
<line x1="787.0" y1="1085.7" x2="802.0" y2="1085.7" stroke="#4a4343" stroke-width="3.0"/>
<line x1="253.0" y1="1046.6" x2="282.0" y2="1046.6" stroke="#4a4343" stroke-width="3.0"/>
<line x1="787.0" y1="1046.6" x2="816.0" y2="1046.6" stroke="#4a4343" stroke-width="3.0"/>
<line x1="266.0" y1="1007.5" x2="282.0" y2="1007.5" stroke="#4a4343" stroke-width="3.0"/>
<line x1="787.0" y1="1007.5" x2="802.0" y2="1007.5" stroke="#4a4343" stroke-width="3.0"/>
<line x1="266.0" y1="968.3" x2="282.0" y2="968.3" stroke="#4a4343" stroke-width="3.0"/>
<line x1="787.0" y1="968.3" x2="802.0" y2="968.3" stroke="#4a4343" stroke-width="3.0"/>
<line x1="266.0" y1="929.2" x2="282.0" y2="929.2" stroke="#4a4343" stroke-width="3.0"/>
<line x1="787.0" y1="929.2" x2="802.0" y2="929.2" stroke="#4a4343" stroke-width="3.0"/>
<line x1="266.0" y1="890.0" x2="282.0" y2="890.0" stroke="#4a4343" stroke-width="3.0"/>
<line x1="787.0" y1="890.0" x2="802.0" y2="890.0" stroke="#4a4343" stroke-width="3.0"/>
<line x1="253.0" y1="850.9" x2="282.0" y2="850.9" stroke="#4a4343" stroke-width="3.0"/>
<line x1="787.0" y1="850.9" x2="816.0" y2="850.9" stroke="#4a4343" stroke-width="3.0"/>
<line x1="266.0" y1="811.8" x2="282.0" y2="811.8" stroke="#4a4343" stroke-width="3.0"/>
<line x1="787.0" y1="811.8" x2="802.0" y2="811.8" stroke="#4a4343" stroke-width="3.0"/>
<line x1="266.0" y1="772.6" x2="282.0" y2="772.6" stroke="#4a4343" stroke-width="3.0"/>
<line x1="787.0" y1="772.6" x2="802.0" y2="772.6" stroke="#4a4343" stroke-width="3.0"/>
<line x1="266.0" y1="733.5" x2="282.0" y2="733.5" stroke="#4a4343" stroke-width="3.0"/>
<line x1="787.0" y1="733.5" x2="802.0" y2="733.5" stroke="#4a4343" stroke-width="3.0"/>
<line x1="266.0" y1="694.3" x2="282.0" y2="694.3" stroke="#4a4343" stroke-width="3.0"/>
<line x1="787.0" y1="694.3" x2="802.0" y2="694.3" stroke="#4a4343" stroke-width="3.0"/>
<line x1="253.0" y1="655.2" x2="282.0" y2="655.2" stroke="#4a4343" stroke-width="3.0"/>
<line x1="787.0" y1="655.2" x2="816.0" y2="655.2" stroke="#4a4343" stroke-width="3.0"/>
<line x1="266.0" y1="616.1" x2="282.0" y2="616.1" stroke="#4a4343" stroke-width="3.0"/>
<line x1="787.0" y1="616.1" x2="802.0" y2="616.1" stroke="#4a4343" stroke-width="3.0"/>
<line x1="266.0" y1="576.9" x2="282.0" y2="576.9" stroke="#4a4343" stroke-width="3.0"/>
<line x1="787.0" y1="576.9" x2="802.0" y2="576.9" stroke="#4a4343" stroke-width="3.0"/>
<line x1="266.0" y1="537.8" x2="282.0" y2="537.8" stroke="#4a4343" stroke-width="3.0"/>
<line x1="787.0" y1="537.8" x2="802.0" y2="537.8" stroke="#4a4343" stroke-width="3.0"/>
<line x1="266.0" y1="498.6" x2="282.0" y2="498.6" stroke="#4a4343" stroke-width="3.0"/>
<line x1="787.0" y1="498.6" x2="802.0" y2="498.6" stroke="#4a4343" stroke-width="3.0"/>
<line x1="253.0" y1="459.5" x2="282.0" y2="459.5" stroke="#4a4343" stroke-width="3.0"/>
<line x1="787.0" y1="459.5" x2="816.0" y2="459.5" stroke="#4a4343" stroke-width="3.0"/>
<line x1="266.0" y1="420.4" x2="282.0" y2="420.4" stroke="#4a4343" stroke-width="3.0"/>
<line x1="787.0" y1="420.4" x2="802.0" y2="420.4" stroke="#4a4343" stroke-width="3.0"/>
<line x1="266.0" y1="381.2" x2="282.0" y2="381.2" stroke="#4a4343" stroke-width="3.0"/>
<line x1="787.0" y1="381.2" x2="802.0" y2="381.2" stroke="#4a4343" stroke-width="3.0"/>
<line x1="266.0" y1="342.1" x2="282.0" y2="342.1" stroke="#4a4343" stroke-width="3.0"/>
<line x1="787.0" y1="342.1" x2="802.0" y2="342.1" stroke="#4a4343" stroke-width="3.0"/>
<line x1="266.0" y1="302.9" x2="282.0" y2="302.9" stroke="#4a4343" stroke-width="3.0"/>
<line x1="787.0" y1="302.9" x2="802.0" y2="302.9" stroke="#4a4343" stroke-width="3.0"/>
<line x1="253.0" y1="263.8" x2="282.0" y2="263.8" stroke="#4a4343" stroke-width="3.0"/>
<line x1="787.0" y1="263.8" x2="816.0" y2="263.8" stroke="#4a4343" stroke-width="3.0"/>
<line x1="266.0" y1="224.7" x2="282.0" y2="224.7" stroke="#4a4343" stroke-width="3.0"/>
<line x1="787.0" y1="224.7" x2="802.0" y2="224.7" stroke="#4a4343" stroke-width="3.0"/>
<line x1="266.0" y1="185.5" x2="282.0" y2="185.5" stroke="#4a4343" stroke-width="3.0"/>
<line x1="787.0" y1="185.5" x2="802.0" y2="185.5" stroke="#4a4343" stroke-width="3.0"/>
<line x1="266.0" y1="146.4" x2="282.0" y2="146.4" stroke="#4a4343" stroke-width="3.0"/>
<line x1="787.0" y1="146.4" x2="802.0" y2="146.4" stroke="#4a4343" stroke-width="3.0"/>
<line x1="266.0" y1="107.2" x2="282.0" y2="107.2" stroke="#4a4343" stroke-width="3.0"/>
<line x1="787.0" y1="107.2" x2="802.0" y2="107.2" stroke="#4a4343" stroke-width="3.0"/>
<line x1="253.0" y1="68.1" x2="282.0" y2="68.1" stroke="#4a4343" stroke-width="3.0"/>
<line x1="787.0" y1="68.1" x2="816.0" y2="68.1" stroke="#4a4343" stroke-width="3.0"/>
<line x1="287.3" y1="1243.0" x2="287.3" y2="1271.0" stroke="#4a4343" stroke-width="3.0"/>
<line x1="298.5" y1="1243.0" x2="298.5" y2="1258.0" stroke="#4a4343" stroke-width="3.0"/>
<line x1="309.7" y1="1243.0" x2="309.7" y2="1271.0" stroke="#4a4343" stroke-width="3.0"/>
<line x1="320.9" y1="1243.0" x2="320.9" y2="1258.0" stroke="#4a4343" stroke-width="3.0"/>
<line x1="332.1" y1="1243.0" x2="332.1" y2="1271.0" stroke="#4a4343" stroke-width="3.0"/>
<line x1="343.3" y1="1243.0" x2="343.3" y2="1258.0" stroke="#4a4343" stroke-width="3.0"/>
<line x1="354.5" y1="1243.0" x2="354.5" y2="1271.0" stroke="#4a4343" stroke-width="3.0"/>
<line x1="365.7" y1="1243.0" x2="365.7" y2="1258.0" stroke="#4a4343" stroke-width="3.0"/>
<line x1="376.9" y1="1243.0" x2="376.9" y2="1271.0" stroke="#4a4343" stroke-width="3.0"/>
<line x1="388.1" y1="1243.0" x2="388.1" y2="1258.0" stroke="#4a4343" stroke-width="3.0"/>
<line x1="399.3" y1="1243.0" x2="399.3" y2="1271.0" stroke="#4a4343" stroke-width="3.0"/>
<line x1="410.5" y1="1243.0" x2="410.5" y2="1258.0" stroke="#4a4343" stroke-width="3.0"/>
<line x1="421.7" y1="1243.0" x2="421.7" y2="1271.0" stroke="#4a4343" stroke-width="3.0"/>
<line x1="432.9" y1="1243.0" x2="432.9" y2="1258.0" stroke="#4a4343" stroke-width="3.0"/>
<line x1="444.1" y1="1243.0" x2="444.1" y2="1271.0" stroke="#4a4343" stroke-width="3.0"/>
<line x1="455.3" y1="1243.0" x2="455.3" y2="1258.0" stroke="#4a4343" stroke-width="3.0"/>
<line x1="466.5" y1="1243.0" x2="466.5" y2="1271.0" stroke="#4a4343" stroke-width="3.0"/>
<line x1="477.7" y1="1243.0" x2="477.7" y2="1258.0" stroke="#4a4343" stroke-width="3.0"/>
<line x1="488.9" y1="1243.0" x2="488.9" y2="1271.0" stroke="#4a4343" stroke-width="3.0"/>
<line x1="500.1" y1="1243.0" x2="500.1" y2="1258.0" stroke="#4a4343" stroke-width="3.0"/>
<line x1="511.3" y1="1243.0" x2="511.3" y2="1271.0" stroke="#4a4343" stroke-width="3.0"/>
<line x1="522.5" y1="1243.0" x2="522.5" y2="1258.0" stroke="#4a4343" stroke-width="3.0"/>
<line x1="533.7" y1="1243.0" x2="533.7" y2="1271.0" stroke="#4a4343" stroke-width="3.0"/>
<line x1="544.9" y1="1243.0" x2="544.9" y2="1258.0" stroke="#4a4343" stroke-width="3.0"/>
<line x1="556.1" y1="1243.0" x2="556.1" y2="1271.0" stroke="#4a4343" stroke-width="3.0"/>
<line x1="567.3" y1="1243.0" x2="567.3" y2="1258.0" stroke="#4a4343" stroke-width="3.0"/>
<line x1="578.5" y1="1243.0" x2="578.5" y2="1271.0" stroke="#4a4343" stroke-width="3.0"/>
<line x1="589.7" y1="1243.0" x2="589.7" y2="1258.0" stroke="#4a4343" stroke-width="3.0"/>
<line x1="600.9" y1="1243.0" x2="600.9" y2="1271.0" stroke="#4a4343" stroke-width="3.0"/>
<line x1="612.1" y1="1243.0" x2="612.1" y2="1258.0" stroke="#4a4343" stroke-width="3.0"/>
<line x1="623.3" y1="1243.0" x2="623.3" y2="1271.0" stroke="#4a4343" stroke-width="3.0"/>
<line x1="634.5" y1="1243.0" x2="634.5" y2="1258.0" stroke="#4a4343" stroke-width="3.0"/>
<line x1="645.7" y1="1243.0" x2="645.7" y2="1271.0" stroke="#4a4343" stroke-width="3.0"/>
<line x1="656.9" y1="1243.0" x2="656.9" y2="1258.0" stroke="#4a4343" stroke-width="3.0"/>
<line x1="668.1" y1="1243.0" x2="668.1" y2="1271.0" stroke="#4a4343" stroke-width="3.0"/>
<line x1="679.3" y1="1243.0" x2="679.3" y2="1258.0" stroke="#4a4343" stroke-width="3.0"/>
<line x1="690.5" y1="1243.0" x2="690.5" y2="1271.0" stroke="#4a4343" stroke-width="3.0"/>
<line x1="701.7" y1="1243.0" x2="701.7" y2="1258.0" stroke="#4a4343" stroke-width="3.0"/>
<line x1="712.9" y1="1243.0" x2="712.9" y2="1271.0" stroke="#4a4343" stroke-width="3.0"/>
<line x1="724.1" y1="1243.0" x2="724.1" y2="1258.0" stroke="#4a4343" stroke-width="3.0"/>
<line x1="735.3" y1="1243.0" x2="735.3" y2="1271.0" stroke="#4a4343" stroke-width="3.0"/>
<line x1="746.5" y1="1243.0" x2="746.5" y2="1258.0" stroke="#4a4343" stroke-width="3.0"/>
<line x1="757.7" y1="1243.0" x2="757.7" y2="1271.0" stroke="#4a4343" stroke-width="3.0"/>
<line x1="768.9" y1="1243.0" x2="768.9" y2="1258.0" stroke="#4a4343" stroke-width="3.0"/>
<line x1="780.1" y1="1243.0" x2="780.1" y2="1271.0" stroke="#4a4343" stroke-width="3.0"/>
<line x1="281.5" y1="33.0" x2="281.5" y2="1243.0" stroke="#8a8382" stroke-width="3.5"/>
<line x1="786.5" y1="33.0" x2="786.5" y2="1243.0" stroke="#8a8382" stroke-width="3.5"/>
<line x1="280.0" y1="34.5" x2="788.0" y2="34.5" stroke="#2b2525" stroke-width="3.0"/>
<line x1="253.0" y1="1242.5" x2="816.0" y2="1242.5" stroke="#6e6666" stroke-width="3.5"/>
<text x="171.7" y="88.8" font-family="Liberation Sans" font-size="55.0" text-anchor="middle" fill="#1e1a1a">3000</text>
<text x="171.7" y="480.2" font-family="Liberation Sans" font-size="55.0" text-anchor="middle" fill="#1e1a1a">2000</text>
<text x="171.7" y="871.6" font-family="Liberation Sans" font-size="55.0" text-anchor="middle" fill="#1e1a1a">1000</text>
<text x="171.7" y="1263.0" font-family="Liberation Sans" font-size="55.0" text-anchor="middle" fill="#1e1a1a">0</text>
<text x="278.8" y="1333.2" font-family="Liberation Sans" font-size="55.0" text-anchor="middle" fill="#1e1a1a">-8</text>
<text x="368.6" y="1333.2" font-family="Liberation Sans" font-size="55.0" text-anchor="middle" fill="#1e1a1a">-4</text>
<text x="467.5" y="1333.2" font-family="Liberation Sans" font-size="55.0" text-anchor="middle" fill="#1e1a1a">0</text>
<text x="555.9" y="1333.2" font-family="Liberation Sans" font-size="55.0" text-anchor="middle" fill="#1e1a1a">4</text>
<text x="646.3" y="1333.2" font-family="Liberation Sans" font-size="55.0" text-anchor="middle" fill="#1e1a1a">8</text>
<text x="736.7" y="1333.2" font-family="Liberation Sans" font-size="55.0" text-anchor="middle" fill="#1e1a1a">12</text>
<text x="531.0" y="1422.0" font-family="Liberation Serif" font-size="62.0" text-anchor="middle" fill="#151212">X/µm</text>
<text transform="translate(72.6,641.5) rotate(-90)" font-family="Liberation Serif" font-size="62" text-anchor="middle" fill="#151212">Z/µm</text>
<line x1="928.0" y1="1242.3" x2="955.0" y2="1242.3" stroke="#4a4343" stroke-width="3.0"/>
<line x1="1452.0" y1="1242.3" x2="1481.0" y2="1242.3" stroke="#4a4343" stroke-width="3.0"/>
<line x1="940.5" y1="1203.2" x2="955.0" y2="1203.2" stroke="#4a4343" stroke-width="3.0"/>
<line x1="1452.0" y1="1203.2" x2="1466.6" y2="1203.2" stroke="#4a4343" stroke-width="3.0"/>
<line x1="940.5" y1="1164.0" x2="955.0" y2="1164.0" stroke="#4a4343" stroke-width="3.0"/>
<line x1="1452.0" y1="1164.0" x2="1466.6" y2="1164.0" stroke="#4a4343" stroke-width="3.0"/>
<line x1="940.5" y1="1124.9" x2="955.0" y2="1124.9" stroke="#4a4343" stroke-width="3.0"/>
<line x1="1452.0" y1="1124.9" x2="1466.6" y2="1124.9" stroke="#4a4343" stroke-width="3.0"/>
<line x1="940.5" y1="1085.7" x2="955.0" y2="1085.7" stroke="#4a4343" stroke-width="3.0"/>
<line x1="1452.0" y1="1085.7" x2="1466.6" y2="1085.7" stroke="#4a4343" stroke-width="3.0"/>
<line x1="928.0" y1="1046.6" x2="955.0" y2="1046.6" stroke="#4a4343" stroke-width="3.0"/>
<line x1="1452.0" y1="1046.6" x2="1481.0" y2="1046.6" stroke="#4a4343" stroke-width="3.0"/>
<line x1="940.5" y1="1007.5" x2="955.0" y2="1007.5" stroke="#4a4343" stroke-width="3.0"/>
<line x1="1452.0" y1="1007.5" x2="1466.6" y2="1007.5" stroke="#4a4343" stroke-width="3.0"/>
<line x1="940.5" y1="968.3" x2="955.0" y2="968.3" stroke="#4a4343" stroke-width="3.0"/>
<line x1="1452.0" y1="968.3" x2="1466.6" y2="968.3" stroke="#4a4343" stroke-width="3.0"/>
<line x1="940.5" y1="929.2" x2="955.0" y2="929.2" stroke="#4a4343" stroke-width="3.0"/>
<line x1="1452.0" y1="929.2" x2="1466.6" y2="929.2" stroke="#4a4343" stroke-width="3.0"/>
<line x1="940.5" y1="890.0" x2="955.0" y2="890.0" stroke="#4a4343" stroke-width="3.0"/>
<line x1="1452.0" y1="890.0" x2="1466.6" y2="890.0" stroke="#4a4343" stroke-width="3.0"/>
<line x1="928.0" y1="850.9" x2="955.0" y2="850.9" stroke="#4a4343" stroke-width="3.0"/>
<line x1="1452.0" y1="850.9" x2="1481.0" y2="850.9" stroke="#4a4343" stroke-width="3.0"/>
<line x1="940.5" y1="811.8" x2="955.0" y2="811.8" stroke="#4a4343" stroke-width="3.0"/>
<line x1="1452.0" y1="811.8" x2="1466.6" y2="811.8" stroke="#4a4343" stroke-width="3.0"/>
<line x1="940.5" y1="772.6" x2="955.0" y2="772.6" stroke="#4a4343" stroke-width="3.0"/>
<line x1="1452.0" y1="772.6" x2="1466.6" y2="772.6" stroke="#4a4343" stroke-width="3.0"/>
<line x1="940.5" y1="733.5" x2="955.0" y2="733.5" stroke="#4a4343" stroke-width="3.0"/>
<line x1="1452.0" y1="733.5" x2="1466.6" y2="733.5" stroke="#4a4343" stroke-width="3.0"/>
<line x1="940.5" y1="694.3" x2="955.0" y2="694.3" stroke="#4a4343" stroke-width="3.0"/>
<line x1="1452.0" y1="694.3" x2="1466.6" y2="694.3" stroke="#4a4343" stroke-width="3.0"/>
<line x1="928.0" y1="655.2" x2="955.0" y2="655.2" stroke="#4a4343" stroke-width="3.0"/>
<line x1="1452.0" y1="655.2" x2="1481.0" y2="655.2" stroke="#4a4343" stroke-width="3.0"/>
<line x1="940.5" y1="616.1" x2="955.0" y2="616.1" stroke="#4a4343" stroke-width="3.0"/>
<line x1="1452.0" y1="616.1" x2="1466.6" y2="616.1" stroke="#4a4343" stroke-width="3.0"/>
<line x1="940.5" y1="576.9" x2="955.0" y2="576.9" stroke="#4a4343" stroke-width="3.0"/>
<line x1="1452.0" y1="576.9" x2="1466.6" y2="576.9" stroke="#4a4343" stroke-width="3.0"/>
<line x1="940.5" y1="537.8" x2="955.0" y2="537.8" stroke="#4a4343" stroke-width="3.0"/>
<line x1="1452.0" y1="537.8" x2="1466.6" y2="537.8" stroke="#4a4343" stroke-width="3.0"/>
<line x1="940.5" y1="498.6" x2="955.0" y2="498.6" stroke="#4a4343" stroke-width="3.0"/>
<line x1="1452.0" y1="498.6" x2="1466.6" y2="498.6" stroke="#4a4343" stroke-width="3.0"/>
<line x1="928.0" y1="459.5" x2="955.0" y2="459.5" stroke="#4a4343" stroke-width="3.0"/>
<line x1="1452.0" y1="459.5" x2="1481.0" y2="459.5" stroke="#4a4343" stroke-width="3.0"/>
<line x1="940.5" y1="420.4" x2="955.0" y2="420.4" stroke="#4a4343" stroke-width="3.0"/>
<line x1="1452.0" y1="420.4" x2="1466.6" y2="420.4" stroke="#4a4343" stroke-width="3.0"/>
<line x1="940.5" y1="381.2" x2="955.0" y2="381.2" stroke="#4a4343" stroke-width="3.0"/>
<line x1="1452.0" y1="381.2" x2="1466.6" y2="381.2" stroke="#4a4343" stroke-width="3.0"/>
<line x1="940.5" y1="342.1" x2="955.0" y2="342.1" stroke="#4a4343" stroke-width="3.0"/>
<line x1="1452.0" y1="342.1" x2="1466.6" y2="342.1" stroke="#4a4343" stroke-width="3.0"/>
<line x1="940.5" y1="302.9" x2="955.0" y2="302.9" stroke="#4a4343" stroke-width="3.0"/>
<line x1="1452.0" y1="302.9" x2="1466.6" y2="302.9" stroke="#4a4343" stroke-width="3.0"/>
<line x1="928.0" y1="263.8" x2="955.0" y2="263.8" stroke="#4a4343" stroke-width="3.0"/>
<line x1="1452.0" y1="263.8" x2="1481.0" y2="263.8" stroke="#4a4343" stroke-width="3.0"/>
<line x1="940.5" y1="224.7" x2="955.0" y2="224.7" stroke="#4a4343" stroke-width="3.0"/>
<line x1="1452.0" y1="224.7" x2="1466.6" y2="224.7" stroke="#4a4343" stroke-width="3.0"/>
<line x1="940.5" y1="185.5" x2="955.0" y2="185.5" stroke="#4a4343" stroke-width="3.0"/>
<line x1="1452.0" y1="185.5" x2="1466.6" y2="185.5" stroke="#4a4343" stroke-width="3.0"/>
<line x1="940.5" y1="146.4" x2="955.0" y2="146.4" stroke="#4a4343" stroke-width="3.0"/>
<line x1="1452.0" y1="146.4" x2="1466.6" y2="146.4" stroke="#4a4343" stroke-width="3.0"/>
<line x1="940.5" y1="107.2" x2="955.0" y2="107.2" stroke="#4a4343" stroke-width="3.0"/>
<line x1="1452.0" y1="107.2" x2="1466.6" y2="107.2" stroke="#4a4343" stroke-width="3.0"/>
<line x1="928.0" y1="68.1" x2="955.0" y2="68.1" stroke="#4a4343" stroke-width="3.0"/>
<line x1="1452.0" y1="68.1" x2="1481.0" y2="68.1" stroke="#4a4343" stroke-width="3.0"/>
<line x1="956.3" y1="1243.0" x2="956.3" y2="1271.0" stroke="#4a4343" stroke-width="3.0"/>
<line x1="981.0" y1="1243.0" x2="981.0" y2="1258.0" stroke="#4a4343" stroke-width="3.0"/>
<line x1="1005.8" y1="1243.0" x2="1005.8" y2="1271.0" stroke="#4a4343" stroke-width="3.0"/>
<line x1="1030.5" y1="1243.0" x2="1030.5" y2="1258.0" stroke="#4a4343" stroke-width="3.0"/>
<line x1="1055.3" y1="1243.0" x2="1055.3" y2="1271.0" stroke="#4a4343" stroke-width="3.0"/>
<line x1="1080.0" y1="1243.0" x2="1080.0" y2="1258.0" stroke="#4a4343" stroke-width="3.0"/>
<line x1="1104.8" y1="1243.0" x2="1104.8" y2="1271.0" stroke="#4a4343" stroke-width="3.0"/>
<line x1="1129.5" y1="1243.0" x2="1129.5" y2="1258.0" stroke="#4a4343" stroke-width="3.0"/>
<line x1="1154.3" y1="1243.0" x2="1154.3" y2="1271.0" stroke="#4a4343" stroke-width="3.0"/>
<line x1="1179.0" y1="1243.0" x2="1179.0" y2="1258.0" stroke="#4a4343" stroke-width="3.0"/>
<line x1="1203.8" y1="1243.0" x2="1203.8" y2="1271.0" stroke="#4a4343" stroke-width="3.0"/>
<line x1="1228.5" y1="1243.0" x2="1228.5" y2="1258.0" stroke="#4a4343" stroke-width="3.0"/>
<line x1="1253.3" y1="1243.0" x2="1253.3" y2="1271.0" stroke="#4a4343" stroke-width="3.0"/>
<line x1="1278.0" y1="1243.0" x2="1278.0" y2="1258.0" stroke="#4a4343" stroke-width="3.0"/>
<line x1="1302.8" y1="1243.0" x2="1302.8" y2="1271.0" stroke="#4a4343" stroke-width="3.0"/>
<line x1="1327.5" y1="1243.0" x2="1327.5" y2="1258.0" stroke="#4a4343" stroke-width="3.0"/>
<line x1="1352.3" y1="1243.0" x2="1352.3" y2="1271.0" stroke="#4a4343" stroke-width="3.0"/>
<line x1="1377.0" y1="1243.0" x2="1377.0" y2="1258.0" stroke="#4a4343" stroke-width="3.0"/>
<line x1="1401.8" y1="1243.0" x2="1401.8" y2="1271.0" stroke="#4a4343" stroke-width="3.0"/>
<line x1="1426.5" y1="1243.0" x2="1426.5" y2="1258.0" stroke="#4a4343" stroke-width="3.0"/>
<line x1="1451.3" y1="1243.0" x2="1451.3" y2="1271.0" stroke="#4a4343" stroke-width="3.0"/>
<line x1="956.3" y1="33.0" x2="956.3" y2="1243.0" stroke="#8a8382" stroke-width="4.0"/>
<line x1="1451.3" y1="33.0" x2="1451.3" y2="1243.0" stroke="#8a8382" stroke-width="4.0"/>
<line x1="955.0" y1="34.5" x2="1453.0" y2="34.5" stroke="#2b2525" stroke-width="3.0"/>
<line x1="928.0" y1="1241.5" x2="1481.0" y2="1241.5" stroke="#6e6666" stroke-width="3.0"/>
<text x="964.9" y="1333.4" font-family="Liberation Sans" font-size="55.0" text-anchor="middle" fill="#1e1a1a">1.0</text>
<text x="1211.2" y="1333.4" font-family="Liberation Sans" font-size="55.0" text-anchor="middle" fill="#1e1a1a">0.5</text>
<text x="1458.0" y="1333.4" font-family="Liberation Sans" font-size="55.0" text-anchor="middle" fill="#1e1a1a">0.0</text>
<text x="1236.4" y="1409.3" font-family="Liberation Serif" font-size="62.8" text-anchor="middle" fill="#151212">Monitor value/a.u.</text>
<polyline points="956.3,1242.3 956.3,1238.3 956.5,1234.3 956.7,1230.2 957.0,1226.2 957.4,1222.2 957.9,1218.2 958.5,1214.2 959.1,1210.2 959.9,1206.1 960.7,1202.1 961.7,1198.1 962.7,1194.1 963.8,1190.1 965.0,1186.1 966.3,1182.0 967.6,1178.0 969.1,1174.0 970.6,1170.0 972.2,1166.0 973.9,1162.0 975.7,1157.9 977.5,1153.9 979.5,1149.9 981.5,1145.9 983.6,1141.9 985.8,1137.8 988.1,1133.8 990.4,1129.8 992.8,1125.8 995.3,1121.8 997.9,1117.8 1000.5,1113.7 1003.2,1109.7 1006.0,1105.7 1008.9,1101.7 1011.8,1097.7 1014.8,1093.7 1017.9,1089.6 1021.0,1085.6 1024.2,1081.6 1027.4,1077.6 1030.8,1073.6 1034.2,1069.6 1037.6,1065.5 1041.1,1061.5 1044.7,1057.5 1048.3,1053.5 1052.0,1049.5 1055.7,1045.4 1059.5,1041.4 1063.4,1037.4 1067.2,1033.4 1071.2,1029.4 1075.2,1025.4 1079.2,1021.3 1083.3,1017.3 1087.4,1013.3 1091.6,1009.3 1095.8,1005.3 1100.0,1001.3 1104.3,997.2 1108.6,993.2 1113.0,989.2 1117.3,985.2 1121.8,981.2 1126.2,977.2 1130.7,973.1 1135.2,969.1 1139.7,965.1 1144.2,961.1 1148.8,957.1 1153.4,953.0 1158.0,949.0 1162.6,945.0 1167.3,941.0 1171.9,937.0 1176.6,933.0 1181.2,928.9 1185.9,924.9 1190.6,920.9 1195.3,916.9 1200.0,912.9 1204.7,908.9 1209.4,904.8 1214.1,900.8 1218.8,896.8 1223.4,892.8 1228.1,888.8 1232.8,884.8 1237.4,880.7 1242.1,876.7 1246.7,872.7 1251.3,868.7 1255.9,864.7 1260.5,860.6 1265.1,856.6 1269.6,852.6 1274.1,848.6 1278.6,844.6 1283.1,840.6 1287.5,836.5 1291.9,832.5 1296.3,828.5 1300.6,824.5 1304.9,820.5 1309.2,816.5 1313.4,812.4 1317.6,808.4 1321.7,804.4 1325.9,800.4 1329.9,796.4 1333.9,792.3 1337.9,788.3 1341.8,784.3 1345.7,780.3 1349.5,776.3 1353.3,772.3 1357.0,768.2 1360.7,764.2 1364.3,760.2 1367.8,756.2 1371.3,752.2 1374.7,748.2 1378.1,744.1 1381.4,740.1 1384.6,736.1 1387.8,732.1 1390.9,728.1 1393.9,724.1 1396.9,720.0 1399.8,716.0 1402.6,712.0 1405.4,708.0 1408.1,704.0 1410.7,699.9 1413.2,695.9 1415.7,691.9 1418.1,687.9 1420.4,683.9 1422.6,679.9 1424.8,675.8 1426.9,671.8 1428.9,667.8 1430.8,663.8 1432.6,659.8 1434.4,655.8 1436.0,651.7 1437.6,647.7 1439.1,643.7 1440.5,639.7 1441.8,635.7 1443.1,631.7 1444.2,627.6 1445.3,623.6 1446.3,619.6 1447.2,615.6 1448.0,611.6 1448.7,607.5 1449.3,603.5 1449.9,599.5 1450.3,595.5 1450.7,591.5 1451.0,587.5 1451.2,583.4 1451.3,579.4 1451.3,575.4 1451.2,571.4 1451.0,567.4 1450.8,563.4 1450.4,559.3 1450.0,555.3 1449.5,551.3 1448.9,547.3 1448.2,543.3 1447.4,539.3 1446.5,535.2 1445.6,531.2 1444.5,527.2 1443.4,523.2 1442.2,519.2 1440.8,515.1 1439.5,511.1 1438.0,507.1 1436.4,503.1 1434.8,499.1 1433.0,495.1 1431.2,491.0 1429.3,487.0 1427.4,483.0 1425.3,479.0 1423.2,475.0 1421.0,471.0 1418.7,466.9 1416.3,462.9 1413.9,458.9 1411.3,454.9 1408.7,450.9 1406.1,446.9 1403.3,442.8 1400.5,438.8 1397.6,434.8 1394.7,430.8 1391.7,426.8 1388.6,422.7 1385.4,418.7 1382.2,414.7 1378.9,410.7 1375.6,406.7 1372.1,402.7 1368.7,398.6 1365.1,394.6 1361.6,390.6 1357.9,386.6 1354.2,382.6 1350.5,378.6 1346.6,374.5 1342.8,370.5 1338.9,366.5 1334.9,362.5 1330.9,358.5 1326.9,354.5 1322.8,350.4 1318.6,346.4 1314.5,342.4 1310.2,338.4 1306.0,334.4 1301.7,330.3 1297.4,326.3 1293.0,322.3 1288.6,318.3 1284.2,314.3 1279.7,310.3 1275.2,306.2 1270.7,302.2 1266.2,298.2 1261.6,294.2 1257.1,290.2 1252.5,286.2 1247.9,282.1 1243.2,278.1 1238.6,274.1 1233.9,270.1 1229.3,266.1 1224.6,262.1 1219.9,258.0 1215.2,254.0 1210.5,250.0 1205.8,246.0 1201.2,242.0 1196.5,237.9 1191.8,233.9 1187.1,229.9 1182.4,225.9 1177.7,221.9 1173.1,217.9 1168.4,213.8 1163.8,209.8 1159.1,205.8 1154.5,201.8 1149.9,197.8 1145.4,193.8 1140.8,189.7 1136.3,185.7 1131.8,181.7 1127.3,177.7 1122.9,173.7 1118.4,169.7 1114.0,165.6 1109.7,161.6 1105.4,157.6 1101.1,153.6 1096.8,149.6 1092.6,145.5 1088.4,141.5 1084.3,137.5 1080.2,133.5 1076.2,129.5 1072.2,125.5 1068.2,121.4 1064.3,117.4 1060.5,113.4 1056.7,109.4 1052.9,105.4 1049.2,101.4 1045.6,97.3 1042.0,93.3 1038.5,89.3 1035.0,85.3 1031.6,81.3 1028.3,77.3 1025.0,73.2 1021.8,69.2 1018.6,65.2 1015.5,61.2 1012.5,57.2 1009.6,53.1 1006.7,49.1 1003.9,45.1 1001.2,41.1" fill="none" stroke="#4f4f98" stroke-width="3"/>
<polyline points="1451.3,1242.3 1451.3,1238.3 1451.1,1234.3 1450.9,1230.2 1450.6,1226.2 1450.2,1222.2 1449.7,1218.2 1449.1,1214.2 1448.5,1210.2 1447.7,1206.1 1446.9,1202.1 1445.9,1198.1 1444.9,1194.1 1443.8,1190.1 1442.6,1186.1 1441.3,1182.0 1440.0,1178.0 1438.5,1174.0 1437.0,1170.0 1435.4,1166.0 1433.7,1162.0 1431.9,1157.9 1430.1,1153.9 1428.1,1149.9 1426.1,1145.9 1424.0,1141.9 1421.8,1137.8 1419.5,1133.8 1417.2,1129.8 1414.8,1125.8 1412.3,1121.8 1409.7,1117.8 1407.1,1113.7 1404.4,1109.7 1401.6,1105.7 1398.7,1101.7 1395.8,1097.7 1392.8,1093.7 1389.7,1089.6 1386.6,1085.6 1383.4,1081.6 1380.2,1077.6 1376.8,1073.6 1373.4,1069.6 1370.0,1065.5 1366.5,1061.5 1362.9,1057.5 1359.3,1053.5 1355.6,1049.5 1351.9,1045.4 1348.1,1041.4 1344.2,1037.4 1340.4,1033.4 1336.4,1029.4 1332.4,1025.4 1328.4,1021.3 1324.3,1017.3 1320.2,1013.3 1316.0,1009.3 1311.8,1005.3 1307.6,1001.3 1303.3,997.2 1299.0,993.2 1294.6,989.2 1290.3,985.2 1285.8,981.2 1281.4,977.2 1276.9,973.1 1272.4,969.1 1267.9,965.1 1263.4,961.1 1258.8,957.1 1254.2,953.0 1249.6,949.0 1245.0,945.0 1240.3,941.0 1235.7,937.0 1231.0,933.0 1226.4,928.9 1221.7,924.9 1217.0,920.9 1212.3,916.9 1207.6,912.9 1202.9,908.9 1198.2,904.8 1193.5,900.8 1188.8,896.8 1184.2,892.8 1179.5,888.8 1174.8,884.8 1170.2,880.7 1165.5,876.7 1160.9,872.7 1156.3,868.7 1151.7,864.7 1147.1,860.6 1142.5,856.6 1138.0,852.6 1133.5,848.6 1129.0,844.6 1124.5,840.6 1120.1,836.5 1115.7,832.5 1111.3,828.5 1107.0,824.5 1102.7,820.5 1098.4,816.5 1094.2,812.4 1090.0,808.4 1085.9,804.4 1081.7,800.4 1077.7,796.4 1073.7,792.3 1069.7,788.3 1065.8,784.3 1061.9,780.3 1058.1,776.3 1054.3,772.3 1050.6,768.2 1046.9,764.2 1043.3,760.2 1039.8,756.2 1036.3,752.2 1032.9,748.2 1029.5,744.1 1026.2,740.1 1023.0,736.1 1019.8,732.1 1016.7,728.1 1013.7,724.1 1010.7,720.0 1007.8,716.0 1005.0,712.0 1002.2,708.0 999.5,704.0 996.9,699.9 994.4,695.9 991.9,691.9 989.5,687.9 987.2,683.9 985.0,679.9 982.8,675.8 980.7,671.8 978.7,667.8 976.8,663.8 975.0,659.8 973.2,655.8 971.6,651.7 970.0,647.7 968.5,643.7 967.1,639.7 965.8,635.7 964.5,631.7 963.4,627.6 962.3,623.6 961.3,619.6 960.4,615.6 959.6,611.6 958.9,607.5 958.3,603.5 957.7,599.5 957.3,595.5 956.9,591.5 956.6,587.5 956.4,583.4 956.3,579.4 956.3,575.4 956.4,571.4 956.6,567.4 956.8,563.4 957.2,559.3 957.6,555.3 958.1,551.3 958.7,547.3 959.4,543.3 960.2,539.3 961.1,535.2 962.0,531.2 963.1,527.2 964.2,523.2 965.4,519.2 966.8,515.1 968.1,511.1 969.6,507.1 971.2,503.1 972.8,499.1 974.6,495.1 976.4,491.0 978.3,487.0 980.2,483.0 982.3,479.0 984.4,475.0 986.6,471.0 988.9,466.9 991.3,462.9 993.7,458.9 996.3,454.9 998.9,450.9 1001.5,446.9 1004.3,442.8 1007.1,438.8 1010.0,434.8 1012.9,430.8 1015.9,426.8 1019.0,422.7 1022.2,418.7 1025.4,414.7 1028.7,410.7 1032.0,406.7 1035.5,402.7 1038.9,398.6 1042.5,394.6 1046.0,390.6 1049.7,386.6 1053.4,382.6 1057.1,378.6 1061.0,374.5 1064.8,370.5 1068.7,366.5 1072.7,362.5 1076.7,358.5 1080.7,354.5 1084.8,350.4 1089.0,346.4 1093.1,342.4 1097.4,338.4 1101.6,334.4 1105.9,330.3 1110.2,326.3 1114.6,322.3 1119.0,318.3 1123.4,314.3 1127.9,310.3 1132.4,306.2 1136.9,302.2 1141.4,298.2 1146.0,294.2 1150.5,290.2 1155.1,286.2 1159.7,282.1 1164.4,278.1 1169.0,274.1 1173.7,270.1 1178.3,266.1 1183.0,262.1 1187.7,258.0 1192.4,254.0 1197.1,250.0 1201.8,246.0 1206.4,242.0 1211.1,237.9 1215.8,233.9 1220.5,229.9 1225.2,225.9 1229.9,221.9 1234.5,217.9 1239.2,213.8 1243.8,209.8 1248.5,205.8 1253.1,201.8 1257.7,197.8 1262.2,193.8 1266.8,189.7 1271.3,185.7 1275.8,181.7 1280.3,177.7 1284.7,173.7 1289.2,169.7 1293.6,165.6 1297.9,161.6 1302.2,157.6 1306.5,153.6 1310.8,149.6 1315.0,145.5 1319.2,141.5 1323.3,137.5 1327.4,133.5 1331.4,129.5 1335.4,125.5 1339.4,121.4 1343.3,117.4 1347.1,113.4 1350.9,109.4 1354.7,105.4 1358.4,101.4 1362.0,97.3 1365.6,93.3 1369.1,89.3 1372.6,85.3 1376.0,81.3 1379.3,77.3 1382.6,73.2 1385.8,69.2 1389.0,65.2 1392.1,61.2 1395.1,57.2 1398.0,53.1 1400.9,49.1 1403.7,45.1 1406.4,41.1" fill="none" stroke="#70b24e" stroke-width="3"/>
<text x="1496.1" y="69.4" font-family="Liberation Sans" font-size="45.5" text-anchor="start" fill="#1e1a1a">Pathway,</text>
<text x="1496.1" y="137.2" font-family="Liberation Sans" font-size="45.5" text-anchor="start" fill="#1e1a1a">Monitor:</text>
<text x="1496.3" y="299.5" font-family="Liberation Sans" font-size="45.5" text-anchor="start" fill="#1e1a1a">1, Launch</text>
<text x="1496.2" y="455.3" font-family="Liberation Sans" font-size="45.5" text-anchor="start" fill="#1e1a1a">2, Launch</text>
<line x1="1528.6" y1="343.6" x2="1695.5" y2="343.6" stroke="#5a5ea6" stroke-width="4.0"/>
<line x1="1528.6" y1="499.4" x2="1695.5" y2="499.4" stroke="#7cc46a" stroke-width="4.0"/>
<line x1="1840.0" y1="191.0" x2="1840.0" y2="1239.5" stroke="#2a2222" stroke-width="2.5"/>
<line x1="1810.4" y1="192.0" x2="1841.0" y2="192.0" stroke="#3a3434" stroke-width="3.0"/>
<line x1="1826.3" y1="296.6" x2="1841.0" y2="296.6" stroke="#3a3434" stroke-width="3.0"/>
<line x1="1826.3" y1="401.3" x2="1841.0" y2="401.3" stroke="#3a3434" stroke-width="3.0"/>
<line x1="1826.3" y1="505.9" x2="1841.0" y2="505.9" stroke="#3a3434" stroke-width="3.0"/>
<line x1="1826.3" y1="610.6" x2="1841.0" y2="610.6" stroke="#3a3434" stroke-width="3.0"/>
<line x1="1810.4" y1="715.2" x2="1841.0" y2="715.2" stroke="#3a3434" stroke-width="3.0"/>
<line x1="1826.3" y1="819.9" x2="1841.0" y2="819.9" stroke="#3a3434" stroke-width="3.0"/>
<line x1="1826.3" y1="924.5" x2="1841.0" y2="924.5" stroke="#3a3434" stroke-width="3.0"/>
<line x1="1826.3" y1="1029.2" x2="1841.0" y2="1029.2" stroke="#3a3434" stroke-width="3.0"/>
<line x1="1826.3" y1="1133.8" x2="1841.0" y2="1133.8" stroke="#3a3434" stroke-width="3.0"/>
<line x1="1810.4" y1="1238.5" x2="1841.0" y2="1238.5" stroke="#3a3434" stroke-width="3.0"/>
<text x="1856.5" y="171.3" font-family="Liberation Sans" font-size="55.0" text-anchor="middle" fill="#1e1a1a">1.0</text>
<text x="1854.5" y="1302.1" font-family="Liberation Sans" font-size="55.0" text-anchor="middle" fill="#1e1a1a">0.0</text>
<text x="968.6" y="1548.3" font-family="Liberation Serif" font-size="74" fill="#151212">a</text>
<path d="M958.6,1488.0 C932.9,1506.3 932.9,1537.5 958.6,1555.8 C939.1,1537.5 939.1,1506.3 958.6,1488.0 Z" fill="#151212" stroke="#151212" stroke-width="0.9"/>
<path d="M1010.7,1488.0 C1035.6,1506.3 1035.6,1537.5 1010.7,1555.8 C1029.4,1537.5 1029.4,1506.3 1010.7,1488.0 Z" fill="#151212" stroke="#151212" stroke-width="0.9"/>
<line x1="318.5" y1="2901.2" x2="346.0" y2="2901.2" stroke="#1c1818" stroke-width="3.0"/>
<line x1="829.0" y1="2901.2" x2="857.0" y2="2901.2" stroke="#1c1818" stroke-width="3.0"/>
<line x1="331.0" y1="2863.7" x2="346.0" y2="2863.7" stroke="#1c1818" stroke-width="3.0"/>
<line x1="829.0" y1="2863.7" x2="843.7" y2="2863.7" stroke="#1c1818" stroke-width="3.0"/>
<line x1="331.0" y1="2826.2" x2="346.0" y2="2826.2" stroke="#1c1818" stroke-width="3.0"/>
<line x1="829.0" y1="2826.2" x2="843.7" y2="2826.2" stroke="#1c1818" stroke-width="3.0"/>
<line x1="331.0" y1="2788.7" x2="346.0" y2="2788.7" stroke="#1c1818" stroke-width="3.0"/>
<line x1="829.0" y1="2788.7" x2="843.7" y2="2788.7" stroke="#1c1818" stroke-width="3.0"/>
<line x1="331.0" y1="2751.2" x2="346.0" y2="2751.2" stroke="#1c1818" stroke-width="3.0"/>
<line x1="829.0" y1="2751.2" x2="843.7" y2="2751.2" stroke="#1c1818" stroke-width="3.0"/>
<line x1="318.5" y1="2713.7" x2="346.0" y2="2713.7" stroke="#1c1818" stroke-width="3.0"/>
<line x1="829.0" y1="2713.7" x2="857.0" y2="2713.7" stroke="#1c1818" stroke-width="3.0"/>
<line x1="331.0" y1="2676.2" x2="346.0" y2="2676.2" stroke="#1c1818" stroke-width="3.0"/>
<line x1="829.0" y1="2676.2" x2="843.7" y2="2676.2" stroke="#1c1818" stroke-width="3.0"/>
<line x1="331.0" y1="2638.7" x2="346.0" y2="2638.7" stroke="#1c1818" stroke-width="3.0"/>
<line x1="829.0" y1="2638.7" x2="843.7" y2="2638.7" stroke="#1c1818" stroke-width="3.0"/>
<line x1="331.0" y1="2601.2" x2="346.0" y2="2601.2" stroke="#1c1818" stroke-width="3.0"/>
<line x1="829.0" y1="2601.2" x2="843.7" y2="2601.2" stroke="#1c1818" stroke-width="3.0"/>
<line x1="331.0" y1="2563.7" x2="346.0" y2="2563.7" stroke="#1c1818" stroke-width="3.0"/>
<line x1="829.0" y1="2563.7" x2="843.7" y2="2563.7" stroke="#1c1818" stroke-width="3.0"/>
<line x1="318.5" y1="2526.2" x2="346.0" y2="2526.2" stroke="#1c1818" stroke-width="3.0"/>
<line x1="829.0" y1="2526.2" x2="857.0" y2="2526.2" stroke="#1c1818" stroke-width="3.0"/>
<line x1="331.0" y1="2488.7" x2="346.0" y2="2488.7" stroke="#1c1818" stroke-width="3.0"/>
<line x1="829.0" y1="2488.7" x2="843.7" y2="2488.7" stroke="#1c1818" stroke-width="3.0"/>
<line x1="331.0" y1="2451.2" x2="346.0" y2="2451.2" stroke="#1c1818" stroke-width="3.0"/>
<line x1="829.0" y1="2451.2" x2="843.7" y2="2451.2" stroke="#1c1818" stroke-width="3.0"/>
<line x1="331.0" y1="2413.7" x2="346.0" y2="2413.7" stroke="#1c1818" stroke-width="3.0"/>
<line x1="829.0" y1="2413.7" x2="843.7" y2="2413.7" stroke="#1c1818" stroke-width="3.0"/>
<line x1="331.0" y1="2376.2" x2="346.0" y2="2376.2" stroke="#1c1818" stroke-width="3.0"/>
<line x1="829.0" y1="2376.2" x2="843.7" y2="2376.2" stroke="#1c1818" stroke-width="3.0"/>
<line x1="318.5" y1="2338.7" x2="346.0" y2="2338.7" stroke="#1c1818" stroke-width="3.0"/>
<line x1="829.0" y1="2338.7" x2="857.0" y2="2338.7" stroke="#1c1818" stroke-width="3.0"/>
<line x1="331.0" y1="2301.2" x2="346.0" y2="2301.2" stroke="#1c1818" stroke-width="3.0"/>
<line x1="829.0" y1="2301.2" x2="843.7" y2="2301.2" stroke="#1c1818" stroke-width="3.0"/>
<line x1="331.0" y1="2263.7" x2="346.0" y2="2263.7" stroke="#1c1818" stroke-width="3.0"/>
<line x1="829.0" y1="2263.7" x2="843.7" y2="2263.7" stroke="#1c1818" stroke-width="3.0"/>
<line x1="331.0" y1="2226.2" x2="346.0" y2="2226.2" stroke="#1c1818" stroke-width="3.0"/>
<line x1="829.0" y1="2226.2" x2="843.7" y2="2226.2" stroke="#1c1818" stroke-width="3.0"/>
<line x1="331.0" y1="2188.7" x2="346.0" y2="2188.7" stroke="#1c1818" stroke-width="3.0"/>
<line x1="829.0" y1="2188.7" x2="843.7" y2="2188.7" stroke="#1c1818" stroke-width="3.0"/>
<line x1="318.5" y1="2151.2" x2="346.0" y2="2151.2" stroke="#1c1818" stroke-width="3.0"/>
<line x1="829.0" y1="2151.2" x2="857.0" y2="2151.2" stroke="#1c1818" stroke-width="3.0"/>
<line x1="331.0" y1="2113.7" x2="346.0" y2="2113.7" stroke="#1c1818" stroke-width="3.0"/>
<line x1="829.0" y1="2113.7" x2="843.7" y2="2113.7" stroke="#1c1818" stroke-width="3.0"/>
<line x1="331.0" y1="2076.2" x2="346.0" y2="2076.2" stroke="#1c1818" stroke-width="3.0"/>
<line x1="829.0" y1="2076.2" x2="843.7" y2="2076.2" stroke="#1c1818" stroke-width="3.0"/>
<line x1="331.0" y1="2038.7" x2="346.0" y2="2038.7" stroke="#1c1818" stroke-width="3.0"/>
<line x1="829.0" y1="2038.7" x2="843.7" y2="2038.7" stroke="#1c1818" stroke-width="3.0"/>
<line x1="331.0" y1="2001.2" x2="346.0" y2="2001.2" stroke="#1c1818" stroke-width="3.0"/>
<line x1="829.0" y1="2001.2" x2="843.7" y2="2001.2" stroke="#1c1818" stroke-width="3.0"/>
<line x1="318.5" y1="1963.7" x2="346.0" y2="1963.7" stroke="#1c1818" stroke-width="3.0"/>
<line x1="829.0" y1="1963.7" x2="857.0" y2="1963.7" stroke="#1c1818" stroke-width="3.0"/>
<line x1="331.0" y1="1926.2" x2="346.0" y2="1926.2" stroke="#1c1818" stroke-width="3.0"/>
<line x1="829.0" y1="1926.2" x2="843.7" y2="1926.2" stroke="#1c1818" stroke-width="3.0"/>
<line x1="331.0" y1="1888.7" x2="346.0" y2="1888.7" stroke="#1c1818" stroke-width="3.0"/>
<line x1="829.0" y1="1888.7" x2="843.7" y2="1888.7" stroke="#1c1818" stroke-width="3.0"/>
<line x1="331.0" y1="1851.2" x2="346.0" y2="1851.2" stroke="#1c1818" stroke-width="3.0"/>
<line x1="829.0" y1="1851.2" x2="843.7" y2="1851.2" stroke="#1c1818" stroke-width="3.0"/>
<line x1="331.0" y1="1813.7" x2="346.0" y2="1813.7" stroke="#1c1818" stroke-width="3.0"/>
<line x1="829.0" y1="1813.7" x2="843.7" y2="1813.7" stroke="#1c1818" stroke-width="3.0"/>
<line x1="318.5" y1="1776.2" x2="346.0" y2="1776.2" stroke="#1c1818" stroke-width="3.0"/>
<line x1="829.0" y1="1776.2" x2="857.0" y2="1776.2" stroke="#1c1818" stroke-width="3.0"/>
<line x1="351.5" y1="2902.0" x2="351.5" y2="2929.0" stroke="#1c1818" stroke-width="3.0"/>
<line x1="361.3" y1="2902.0" x2="361.3" y2="2915.8" stroke="#1c1818" stroke-width="3.0"/>
<line x1="371.1" y1="2902.0" x2="371.1" y2="2929.0" stroke="#1c1818" stroke-width="3.0"/>
<line x1="380.9" y1="2902.0" x2="380.9" y2="2915.8" stroke="#1c1818" stroke-width="3.0"/>
<line x1="390.8" y1="2902.0" x2="390.8" y2="2929.0" stroke="#1c1818" stroke-width="3.0"/>
<line x1="400.6" y1="2902.0" x2="400.6" y2="2915.8" stroke="#1c1818" stroke-width="3.0"/>
<line x1="410.4" y1="2902.0" x2="410.4" y2="2929.0" stroke="#1c1818" stroke-width="3.0"/>
<line x1="420.2" y1="2902.0" x2="420.2" y2="2915.8" stroke="#1c1818" stroke-width="3.0"/>
<line x1="430.0" y1="2902.0" x2="430.0" y2="2929.0" stroke="#1c1818" stroke-width="3.0"/>
<line x1="439.9" y1="2902.0" x2="439.9" y2="2915.8" stroke="#1c1818" stroke-width="3.0"/>
<line x1="449.7" y1="2902.0" x2="449.7" y2="2929.0" stroke="#1c1818" stroke-width="3.0"/>
<line x1="459.5" y1="2902.0" x2="459.5" y2="2915.8" stroke="#1c1818" stroke-width="3.0"/>
<line x1="469.3" y1="2902.0" x2="469.3" y2="2929.0" stroke="#1c1818" stroke-width="3.0"/>
<line x1="479.1" y1="2902.0" x2="479.1" y2="2915.8" stroke="#1c1818" stroke-width="3.0"/>
<line x1="489.0" y1="2902.0" x2="489.0" y2="2929.0" stroke="#1c1818" stroke-width="3.0"/>
<line x1="498.8" y1="2902.0" x2="498.8" y2="2915.8" stroke="#1c1818" stroke-width="3.0"/>
<line x1="508.6" y1="2902.0" x2="508.6" y2="2929.0" stroke="#1c1818" stroke-width="3.0"/>
<line x1="518.4" y1="2902.0" x2="518.4" y2="2915.8" stroke="#1c1818" stroke-width="3.0"/>
<line x1="528.2" y1="2902.0" x2="528.2" y2="2929.0" stroke="#1c1818" stroke-width="3.0"/>
<line x1="538.1" y1="2902.0" x2="538.1" y2="2915.8" stroke="#1c1818" stroke-width="3.0"/>
<line x1="547.9" y1="2902.0" x2="547.9" y2="2929.0" stroke="#1c1818" stroke-width="3.0"/>
<line x1="557.7" y1="2902.0" x2="557.7" y2="2915.8" stroke="#1c1818" stroke-width="3.0"/>
<line x1="567.5" y1="2902.0" x2="567.5" y2="2929.0" stroke="#1c1818" stroke-width="3.0"/>
<line x1="577.3" y1="2902.0" x2="577.3" y2="2915.8" stroke="#1c1818" stroke-width="3.0"/>
<line x1="587.2" y1="2902.0" x2="587.2" y2="2929.0" stroke="#1c1818" stroke-width="3.0"/>
<line x1="597.0" y1="2902.0" x2="597.0" y2="2915.8" stroke="#1c1818" stroke-width="3.0"/>
<line x1="606.8" y1="2902.0" x2="606.8" y2="2929.0" stroke="#1c1818" stroke-width="3.0"/>
<line x1="616.6" y1="2902.0" x2="616.6" y2="2915.8" stroke="#1c1818" stroke-width="3.0"/>
<line x1="626.4" y1="2902.0" x2="626.4" y2="2929.0" stroke="#1c1818" stroke-width="3.0"/>
<line x1="636.3" y1="2902.0" x2="636.3" y2="2915.8" stroke="#1c1818" stroke-width="3.0"/>
<line x1="646.1" y1="2902.0" x2="646.1" y2="2929.0" stroke="#1c1818" stroke-width="3.0"/>
<line x1="655.9" y1="2902.0" x2="655.9" y2="2915.8" stroke="#1c1818" stroke-width="3.0"/>
<line x1="665.7" y1="2902.0" x2="665.7" y2="2929.0" stroke="#1c1818" stroke-width="3.0"/>
<line x1="675.5" y1="2902.0" x2="675.5" y2="2915.8" stroke="#1c1818" stroke-width="3.0"/>
<line x1="685.4" y1="2902.0" x2="685.4" y2="2929.0" stroke="#1c1818" stroke-width="3.0"/>
<line x1="695.2" y1="2902.0" x2="695.2" y2="2915.8" stroke="#1c1818" stroke-width="3.0"/>
<line x1="705.0" y1="2902.0" x2="705.0" y2="2929.0" stroke="#1c1818" stroke-width="3.0"/>
<line x1="714.8" y1="2902.0" x2="714.8" y2="2915.8" stroke="#1c1818" stroke-width="3.0"/>
<line x1="724.6" y1="2902.0" x2="724.6" y2="2929.0" stroke="#1c1818" stroke-width="3.0"/>
<line x1="734.5" y1="2902.0" x2="734.5" y2="2915.8" stroke="#1c1818" stroke-width="3.0"/>
<line x1="744.3" y1="2902.0" x2="744.3" y2="2929.0" stroke="#1c1818" stroke-width="3.0"/>
<line x1="754.1" y1="2902.0" x2="754.1" y2="2915.8" stroke="#1c1818" stroke-width="3.0"/>
<line x1="763.9" y1="2902.0" x2="763.9" y2="2929.0" stroke="#1c1818" stroke-width="3.0"/>
<line x1="773.7" y1="2902.0" x2="773.7" y2="2915.8" stroke="#1c1818" stroke-width="3.0"/>
<line x1="783.6" y1="2902.0" x2="783.6" y2="2929.0" stroke="#1c1818" stroke-width="3.0"/>
<line x1="793.4" y1="2902.0" x2="793.4" y2="2915.8" stroke="#1c1818" stroke-width="3.0"/>
<line x1="803.2" y1="2902.0" x2="803.2" y2="2929.0" stroke="#1c1818" stroke-width="3.0"/>
<line x1="813.0" y1="2902.0" x2="813.0" y2="2915.8" stroke="#1c1818" stroke-width="3.0"/>
<line x1="822.8" y1="2902.0" x2="822.8" y2="2929.0" stroke="#1c1818" stroke-width="3.0"/>
<line x1="345.8" y1="1743.0" x2="345.8" y2="2902.5" stroke="#1c1818" stroke-width="3.0"/>
<line x1="828.6" y1="1743.0" x2="828.6" y2="2902.5" stroke="#1c1818" stroke-width="3.0"/>
<line x1="344.5" y1="1744.5" x2="830.0" y2="1744.5" stroke="#1c1818" stroke-width="3.0"/>
<line x1="318.0" y1="2901.1" x2="857.0" y2="2901.1" stroke="#1c1818" stroke-width="3.0"/>
<text x="241.0" y="1796.2" font-family="Liberation Sans" font-size="52.5" text-anchor="middle" fill="#1e1a1a">3000</text>
<text x="241.0" y="2171.2" font-family="Liberation Sans" font-size="52.5" text-anchor="middle" fill="#1e1a1a">2000</text>
<text x="241.0" y="2546.2" font-family="Liberation Sans" font-size="52.5" text-anchor="middle" fill="#1e1a1a">1000</text>
<text x="241.0" y="2921.2" font-family="Liberation Sans" font-size="52.5" text-anchor="middle" fill="#1e1a1a">0</text>
<text x="343.1" y="2988.2" font-family="Liberation Sans" font-size="51.5" text-anchor="middle" fill="#1e1a1a">-8</text>
<text x="421.2" y="2988.2" font-family="Liberation Sans" font-size="51.5" text-anchor="middle" fill="#1e1a1a">-4</text>
<text x="509.3" y="2988.2" font-family="Liberation Sans" font-size="51.5" text-anchor="middle" fill="#1e1a1a">0</text>
<text x="587.9" y="2988.2" font-family="Liberation Sans" font-size="51.5" text-anchor="middle" fill="#1e1a1a">4</text>
<text x="666.2" y="2988.2" font-family="Liberation Sans" font-size="51.5" text-anchor="middle" fill="#1e1a1a">8</text>
<text x="745.7" y="2988.2" font-family="Liberation Sans" font-size="51.5" text-anchor="middle" fill="#1e1a1a">12</text>
<text x="823.8" y="2988.2" font-family="Liberation Sans" font-size="51.5" text-anchor="middle" fill="#1e1a1a">16</text>
<text x="531.1" y="3069.8" font-family="Liberation Serif" font-size="62.0" text-anchor="middle" fill="#151212">X/µm</text>
<text transform="translate(132.6,2344.5) rotate(-90)" font-family="Liberation Serif" font-size="62" text-anchor="middle" fill="#151212">Z/µm</text>
<line x1="964.4" y1="2901.2" x2="991.0" y2="2901.2" stroke="#1c1818" stroke-width="3.0"/>
<line x1="1466.0" y1="2901.2" x2="1494.0" y2="2901.2" stroke="#1c1818" stroke-width="3.0"/>
<line x1="977.6" y1="2863.7" x2="991.0" y2="2863.7" stroke="#1c1818" stroke-width="3.0"/>
<line x1="1466.0" y1="2863.7" x2="1480.8" y2="2863.7" stroke="#1c1818" stroke-width="3.0"/>
<line x1="977.6" y1="2826.2" x2="991.0" y2="2826.2" stroke="#1c1818" stroke-width="3.0"/>
<line x1="1466.0" y1="2826.2" x2="1480.8" y2="2826.2" stroke="#1c1818" stroke-width="3.0"/>
<line x1="977.6" y1="2788.7" x2="991.0" y2="2788.7" stroke="#1c1818" stroke-width="3.0"/>
<line x1="1466.0" y1="2788.7" x2="1480.8" y2="2788.7" stroke="#1c1818" stroke-width="3.0"/>
<line x1="977.6" y1="2751.2" x2="991.0" y2="2751.2" stroke="#1c1818" stroke-width="3.0"/>
<line x1="1466.0" y1="2751.2" x2="1480.8" y2="2751.2" stroke="#1c1818" stroke-width="3.0"/>
<line x1="964.4" y1="2713.7" x2="991.0" y2="2713.7" stroke="#1c1818" stroke-width="3.0"/>
<line x1="1466.0" y1="2713.7" x2="1494.0" y2="2713.7" stroke="#1c1818" stroke-width="3.0"/>
<line x1="977.6" y1="2676.2" x2="991.0" y2="2676.2" stroke="#1c1818" stroke-width="3.0"/>
<line x1="1466.0" y1="2676.2" x2="1480.8" y2="2676.2" stroke="#1c1818" stroke-width="3.0"/>
<line x1="977.6" y1="2638.7" x2="991.0" y2="2638.7" stroke="#1c1818" stroke-width="3.0"/>
<line x1="1466.0" y1="2638.7" x2="1480.8" y2="2638.7" stroke="#1c1818" stroke-width="3.0"/>
<line x1="977.6" y1="2601.2" x2="991.0" y2="2601.2" stroke="#1c1818" stroke-width="3.0"/>
<line x1="1466.0" y1="2601.2" x2="1480.8" y2="2601.2" stroke="#1c1818" stroke-width="3.0"/>
<line x1="977.6" y1="2563.7" x2="991.0" y2="2563.7" stroke="#1c1818" stroke-width="3.0"/>
<line x1="1466.0" y1="2563.7" x2="1480.8" y2="2563.7" stroke="#1c1818" stroke-width="3.0"/>
<line x1="964.4" y1="2526.2" x2="991.0" y2="2526.2" stroke="#1c1818" stroke-width="3.0"/>
<line x1="1466.0" y1="2526.2" x2="1494.0" y2="2526.2" stroke="#1c1818" stroke-width="3.0"/>
<line x1="977.6" y1="2488.7" x2="991.0" y2="2488.7" stroke="#1c1818" stroke-width="3.0"/>
<line x1="1466.0" y1="2488.7" x2="1480.8" y2="2488.7" stroke="#1c1818" stroke-width="3.0"/>
<line x1="977.6" y1="2451.2" x2="991.0" y2="2451.2" stroke="#1c1818" stroke-width="3.0"/>
<line x1="1466.0" y1="2451.2" x2="1480.8" y2="2451.2" stroke="#1c1818" stroke-width="3.0"/>
<line x1="977.6" y1="2413.7" x2="991.0" y2="2413.7" stroke="#1c1818" stroke-width="3.0"/>
<line x1="1466.0" y1="2413.7" x2="1480.8" y2="2413.7" stroke="#1c1818" stroke-width="3.0"/>
<line x1="977.6" y1="2376.2" x2="991.0" y2="2376.2" stroke="#1c1818" stroke-width="3.0"/>
<line x1="1466.0" y1="2376.2" x2="1480.8" y2="2376.2" stroke="#1c1818" stroke-width="3.0"/>
<line x1="964.4" y1="2338.7" x2="991.0" y2="2338.7" stroke="#1c1818" stroke-width="3.0"/>
<line x1="1466.0" y1="2338.7" x2="1494.0" y2="2338.7" stroke="#1c1818" stroke-width="3.0"/>
<line x1="977.6" y1="2301.2" x2="991.0" y2="2301.2" stroke="#1c1818" stroke-width="3.0"/>
<line x1="1466.0" y1="2301.2" x2="1480.8" y2="2301.2" stroke="#1c1818" stroke-width="3.0"/>
<line x1="977.6" y1="2263.7" x2="991.0" y2="2263.7" stroke="#1c1818" stroke-width="3.0"/>
<line x1="1466.0" y1="2263.7" x2="1480.8" y2="2263.7" stroke="#1c1818" stroke-width="3.0"/>
<line x1="977.6" y1="2226.2" x2="991.0" y2="2226.2" stroke="#1c1818" stroke-width="3.0"/>
<line x1="1466.0" y1="2226.2" x2="1480.8" y2="2226.2" stroke="#1c1818" stroke-width="3.0"/>
<line x1="977.6" y1="2188.7" x2="991.0" y2="2188.7" stroke="#1c1818" stroke-width="3.0"/>
<line x1="1466.0" y1="2188.7" x2="1480.8" y2="2188.7" stroke="#1c1818" stroke-width="3.0"/>
<line x1="964.4" y1="2151.2" x2="991.0" y2="2151.2" stroke="#1c1818" stroke-width="3.0"/>
<line x1="1466.0" y1="2151.2" x2="1494.0" y2="2151.2" stroke="#1c1818" stroke-width="3.0"/>
<line x1="977.6" y1="2113.7" x2="991.0" y2="2113.7" stroke="#1c1818" stroke-width="3.0"/>
<line x1="1466.0" y1="2113.7" x2="1480.8" y2="2113.7" stroke="#1c1818" stroke-width="3.0"/>
<line x1="977.6" y1="2076.2" x2="991.0" y2="2076.2" stroke="#1c1818" stroke-width="3.0"/>
<line x1="1466.0" y1="2076.2" x2="1480.8" y2="2076.2" stroke="#1c1818" stroke-width="3.0"/>
<line x1="977.6" y1="2038.7" x2="991.0" y2="2038.7" stroke="#1c1818" stroke-width="3.0"/>
<line x1="1466.0" y1="2038.7" x2="1480.8" y2="2038.7" stroke="#1c1818" stroke-width="3.0"/>
<line x1="977.6" y1="2001.2" x2="991.0" y2="2001.2" stroke="#1c1818" stroke-width="3.0"/>
<line x1="1466.0" y1="2001.2" x2="1480.8" y2="2001.2" stroke="#1c1818" stroke-width="3.0"/>
<line x1="964.4" y1="1963.7" x2="991.0" y2="1963.7" stroke="#1c1818" stroke-width="3.0"/>
<line x1="1466.0" y1="1963.7" x2="1494.0" y2="1963.7" stroke="#1c1818" stroke-width="3.0"/>
<line x1="977.6" y1="1926.2" x2="991.0" y2="1926.2" stroke="#1c1818" stroke-width="3.0"/>
<line x1="1466.0" y1="1926.2" x2="1480.8" y2="1926.2" stroke="#1c1818" stroke-width="3.0"/>
<line x1="977.6" y1="1888.7" x2="991.0" y2="1888.7" stroke="#1c1818" stroke-width="3.0"/>
<line x1="1466.0" y1="1888.7" x2="1480.8" y2="1888.7" stroke="#1c1818" stroke-width="3.0"/>
<line x1="977.6" y1="1851.2" x2="991.0" y2="1851.2" stroke="#1c1818" stroke-width="3.0"/>
<line x1="1466.0" y1="1851.2" x2="1480.8" y2="1851.2" stroke="#1c1818" stroke-width="3.0"/>
<line x1="977.6" y1="1813.7" x2="991.0" y2="1813.7" stroke="#1c1818" stroke-width="3.0"/>
<line x1="1466.0" y1="1813.7" x2="1480.8" y2="1813.7" stroke="#1c1818" stroke-width="3.0"/>
<line x1="964.4" y1="1776.2" x2="991.0" y2="1776.2" stroke="#1c1818" stroke-width="3.0"/>
<line x1="1466.0" y1="1776.2" x2="1494.0" y2="1776.2" stroke="#1c1818" stroke-width="3.0"/>
<line x1="991.4" y1="2902.0" x2="991.4" y2="2928.5" stroke="#1c1818" stroke-width="3.0"/>
<line x1="1015.1" y1="2902.0" x2="1015.1" y2="2916.2" stroke="#1c1818" stroke-width="3.0"/>
<line x1="1038.8" y1="2902.0" x2="1038.8" y2="2928.5" stroke="#1c1818" stroke-width="3.0"/>
<line x1="1062.5" y1="2902.0" x2="1062.5" y2="2916.2" stroke="#1c1818" stroke-width="3.0"/>
<line x1="1086.2" y1="2902.0" x2="1086.2" y2="2928.5" stroke="#1c1818" stroke-width="3.0"/>
<line x1="1109.9" y1="2902.0" x2="1109.9" y2="2916.2" stroke="#1c1818" stroke-width="3.0"/>
<line x1="1133.6" y1="2902.0" x2="1133.6" y2="2928.5" stroke="#1c1818" stroke-width="3.0"/>
<line x1="1157.3" y1="2902.0" x2="1157.3" y2="2916.2" stroke="#1c1818" stroke-width="3.0"/>
<line x1="1181.0" y1="2902.0" x2="1181.0" y2="2928.5" stroke="#1c1818" stroke-width="3.0"/>
<line x1="1204.7" y1="2902.0" x2="1204.7" y2="2916.2" stroke="#1c1818" stroke-width="3.0"/>
<line x1="1228.5" y1="2902.0" x2="1228.5" y2="2928.5" stroke="#1c1818" stroke-width="3.0"/>
<line x1="1252.2" y1="2902.0" x2="1252.2" y2="2916.2" stroke="#1c1818" stroke-width="3.0"/>
<line x1="1275.9" y1="2902.0" x2="1275.9" y2="2928.5" stroke="#1c1818" stroke-width="3.0"/>
<line x1="1299.6" y1="2902.0" x2="1299.6" y2="2916.2" stroke="#1c1818" stroke-width="3.0"/>
<line x1="1323.3" y1="2902.0" x2="1323.3" y2="2928.5" stroke="#1c1818" stroke-width="3.0"/>
<line x1="1347.0" y1="2902.0" x2="1347.0" y2="2916.2" stroke="#1c1818" stroke-width="3.0"/>
<line x1="1370.7" y1="2902.0" x2="1370.7" y2="2928.5" stroke="#1c1818" stroke-width="3.0"/>
<line x1="1394.4" y1="2902.0" x2="1394.4" y2="2916.2" stroke="#1c1818" stroke-width="3.0"/>
<line x1="1418.1" y1="2902.0" x2="1418.1" y2="2928.5" stroke="#1c1818" stroke-width="3.0"/>
<line x1="1441.8" y1="2902.0" x2="1441.8" y2="2916.2" stroke="#1c1818" stroke-width="3.0"/>
<line x1="1465.5" y1="2902.0" x2="1465.5" y2="2928.5" stroke="#1c1818" stroke-width="3.0"/>
<line x1="991.4" y1="1743.0" x2="991.4" y2="2902.5" stroke="#1c1818" stroke-width="3.0"/>
<line x1="1465.5" y1="1743.0" x2="1465.5" y2="2902.5" stroke="#1c1818" stroke-width="3.0"/>
<line x1="990.0" y1="1744.3" x2="1467.0" y2="1744.3" stroke="#1c1818" stroke-width="3.0"/>
<line x1="963.8" y1="2901.1" x2="1494.3" y2="2901.1" stroke="#1c1818" stroke-width="3.0"/>
<text x="999.4" y="2988.4" font-family="Liberation Sans" font-size="52.5" text-anchor="middle" fill="#1e1a1a">1.0</text>
<text x="1234.6" y="2988.4" font-family="Liberation Sans" font-size="52.5" text-anchor="middle" fill="#1e1a1a">0.5</text>
<text x="1472.5" y="2988.4" font-family="Liberation Sans" font-size="52.5" text-anchor="middle" fill="#1e1a1a">0.0</text>
<text x="1236.7" y="3070.6" font-family="Liberation Serif" font-size="62.8" text-anchor="middle" fill="#151212">Monitor value/a.u.</text>
<polyline points="991.4,2901.2 991.4,2895.4 991.4,2889.6 991.4,2883.9 991.4,2878.1 991.4,2872.3 991.4,2866.5 991.4,2860.8 991.4,2855.0 991.5,2849.2 991.5,2843.4 991.5,2837.7 991.5,2831.9 991.5,2826.1 991.5,2820.3 991.6,2814.6 991.6,2808.8 991.6,2803.0 991.6,2797.2 991.7,2791.5 991.7,2785.7 991.7,2779.9 991.8,2774.1 991.8,2768.4 991.8,2762.6 991.9,2756.8 991.9,2751.0 991.9,2745.3 992.0,2739.5 992.0,2733.7 992.1,2727.9 992.1,2722.2 992.1,2716.4 992.2,2710.6 992.2,2704.8 992.3,2699.0 992.3,2693.3 992.4,2687.5 992.5,2681.7 992.5,2675.9 992.6,2670.2 992.6,2664.4 992.7,2658.6 992.8,2652.8 992.8,2647.1 992.9,2641.3 992.9,2635.5 993.0,2629.7 993.1,2624.0 993.2,2618.2 993.2,2612.4 993.3,2606.6 993.4,2600.9 993.5,2595.1 993.5,2589.3 993.6,2583.5 993.7,2577.8 993.8,2572.0 993.9,2566.2 993.9,2560.4 994.0,2554.7 994.1,2548.9 994.2,2543.1 994.3,2537.3 994.4,2531.6 994.5,2525.8 994.6,2520.0 994.7,2514.2 994.8,2508.4 994.9,2502.7 995.0,2496.9 995.1,2491.1 995.2,2485.3 995.3,2479.6 995.4,2473.8 995.5,2468.0 995.6,2462.2 995.7,2456.5 995.8,2450.7 996.0,2444.9 996.1,2439.1 996.2,2433.4 996.3,2427.6 996.4,2421.8 996.6,2416.0 996.7,2410.3 996.8,2404.5 996.9,2398.7 997.1,2392.9 997.2,2387.2 997.3,2381.4 997.5,2375.6 997.6,2369.8 997.7,2364.1 997.9,2358.3 998.0,2352.5 998.1,2346.7 998.3,2341.0 998.4,2335.2 998.6,2329.4 998.7,2323.6 998.9,2317.8 999.0,2312.1 999.2,2306.3 999.3,2300.5 999.5,2294.7 999.6,2289.0 999.8,2283.2 999.9,2277.4 1000.1,2271.6 1000.2,2265.9 1000.4,2260.1 1000.6,2254.3 1000.7,2248.5 1000.9,2242.8 1001.1,2237.0 1001.2,2231.2 1001.4,2225.4 1001.6,2219.7 1001.8,2213.9 1001.9,2208.1 1002.1,2202.3 1002.3,2196.6 1002.5,2190.8 1002.6,2185.0 1002.8,2179.2 1003.0,2173.5 1003.2,2167.7 1003.4,2161.9 1003.6,2156.1 1003.8,2150.4 1003.9,2144.6 1004.1,2138.8 1004.3,2133.0 1004.5,2127.2 1004.7,2121.5 1004.9,2115.7 1005.1,2109.9 1005.3,2104.1 1005.5,2098.4 1005.7,2092.6 1005.9,2086.8 1006.1,2081.0 1006.3,2075.3 1006.6,2069.5 1006.8,2063.7 1007.0,2057.9 1007.2,2052.2 1007.4,2046.4 1007.6,2040.6 1007.8,2034.8 1008.1,2029.1 1008.3,2023.3 1008.5,2017.5 1008.7,2011.7 1009.0,2006.0 1009.2,2000.2 1009.4,1994.4 1009.6,1988.6 1009.9,1982.9 1010.1,1977.1 1010.3,1971.3 1010.6,1965.5 1010.8,1959.8 1011.1,1954.0 1011.3,1948.2 1011.5,1942.4 1011.8,1936.6 1012.0,1930.9 1012.3,1925.1 1012.5,1919.3 1012.8,1913.5 1013.0,1907.8 1013.3,1902.0 1013.5,1896.2 1013.8,1890.4 1014.0,1884.7 1014.3,1878.9 1014.6,1873.1 1014.8,1867.3 1015.1,1861.6 1015.3,1855.8 1015.6,1850.0 1015.9,1844.2 1016.1,1838.5 1016.4,1832.7 1016.7,1826.9 1017.0,1821.1 1017.2,1815.4 1017.5,1809.6 1017.8,1803.8 1018.1,1798.0 1018.3,1792.3 1018.6,1786.5 1018.9,1780.7 1019.2,1774.9 1019.5,1769.2 1019.8,1763.4 1020.1,1757.6 1020.3,1751.8" fill="none" stroke="#4d52a0" stroke-width="2.2"/>
<polyline points="1465.5,2901.2 1465.5,2895.4 1465.5,2889.6 1465.5,2883.9 1465.5,2878.1 1465.5,2872.3 1465.5,2866.5 1465.5,2860.8 1465.5,2855.0 1465.4,2849.2 1465.4,2843.4 1465.4,2837.7 1465.4,2831.9 1465.4,2826.1 1465.4,2820.3 1465.3,2814.6 1465.3,2808.8 1465.3,2803.0 1465.3,2797.2 1465.2,2791.5 1465.2,2785.7 1465.2,2779.9 1465.1,2774.1 1465.1,2768.4 1465.1,2762.6 1465.0,2756.8 1465.0,2751.0 1465.0,2745.3 1464.9,2739.5 1464.9,2733.7 1464.8,2727.9 1464.8,2722.2 1464.8,2716.4 1464.7,2710.6 1464.7,2704.8 1464.6,2699.0 1464.6,2693.3 1464.5,2687.5 1464.4,2681.7 1464.4,2675.9 1464.3,2670.2 1464.3,2664.4 1464.2,2658.6 1464.1,2652.8 1464.1,2647.1 1464.0,2641.3 1464.0,2635.5 1463.9,2629.7 1463.8,2624.0 1463.7,2618.2 1463.7,2612.4 1463.6,2606.6 1463.5,2600.9 1463.4,2595.1 1463.4,2589.3 1463.3,2583.5 1463.2,2577.8 1463.1,2572.0 1463.0,2566.2 1463.0,2560.4 1462.9,2554.7 1462.8,2548.9 1462.7,2543.1 1462.6,2537.3 1462.5,2531.6 1462.4,2525.8 1462.3,2520.0 1462.2,2514.2 1462.1,2508.4 1462.0,2502.7 1461.9,2496.9 1461.8,2491.1 1461.7,2485.3 1461.6,2479.6 1461.5,2473.8 1461.4,2468.0 1461.3,2462.2 1461.2,2456.5 1461.1,2450.7 1460.9,2444.9 1460.8,2439.1 1460.7,2433.4 1460.6,2427.6 1460.5,2421.8 1460.3,2416.0 1460.2,2410.3 1460.1,2404.5 1460.0,2398.7 1459.8,2392.9 1459.7,2387.2 1459.6,2381.4 1459.4,2375.6 1459.3,2369.8 1459.2,2364.1 1459.0,2358.3 1458.9,2352.5 1458.8,2346.7 1458.6,2341.0 1458.5,2335.2 1458.3,2329.4 1458.2,2323.6 1458.0,2317.8 1457.9,2312.1 1457.7,2306.3 1457.6,2300.5 1457.4,2294.7 1457.3,2289.0 1457.1,2283.2 1457.0,2277.4 1456.8,2271.6 1456.7,2265.9 1456.5,2260.1 1456.3,2254.3 1456.2,2248.5 1456.0,2242.8 1455.8,2237.0 1455.7,2231.2 1455.5,2225.4 1455.3,2219.7 1455.1,2213.9 1455.0,2208.1 1454.8,2202.3 1454.6,2196.6 1454.4,2190.8 1454.3,2185.0 1454.1,2179.2 1453.9,2173.5 1453.7,2167.7 1453.5,2161.9 1453.3,2156.1 1453.1,2150.4 1453.0,2144.6 1452.8,2138.8 1452.6,2133.0 1452.4,2127.2 1452.2,2121.5 1452.0,2115.7 1451.8,2109.9 1451.6,2104.1 1451.4,2098.4 1451.2,2092.6 1451.0,2086.8 1450.8,2081.0 1450.6,2075.3 1450.3,2069.5 1450.1,2063.7 1449.9,2057.9 1449.7,2052.2 1449.5,2046.4 1449.3,2040.6 1449.1,2034.8 1448.8,2029.1 1448.6,2023.3 1448.4,2017.5 1448.2,2011.7 1447.9,2006.0 1447.7,2000.2 1447.5,1994.4 1447.3,1988.6 1447.0,1982.9 1446.8,1977.1 1446.6,1971.3 1446.3,1965.5 1446.1,1959.8 1445.8,1954.0 1445.6,1948.2 1445.4,1942.4 1445.1,1936.6 1444.9,1930.9 1444.6,1925.1 1444.4,1919.3 1444.1,1913.5 1443.9,1907.8 1443.6,1902.0 1443.4,1896.2 1443.1,1890.4 1442.9,1884.7 1442.6,1878.9 1442.3,1873.1 1442.1,1867.3 1441.8,1861.6 1441.6,1855.8 1441.3,1850.0 1441.0,1844.2 1440.8,1838.5 1440.5,1832.7 1440.2,1826.9 1439.9,1821.1 1439.7,1815.4 1439.4,1809.6 1439.1,1803.8 1438.8,1798.0 1438.6,1792.3 1438.3,1786.5 1438.0,1780.7 1437.7,1774.9 1437.4,1769.2 1437.1,1763.4 1436.8,1757.6 1436.6,1751.8" fill="none" stroke="#78bb4c" stroke-width="2.2"/>
<text x="1509.2" y="1777.4" font-family="Liberation Sans" font-size="43.0" text-anchor="start" fill="#1e1a1a">Pathway,</text>
<text x="1509.2" y="1841.7" font-family="Liberation Sans" font-size="43.0" text-anchor="start" fill="#1e1a1a">Monitor:</text>
<text x="1510.0" y="1998.7" font-family="Liberation Sans" font-size="43.0" text-anchor="start" fill="#1e1a1a">1, Launch</text>
<text x="1508.4" y="2148.3" font-family="Liberation Sans" font-size="43.0" text-anchor="start" fill="#1e1a1a">2, Launch</text>
<line x1="1540.4" y1="2040.4" x2="1699.3" y2="2040.4" stroke="#4f559f" stroke-width="3.0"/>
<line x1="1540.4" y1="2189.8" x2="1699.3" y2="2189.8" stroke="#78b85a" stroke-width="3.0"/>
<line x1="1837.4" y1="1895.0" x2="1837.4" y2="2899.0" stroke="#1c1818" stroke-width="2.5"/>
<line x1="1809.7" y1="1896.0" x2="1838.5" y2="1896.0" stroke="#1c1818" stroke-width="3.0"/>
<line x1="1823.7" y1="1996.2" x2="1838.5" y2="1996.2" stroke="#1c1818" stroke-width="3.0"/>
<line x1="1823.7" y1="2096.4" x2="1838.5" y2="2096.4" stroke="#1c1818" stroke-width="3.0"/>
<line x1="1823.7" y1="2196.6" x2="1838.5" y2="2196.6" stroke="#1c1818" stroke-width="3.0"/>
<line x1="1823.7" y1="2296.8" x2="1838.5" y2="2296.8" stroke="#1c1818" stroke-width="3.0"/>
<line x1="1809.7" y1="2397.0" x2="1838.5" y2="2397.0" stroke="#1c1818" stroke-width="3.0"/>
<line x1="1823.7" y1="2497.2" x2="1838.5" y2="2497.2" stroke="#1c1818" stroke-width="3.0"/>
<line x1="1823.7" y1="2597.4" x2="1838.5" y2="2597.4" stroke="#1c1818" stroke-width="3.0"/>
<line x1="1823.7" y1="2697.6" x2="1838.5" y2="2697.6" stroke="#1c1818" stroke-width="3.0"/>
<line x1="1823.7" y1="2797.8" x2="1838.5" y2="2797.8" stroke="#1c1818" stroke-width="3.0"/>
<line x1="1809.7" y1="2898.0" x2="1838.5" y2="2898.0" stroke="#1c1818" stroke-width="3.0"/>
<text x="1853.1" y="1875.6" font-family="Liberation Sans" font-size="53.0" text-anchor="middle" fill="#1e1a1a">1.0</text>
<text x="1851.7" y="2957.7" font-family="Liberation Sans" font-size="53.0" text-anchor="middle" fill="#1e1a1a">0.0</text>
<text x="964.6" y="3193.2" font-family="Liberation Serif" font-size="74" fill="#151212">b</text>
<path d="M955.3,3132.6 C930.0,3150.9 930.0,3182.1 955.3,3200.4 C935.7,3182.1 935.7,3150.9 955.3,3132.6 Z" fill="#151212" stroke="#151212" stroke-width="0.9"/>
<path d="M1011.6,3132.6 C1036.8,3150.9 1036.8,3182.1 1011.6,3200.4 C1030.7,3182.1 1030.7,3150.9 1011.6,3132.6 Z" fill="#151212" stroke="#151212" stroke-width="0.9"/>
</svg>
</body></html>
